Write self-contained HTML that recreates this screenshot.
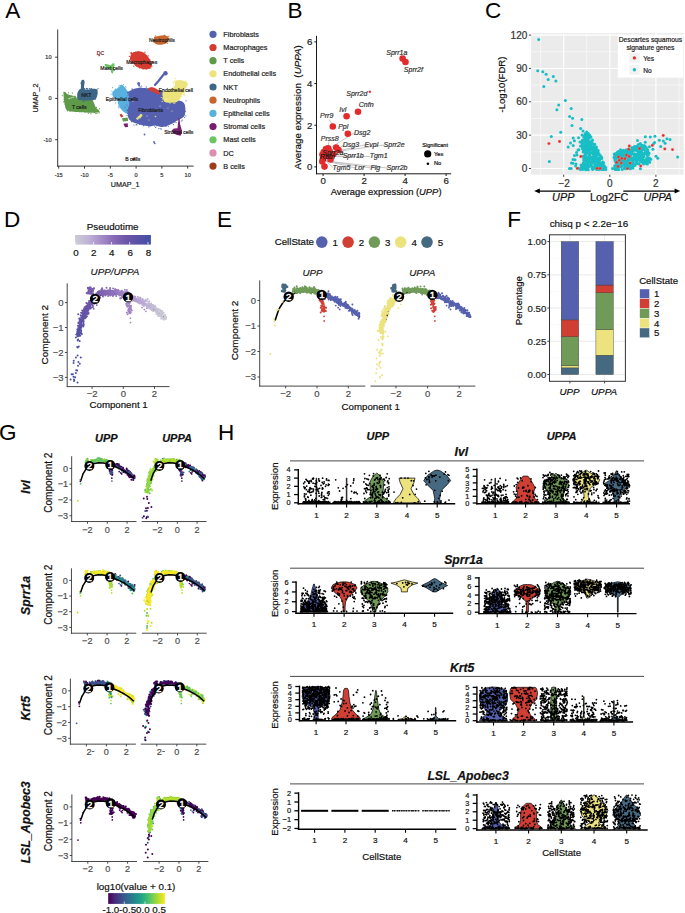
<!DOCTYPE html>
<html><head><meta charset="utf-8"><style>
html,body{margin:0;padding:0;background:#fff;overflow:hidden;width:685px;height:913px;}
svg{display:block;}
text{font-family:"Liberation Sans",sans-serif;}
</style></head><body>
<svg width="685" height="913" viewBox="0 0 685 913">
<rect width="685" height="913" fill="#fff"/>
<text x="5.30" y="17.70" font-size="22.5" text-anchor="start" fill="#000">A</text>
<text x="287.60" y="17.70" font-size="22.5" text-anchor="start" fill="#000">B</text>
<text x="485.00" y="17.70" font-size="22.5" text-anchor="start" fill="#000">C</text>
<text x="4.00" y="227.00" font-size="22.5" text-anchor="start" fill="#000">D</text>
<text x="216.90" y="226.80" font-size="22.5" text-anchor="start" fill="#000">E</text>
<text x="507.20" y="226.90" font-size="22.5" text-anchor="start" fill="#000">F</text>
<text x="-1.00" y="439.50" font-size="22.5" text-anchor="start" fill="#000">G</text>
<text x="218.00" y="439.50" font-size="22.5" text-anchor="start" fill="#000">H</text>
<path d="M112.2,93.0 C112.4,91.8 113.5,90.9 114.6,90.0 C115.6,89.1 117.5,88.6 118.5,87.8 C119.5,87.0 120.0,85.3 120.8,85.0 C121.6,84.7 122.4,84.9 123.4,85.8 C124.4,86.7 126.0,89.1 127.0,90.4 C128.0,91.7 128.7,91.9 129.2,93.4 C129.7,94.9 129.7,97.3 129.9,99.2 C130.2,101.1 130.6,103.1 130.7,105.0 C130.8,106.9 130.7,109.0 130.2,110.4 C129.7,111.8 128.4,112.9 127.5,113.3 C126.5,113.7 125.7,113.4 124.5,112.6 C123.3,111.8 121.5,109.9 120.5,108.5 C119.5,107.1 118.8,105.5 118.2,104.0 C117.7,102.5 118.0,100.3 117.2,99.2 C116.4,98.1 114.3,98.2 113.5,97.2 C112.7,96.2 112.0,94.2 112.2,93.0Z" fill="#58b0de"/>
<path d="M118.8 106.2h0M126.1 90.7h0M119.2 85.3h0M130.4 95.5h0M127.9 92.0h0M126.8 111.2h0M118.7 87.1h0M111.1 94.2h0M121.1 85.4h0M116.7 92.3h0M125.7 93.8h0M128.9 92.9h0M112.0 91.2h0M118.8 102.5h0M118.8 106.9h0M115.5 89.2h0M123.6 84.5h0M125.6 86.8h0M125.1 88.9h0M125.9 87.1h0M129.1 100.0h0M132.5 105.9h0M128.3 92.4h0M115.0 90.1h0M120.3 105.2h0M130.9 92.0h0M119.1 107.8h0M129.4 105.6h0M127.6 111.2h0M126.9 102.8h0M116.1 98.1h0M129.5 111.3h0M126.6 93.0h0M117.6 98.6h0M115.7 102.9h0M116.0 99.6h0M112.6 87.6h0M128.6 96.4h0M130.2 105.7h0M131.5 100.0h0" stroke="#58b0de" stroke-width="1.20" stroke-linecap="round" fill="none"/>
<path d="M128.5,91.9 C129.3,91.2 131.8,89.7 133.6,89.0 C135.4,88.3 137.2,87.9 139.4,87.8 C141.6,87.7 144.8,88.1 146.7,88.2 C148.6,88.3 149.3,88.0 151.0,88.2 C152.7,88.4 155.0,88.9 157.0,89.5 C159.0,90.1 161.3,91.1 162.8,92.0 C164.3,92.9 164.6,94.0 166.0,95.0 C167.4,96.0 169.2,97.2 171.0,98.0 C172.8,98.8 175.2,99.4 177.0,100.0 C178.8,100.6 180.8,100.8 182.0,101.5 C183.2,102.2 183.9,102.7 184.5,104.0 C185.1,105.3 185.4,107.5 185.4,109.4 C185.4,111.3 185.3,113.8 184.7,115.3 C184.1,116.8 183.0,117.3 181.8,118.2 C180.6,119.1 179.1,119.4 177.4,120.4 C175.7,121.4 173.4,123.0 171.5,124.0 C169.6,125.0 167.4,125.7 165.7,126.2 C164.0,126.7 163.0,127.1 161.3,127.0 C159.6,126.9 157.2,125.6 155.5,125.5 C153.8,125.4 152.9,126.2 151.0,126.2 C149.1,126.2 146.0,125.9 143.8,125.5 C141.6,125.1 139.9,124.6 138.0,124.0 C136.1,123.4 133.7,122.8 132.1,121.8 C130.5,120.8 129.2,120.0 128.5,118.2 C127.8,116.4 127.6,113.1 127.7,110.9 C127.8,108.7 128.9,107.0 129.2,105.0 C129.4,103.0 129.3,101.1 129.2,99.2 C129.1,97.3 128.6,94.6 128.5,93.4 C128.4,92.2 127.7,92.6 128.5,91.9Z" fill="#5561b0"/>
<path d="M129.0 91.6h0M186.0 100.8h0M166.1 126.1h0M127.5 119.6h0M144.9 124.0h0M127.9 110.6h0M125.0 107.4h0M185.8 115.8h0M133.9 125.0h0M128.0 95.1h0M182.5 116.8h0M128.2 92.9h0M136.9 124.7h0M156.1 124.9h0M171.8 120.2h0M143.7 125.7h0M181.4 121.0h0M141.7 86.1h0M165.7 126.5h0M171.6 98.1h0M132.1 88.8h0M175.8 101.0h0M184.6 117.5h0M171.5 99.9h0M165.9 95.5h0M129.2 101.2h0M156.3 89.8h0M127.1 115.4h0M127.0 105.1h0M155.2 122.7h0M129.0 108.0h0M146.3 86.9h0M131.8 90.0h0M129.0 107.7h0M130.8 105.5h0M163.4 89.6h0M183.2 104.4h0M131.9 93.8h0M127.4 92.6h0M176.1 122.5h0M153.6 124.3h0M131.5 106.6h0M155.7 127.4h0M127.5 113.3h0M167.5 124.7h0M182.3 120.1h0M162.0 91.7h0M135.1 92.0h0M149.9 125.9h0M158.8 128.5h0M140.1 86.9h0M140.8 89.4h0M173.4 124.6h0M167.5 97.4h0M149.3 90.6h0M154.5 88.3h0M141.1 123.4h0M166.5 125.6h0M168.1 95.2h0M168.3 126.5h0M160.3 128.8h0M132.2 89.6h0M138.6 91.0h0M141.3 124.6h0M131.5 121.7h0M136.1 124.9h0M130.7 91.3h0M128.2 97.9h0M185.5 111.3h0M129.7 93.3h0M126.8 110.1h0M139.9 121.3h0M183.7 106.2h0M161.5 129.1h0M127.4 110.1h0M134.6 89.3h0M127.8 92.3h0M143.5 125.1h0M145.3 88.3h0M174.7 121.9h0M182.4 115.9h0M166.3 96.2h0M149.9 88.8h0M154.4 126.1h0M156.9 125.8h0M148.8 126.9h0M139.7 124.4h0M128.8 110.9h0M143.8 89.6h0M179.5 102.1h0" stroke="#5561b0" stroke-width="1.20" stroke-linecap="round" fill="none"/>
<path d="M155,85 L158.5,81 L162,76.5 L164.5,73.5" fill="none" stroke="#5561b0" stroke-width="2.2" stroke-linecap="round"/>
<circle cx="165.50" cy="73.20" r="2.20" fill="#5561b0"/>
<circle cx="138.60" cy="83.50" r="1.50" fill="#5561b0"/>
<circle cx="139.00" cy="85.50" r="1.00" fill="#5561b0"/>
<path d="M183,106 L183.5,103" fill="none" stroke="#5561b0" stroke-width="1.2"/>
<circle cx="144.50" cy="134.50" r="0.90" fill="#5561b0"/>
<circle cx="154.00" cy="142.00" r="0.90" fill="#5561b0"/>
<circle cx="154.70" cy="143.30" r="0.90" fill="#5561b0"/>
<path d="M162.8,91.9 C163.8,90.9 166.7,91.4 168.6,90.4 C170.5,89.4 173.4,87.7 174.5,86.1 C175.6,84.5 174.3,82.0 175.2,81.0 C176.0,80.0 177.8,80.1 179.6,80.2 C181.4,80.3 184.8,81.0 186.1,81.7 C187.4,82.4 187.7,83.4 187.6,84.6 C187.5,85.8 185.9,87.8 185.4,89.0 C184.9,90.2 185.3,90.9 184.7,91.9 C184.1,92.9 182.7,93.6 181.8,94.8 C181.0,96.0 180.6,98.0 179.6,99.2 C178.6,100.4 177.5,101.5 175.9,102.1 C174.3,102.7 172.1,102.9 170.1,102.8 C168.1,102.7 165.4,102.5 164.2,101.4 C163.0,100.3 163.0,97.9 162.8,96.3 C162.6,94.7 161.8,92.9 162.8,91.9Z" fill="#ede37b"/>
<path d="M185.9 81.1h0M162.2 101.4h0M169.1 89.1h0M174.9 102.9h0M173.8 103.2h0M174.3 81.0h0M162.6 98.9h0M184.4 93.7h0M177.8 81.9h0M180.0 96.3h0M184.7 87.5h0M165.3 101.5h0M186.8 85.1h0M179.9 80.9h0M175.4 78.7h0M174.7 81.1h0M184.2 95.7h0M180.7 80.8h0M182.0 80.3h0M173.1 88.6h0M177.7 99.8h0M176.2 101.4h0M172.8 82.2h0M163.0 97.6h0M181.3 96.6h0M183.2 91.8h0M184.7 85.3h0M175.0 102.1h0M163.1 95.6h0M173.5 83.1h0M181.7 94.9h0M163.5 95.2h0M170.0 103.1h0M161.3 97.5h0M180.9 94.4h0M163.4 94.6h0M165.3 94.7h0M176.9 101.2h0M184.1 94.6h0M183.6 94.5h0" stroke="#ede37b" stroke-width="1.20" stroke-linecap="round" fill="none"/>
<circle cx="139.50" cy="117.00" r="1.60" fill="#ede37b"/>
<circle cx="141.00" cy="115.50" r="1.40" fill="#ede37b"/>
<circle cx="137.50" cy="118.50" r="1.20" fill="#ede37b"/>
<circle cx="155.50" cy="116.50" r="0.80" fill="#ede37b"/>
<circle cx="149.00" cy="120.00" r="0.60" fill="#ede37b"/>
<circle cx="158.00" cy="111.00" r="0.60" fill="#ede37b"/>
<circle cx="172.00" cy="111.00" r="0.60" fill="#ede37b"/>
<circle cx="168.00" cy="108.00" r="0.50" fill="#ede37b"/>
<circle cx="133.00" cy="101.00" r="0.60" fill="#ffffff"/>
<circle cx="160.00" cy="106.00" r="0.50" fill="#ffffff"/>
<circle cx="166.00" cy="99.00" r="0.60" fill="#ffffff"/>
<circle cx="147.00" cy="116.00" r="0.50" fill="#ffffff"/>
<polygon points="148.0,88.0 152.0,87.0 156.0,88.5 159.5,91.5 160.5,94.5 157.0,94.0 153.0,92.0 149.0,90.5" fill="#d13e33"/>
<path d="M130.9,55.0 C131.5,53.9 132.4,52.7 133.8,52.1 C135.2,51.5 137.9,51.3 139.6,51.4 C141.3,51.5 142.5,51.8 144.0,52.8 C145.5,53.8 147.2,55.6 148.4,57.2 C149.6,58.8 150.8,60.7 151.3,62.3 C151.8,63.9 151.8,65.6 151.3,66.7 C150.8,67.8 149.9,68.5 148.4,68.9 C146.9,69.3 144.6,69.3 142.6,68.9 C140.6,68.5 138.4,67.8 136.7,66.7 C135.0,65.6 133.4,63.6 132.3,62.3 C131.2,61.0 130.3,59.9 130.1,58.7 C129.9,57.5 130.3,56.1 130.9,55.0Z" fill="#d63b30"/>
<path d="M137.5 53.3h0M148.0 55.7h0M147.9 56.2h0M138.7 51.3h0M129.3 60.3h0M131.8 53.4h0M131.2 52.4h0M146.3 68.9h0M136.8 65.6h0M145.0 52.1h0M152.7 61.7h0M130.7 53.0h0M133.8 66.2h0M139.6 53.5h0M131.1 54.0h0M151.6 65.6h0M130.6 61.3h0M133.5 53.4h0M136.0 65.4h0M133.2 55.1h0M131.8 57.3h0M148.3 59.1h0M149.8 59.6h0M145.6 67.8h0M151.9 66.7h0M129.3 56.4h0M136.7 65.8h0M137.7 52.1h0M149.4 68.5h0M136.0 51.8h0M150.9 68.1h0M146.1 55.8h0M136.3 52.8h0M147.2 59.3h0M130.2 59.3h0M130.9 63.2h0M131.7 62.7h0M144.9 52.7h0M143.1 69.0h0M139.5 68.0h0" stroke="#d63b30" stroke-width="1.20" stroke-linecap="round" fill="none"/>
<path d="M153.4,40.5 C153.3,39.5 153.8,38.2 154.5,37.5 C155.2,36.8 156.3,36.5 157.5,36.2 C158.7,35.9 160.3,35.8 161.5,35.6 C162.7,35.4 163.6,35.1 164.5,35.2 C165.4,35.4 166.5,35.8 167.2,36.5 C167.9,37.2 168.5,38.5 168.6,39.5 C168.7,40.5 168.3,41.7 167.5,42.5 C166.7,43.3 165.0,43.8 163.5,44.2 C162.0,44.6 159.9,44.8 158.5,44.7 C157.1,44.6 155.8,44.2 155.0,43.5 C154.2,42.8 153.5,41.5 153.4,40.5Z" fill="#c8662f"/>
<path d="M155.1 37.2h0M156.3 37.1h0M168.3 38.6h0M155.7 35.8h0M153.1 39.9h0M163.8 35.9h0M154.5 37.4h0M164.8 35.2h0M153.5 40.6h0M168.1 37.2h0M154.8 39.1h0M154.8 37.8h0M167.3 43.5h0M167.5 36.8h0M153.9 41.8h0M153.9 40.0h0M168.9 36.1h0M168.2 38.5h0M166.8 37.0h0M169.8 38.2h0" stroke="#c8662f" stroke-width="1.20" stroke-linecap="round" fill="none"/>
<circle cx="99.20" cy="55.40" r="0.90" fill="#d04848"/>
<path d="M104.6,64.4 C104.8,63.8 107.0,64.2 108.0,64.4 C109.0,64.6 109.7,65.5 110.5,65.3 C111.3,65.1 111.9,63.6 112.6,63.4 C113.3,63.1 114.2,63.2 114.5,63.8 C114.8,64.4 114.3,66.0 114.2,67.0 C114.1,68.0 113.9,69.0 113.7,70.0 C113.5,71.0 113.2,72.8 112.8,73.3 C112.4,73.8 111.8,73.4 111.4,72.8 C111.0,72.2 111.1,70.6 110.4,69.8 C109.7,69.0 108.0,68.9 107.0,68.0 C106.0,67.1 104.4,65.0 104.6,64.4Z" fill="#6cc560"/>
<circle cx="114.30" cy="70.00" r="0.70" fill="#3a3ab0"/>
<path d="M63.8,91.5 C64.5,91.0 66.2,93.7 68.2,94.5 C70.2,95.3 73.9,95.9 75.5,96.6 C77.1,97.3 75.5,98.4 77.7,98.8 C79.9,99.2 86.0,98.4 88.6,98.8 C91.1,99.2 91.8,99.5 93.0,101.0 C94.2,102.5 94.8,105.9 95.9,107.6 C97.0,109.3 99.6,110.3 99.6,111.2 C99.6,112.1 97.7,112.5 95.9,112.7 C94.1,113.0 91.5,112.8 88.6,112.7 C85.7,112.6 81.6,112.2 78.4,112.0 C75.2,111.8 71.7,111.7 69.6,111.2 C67.5,110.7 66.8,110.3 66.0,109.0 C65.2,107.7 64.9,105.1 64.5,103.2 C64.1,101.3 63.9,99.4 63.8,97.4 C63.7,95.5 63.1,92.0 63.8,91.5Z" fill="#5e9a48"/>
<path d="M89.7 99.2h0M92.7 100.5h0M74.5 110.1h0M72.5 93.1h0M65.0 100.7h0M65.9 107.0h0M64.5 102.0h0M67.5 110.8h0M65.0 104.0h0M64.8 92.9h0M75.7 97.8h0M96.4 107.4h0M62.3 95.7h0M75.0 96.2h0M99.1 112.8h0M64.2 99.7h0M90.9 113.7h0M82.8 100.5h0M95.8 113.6h0M97.0 113.6h0M70.1 111.2h0M64.3 98.3h0M65.2 92.5h0M68.6 92.8h0M63.5 101.8h0M88.4 113.3h0M99.0 112.0h0M91.4 100.5h0M86.2 99.1h0M66.9 109.5h0M64.1 99.5h0M77.8 98.8h0M77.8 97.4h0M79.6 111.7h0M77.7 98.5h0M65.5 94.0h0M85.2 112.2h0M99.5 108.7h0M94.5 112.5h0M86.0 98.5h0" stroke="#5e9a48" stroke-width="1.20" stroke-linecap="round" fill="none"/>
<path d="M77.7,99.0 C77.0,97.8 77.2,94.5 77.5,93.0 C77.8,91.5 78.8,90.5 79.3,89.8 C79.8,89.1 80.5,89.6 80.8,88.6 C81.1,87.5 80.9,84.9 81.0,83.5 C81.1,82.1 81.2,80.8 81.6,80.2 C82.0,79.6 83.1,79.5 83.6,79.8 C84.1,80.1 84.5,80.6 84.6,82.0 C84.7,83.4 83.6,87.1 84.2,88.4 C84.8,89.7 86.7,89.5 88.0,89.6 C89.3,89.6 90.6,88.8 92.0,88.7 C93.4,88.6 95.6,88.7 96.6,89.2 C97.5,89.8 97.6,90.9 97.7,92.0 C97.8,93.1 97.5,94.7 97.1,96.0 C96.6,97.3 96.4,98.9 95.0,99.6 C93.6,100.3 90.8,100.3 88.6,100.4 C86.4,100.5 83.8,100.5 82.0,100.3 C80.2,100.1 78.5,100.2 77.7,99.0Z" fill="#3e6687"/>
<path d="M81.3 83.1h0M83.2 87.5h0M95.5 98.9h0M96.3 94.2h0M78.0 93.8h0M86.8 88.4h0M87.6 98.6h0M93.8 90.2h0M84.6 88.6h0M84.5 100.8h0M86.3 88.5h0M90.3 88.8h0M98.0 88.7h0M87.3 90.2h0M83.2 81.6h0M83.0 101.3h0M91.5 88.7h0M80.0 99.3h0M90.6 99.6h0M96.9 89.9h0M80.9 83.2h0M82.9 80.9h0M89.3 88.5h0M87.6 88.9h0M79.8 90.6h0" stroke="#3e6687" stroke-width="1.20" stroke-linecap="round" fill="none"/>
<rect x="68.50" y="98.20" width="1.30" height="0.90" fill="#fff"/>
<rect x="70.50" y="97.50" width="1.30" height="0.90" fill="#fff"/>
<rect x="72.50" y="96.80" width="1.30" height="0.90" fill="#fff"/>
<polygon points="171.5,130.5 174.0,128.5 177.5,128.3 178.2,122.0 178.5,118.0 179.6,118.5 180.0,124.0 181.5,129.0 182.0,133.0 180.5,135.7 177.0,135.0 173.5,133.5" fill="#7a1e6e"/>
<polygon points="119.5,114.5 121.5,113.8 123.5,116.5 121.0,117.5" fill="#d13e33"/>
<polygon points="121.9,118.2 127.7,117.5 128.0,121.0 123.0,121.5" fill="#5e9a48"/>
<polygon points="123.4,123.8 127.7,123.2 128.0,127.0 125.0,127.3" fill="#7a1e6e"/>
<ellipse cx="133.7" cy="158.8" rx="2.1" ry="1.1" fill="#9c3d1d" transform="rotate(-30 133.7 158.8)"/>
<text x="162.00" y="41.80" font-size="5.1" text-anchor="middle" fill="#1a1a1a" stroke="#1a1a1a" stroke-width="0.2">Neutrophils</text>
<text x="141.80" y="64.20" font-size="5.1" text-anchor="middle" fill="#1a1a1a" stroke="#1a1a1a" stroke-width="0.2">Macrophages</text>
<text x="111.60" y="69.50" font-size="5.1" text-anchor="middle" fill="#1a1a1a" stroke="#1a1a1a" stroke-width="0.2">Mast cells</text>
<text x="86.30" y="96.80" font-size="5.1" text-anchor="middle" fill="#1a1a1a" stroke="#1a1a1a" stroke-width="0.2">NKT</text>
<text x="79.20" y="108.50" font-size="5.1" text-anchor="middle" fill="#1a1a1a" stroke="#1a1a1a" stroke-width="0.2">T cells</text>
<text x="122.00" y="100.60" font-size="5.1" text-anchor="middle" fill="#1a1a1a" stroke="#1a1a1a" stroke-width="0.2">Epithelial cells</text>
<text x="175.80" y="92.20" font-size="5.1" text-anchor="middle" fill="#1a1a1a" stroke="#1a1a1a" stroke-width="0.2">Endothelial cell</text>
<text x="150.60" y="112.40" font-size="5.1" text-anchor="middle" fill="#1a1a1a" stroke="#1a1a1a" stroke-width="0.2">Fibroblasts</text>
<text x="178.80" y="133.80" font-size="5.1" text-anchor="middle" fill="#1a1a1a" stroke="#1a1a1a" stroke-width="0.2">Stromal cells</text>
<text x="132.80" y="160.80" font-size="5.1" text-anchor="middle" fill="#1a1a1a" stroke="#1a1a1a" stroke-width="0.2">B cells</text>
<text x="100.50" y="55.00" font-size="5.1" text-anchor="middle" fill="#6b2030" stroke="#6b2030" stroke-width="0.2">DC</text>
<line x1="57.70" y1="29.50" x2="57.70" y2="166.60" stroke="#222" stroke-width="0.9"/>
<line x1="57.25" y1="166.10" x2="193.60" y2="166.10" stroke="#222" stroke-width="0.9"/>
<line x1="55.20" y1="57.20" x2="57.70" y2="57.20" stroke="#222" stroke-width="0.9"/>
<text x="51.50" y="59.20" font-size="5.6" text-anchor="end" fill="#333" stroke="#333" stroke-width="0.2">10</text>
<line x1="55.20" y1="98.40" x2="57.70" y2="98.40" stroke="#222" stroke-width="0.9"/>
<text x="51.50" y="100.40" font-size="5.6" text-anchor="end" fill="#333" stroke="#333" stroke-width="0.2">0</text>
<line x1="55.20" y1="139.70" x2="57.70" y2="139.70" stroke="#222" stroke-width="0.9"/>
<text x="51.50" y="141.70" font-size="5.6" text-anchor="end" fill="#333" stroke="#333" stroke-width="0.2">-10</text>
<line x1="58.70" y1="166.10" x2="58.70" y2="168.60" stroke="#222" stroke-width="0.9"/>
<text x="58.70" y="176.90" font-size="5.6" text-anchor="middle" fill="#333" stroke="#333" stroke-width="0.2">-15</text>
<line x1="84.50" y1="166.10" x2="84.50" y2="168.60" stroke="#222" stroke-width="0.9"/>
<text x="84.50" y="176.90" font-size="5.6" text-anchor="middle" fill="#333" stroke="#333" stroke-width="0.2">-10</text>
<line x1="110.30" y1="166.10" x2="110.30" y2="168.60" stroke="#222" stroke-width="0.9"/>
<text x="110.30" y="176.90" font-size="5.6" text-anchor="middle" fill="#333" stroke="#333" stroke-width="0.2">-5</text>
<line x1="136.10" y1="166.10" x2="136.10" y2="168.60" stroke="#222" stroke-width="0.9"/>
<text x="136.10" y="176.90" font-size="5.6" text-anchor="middle" fill="#333" stroke="#333" stroke-width="0.2">0</text>
<line x1="161.90" y1="166.10" x2="161.90" y2="168.60" stroke="#222" stroke-width="0.9"/>
<text x="161.90" y="176.90" font-size="5.6" text-anchor="middle" fill="#333" stroke="#333" stroke-width="0.2">5</text>
<line x1="187.70" y1="166.10" x2="187.70" y2="168.60" stroke="#222" stroke-width="0.9"/>
<text x="187.70" y="176.90" font-size="5.6" text-anchor="middle" fill="#333" stroke="#333" stroke-width="0.2">10</text>
<text x="125.20" y="186.60" font-size="7.2" text-anchor="middle" fill="#222" stroke="#222" stroke-width="0.2">UMAP_1</text>
<text x="37.80" y="98.00" font-size="7.3" text-anchor="middle" fill="#222" stroke="#222" stroke-width="0.2" transform="rotate(-90 37.80 98.00)">UMAP_2</text>
<circle cx="213.00" cy="34.30" r="3.60" fill="#5561b0"/>
<text x="223.30" y="36.90" font-size="7.3" text-anchor="start" fill="#222" stroke="#222" stroke-width="0.2">Fibroblasts</text>
<circle cx="213.00" cy="47.48" r="3.60" fill="#d63b30"/>
<text x="223.30" y="50.08" font-size="7.3" text-anchor="start" fill="#222" stroke="#222" stroke-width="0.2">Macrophages</text>
<circle cx="213.00" cy="60.66" r="3.60" fill="#5e9a48"/>
<text x="223.30" y="63.26" font-size="7.3" text-anchor="start" fill="#222" stroke="#222" stroke-width="0.2">T cells</text>
<circle cx="213.00" cy="73.84" r="3.60" fill="#ede37b"/>
<text x="223.30" y="76.44" font-size="7.3" text-anchor="start" fill="#222" stroke="#222" stroke-width="0.2">Endothelial cells</text>
<circle cx="213.00" cy="87.02" r="3.60" fill="#3e6687"/>
<text x="223.30" y="89.62" font-size="7.3" text-anchor="start" fill="#222" stroke="#222" stroke-width="0.2">NKT</text>
<circle cx="213.00" cy="100.20" r="3.60" fill="#c8662f"/>
<text x="223.30" y="102.80" font-size="7.3" text-anchor="start" fill="#222" stroke="#222" stroke-width="0.2">Neutrophils</text>
<circle cx="213.00" cy="113.38" r="3.60" fill="#58b0de"/>
<text x="223.30" y="115.98" font-size="7.3" text-anchor="start" fill="#222" stroke="#222" stroke-width="0.2">Epithelial cells</text>
<circle cx="213.00" cy="126.56" r="3.60" fill="#7a1e6e"/>
<text x="223.30" y="129.16" font-size="7.3" text-anchor="start" fill="#222" stroke="#222" stroke-width="0.2">Stromal cells</text>
<circle cx="213.00" cy="139.74" r="3.60" fill="#6cc560"/>
<text x="223.30" y="142.34" font-size="7.3" text-anchor="start" fill="#222" stroke="#222" stroke-width="0.2">Mast cells</text>
<circle cx="213.00" cy="152.92" r="3.60" fill="#dd8fae"/>
<text x="223.30" y="155.52" font-size="7.3" text-anchor="start" fill="#222" stroke="#222" stroke-width="0.2">DC</text>
<circle cx="213.00" cy="166.10" r="3.60" fill="#9c3d1d"/>
<text x="223.30" y="168.70" font-size="7.3" text-anchor="start" fill="#222" stroke="#222" stroke-width="0.2">B cells</text>
<line x1="329.60" y1="148.40" x2="354.00" y2="133.00" stroke="#bdbdbd" stroke-width="0.9"/>
<line x1="327.50" y1="149.00" x2="329.00" y2="141.50" stroke="#bdbdbd" stroke-width="0.9"/>
<line x1="333.00" y1="152.00" x2="343.00" y2="145.50" stroke="#bdbdbd" stroke-width="0.9"/>
<line x1="333.00" y1="152.00" x2="365.00" y2="144.80" stroke="#bdbdbd" stroke-width="0.9"/>
<line x1="333.00" y1="152.00" x2="384.00" y2="145.00" stroke="#bdbdbd" stroke-width="0.9"/>
<line x1="330.00" y1="156.00" x2="343.00" y2="156.50" stroke="#bdbdbd" stroke-width="0.9"/>
<line x1="330.00" y1="156.00" x2="370.00" y2="156.50" stroke="#bdbdbd" stroke-width="0.9"/>
<line x1="326.00" y1="161.00" x2="333.00" y2="167.60" stroke="#bdbdbd" stroke-width="0.9"/>
<line x1="326.00" y1="161.00" x2="355.00" y2="167.80" stroke="#bdbdbd" stroke-width="0.9"/>
<line x1="326.00" y1="161.00" x2="371.00" y2="168.00" stroke="#bdbdbd" stroke-width="0.9"/>
<line x1="326.00" y1="161.00" x2="387.00" y2="168.00" stroke="#bdbdbd" stroke-width="0.9"/>
<line x1="329.00" y1="119.50" x2="332.30" y2="124.60" stroke="#bdbdbd" stroke-width="0.9"/>
<circle cx="402.60" cy="58.60" r="3.30" fill="#e32b2b"/>
<circle cx="405.50" cy="62.00" r="3.30" fill="#e32b2b"/>
<circle cx="358.00" cy="111.80" r="3.30" fill="#e32b2b"/>
<circle cx="346.60" cy="116.20" r="3.30" fill="#e32b2b"/>
<circle cx="332.80" cy="126.50" r="3.30" fill="#e32b2b"/>
<circle cx="347.80" cy="133.80" r="3.30" fill="#e32b2b"/>
<circle cx="326.00" cy="149.10" r="3.30" fill="#e32b2b"/>
<circle cx="328.10" cy="148.40" r="3.30" fill="#e32b2b"/>
<circle cx="336.20" cy="147.60" r="3.30" fill="#e32b2b"/>
<circle cx="338.50" cy="150.00" r="3.30" fill="#e32b2b"/>
<circle cx="323.80" cy="152.00" r="3.30" fill="#e32b2b"/>
<circle cx="323.00" cy="158.60" r="3.30" fill="#e32b2b"/>
<circle cx="322.30" cy="161.50" r="3.30" fill="#e32b2b"/>
<circle cx="324.50" cy="166.60" r="3.30" fill="#e32b2b"/>
<circle cx="329.60" cy="151.30" r="3.30" fill="#e32b2b"/>
<circle cx="333.20" cy="154.20" r="3.30" fill="#e32b2b"/>
<circle cx="327.00" cy="155.50" r="3.30" fill="#e32b2b"/>
<circle cx="324.00" cy="156.00" r="3.30" fill="#e32b2b"/>
<circle cx="330.50" cy="159.50" r="3.30" fill="#e32b2b"/>
<circle cx="322.50" cy="154.60" r="3.30" fill="#e32b2b"/>
<circle cx="369.80" cy="91.80" r="1.20" fill="#e32b2b"/>
<text x="396.80" y="54.90" font-size="7.0" text-anchor="middle" fill="#333" stroke="#333" stroke-width="0.2" font-style="italic">Sprr1a</text>
<text x="413.40" y="72.30" font-size="7.0" text-anchor="middle" fill="#333" stroke="#333" stroke-width="0.2" font-style="italic">Sprr2f</text>
<text x="356.80" y="96.30" font-size="7.0" text-anchor="middle" fill="#333" stroke="#333" stroke-width="0.2" font-style="italic">Sprr2d</text>
<text x="366.20" y="107.30" font-size="7.0" text-anchor="middle" fill="#333" stroke="#333" stroke-width="0.2" font-style="italic">Cnfn</text>
<text x="342.80" y="112.30" font-size="7.0" text-anchor="middle" fill="#333" stroke="#333" stroke-width="0.2" font-style="italic">Ivl</text>
<text x="326.70" y="117.60" font-size="7.0" text-anchor="middle" fill="#333" stroke="#333" stroke-width="0.2" font-style="italic">Prr9</text>
<text x="343.20" y="129.30" font-size="7.0" text-anchor="middle" fill="#333" stroke="#333" stroke-width="0.2" font-style="italic">Ppl</text>
<text x="354.00" y="134.70" font-size="7.0" text-anchor="start" fill="#333" stroke="#333" stroke-width="0.2" font-style="italic">Dsg2</text>
<text x="320.80" y="141.30" font-size="7.0" text-anchor="start" fill="#333" stroke="#333" stroke-width="0.2" font-style="italic">Prss8</text>
<text x="342.70" y="146.80" font-size="7.0" text-anchor="start" fill="#333" stroke="#333" stroke-width="0.2" font-style="italic">Dsg3</text>
<text x="364.60" y="146.80" font-size="7.0" text-anchor="start" fill="#333" stroke="#333" stroke-width="0.2" font-style="italic">Evpl</text>
<text x="383.60" y="146.80" font-size="7.0" text-anchor="start" fill="#333" stroke="#333" stroke-width="0.2" font-style="italic">Sprr2e</text>
<text x="342.70" y="158.40" font-size="7.0" text-anchor="start" fill="#333" stroke="#333" stroke-width="0.2" font-style="italic">Sprr1b</text>
<text x="369.70" y="158.40" font-size="7.0" text-anchor="start" fill="#333" stroke="#333" stroke-width="0.2" font-style="italic">Tgm1</text>
<text x="332.50" y="170.10" font-size="7.0" text-anchor="start" fill="#333" stroke="#333" stroke-width="0.2" font-style="italic">Tgm5</text>
<text x="354.40" y="170.10" font-size="7.0" text-anchor="start" fill="#333" stroke="#333" stroke-width="0.2" font-style="italic">Lor</text>
<text x="370.50" y="170.10" font-size="7.0" text-anchor="start" fill="#333" stroke="#333" stroke-width="0.2" font-style="italic">Flg</text>
<text x="386.50" y="170.10" font-size="7.0" text-anchor="start" fill="#333" stroke="#333" stroke-width="0.2" font-style="italic">Sprr2b</text>
<text x="322.30" y="155.00" font-size="7.0" text-anchor="start" fill="#222" stroke="#222" stroke-width="0.2" font-style="italic">Sprr2a</text>
<text x="320.10" y="159.40" font-size="7.0" text-anchor="start" fill="#111" stroke="#111" stroke-width="0.2" font-style="italic">Rptn</text>
<line x1="316.50" y1="35.80" x2="316.50" y2="174.25" stroke="#000" stroke-width="0.9"/>
<line x1="316.05" y1="173.80" x2="451.20" y2="173.80" stroke="#000" stroke-width="0.9"/>
<line x1="314.30" y1="166.90" x2="316.50" y2="166.90" stroke="#000" stroke-width="0.9"/>
<text x="312.50" y="170.40" font-size="9.7" text-anchor="end" fill="#222" stroke="#222" stroke-width="0.2">0</text>
<line x1="323.10" y1="173.80" x2="323.10" y2="176.00" stroke="#000" stroke-width="0.9"/>
<text x="323.10" y="184.30" font-size="9.7" text-anchor="middle" fill="#222" stroke="#222" stroke-width="0.2">0</text>
<line x1="314.30" y1="125.24" x2="316.50" y2="125.24" stroke="#000" stroke-width="0.9"/>
<text x="312.50" y="128.74" font-size="9.7" text-anchor="end" fill="#222" stroke="#222" stroke-width="0.2">2</text>
<line x1="364.10" y1="173.80" x2="364.10" y2="176.00" stroke="#000" stroke-width="0.9"/>
<text x="364.10" y="184.30" font-size="9.7" text-anchor="middle" fill="#222" stroke="#222" stroke-width="0.2">2</text>
<line x1="314.30" y1="83.58" x2="316.50" y2="83.58" stroke="#000" stroke-width="0.9"/>
<text x="312.50" y="87.08" font-size="9.7" text-anchor="end" fill="#222" stroke="#222" stroke-width="0.2">4</text>
<line x1="405.10" y1="173.80" x2="405.10" y2="176.00" stroke="#000" stroke-width="0.9"/>
<text x="405.10" y="184.30" font-size="9.7" text-anchor="middle" fill="#222" stroke="#222" stroke-width="0.2">4</text>
<line x1="314.30" y1="41.92" x2="316.50" y2="41.92" stroke="#000" stroke-width="0.9"/>
<text x="312.50" y="45.42" font-size="9.7" text-anchor="end" fill="#222" stroke="#222" stroke-width="0.2">6</text>
<line x1="446.10" y1="173.80" x2="446.10" y2="176.00" stroke="#000" stroke-width="0.9"/>
<text x="446.10" y="184.30" font-size="9.7" text-anchor="middle" fill="#222" stroke="#222" stroke-width="0.2">6</text>
<text x="386.1" y="195.0" font-size="9.4" text-anchor="middle" fill="#111" stroke="#111" stroke-width="0.2">Average expression (<tspan font-style="italic">UPP</tspan>)</text>
<text x="301.4" y="107.3" font-size="9.8" text-anchor="middle" fill="#111" stroke="#111" stroke-width="0.2" transform="rotate(-90 301.4 107.3)">Average expression&#160;&#160;(<tspan font-style="italic">UPPA</tspan>)</text>
<text x="422.20" y="146.80" font-size="5.6" text-anchor="start" fill="#111" stroke="#111" stroke-width="0.2">Significant</text>
<circle cx="427.70" cy="153.90" r="3.60" fill="#000"/>
<text x="434.00" y="155.60" font-size="5.7" text-anchor="start" fill="#111" stroke="#111" stroke-width="0.2">Yes</text>
<circle cx="427.90" cy="163.80" r="1.30" fill="#000"/>
<text x="434.00" y="165.40" font-size="5.7" text-anchor="start" fill="#111" stroke="#111" stroke-width="0.2">No</text>
<rect x="531.10" y="33.10" width="152.50" height="141.60" fill="#ebebeb"/>
<line x1="540.65" y1="33.10" x2="540.65" y2="174.70" stroke="#fff" stroke-width="0.55"/>
<line x1="586.75" y1="33.10" x2="586.75" y2="174.70" stroke="#fff" stroke-width="0.55"/>
<line x1="632.85" y1="33.10" x2="632.85" y2="174.70" stroke="#fff" stroke-width="0.55"/>
<line x1="678.95" y1="33.10" x2="678.95" y2="174.70" stroke="#fff" stroke-width="0.55"/>
<line x1="531.10" y1="151.82" x2="683.60" y2="151.82" stroke="#fff" stroke-width="0.55"/>
<line x1="531.10" y1="118.47" x2="683.60" y2="118.47" stroke="#fff" stroke-width="0.55"/>
<line x1="531.10" y1="85.12" x2="683.60" y2="85.12" stroke="#fff" stroke-width="0.55"/>
<line x1="531.10" y1="51.77" x2="683.60" y2="51.77" stroke="#fff" stroke-width="0.55"/>
<line x1="563.70" y1="33.10" x2="563.70" y2="174.70" stroke="#fff" stroke-width="1.1"/>
<line x1="609.80" y1="33.10" x2="609.80" y2="174.70" stroke="#fff" stroke-width="1.1"/>
<line x1="655.90" y1="33.10" x2="655.90" y2="174.70" stroke="#fff" stroke-width="1.1"/>
<line x1="531.10" y1="168.50" x2="683.60" y2="168.50" stroke="#fff" stroke-width="1.1"/>
<line x1="531.10" y1="135.15" x2="683.60" y2="135.15" stroke="#fff" stroke-width="1.1"/>
<line x1="531.10" y1="101.80" x2="683.60" y2="101.80" stroke="#fff" stroke-width="1.1"/>
<line x1="531.10" y1="68.45" x2="683.60" y2="68.45" stroke="#fff" stroke-width="1.1"/>
<line x1="531.10" y1="35.10" x2="683.60" y2="35.10" stroke="#fff" stroke-width="1.1"/>
<path d="M591.8 152.9h0M593.2 154.0h0M584.8 151.1h0M596.4 161.9h0M582.4 143.1h0M605.5 168.5h0M597.0 155.1h0M584.9 140.8h0M591.5 163.8h0M593.5 156.0h0M593.0 156.9h0M591.9 142.2h0M605.9 169.6h0M601.8 158.6h0M588.2 140.3h0M587.5 134.2h0M582.3 144.2h0M583.1 140.9h0M594.5 148.6h0M585.0 159.5h0M583.4 156.2h0M583.0 147.6h0M585.5 141.8h0M587.9 165.4h0M585.5 146.6h0M582.6 169.4h0M585.5 141.4h0M587.7 134.3h0M586.3 154.5h0M589.7 148.9h0M594.9 164.7h0M584.8 137.4h0M603.6 162.8h0M586.5 138.8h0M599.2 167.5h0M585.1 167.9h0M581.0 168.4h0M586.2 158.5h0M586.7 163.0h0M584.6 159.1h0M594.5 164.1h0M584.6 145.6h0M589.4 165.6h0M598.0 153.9h0M598.2 168.4h0M592.5 159.5h0M588.3 169.8h0M599.2 166.0h0M599.2 158.5h0M600.6 166.5h0M589.1 157.7h0M603.4 164.9h0M590.8 161.8h0M595.1 154.8h0M599.1 153.8h0M591.5 163.6h0M592.5 140.3h0M598.2 150.5h0M596.0 166.8h0M586.7 131.9h0M587.8 157.5h0M585.3 138.0h0M591.5 165.7h0M588.5 157.0h0M585.2 148.0h0M601.0 166.5h0M583.5 150.5h0M601.8 164.0h0M598.5 167.9h0M587.2 138.0h0M591.7 142.0h0M585.6 147.4h0M596.3 150.4h0M588.2 163.6h0M598.4 153.4h0M588.0 161.8h0M596.4 148.6h0M596.4 156.6h0M601.0 168.2h0M587.1 144.7h0M598.1 151.4h0M596.0 160.5h0M590.2 161.8h0M583.4 148.9h0M596.3 166.4h0M589.8 153.3h0M602.9 162.0h0M598.8 162.8h0M596.7 159.0h0M585.5 166.0h0M605.5 168.9h0M594.0 161.8h0M588.3 166.4h0M582.2 148.4h0M594.3 160.9h0M588.7 161.7h0M583.7 137.2h0M593.4 159.2h0M601.8 157.9h0M585.8 151.7h0M587.5 159.4h0M596.6 151.5h0M588.1 146.1h0M602.0 166.0h0M585.4 164.1h0M593.9 150.8h0M590.4 162.2h0M594.6 150.3h0M594.0 147.3h0M604.9 166.9h0M587.0 149.6h0M583.3 148.1h0M601.2 166.0h0M592.4 143.6h0M585.0 155.2h0M585.0 140.2h0M589.2 155.2h0M583.2 151.1h0M586.5 139.1h0M593.8 148.2h0M589.8 147.3h0M585.3 155.7h0M596.6 151.8h0M599.3 162.5h0M588.2 166.8h0M585.7 169.7h0M586.2 159.3h0M586.7 135.2h0M590.5 157.7h0M597.7 166.4h0M593.1 160.5h0M593.1 157.8h0M584.9 134.2h0M594.3 151.2h0M584.8 139.3h0M601.8 169.4h0M581.6 167.9h0M592.0 160.8h0M588.5 149.4h0M593.4 148.0h0M598.2 163.8h0M584.7 148.9h0M585.1 137.8h0M603.2 162.2h0M598.3 164.5h0M596.4 147.0h0M595.6 150.8h0M586.7 166.4h0M599.4 161.3h0M603.3 165.2h0M598.1 160.9h0M588.9 149.5h0M596.6 155.4h0M586.0 167.7h0M597.2 153.3h0M593.9 146.4h0M598.2 160.7h0M596.0 159.8h0M586.7 146.9h0M589.8 135.3h0M586.5 166.2h0M594.3 150.9h0M595.5 160.6h0M581.2 167.1h0M584.2 149.6h0M584.4 150.5h0M593.7 154.4h0M589.5 142.4h0M597.0 153.0h0M587.4 158.9h0M586.4 133.1h0M584.1 160.4h0M590.1 165.9h0M605.7 167.7h0M581.9 166.2h0M591.2 149.8h0M593.6 167.4h0M596.2 149.0h0M585.3 133.5h0M591.5 157.1h0M591.8 141.5h0M595.1 147.6h0M605.9 168.0h0M583.0 165.7h0M600.4 155.4h0M589.3 141.9h0M597.8 153.1h0M595.4 155.7h0M586.5 169.0h0M603.8 165.2h0M587.0 147.8h0M594.3 155.7h0M589.7 149.8h0M585.5 144.7h0M599.4 163.6h0M591.0 141.4h0M597.0 169.4h0M588.5 152.5h0M599.4 166.8h0M591.1 145.6h0M582.5 165.0h0M594.7 150.1h0M585.5 156.9h0M582.1 143.1h0M598.8 158.1h0M587.4 137.0h0M589.3 159.3h0M589.5 136.0h0M598.4 153.3h0M603.9 167.5h0M588.3 146.8h0M604.3 165.8h0M586.5 145.4h0M589.5 145.4h0M590.3 146.3h0M585.1 153.1h0M584.6 160.6h0M594.1 153.2h0M594.2 161.7h0M599.2 165.9h0M583.7 160.1h0M585.7 160.8h0M593.6 160.8h0M590.3 144.4h0M592.8 152.1h0M598.7 158.6h0M601.5 157.0h0M602.2 162.4h0M601.7 165.5h0M593.6 158.7h0M590.9 137.1h0M599.3 169.5h0M589.8 137.9h0M585.3 147.8h0M587.6 168.6h0M583.0 156.3h0M595.2 166.3h0M584.8 139.8h0M586.1 159.0h0M584.8 142.3h0M584.5 160.5h0M588.1 152.5h0M586.8 165.5h0M594.2 168.2h0M592.5 140.0h0M581.3 167.8h0M593.7 151.3h0M587.1 169.4h0M589.7 162.0h0M598.5 154.7h0M584.1 137.5h0M588.4 141.4h0M596.6 169.5h0M586.9 152.0h0M583.9 161.0h0M602.0 163.0h0M582.1 141.8h0M592.5 149.4h0M594.1 151.6h0M584.1 163.4h0M588.1 143.4h0M582.0 143.2h0M592.1 158.9h0M589.4 157.8h0M582.7 146.6h0M592.0 168.5h0M594.7 149.0h0M580.3 169.5h0M589.8 152.2h0M587.8 144.4h0M590.2 157.0h0M586.7 139.2h0M597.6 158.6h0M584.7 146.9h0M582.3 140.2h0M584.1 136.3h0M593.3 156.3h0M599.9 162.9h0M590.0 144.2h0M590.4 158.3h0M597.2 154.8h0M588.9 156.4h0M582.8 146.0h0M593.2 161.7h0M584.1 160.9h0M589.2 150.7h0M583.7 158.8h0M598.6 163.5h0M585.1 167.7h0M582.2 140.9h0M595.0 158.2h0M588.6 167.1h0M589.4 149.2h0M583.2 168.8h0M583.5 166.1h0M594.1 153.0h0M603.6 169.5h0M583.2 163.1h0M587.5 165.9h0M586.3 153.5h0M605.7 167.5h0M597.5 159.8h0M589.9 154.2h0M585.2 149.4h0M583.7 146.3h0M594.8 144.2h0M592.2 147.3h0M596.2 157.9h0M599.7 160.3h0M592.6 169.6h0M601.8 164.2h0M590.6 148.1h0M594.7 166.2h0M593.7 151.6h0M591.2 166.1h0M588.3 133.6h0M598.9 166.0h0M599.0 154.4h0M583.2 148.6h0M593.1 146.7h0M588.0 146.6h0M586.1 134.1h0M603.7 168.5h0M597.3 164.7h0M591.0 162.3h0M585.8 160.1h0M594.7 166.1h0M583.2 152.1h0M586.3 143.0h0M588.4 133.9h0M578.8 149.8h0M576.5 152.5h0M574.5 155.5h0M573.0 159.4h0M571.4 162.9h0M580.5 146.0h0M581.0 165.0h0M578.5 168.3h0M575.6 166.0h0M628.9 152.5h0M615.2 167.0h0M625.6 156.3h0M631.8 148.5h0M625.1 167.6h0M645.5 152.5h0M631.8 147.6h0M621.6 159.9h0M621.2 166.5h0M641.3 151.4h0M640.8 146.6h0M622.4 151.2h0M640.7 148.2h0M639.0 164.1h0M628.0 160.7h0M647.3 158.8h0M622.6 151.0h0M648.8 160.8h0M624.4 160.1h0M617.4 169.2h0M630.6 157.1h0M636.5 150.6h0M623.4 164.4h0M642.4 149.6h0M624.5 157.6h0M621.0 167.0h0M631.4 163.0h0M628.5 167.8h0M632.8 147.8h0M634.9 160.2h0M627.5 160.6h0M643.4 156.8h0M633.0 165.6h0M639.7 156.9h0M643.3 147.4h0M636.9 149.3h0M630.6 163.6h0M622.9 156.1h0M622.3 158.5h0M636.4 162.1h0M614.7 156.2h0M630.3 154.8h0M623.9 164.3h0M616.7 167.2h0M635.4 157.5h0M643.8 149.4h0M619.5 151.3h0M637.4 157.0h0M624.0 158.7h0M617.3 164.9h0M620.5 149.8h0M620.0 161.4h0M616.3 154.0h0M632.4 163.3h0M631.1 162.9h0M628.8 151.0h0M615.3 169.6h0M642.7 162.6h0M634.8 149.5h0M631.4 167.9h0M627.7 152.0h0M650.9 159.3h0M615.5 153.8h0M638.4 144.6h0M626.9 161.5h0M646.5 158.8h0M647.3 155.4h0M628.8 165.5h0M628.3 163.9h0M622.1 152.3h0M620.9 157.7h0M622.1 155.5h0M625.6 154.9h0M646.4 148.5h0M640.0 152.7h0M620.8 150.0h0M628.8 167.7h0M640.9 150.2h0M642.8 162.3h0M626.1 153.3h0M617.1 166.6h0M626.2 163.6h0M628.8 149.4h0M625.7 154.3h0M634.5 146.6h0M640.6 150.0h0M641.3 160.8h0M624.5 162.0h0M629.2 153.3h0M646.6 149.0h0M625.0 152.2h0M614.9 159.8h0M635.3 164.6h0M622.1 161.4h0M646.7 149.3h0M637.8 145.4h0M630.1 153.5h0M616.3 153.2h0M626.3 156.3h0M629.1 155.7h0M620.3 160.8h0M626.9 154.3h0M619.7 158.6h0M640.4 157.8h0M640.3 143.6h0M628.7 152.7h0M616.4 153.8h0M616.1 156.2h0M636.0 155.5h0M626.2 149.8h0M647.5 158.1h0M623.8 160.8h0M621.0 155.5h0M627.6 158.4h0M637.6 159.6h0M629.5 154.1h0M624.4 165.2h0M647.1 153.2h0M619.1 156.5h0M625.6 152.6h0M639.6 149.3h0M614.0 157.5h0M628.8 149.4h0M632.6 160.4h0M634.6 159.7h0M635.1 165.2h0M627.0 166.7h0M625.8 162.1h0M640.1 161.3h0M620.0 159.6h0M632.4 158.1h0M627.9 150.6h0M642.2 157.3h0M617.8 161.8h0M618.2 155.1h0M643.0 155.8h0M620.1 166.1h0M623.5 156.5h0M643.9 153.5h0M640.9 149.7h0M640.9 151.7h0M626.6 163.3h0M635.3 154.2h0M640.6 159.6h0M618.7 153.1h0M639.2 149.2h0M639.9 154.2h0M637.7 153.6h0M615.8 162.0h0M624.8 162.5h0M634.4 155.9h0M628.0 151.3h0M624.7 153.5h0M637.2 163.4h0M640.1 157.6h0M644.1 146.9h0M635.3 146.8h0M637.5 150.3h0M622.6 155.9h0M627.8 149.9h0M647.6 151.3h0M621.6 166.2h0M632.2 154.1h0M644.3 153.6h0M616.2 157.7h0M638.7 159.6h0M624.4 168.1h0M630.7 165.3h0M641.3 147.7h0M627.5 163.1h0M625.7 156.7h0M633.8 164.6h0M643.8 162.6h0M629.0 164.4h0M640.5 149.7h0M635.7 149.1h0M628.6 152.9h0M627.7 160.0h0M627.3 150.5h0M648.0 151.6h0M617.5 151.9h0M641.9 148.6h0M641.9 157.6h0M639.6 147.7h0M627.2 154.5h0M614.4 156.4h0M629.2 151.6h0M621.7 166.5h0M626.1 163.1h0M618.1 169.4h0M630.2 168.7h0M622.3 153.9h0M640.5 147.7h0M624.3 161.1h0M620.9 152.5h0M637.9 153.1h0M638.2 148.7h0M646.2 159.8h0M633.0 158.2h0M618.3 165.4h0M639.9 155.1h0M639.0 154.2h0M628.5 149.1h0M636.6 158.3h0M637.6 154.9h0M636.3 158.9h0M641.7 151.4h0M629.1 166.2h0M618.8 169.4h0M632.5 149.3h0M645.6 160.3h0M644.0 156.7h0M646.7 162.0h0M623.4 164.6h0M631.1 157.3h0M646.5 148.2h0M624.5 160.2h0M616.8 157.8h0M643.6 156.1h0M623.1 164.4h0M646.1 163.6h0M644.0 147.1h0M628.6 165.7h0M616.7 169.4h0M621.8 159.8h0M647.0 162.4h0M621.4 160.8h0M626.8 151.4h0M637.7 150.4h0M636.7 161.6h0M640.1 155.5h0M649.4 159.3h0M641.7 152.6h0M625.7 153.9h0M619.5 159.9h0M630.0 164.9h0M629.4 155.2h0M633.0 168.1h0M627.0 161.8h0M622.8 158.5h0M624.7 166.3h0M624.8 165.8h0M639.4 155.1h0M649.1 153.3h0M641.9 159.1h0M629.8 150.5h0M630.6 168.5h0M625.0 161.6h0M639.3 149.5h0M647.7 149.7h0M629.8 152.1h0M636.2 157.6h0M617.7 166.9h0M617.3 152.7h0M628.1 162.3h0M639.2 152.2h0M614.9 159.9h0M631.6 152.7h0M631.5 151.4h0M639.2 159.2h0M645.2 160.4h0M616.5 155.3h0M629.1 160.5h0M622.2 169.4h0M621.9 152.9h0M619.4 153.5h0M641.9 145.2h0M620.3 160.3h0M637.4 162.8h0M623.5 164.7h0M618.5 155.5h0M614.6 166.0h0M634.1 157.2h0M618.2 164.1h0M625.3 156.5h0M618.7 158.2h0M633.3 150.8h0M643.2 149.6h0M622.2 155.1h0M635.0 155.3h0M646.0 147.1h0M629.3 159.3h0M619.8 164.9h0M641.6 162.0h0M619.9 157.2h0M625.3 168.8h0M615.7 154.1h0M618.2 167.5h0M626.4 156.1h0M649.6 158.2h0M632.8 167.1h0M628.8 151.0h0M641.8 149.9h0M627.8 154.5h0M631.9 152.6h0M630.2 155.0h0M615.9 165.3h0M616.3 157.1h0M634.6 153.7h0M628.0 151.4h0M632.2 149.1h0M642.2 156.0h0M614.3 153.9h0M627.7 159.0h0M627.9 151.0h0M636.9 158.7h0M625.8 156.3h0M633.4 163.1h0M623.5 150.2h0M643.9 154.4h0M646.3 153.7h0M624.7 161.2h0M617.2 169.3h0M645.3 151.8h0M625.9 164.9h0M643.6 160.1h0M616.1 163.4h0M615.8 159.7h0M641.7 154.2h0M643.4 154.8h0M642.3 153.1h0M630.8 154.7h0M618.4 151.5h0M641.6 144.9h0M618.4 165.3h0M639.1 157.6h0M625.7 168.5h0M621.9 154.1h0M634.2 165.4h0M618.6 166.3h0M630.2 153.1h0M632.6 161.4h0M628.6 163.8h0M618.0 162.8h0M620.3 158.6h0M621.6 152.2h0M620.2 152.3h0M636.2 156.9h0M628.6 158.3h0M645.7 152.6h0M636.0 155.8h0M640.2 149.2h0M623.8 162.5h0M635.6 149.9h0M616.4 165.0h0M628.2 162.1h0M630.3 159.5h0M648.2 155.2h0M632.3 149.2h0M642.3 145.7h0M625.5 165.6h0M615.3 161.6h0M635.4 157.7h0M644.3 145.6h0M643.5 148.8h0M621.5 157.3h0M636.9 146.2h0M642.8 158.6h0M639.9 152.7h0M649.8 162.2h0" stroke="#17bec5" stroke-width="3.00" stroke-linecap="round" fill="none"/>
<circle cx="538.70" cy="39.40" r="1.50" fill="#17bec5"/>
<circle cx="537.70" cy="70.70" r="1.50" fill="#17bec5"/>
<circle cx="542.80" cy="71.80" r="1.50" fill="#17bec5"/>
<circle cx="546.10" cy="74.30" r="1.50" fill="#17bec5"/>
<circle cx="548.20" cy="79.40" r="1.50" fill="#17bec5"/>
<circle cx="553.30" cy="76.60" r="1.50" fill="#17bec5"/>
<circle cx="555.90" cy="81.00" r="1.50" fill="#17bec5"/>
<circle cx="543.80" cy="86.40" r="1.50" fill="#17bec5"/>
<circle cx="565.40" cy="100.50" r="1.50" fill="#17bec5"/>
<circle cx="558.70" cy="105.00" r="1.50" fill="#17bec5"/>
<circle cx="556.90" cy="109.80" r="1.50" fill="#17bec5"/>
<circle cx="571.20" cy="108.60" r="1.50" fill="#17bec5"/>
<circle cx="569.60" cy="116.40" r="1.50" fill="#17bec5"/>
<circle cx="572.60" cy="118.20" r="1.50" fill="#17bec5"/>
<circle cx="581.80" cy="119.40" r="1.50" fill="#17bec5"/>
<circle cx="572.00" cy="125.50" r="1.50" fill="#17bec5"/>
<circle cx="580.60" cy="128.50" r="1.50" fill="#17bec5"/>
<circle cx="560.70" cy="132.30" r="1.50" fill="#17bec5"/>
<circle cx="551.30" cy="136.40" r="1.50" fill="#17bec5"/>
<circle cx="573.20" cy="138.00" r="1.50" fill="#17bec5"/>
<circle cx="574.40" cy="140.70" r="1.50" fill="#17bec5"/>
<circle cx="570.50" cy="143.10" r="1.50" fill="#17bec5"/>
<circle cx="573.20" cy="145.40" r="1.50" fill="#17bec5"/>
<circle cx="568.20" cy="146.90" r="1.50" fill="#17bec5"/>
<circle cx="578.50" cy="137.80" r="1.50" fill="#17bec5"/>
<circle cx="549.30" cy="161.40" r="1.50" fill="#17bec5"/>
<circle cx="575.00" cy="159.80" r="1.50" fill="#17bec5"/>
<circle cx="573.00" cy="163.20" r="1.50" fill="#17bec5"/>
<circle cx="571.20" cy="168.40" r="1.50" fill="#17bec5"/>
<circle cx="569.50" cy="168.40" r="1.50" fill="#17bec5"/>
<circle cx="583.00" cy="131.00" r="1.50" fill="#17bec5"/>
<circle cx="582.00" cy="135.00" r="1.50" fill="#17bec5"/>
<circle cx="580.00" cy="142.00" r="1.50" fill="#17bec5"/>
<circle cx="578.00" cy="150.00" r="1.50" fill="#17bec5"/>
<circle cx="577.00" cy="155.00" r="1.50" fill="#17bec5"/>
<circle cx="576.00" cy="164.00" r="1.50" fill="#17bec5"/>
<circle cx="645.30" cy="136.70" r="1.50" fill="#17bec5"/>
<circle cx="650.30" cy="137.00" r="1.50" fill="#17bec5"/>
<circle cx="654.90" cy="136.30" r="1.50" fill="#17bec5"/>
<circle cx="637.50" cy="140.50" r="1.50" fill="#17bec5"/>
<circle cx="645.30" cy="142.20" r="1.50" fill="#17bec5"/>
<circle cx="659.30" cy="140.20" r="1.50" fill="#17bec5"/>
<circle cx="663.40" cy="141.00" r="1.50" fill="#17bec5"/>
<circle cx="665.10" cy="143.30" r="1.50" fill="#17bec5"/>
<circle cx="666.90" cy="138.70" r="1.50" fill="#17bec5"/>
<circle cx="670.00" cy="139.60" r="1.50" fill="#17bec5"/>
<circle cx="660.70" cy="146.40" r="1.50" fill="#17bec5"/>
<circle cx="652.90" cy="149.30" r="1.50" fill="#17bec5"/>
<circle cx="649.40" cy="146.80" r="1.50" fill="#17bec5"/>
<circle cx="654.60" cy="142.50" r="1.50" fill="#17bec5"/>
<circle cx="653.50" cy="143.70" r="1.50" fill="#17bec5"/>
<circle cx="656.00" cy="156.30" r="1.50" fill="#17bec5"/>
<circle cx="657.80" cy="158.30" r="1.50" fill="#17bec5"/>
<circle cx="677.60" cy="157.10" r="1.50" fill="#17bec5"/>
<circle cx="643.50" cy="164.10" r="1.50" fill="#17bec5"/>
<circle cx="647.40" cy="164.10" r="1.50" fill="#17bec5"/>
<circle cx="640.40" cy="168.80" r="1.50" fill="#17bec5"/>
<circle cx="614.50" cy="168.50" r="1.50" fill="#17bec5"/>
<circle cx="612.50" cy="168.50" r="1.50" fill="#17bec5"/>
<circle cx="548.90" cy="143.60" r="1.45" fill="#e82a2a" stroke="#f4a0a0" stroke-width="0.3"/>
<circle cx="559.50" cy="141.50" r="1.45" fill="#e82a2a" stroke="#f4a0a0" stroke-width="0.3"/>
<circle cx="577.30" cy="168.40" r="1.45" fill="#e82a2a" stroke="#f4a0a0" stroke-width="0.3"/>
<circle cx="580.80" cy="156.50" r="1.45" fill="#e82a2a" stroke="#f4a0a0" stroke-width="0.3"/>
<circle cx="597.20" cy="168.40" r="1.45" fill="#e82a2a" stroke="#f4a0a0" stroke-width="0.3"/>
<circle cx="600.10" cy="168.40" r="1.45" fill="#e82a2a" stroke="#f4a0a0" stroke-width="0.3"/>
<circle cx="663.20" cy="135.50" r="1.45" fill="#e82a2a" stroke="#f4a0a0" stroke-width="0.3"/>
<circle cx="652.30" cy="145.40" r="1.45" fill="#e82a2a" stroke="#f4a0a0" stroke-width="0.3"/>
<circle cx="664.80" cy="148.90" r="1.45" fill="#e82a2a" stroke="#f4a0a0" stroke-width="0.3"/>
<circle cx="672.50" cy="149.60" r="1.45" fill="#e82a2a" stroke="#f4a0a0" stroke-width="0.3"/>
<circle cx="639.60" cy="148.50" r="1.45" fill="#e82a2a" stroke="#f4a0a0" stroke-width="0.3"/>
<circle cx="629.30" cy="146.00" r="1.45" fill="#e82a2a" stroke="#f4a0a0" stroke-width="0.3"/>
<circle cx="628.80" cy="149.20" r="1.45" fill="#e82a2a" stroke="#f4a0a0" stroke-width="0.3"/>
<circle cx="618.50" cy="156.90" r="1.45" fill="#e82a2a" stroke="#f4a0a0" stroke-width="0.3"/>
<circle cx="621.70" cy="158.40" r="1.45" fill="#e82a2a" stroke="#f4a0a0" stroke-width="0.3"/>
<circle cx="625.00" cy="158.70" r="1.45" fill="#e82a2a" stroke="#f4a0a0" stroke-width="0.3"/>
<circle cx="626.40" cy="155.10" r="1.45" fill="#e82a2a" stroke="#f4a0a0" stroke-width="0.3"/>
<circle cx="629.10" cy="156.50" r="1.45" fill="#e82a2a" stroke="#f4a0a0" stroke-width="0.3"/>
<circle cx="619.10" cy="160.20" r="1.45" fill="#e82a2a" stroke="#f4a0a0" stroke-width="0.3"/>
<circle cx="616.60" cy="162.40" r="1.45" fill="#e82a2a" stroke="#f4a0a0" stroke-width="0.3"/>
<circle cx="621.30" cy="163.10" r="1.45" fill="#e82a2a" stroke="#f4a0a0" stroke-width="0.3"/>
<circle cx="618.00" cy="166.50" r="1.45" fill="#e82a2a" stroke="#f4a0a0" stroke-width="0.3"/>
<circle cx="630.10" cy="163.10" r="1.45" fill="#e82a2a" stroke="#f4a0a0" stroke-width="0.3"/>
<circle cx="627.50" cy="168.60" r="1.45" fill="#e82a2a" stroke="#f4a0a0" stroke-width="0.3"/>
<circle cx="640.70" cy="166.00" r="1.45" fill="#e82a2a" stroke="#f4a0a0" stroke-width="0.3"/>
<line x1="528.90" y1="168.50" x2="531.10" y2="168.50" stroke="#333" stroke-width="0.9"/>
<text x="527.30" y="172.10" font-size="10" text-anchor="end" fill="#333" stroke="#333" stroke-width="0.2">0</text>
<line x1="528.90" y1="135.15" x2="531.10" y2="135.15" stroke="#333" stroke-width="0.9"/>
<text x="527.30" y="138.75" font-size="10" text-anchor="end" fill="#333" stroke="#333" stroke-width="0.2">30</text>
<line x1="528.90" y1="101.80" x2="531.10" y2="101.80" stroke="#333" stroke-width="0.9"/>
<text x="527.30" y="105.40" font-size="10" text-anchor="end" fill="#333" stroke="#333" stroke-width="0.2">60</text>
<line x1="528.90" y1="68.45" x2="531.10" y2="68.45" stroke="#333" stroke-width="0.9"/>
<text x="527.30" y="72.05" font-size="10" text-anchor="end" fill="#333" stroke="#333" stroke-width="0.2">90</text>
<line x1="528.90" y1="35.10" x2="531.10" y2="35.10" stroke="#333" stroke-width="0.9"/>
<text x="527.30" y="38.70" font-size="10" text-anchor="end" fill="#333" stroke="#333" stroke-width="0.2">120</text>
<line x1="563.70" y1="174.70" x2="563.70" y2="176.90" stroke="#333" stroke-width="0.9"/>
<line x1="609.80" y1="174.70" x2="609.80" y2="176.90" stroke="#333" stroke-width="0.9"/>
<line x1="655.90" y1="174.70" x2="655.90" y2="176.90" stroke="#333" stroke-width="0.9"/>
<text x="564.20" y="187.20" font-size="10" text-anchor="middle" fill="#333" stroke="#333" stroke-width="0.2">−2</text>
<text x="609.80" y="187.20" font-size="10" text-anchor="middle" fill="#333" stroke="#333" stroke-width="0.2">0</text>
<text x="655.90" y="187.20" font-size="10" text-anchor="middle" fill="#333" stroke="#333" stroke-width="0.2">2</text>
<text x="505.40" y="84.50" font-size="9.6" text-anchor="middle" fill="#111" stroke="#111" stroke-width="0.2" transform="rotate(-90 505.40 84.50)">-Log10(FDR)</text>
<line x1="538.50" y1="191.10" x2="590.80" y2="191.10" stroke="#000" stroke-width="1.1"/>
<polygon points="534.2,191.1 539.8,188.6 539.8,193.6" fill="#000"/>
<line x1="623.30" y1="191.10" x2="675.50" y2="191.10" stroke="#000" stroke-width="1.1"/>
<polygon points="680.2,191.1 674.6,188.6 674.6,193.6" fill="#000"/>
<text x="563.30" y="201.40" font-size="10.9" text-anchor="middle" fill="#111" stroke="#111" stroke-width="0.2" font-style="italic">UPP</text>
<text x="657.70" y="201.40" font-size="10.7" text-anchor="middle" fill="#111" stroke="#111" stroke-width="0.2" font-style="italic">UPPA</text>
<text x="609.10" y="201.40" font-size="10.8" text-anchor="middle" fill="#111" stroke="#111" stroke-width="0.2">Log2FC</text>
<rect x="617.80" y="35.50" width="65.30" height="42.10" fill="#fff"/>
<text x="650.40" y="42.40" font-size="6.75" text-anchor="middle" fill="#222" stroke="#222" stroke-width="0.2">Descartes squamous</text>
<text x="650.40" y="49.50" font-size="6.75" text-anchor="middle" fill="#222" stroke="#222" stroke-width="0.2">signature genes</text>
<rect x="629.20" y="53.00" width="10.50" height="9.60" fill="#f2f2f2"/>
<rect x="629.20" y="65.00" width="10.50" height="9.60" fill="#f2f2f2"/>
<circle cx="634.40" cy="57.90" r="1.60" fill="#e82a2a"/>
<circle cx="634.40" cy="69.70" r="1.70" fill="#17bec5"/>
<text x="643.30" y="60.90" font-size="6.6" text-anchor="start" fill="#222" stroke="#222" stroke-width="0.2">Yes</text>
<text x="643.30" y="72.50" font-size="6.6" text-anchor="start" fill="#222" stroke="#222" stroke-width="0.2">No</text>
<defs><linearGradient id="ptg" x1="0" x2="1" y1="0" y2="0"><stop offset="0" stop-color="#cdcdd3"/><stop offset="0.17" stop-color="#c0b4d8"/><stop offset="0.33" stop-color="#a990c9"/><stop offset="0.5" stop-color="#8a6cb8"/><stop offset="0.67" stop-color="#6e56a8"/><stop offset="0.83" stop-color="#5a50a4"/><stop offset="1.0" stop-color="#4050a8"/></linearGradient><linearGradient id="vir" x1="0" x2="1" y1="0" y2="0"><stop offset="0.000" stop-color="#440154"/><stop offset="0.111" stop-color="#482878"/><stop offset="0.222" stop-color="#3e4989"/><stop offset="0.333" stop-color="#31688e"/><stop offset="0.444" stop-color="#26828e"/><stop offset="0.556" stop-color="#1f9e89"/><stop offset="0.667" stop-color="#35b779"/><stop offset="0.778" stop-color="#6ece58"/><stop offset="0.889" stop-color="#b5de2b"/><stop offset="1.000" stop-color="#fde725"/></linearGradient></defs>
<text x="112.70" y="230.30" font-size="9.8" text-anchor="middle" fill="#111" stroke="#111" stroke-width="0.2">Pseudotime</text>
<rect x="75.00" y="235.00" width="75.90" height="9.60" fill="url(#ptg)"/>
<line x1="75.60" y1="242.00" x2="75.60" y2="244.60" stroke="#fff" stroke-width="0.7"/>
<line x1="93.40" y1="242.00" x2="93.40" y2="244.60" stroke="#fff" stroke-width="0.7"/>
<line x1="111.50" y1="242.00" x2="111.50" y2="244.60" stroke="#fff" stroke-width="0.7"/>
<line x1="129.70" y1="242.00" x2="129.70" y2="244.60" stroke="#fff" stroke-width="0.7"/>
<line x1="148.00" y1="242.00" x2="148.00" y2="244.60" stroke="#fff" stroke-width="0.7"/>
<text x="75.90" y="256.00" font-size="9.8" text-anchor="middle" fill="#111" stroke="#111" stroke-width="0.2">0</text>
<text x="93.80" y="256.00" font-size="9.8" text-anchor="middle" fill="#111" stroke="#111" stroke-width="0.2">2</text>
<text x="111.80" y="256.00" font-size="9.8" text-anchor="middle" fill="#111" stroke="#111" stroke-width="0.2">4</text>
<text x="130.20" y="256.00" font-size="9.8" text-anchor="middle" fill="#111" stroke="#111" stroke-width="0.2">6</text>
<text x="148.60" y="256.00" font-size="9.8" text-anchor="middle" fill="#111" stroke="#111" stroke-width="0.2">8</text>
<text x="115.00" y="274.60" font-size="9.8" text-anchor="middle" fill="#222" stroke="#222" stroke-width="0.2" font-style="italic">UPP/UPPA</text>
<path d="M81.5,322.0 L85.1,311.3 L89.8,303.8 L95.1,298.9 L101.5,295.1 L109.3,293.6 L117.1,293.9 L123.3,295.1 L128.0,297.1 L135.8,300.1 L143.6,303.3 L151.4,307.6 L159.2,313.1 L166.0,319.1" fill="none" stroke="#000" stroke-width="1.1" stroke-linejoin="round"/>
<line x1="127.98" y1="297.12" x2="128.92" y2="303.85" stroke="#000" stroke-width="1.1"/>
<path d="M137.1 301.3h0M137.1 301.2h0M137.9 297.0h0M137.4 300.7h0" stroke="#b4a2d0" stroke-width="2.00" stroke-linecap="round" fill="none"/>
<path d="M151.4 307.6h0M152.6 305.1h0M152.0 305.8h0M151.5 307.2h0M152.1 304.8h0" stroke="#c3bad7" stroke-width="2.00" stroke-linecap="round" fill="none"/>
<path d="M152.4 307.6h0M153.1 306.7h0M151.8 310.2h0M153.1 305.8h0" stroke="#c4bbd7" stroke-width="2.00" stroke-linecap="round" fill="none"/>
<path d="M160.3 313.4h0M159.4 315.7h0M161.2 310.9h0M160.5 313.3h0M159.5 315.4h0M159.8 314.4h0" stroke="#c9c5d5" stroke-width="2.00" stroke-linecap="round" fill="none"/>
<path d="M138.3 299.7h0M138.2 298.9h0M137.5 302.1h0" stroke="#b5a3d1" stroke-width="2.00" stroke-linecap="round" fill="none"/>
<path d="M147.6 299.0h0M146.7 303.7h0" stroke="#bfb3d8" stroke-width="2.00" stroke-linecap="round" fill="none"/>
<path d="M134.0 298.1h0M133.7 300.0h0M133.5 300.5h0" stroke="#b09bce" stroke-width="2.00" stroke-linecap="round" fill="none"/>
<path d="M156.3 312.2h0M156.6 310.3h0M156.7 308.7h0" stroke="#c6c0d6" stroke-width="2.00" stroke-linecap="round" fill="none"/>
<path d="M154.8 306.5h0M154.6 307.9h0M153.7 310.9h0M155.1 306.1h0M153.9 310.4h0M154.9 307.1h0" stroke="#c5bdd6" stroke-width="2.00" stroke-linecap="round" fill="none"/>
<path d="M151.3 305.9h0M151.1 305.8h0M151.3 304.8h0M151.0 307.6h0M150.8 307.5h0M150.8 307.5h0M151.1 305.7h0M150.8 306.9h0M150.9 306.7h0M150.8 309.2h0" stroke="#c3b9d7" stroke-width="2.00" stroke-linecap="round" fill="none"/>
<path d="M140.4 297.7h0M140.0 300.0h0M139.7 300.4h0M139.6 300.1h0M139.6 301.3h0" stroke="#b7a6d2" stroke-width="2.00" stroke-linecap="round" fill="none"/>
<path d="M156.4 308.4h0M155.9 309.4h0M155.9 310.3h0M155.4 309.9h0M155.6 308.5h0M155.8 310.4h0M155.7 310.9h0M156.1 309.0h0M155.6 308.8h0M156.2 309.2h0M155.9 309.6h0" stroke="#c6bfd6" stroke-width="2.00" stroke-linecap="round" fill="none"/>
<path d="M162.6 317.8h0M162.5 317.6h0M163.8 312.7h0" stroke="#cbc9d4" stroke-width="2.00" stroke-linecap="round" fill="none"/>
<path d="M143.7 302.0h0M143.2 304.4h0" stroke="#bcadd5" stroke-width="2.00" stroke-linecap="round" fill="none"/>
<path d="M163.2 318.2h0M163.0 317.7h0M163.9 315.5h0" stroke="#cbcad4" stroke-width="2.00" stroke-linecap="round" fill="none"/>
<path d="M161.9 314.1h0M162.4 313.0h0M161.6 316.0h0M161.8 314.7h0M161.2 315.1h0" stroke="#cac7d4" stroke-width="2.00" stroke-linecap="round" fill="none"/>
<path d="M136.7 299.0h0" stroke="#b3a0d0" stroke-width="2.00" stroke-linecap="round" fill="none"/>
<path d="M164.1 319.5h0M164.2 318.3h0M163.5 319.5h0M165.2 314.7h0M165.1 315.8h0M163.9 318.7h0M164.4 318.3h0M164.8 316.6h0" stroke="#cccbd3" stroke-width="2.00" stroke-linecap="round" fill="none"/>
<path d="M147.6 306.2h0M147.8 305.0h0" stroke="#c1b5d8" stroke-width="2.00" stroke-linecap="round" fill="none"/>
<path d="M161.7 311.8h0M162.2 310.9h0M161.1 313.4h0M160.3 315.5h0M160.2 316.1h0M161.3 313.2h0" stroke="#c9c6d4" stroke-width="2.00" stroke-linecap="round" fill="none"/>
<path d="M134.4 298.7h0" stroke="#b19cce" stroke-width="2.00" stroke-linecap="round" fill="none"/>
<path d="M150.1 307.2h0M151.1 303.6h0M149.5 308.6h0M150.2 305.7h0M150.3 305.4h0M150.6 304.6h0" stroke="#c2b8d7" stroke-width="2.00" stroke-linecap="round" fill="none"/>
<path d="M139.8 297.7h0M139.3 301.4h0" stroke="#b7a5d2" stroke-width="2.00" stroke-linecap="round" fill="none"/>
<path d="M166.1 317.0h0M165.9 318.7h0M165.4 319.1h0" stroke="#cdcdd3" stroke-width="2.00" stroke-linecap="round" fill="none"/>
<path d="M131.6 296.9h0M131.8 296.8h0" stroke="#ad97cc" stroke-width="2.00" stroke-linecap="round" fill="none"/>
<path d="M129.2 300.1h0M129.8 295.8h0M130.2 293.9h0M129.2 298.1h0M130.0 294.5h0" stroke="#ab93ca" stroke-width="2.00" stroke-linecap="round" fill="none"/>
<path d="M141.2 300.7h0M141.2 301.7h0M140.8 303.2h0" stroke="#b9a9d3" stroke-width="2.00" stroke-linecap="round" fill="none"/>
<path d="M140.5 299.1h0M140.6 299.7h0M140.3 300.6h0M140.3 301.8h0M140.5 300.9h0M139.9 303.5h0M140.4 300.9h0" stroke="#b8a7d3" stroke-width="2.00" stroke-linecap="round" fill="none"/>
<path d="M129.4 295.6h0M129.1 295.3h0M129.6 293.7h0" stroke="#aa92ca" stroke-width="2.00" stroke-linecap="round" fill="none"/>
<path d="M135.5 301.0h0" stroke="#b29fcf" stroke-width="2.00" stroke-linecap="round" fill="none"/>
<path d="M134.4 297.3h0M134.5 296.5h0" stroke="#b09cce" stroke-width="2.00" stroke-linecap="round" fill="none"/>
<path d="M161.9 316.6h0M161.2 318.7h0M162.4 315.7h0M162.5 315.1h0M161.3 317.2h0M162.5 314.9h0M161.8 315.7h0M162.8 313.4h0" stroke="#cac8d4" stroke-width="2.00" stroke-linecap="round" fill="none"/>
<path d="M148.6 304.1h0M149.3 301.2h0M149.0 304.5h0M147.9 307.4h0M149.0 303.2h0M148.9 304.2h0M148.9 305.9h0" stroke="#c1b6d8" stroke-width="2.00" stroke-linecap="round" fill="none"/>
<path d="M152.6 309.9h0M153.6 307.2h0M153.8 305.4h0M153.5 307.0h0M153.0 308.4h0M153.6 308.1h0M152.6 310.2h0" stroke="#c4bcd6" stroke-width="2.00" stroke-linecap="round" fill="none"/>
<path d="M151.8 308.8h0M152.8 305.8h0M152.9 305.6h0" stroke="#c3bbd7" stroke-width="2.00" stroke-linecap="round" fill="none"/>
<path d="M163.4 318.4h0" stroke="#cccad4" stroke-width="2.00" stroke-linecap="round" fill="none"/>
<path d="M149.8 304.3h0M149.2 308.0h0" stroke="#c2b7d7" stroke-width="2.00" stroke-linecap="round" fill="none"/>
<path d="M150.7 306.5h0M150.6 306.8h0" stroke="#c2b9d7" stroke-width="2.00" stroke-linecap="round" fill="none"/>
<path d="M128.5 298.1h0" stroke="#aa91ca" stroke-width="2.00" stroke-linecap="round" fill="none"/>
<path d="M130.1 298.6h0M130.3 297.4h0M130.2 296.4h0" stroke="#ac94cb" stroke-width="2.00" stroke-linecap="round" fill="none"/>
<path d="M142.0 301.3h0M142.0 301.2h0M141.8 303.1h0M142.4 299.1h0M142.0 301.4h0" stroke="#baaad4" stroke-width="2.00" stroke-linecap="round" fill="none"/>
<path d="M145.8 304.2h0M145.9 305.3h0M145.8 304.8h0M146.1 303.9h0" stroke="#bfb2d7" stroke-width="2.00" stroke-linecap="round" fill="none"/>
<path d="M142.3 303.3h0" stroke="#bbabd4" stroke-width="2.00" stroke-linecap="round" fill="none"/>
<path d="M142.7 303.1h0M142.8 303.2h0M142.3 304.8h0M143.1 300.0h0M142.7 304.9h0" stroke="#bbacd5" stroke-width="2.00" stroke-linecap="round" fill="none"/>
<path d="M158.4 309.6h0M158.1 311.0h0M157.0 314.0h0M157.9 311.6h0M158.1 310.5h0M157.7 311.7h0" stroke="#c7c2d5" stroke-width="2.00" stroke-linecap="round" fill="none"/>
<path d="M135.1 301.3h0M135.2 299.4h0M135.3 299.1h0M135.5 299.1h0M135.4 298.3h0M135.6 299.5h0" stroke="#b29ecf" stroke-width="2.00" stroke-linecap="round" fill="none"/>
<path d="M132.2 296.7h0M132.0 297.8h0M132.2 297.9h0" stroke="#ae98cc" stroke-width="2.00" stroke-linecap="round" fill="none"/>
<path d="M140.4 302.9h0M140.7 301.6h0M140.7 301.2h0" stroke="#b8a8d3" stroke-width="2.00" stroke-linecap="round" fill="none"/>
<path d="M145.8 300.9h0" stroke="#beb1d7" stroke-width="2.00" stroke-linecap="round" fill="none"/>
<path d="M132.8 297.6h0M132.5 300.4h0M133.0 297.1h0M133.0 296.6h0M132.9 296.6h0M132.6 299.5h0" stroke="#af99cd" stroke-width="2.00" stroke-linecap="round" fill="none"/>
<path d="M159.0 313.0h0M160.1 311.0h0M158.1 316.0h0M159.1 314.7h0M159.4 312.8h0" stroke="#c8c4d5" stroke-width="2.00" stroke-linecap="round" fill="none"/>
<path d="M158.6 312.4h0M158.2 313.4h0M159.8 309.4h0" stroke="#c8c3d5" stroke-width="2.00" stroke-linecap="round" fill="none"/>
<path d="M144.7 301.6h0M143.8 306.2h0M144.7 300.9h0M144.0 306.0h0M144.4 303.8h0M144.7 302.2h0M144.2 303.0h0" stroke="#bdafd6" stroke-width="2.00" stroke-linecap="round" fill="none"/>
<path d="M128.6 293.0h0M128.1 295.7h0" stroke="#a990c9" stroke-width="2.00" stroke-linecap="round" fill="none"/>
<path d="M165.2 319.3h0" stroke="#cdccd3" stroke-width="2.00" stroke-linecap="round" fill="none"/>
<path d="M145.9 299.9h0M144.9 304.6h0" stroke="#beb0d6" stroke-width="2.00" stroke-linecap="round" fill="none"/>
<path d="M136.6 300.7h0" stroke="#b4a0d0" stroke-width="2.00" stroke-linecap="round" fill="none"/>
<path d="M157.2 309.7h0M156.8 311.0h0M157.1 310.5h0M157.3 309.7h0M157.8 309.1h0M157.1 310.4h0M156.8 312.3h0M156.5 313.7h0M157.2 309.3h0" stroke="#c7c1d5" stroke-width="2.00" stroke-linecap="round" fill="none"/>
<path d="M130.8 296.2h0M130.8 296.6h0" stroke="#ac95cb" stroke-width="2.00" stroke-linecap="round" fill="none"/>
<path d="M162.2 316.8h0" stroke="#cbc8d4" stroke-width="2.00" stroke-linecap="round" fill="none"/>
<path d="M134.7 299.5h0M134.9 297.8h0" stroke="#b19dce" stroke-width="2.00" stroke-linecap="round" fill="none"/>
<path d="M141.3 302.5h0" stroke="#b9a9d4" stroke-width="2.00" stroke-linecap="round" fill="none"/>
<path d="M157.8 313.3h0M157.7 314.0h0" stroke="#c8c2d5" stroke-width="2.00" stroke-linecap="round" fill="none"/>
<path d="M160.5 310.9h0" stroke="#c9c4d5" stroke-width="2.00" stroke-linecap="round" fill="none"/>
<path d="M161.2 314.2h0M161.0 315.1h0" stroke="#cac6d4" stroke-width="2.00" stroke-linecap="round" fill="none"/>
<path d="M129.9 297.1h0M129.9 297.6h0" stroke="#ab94cb" stroke-width="2.00" stroke-linecap="round" fill="none"/>
<path d="M165.3 317.4h0M164.8 318.9h0" stroke="#ccccd3" stroke-width="2.00" stroke-linecap="round" fill="none"/>
<path d="M147.5 305.5h0M147.6 305.0h0" stroke="#c0b5d8" stroke-width="2.00" stroke-linecap="round" fill="none"/>
<path d="M141.1 300.6h0" stroke="#b9a8d3" stroke-width="2.00" stroke-linecap="round" fill="none"/>
<path d="M131.2 296.6h0M131.2 296.4h0" stroke="#ad96cb" stroke-width="2.00" stroke-linecap="round" fill="none"/>
<path d="M144.7 304.7h0M144.6 303.8h0M145.4 300.5h0" stroke="#bdb0d6" stroke-width="2.00" stroke-linecap="round" fill="none"/>
<path d="M137.4 301.7h0" stroke="#b5a2d1" stroke-width="2.00" stroke-linecap="round" fill="none"/>
<path d="M133.7 298.4h0" stroke="#b09bcd" stroke-width="2.00" stroke-linecap="round" fill="none"/>
<path d="M131.9 297.4h0M132.3 295.5h0" stroke="#ae97cc" stroke-width="2.00" stroke-linecap="round" fill="none"/>
<path d="M134.9 299.9h0" stroke="#b29dcf" stroke-width="2.00" stroke-linecap="round" fill="none"/>
<path d="M142.3 303.3h0M142.3 301.3h0M142.0 302.7h0" stroke="#baabd4" stroke-width="2.00" stroke-linecap="round" fill="none"/>
<path d="M130.6 301.8h0M131.6 296.2h0" stroke="#ad96cc" stroke-width="2.00" stroke-linecap="round" fill="none"/>
<path d="M146.6 305.2h0M146.5 305.9h0M147.0 306.3h0M147.7 301.5h0" stroke="#c0b4d8" stroke-width="2.00" stroke-linecap="round" fill="none"/>
<path d="M146.4 304.0h0" stroke="#bfb3d7" stroke-width="2.00" stroke-linecap="round" fill="none"/>
<path d="M138.8 300.9h0" stroke="#b6a4d2" stroke-width="2.00" stroke-linecap="round" fill="none"/>
<path d="M132.2 299.6h0" stroke="#ae98cd" stroke-width="2.00" stroke-linecap="round" fill="none"/>
<path d="M135.4 297.0h0" stroke="#b19dcf" stroke-width="2.00" stroke-linecap="round" fill="none"/>
<path d="M138.1 302.8h0M138.6 301.1h0" stroke="#b6a4d1" stroke-width="2.00" stroke-linecap="round" fill="none"/>
<path d="M143.8 302.0h0" stroke="#bcaed5" stroke-width="2.00" stroke-linecap="round" fill="none"/>
<path d="M136.0 299.2h0" stroke="#b39fcf" stroke-width="2.00" stroke-linecap="round" fill="none"/>
<path d="M154.4 310.3h0M155.5 307.5h0" stroke="#c5bed6" stroke-width="2.00" stroke-linecap="round" fill="none"/>
<path d="M153.2 310.7h0" stroke="#c4bdd6" stroke-width="2.00" stroke-linecap="round" fill="none"/>
<path d="M149.4 304.5h0" stroke="#c1b7d7" stroke-width="2.00" stroke-linecap="round" fill="none"/>
<path d="M129.3 313.0h0M126.7 305.5h0M131.8 310.4h0M127.9 306.5h0M128.8 310.7h0M128.1 300.7h0M128.4 301.1h0M129.7 306.7h0M128.1 310.1h0M128.9 309.1h0M126.6 305.0h0M129.3 305.4h0M129.9 302.0h0M127.6 305.6h0M127.1 305.8h0M128.1 303.3h0M128.5 299.9h0M130.3 301.3h0M129.2 306.3h0M129.1 302.1h0M128.9 305.6h0M128.5 301.5h0M127.9 302.6h0M128.1 300.4h0M127.3 306.8h0M129.1 300.4h0M128.6 305.7h0M130.0 313.3h0M129.6 302.7h0M129.1 302.1h0M128.8 308.7h0M128.6 300.6h0M129.0 310.2h0M131.1 305.8h0M129.4 313.0h0M129.4 303.4h0M128.7 311.5h0M127.4 301.7h0M130.9 308.9h0M127.7 300.3h0M128.7 300.3h0M128.5 300.5h0M126.6 301.4h0M126.2 303.7h0M127.6 314.2h0M130.0 312.6h0M130.8 312.7h0M129.4 308.3h0M130.6 312.8h0M130.1 311.6h0M127.4 302.0h0M130.0 309.2h0M130.7 312.5h0M131.2 309.6h0M126.9 312.4h0M127.8 305.4h0M129.1 305.7h0M131.1 306.0h0M129.5 303.4h0M130.9 307.8h0M123.3 294.1h0M123.3 294.5h0M123.5 294.0h0M123.3 293.9h0" stroke="#a085c4" stroke-width="2.00" stroke-linecap="round" fill="none"/>
<path d="M118.7 294.5h0M119.0 291.0h0M118.8 292.3h0M118.8 294.0h0" stroke="#987dc0" stroke-width="2.00" stroke-linecap="round" fill="none"/>
<path d="M100.7 291.9h0M100.8 293.1h0M100.8 291.9h0M100.5 292.4h0M100.8 294.6h0" stroke="#7d62b1" stroke-width="2.00" stroke-linecap="round" fill="none"/>
<path d="M120.4 293.0h0M120.4 292.8h0M120.7 291.5h0" stroke="#9b80c1" stroke-width="2.00" stroke-linecap="round" fill="none"/>
<path d="M117.8 291.7h0M117.6 293.3h0" stroke="#977bbf" stroke-width="2.00" stroke-linecap="round" fill="none"/>
<path d="M123.1 293.1h0M123.2 293.7h0" stroke="#9f85c4" stroke-width="2.00" stroke-linecap="round" fill="none"/>
<path d="M116.7 290.0h0M116.8 292.1h0M116.7 292.3h0M116.7 291.2h0M116.7 294.2h0" stroke="#9579be" stroke-width="2.00" stroke-linecap="round" fill="none"/>
<path d="M110.3 294.7h0" stroke="#8b6db9" stroke-width="2.00" stroke-linecap="round" fill="none"/>
<path d="M124.7 294.6h0M124.6 294.6h0M124.8 294.1h0M124.7 297.1h0M124.8 293.6h0" stroke="#a288c5" stroke-width="2.00" stroke-linecap="round" fill="none"/>
<path d="M107.9 293.9h0M107.5 291.5h0M108.1 296.1h0M107.8 291.3h0" stroke="#876ab6" stroke-width="2.00" stroke-linecap="round" fill="none"/>
<path d="M98.7 297.6h0M98.4 293.3h0M98.3 292.2h0M98.5 293.8h0M98.4 292.7h0M99.0 296.7h0" stroke="#7a5faf" stroke-width="2.00" stroke-linecap="round" fill="none"/>
<path d="M99.1 291.1h0M99.1 294.2h0M99.3 294.3h0M99.0 294.3h0" stroke="#7b60af" stroke-width="2.00" stroke-linecap="round" fill="none"/>
<path d="M114.3 291.9h0M114.1 292.4h0" stroke="#9174bc" stroke-width="2.00" stroke-linecap="round" fill="none"/>
<path d="M103.6 291.9h0M103.8 294.2h0M103.4 293.2h0" stroke="#8165b3" stroke-width="2.00" stroke-linecap="round" fill="none"/>
<path d="M114.8 291.2h0M114.8 291.7h0M114.7 291.6h0" stroke="#9275bc" stroke-width="2.00" stroke-linecap="round" fill="none"/>
<path d="M127.0 295.1h0M126.8 298.1h0" stroke="#a68cc7" stroke-width="2.00" stroke-linecap="round" fill="none"/>
<path d="M103.1 294.7h0" stroke="#8064b3" stroke-width="2.00" stroke-linecap="round" fill="none"/>
<path d="M121.0 294.1h0M121.3 292.4h0M121.5 291.2h0M120.9 295.3h0" stroke="#9c81c2" stroke-width="2.00" stroke-linecap="round" fill="none"/>
<path d="M115.4 292.0h0M115.3 291.0h0M115.3 289.4h0" stroke="#9376bd" stroke-width="2.00" stroke-linecap="round" fill="none"/>
<path d="M102.1 295.2h0M102.1 293.4h0M101.9 292.3h0" stroke="#7f63b2" stroke-width="2.00" stroke-linecap="round" fill="none"/>
<path d="M101.5 290.1h0M101.1 290.6h0M101.3 292.0h0M101.7 293.1h0" stroke="#7e63b1" stroke-width="2.00" stroke-linecap="round" fill="none"/>
<path d="M99.4 292.0h0" stroke="#7b61b0" stroke-width="2.00" stroke-linecap="round" fill="none"/>
<path d="M96.6 293.2h0M96.4 294.3h0M96.2 294.3h0" stroke="#775dad" stroke-width="2.00" stroke-linecap="round" fill="none"/>
<path d="M98.9 295.1h0M98.5 292.2h0M98.8 294.1h0" stroke="#7a60af" stroke-width="2.00" stroke-linecap="round" fill="none"/>
<path d="M122.6 293.5h0M122.7 291.5h0" stroke="#9e84c3" stroke-width="2.00" stroke-linecap="round" fill="none"/>
<path d="M115.7 294.5h0M115.7 292.1h0M115.8 294.4h0" stroke="#9477bd" stroke-width="2.00" stroke-linecap="round" fill="none"/>
<path d="M123.6 296.5h0M124.7 289.8h0M124.0 293.9h0M123.9 293.9h0M124.1 293.0h0" stroke="#a186c4" stroke-width="2.00" stroke-linecap="round" fill="none"/>
<path d="M107.1 294.0h0M107.1 293.1h0M106.5 287.7h0M107.0 292.6h0M107.2 291.8h0M106.8 291.5h0" stroke="#8669b6" stroke-width="2.00" stroke-linecap="round" fill="none"/>
<path d="M99.7 294.8h0" stroke="#7b60b0" stroke-width="2.00" stroke-linecap="round" fill="none"/>
<path d="M122.6 296.5h0M122.7 295.2h0M122.6 297.1h0M122.7 293.2h0M122.9 292.1h0" stroke="#9f84c3" stroke-width="2.00" stroke-linecap="round" fill="none"/>
<path d="M102.7 294.8h0M103.0 296.5h0M102.5 292.5h0M102.2 288.3h0M102.9 293.2h0M102.5 294.9h0M102.8 291.1h0M102.7 290.2h0" stroke="#8064b2" stroke-width="2.00" stroke-linecap="round" fill="none"/>
<path d="M113.2 295.2h0M113.7 292.3h0M113.4 291.9h0M113.5 291.9h0M113.5 293.8h0M113.5 291.1h0M113.6 291.0h0" stroke="#9073bb" stroke-width="2.00" stroke-linecap="round" fill="none"/>
<path d="M119.4 295.4h0" stroke="#9a7ec1" stroke-width="2.00" stroke-linecap="round" fill="none"/>
<path d="M115.5 291.3h0M115.7 290.5h0" stroke="#9377bd" stroke-width="2.00" stroke-linecap="round" fill="none"/>
<path d="M109.8 291.1h0M109.4 293.1h0M109.8 293.6h0M109.8 292.5h0M109.4 292.2h0M109.8 291.6h0M109.6 292.6h0M110.1 288.1h0M109.5 292.0h0M109.4 293.6h0M109.8 292.6h0" stroke="#8a6cb8" stroke-width="2.00" stroke-linecap="round" fill="none"/>
<path d="M101.2 292.5h0M101.3 294.4h0" stroke="#7e62b1" stroke-width="2.00" stroke-linecap="round" fill="none"/>
<path d="M125.7 295.3h0M125.8 294.2h0M126.8 289.9h0M125.9 295.2h0" stroke="#a48ac6" stroke-width="2.00" stroke-linecap="round" fill="none"/>
<path d="M127.0 299.1h0" stroke="#a68dc8" stroke-width="2.00" stroke-linecap="round" fill="none"/>
<path d="M126.9 291.4h0M126.6 293.6h0M126.7 294.7h0" stroke="#a58bc7" stroke-width="2.00" stroke-linecap="round" fill="none"/>
<path d="M111.5 294.8h0" stroke="#8d6fba" stroke-width="2.00" stroke-linecap="round" fill="none"/>
<path d="M120.4 298.5h0" stroke="#9c80c2" stroke-width="2.00" stroke-linecap="round" fill="none"/>
<path d="M126.0 291.3h0M125.6 294.3h0M124.9 297.1h0M125.1 295.6h0" stroke="#a389c6" stroke-width="2.00" stroke-linecap="round" fill="none"/>
<path d="M105.3 291.6h0" stroke="#8467b4" stroke-width="2.00" stroke-linecap="round" fill="none"/>
<path d="M119.1 293.6h0" stroke="#997dc0" stroke-width="2.00" stroke-linecap="round" fill="none"/>
<path d="M116.6 290.5h0" stroke="#9578be" stroke-width="2.00" stroke-linecap="round" fill="none"/>
<path d="M97.3 294.3h0M97.1 295.4h0M97.4 296.1h0" stroke="#785eae" stroke-width="2.00" stroke-linecap="round" fill="none"/>
<path d="M105.3 295.6h0M105.0 294.7h0M105.0 293.3h0M105.0 291.7h0M104.9 292.0h0M105.1 291.2h0M104.9 290.7h0M104.9 290.5h0M105.1 291.4h0M105.2 294.4h0" stroke="#8367b4" stroke-width="2.00" stroke-linecap="round" fill="none"/>
<path d="M127.5 294.2h0M127.5 294.3h0M127.5 294.4h0M127.8 292.1h0M127.2 296.6h0" stroke="#a68dc7" stroke-width="2.00" stroke-linecap="round" fill="none"/>
<path d="M106.1 294.7h0M106.2 294.4h0M105.9 290.9h0M106.2 291.9h0" stroke="#8568b5" stroke-width="2.00" stroke-linecap="round" fill="none"/>
<path d="M110.8 293.4h0M111.1 290.8h0" stroke="#8c6eb9" stroke-width="2.00" stroke-linecap="round" fill="none"/>
<path d="M124.5 293.8h0M124.0 295.7h0" stroke="#a187c5" stroke-width="2.00" stroke-linecap="round" fill="none"/>
<path d="M122.0 292.6h0" stroke="#9d82c3" stroke-width="2.00" stroke-linecap="round" fill="none"/>
<path d="M113.0 292.3h0M113.2 292.1h0M112.9 292.5h0M113.2 291.0h0M112.8 292.5h0M113.1 288.6h0M112.9 296.1h0M113.1 292.6h0M112.8 293.0h0M113.0 292.9h0" stroke="#8f72bb" stroke-width="2.00" stroke-linecap="round" fill="none"/>
<path d="M120.3 298.2h0" stroke="#9b80c2" stroke-width="2.00" stroke-linecap="round" fill="none"/>
<path d="M121.8 292.3h0M121.4 297.9h0M121.7 290.8h0" stroke="#9d82c2" stroke-width="2.00" stroke-linecap="round" fill="none"/>
<path d="M116.1 294.4h0M116.2 296.0h0M116.1 293.2h0" stroke="#9478be" stroke-width="2.00" stroke-linecap="round" fill="none"/>
<path d="M121.7 297.1h0" stroke="#9d83c3" stroke-width="2.00" stroke-linecap="round" fill="none"/>
<path d="M103.8 290.8h0M103.9 292.9h0" stroke="#8265b3" stroke-width="2.00" stroke-linecap="round" fill="none"/>
<path d="M112.3 291.2h0M112.2 293.3h0M112.2 291.2h0M112.3 294.6h0" stroke="#8e71ba" stroke-width="2.00" stroke-linecap="round" fill="none"/>
<path d="M122.0 295.1h0M122.3 292.2h0M122.5 292.7h0" stroke="#9e83c3" stroke-width="2.00" stroke-linecap="round" fill="none"/>
<path d="M112.6 293.5h0" stroke="#8f71bb" stroke-width="2.00" stroke-linecap="round" fill="none"/>
<path d="M128.1 293.1h0M127.7 296.2h0M127.7 294.4h0M127.9 294.5h0" stroke="#a78dc8" stroke-width="2.00" stroke-linecap="round" fill="none"/>
<path d="M110.6 291.3h0" stroke="#8b6eb9" stroke-width="2.00" stroke-linecap="round" fill="none"/>
<path d="M114.4 294.4h0" stroke="#9175bc" stroke-width="2.00" stroke-linecap="round" fill="none"/>
<path d="M117.4 293.1h0M117.5 293.6h0" stroke="#967abf" stroke-width="2.00" stroke-linecap="round" fill="none"/>
<path d="M126.7 295.5h0M126.8 295.1h0M126.9 294.6h0" stroke="#a58cc7" stroke-width="2.00" stroke-linecap="round" fill="none"/>
<path d="M101.6 289.3h0M101.8 294.5h0" stroke="#7f63b1" stroke-width="2.00" stroke-linecap="round" fill="none"/>
<path d="M108.2 291.5h0M108.2 290.9h0M108.2 290.5h0" stroke="#886ab7" stroke-width="2.00" stroke-linecap="round" fill="none"/>
<path d="M104.7 294.1h0M104.5 290.7h0" stroke="#8366b4" stroke-width="2.00" stroke-linecap="round" fill="none"/>
<path d="M108.6 292.8h0M108.4 290.9h0M108.6 293.0h0M108.4 291.6h0M108.7 294.6h0" stroke="#886bb7" stroke-width="2.00" stroke-linecap="round" fill="none"/>
<path d="M98.2 294.2h0" stroke="#795faf" stroke-width="2.00" stroke-linecap="round" fill="none"/>
<path d="M97.8 294.9h0" stroke="#795eae" stroke-width="2.00" stroke-linecap="round" fill="none"/>
<path d="M100.0 292.8h0M99.9 293.8h0M99.7 292.6h0M100.2 297.4h0" stroke="#7c61b0" stroke-width="2.00" stroke-linecap="round" fill="none"/>
<path d="M107.2 290.4h0" stroke="#8769b6" stroke-width="2.00" stroke-linecap="round" fill="none"/>
<path d="M118.5 293.6h0" stroke="#987cc0" stroke-width="2.00" stroke-linecap="round" fill="none"/>
<path d="M120.0 293.0h0M120.0 293.9h0" stroke="#9a7fc1" stroke-width="2.00" stroke-linecap="round" fill="none"/>
<path d="M113.2 293.2h0" stroke="#9072bb" stroke-width="2.00" stroke-linecap="round" fill="none"/>
<path d="M110.1 295.5h0M110.2 291.0h0M110.1 292.7h0M110.2 291.4h0M110.2 289.2h0" stroke="#8b6db8" stroke-width="2.00" stroke-linecap="round" fill="none"/>
<path d="M102.4 293.7h0" stroke="#7f64b2" stroke-width="2.00" stroke-linecap="round" fill="none"/>
<path d="M115.1 289.3h0" stroke="#9276bd" stroke-width="2.00" stroke-linecap="round" fill="none"/>
<path d="M104.5 293.7h0" stroke="#8266b4" stroke-width="2.00" stroke-linecap="round" fill="none"/>
<path d="M109.0 290.5h0M108.9 294.0h0" stroke="#896bb7" stroke-width="2.00" stroke-linecap="round" fill="none"/>
<path d="M108.0 293.0h0" stroke="#876ab7" stroke-width="2.00" stroke-linecap="round" fill="none"/>
<path d="M112.0 292.5h0" stroke="#8e70ba" stroke-width="2.00" stroke-linecap="round" fill="none"/>
<path d="M111.3 292.7h0" stroke="#8d6fb9" stroke-width="2.00" stroke-linecap="round" fill="none"/>
<path d="M123.6 295.3h0M123.7 292.9h0" stroke="#a086c4" stroke-width="2.00" stroke-linecap="round" fill="none"/>
<path d="M124.3 292.3h0" stroke="#a186c5" stroke-width="2.00" stroke-linecap="round" fill="none"/>
<path d="M124.7 292.9h0" stroke="#a287c5" stroke-width="2.00" stroke-linecap="round" fill="none"/>
<path d="M117.3 291.6h0" stroke="#967abe" stroke-width="2.00" stroke-linecap="round" fill="none"/>
<path d="M118.4 290.0h0" stroke="#977cbf" stroke-width="2.00" stroke-linecap="round" fill="none"/>
<path d="M97.9 292.0h0M98.0 295.3h0" stroke="#795fae" stroke-width="2.00" stroke-linecap="round" fill="none"/>
<path d="M105.5 291.8h0" stroke="#8467b5" stroke-width="2.00" stroke-linecap="round" fill="none"/>
<path d="M125.5 292.2h0" stroke="#a389c5" stroke-width="2.00" stroke-linecap="round" fill="none"/>
<path d="M118.4 291.5h0" stroke="#987cbf" stroke-width="2.00" stroke-linecap="round" fill="none"/>
<path d="M89.6 290.4h0M90.1 293.2h0M91.0 291.8h0M92.9 293.8h0M92.0 289.5h0M90.5 288.3h0M89.4 292.0h0M92.3 291.1h0M88.0 287.9h0M90.1 290.4h0M91.5 290.8h0M89.5 290.5h0M90.9 291.1h0M89.8 287.8h0M89.5 292.3h0M90.2 293.1h0M86.8 293.1h0M89.5 292.8h0M90.5 292.2h0M90.7 291.7h0M89.7 292.1h0M91.7 291.0h0M90.0 288.8h0M89.0 289.7h0M89.5 287.9h0M90.2 292.0h0M89.9 288.3h0M91.1 289.9h0M90.9 291.0h0M90.8 290.4h0M89.8 288.5h0M90.5 287.8h0M92.9 290.8h0M89.3 290.6h0M91.5 289.8h0M91.0 289.3h0M92.9 293.5h0M92.7 290.4h0M90.3 290.1h0M93.9 288.4h0M89.7 291.0h0M90.5 288.6h0M91.1 293.8h0M88.5 293.2h0M89.9 287.8h0M88.5 288.7h0M91.7 290.2h0M90.4 292.3h0M90.0 288.3h0M89.6 290.6h0M92.0 289.6h0M89.0 290.5h0M88.4 291.8h0M91.6 288.9h0M89.4 290.8h0" stroke="#765cad" stroke-width="2.40" stroke-linecap="round" fill="none"/>
<path d="M93.7 299.0h0M94.5 300.8h0M92.7 296.9h0" stroke="#7159aa" stroke-width="2.00" stroke-linecap="round" fill="none"/>
<path d="M91.0 301.7h0M91.8 302.3h0M90.8 300.4h0M91.1 299.4h0M91.1 299.4h0M92.9 306.9h0M92.0 302.6h0M92.8 305.5h0M91.1 302.1h0M91.9 301.4h0M91.0 300.1h0" stroke="#6e56a8" stroke-width="2.00" stroke-linecap="round" fill="none"/>
<path d="M81.1 320.6h0M80.5 319.7h0M81.1 320.9h0M79.3 318.8h0M80.3 320.3h0M79.9 319.9h0M81.1 320.5h0M82.5 321.4h0M80.5 319.8h0" stroke="#5f51a5" stroke-width="2.00" stroke-linecap="round" fill="none"/>
<path d="M87.3 313.9h0M85.8 312.4h0M85.0 311.6h0M84.4 311.6h0M85.8 312.9h0M84.9 311.6h0M84.4 311.5h0M84.0 310.6h0M82.2 310.4h0M83.8 310.5h0M83.7 311.0h0" stroke="#6553a6" stroke-width="2.00" stroke-linecap="round" fill="none"/>
<path d="M81.4 319.4h0M83.5 319.9h0M82.5 319.0h0M82.4 319.3h0M83.5 320.5h0M83.0 320.1h0M82.5 319.7h0M82.4 319.1h0M83.4 319.7h0M83.5 319.8h0M83.5 321.2h0M81.9 319.0h0" stroke="#6052a5" stroke-width="2.00" stroke-linecap="round" fill="none"/>
<path d="M88.4 309.6h0M87.7 309.6h0M87.9 309.9h0M85.7 306.5h0M86.8 307.8h0M86.6 307.0h0M88.3 309.9h0M87.9 310.3h0M86.8 308.3h0M86.2 306.2h0M86.5 307.4h0" stroke="#6854a7" stroke-width="2.00" stroke-linecap="round" fill="none"/>
<path d="M82.4 321.1h0M79.9 318.7h0M79.8 318.8h0M83.4 321.9h0M82.3 320.3h0M83.3 321.8h0M81.4 320.2h0M79.7 318.5h0M82.4 321.2h0" stroke="#5f52a5" stroke-width="2.00" stroke-linecap="round" fill="none"/>
<path d="M80.0 327.3h0M77.9 325.8h0M80.8 327.7h0M81.3 327.4h0M79.5 325.9h0M79.3 326.4h0M79.9 326.4h0M80.0 325.9h0M80.8 327.0h0M79.4 326.8h0M79.3 327.1h0M79.3 326.0h0" stroke="#5b50a4" stroke-width="2.00" stroke-linecap="round" fill="none"/>
<path d="M79.8 329.9h0M81.1 330.6h0M79.0 329.0h0M78.3 328.6h0M79.6 329.2h0M79.5 330.5h0M79.0 329.0h0M80.7 330.7h0M80.3 330.5h0" stroke="#5950a4" stroke-width="2.00" stroke-linecap="round" fill="none"/>
<path d="M83.6 312.5h0M83.9 314.0h0M85.2 314.7h0M86.8 316.3h0M83.2 312.2h0M85.3 314.7h0M83.5 312.4h0M82.9 312.0h0M84.6 313.1h0M83.3 312.7h0M83.1 313.0h0" stroke="#6453a6" stroke-width="2.00" stroke-linecap="round" fill="none"/>
<path d="M95.8 301.4h0M94.7 299.0h0M95.2 300.3h0M95.2 299.3h0M95.2 299.9h0M96.3 302.1h0" stroke="#735aab" stroke-width="2.00" stroke-linecap="round" fill="none"/>
<path d="M87.0 312.3h0M85.3 311.1h0M84.7 309.7h0M84.5 309.7h0M85.6 311.7h0M84.5 309.7h0M85.9 310.4h0M85.3 310.6h0M86.7 311.7h0M85.3 309.7h0M85.1 309.2h0M87.2 313.8h0" stroke="#6654a6" stroke-width="2.00" stroke-linecap="round" fill="none"/>
<path d="M89.2 304.6h0M88.6 303.1h0M90.2 306.7h0M90.2 305.5h0M90.3 306.1h0M89.8 306.5h0M89.0 305.3h0M90.1 305.9h0M88.0 303.9h0M88.0 303.5h0M90.1 305.7h0" stroke="#6b55a7" stroke-width="2.00" stroke-linecap="round" fill="none"/>
<path d="M91.9 304.4h0M90.7 303.2h0M91.3 303.3h0M89.9 301.3h0M90.7 303.7h0M91.0 304.3h0M90.8 303.1h0M90.8 304.0h0M91.1 302.9h0M90.2 302.6h0M90.6 302.6h0" stroke="#6d56a8" stroke-width="2.00" stroke-linecap="round" fill="none"/>
<path d="M88.3 306.9h0M88.6 307.2h0M88.5 306.5h0M88.4 304.9h0M89.9 308.3h0M87.8 304.7h0M88.6 306.1h0M88.4 305.8h0M89.9 307.4h0M86.4 303.1h0M89.7 307.4h0M88.7 306.8h0M89.2 306.2h0M87.5 305.0h0M90.5 308.6h0M88.7 307.0h0M87.9 304.2h0M87.8 304.6h0M87.6 304.7h0" stroke="#6a55a7" stroke-width="2.00" stroke-linecap="round" fill="none"/>
<path d="M79.4 321.3h0M83.8 324.9h0M81.5 321.7h0M80.7 322.0h0M83.5 323.4h0M80.7 321.5h0M80.1 321.4h0" stroke="#5e51a5" stroke-width="2.00" stroke-linecap="round" fill="none"/>
<path d="M89.0 300.9h0M89.7 303.1h0M89.8 304.3h0M90.2 303.6h0M90.0 304.7h0M91.3 307.4h0M90.3 304.7h0M90.1 305.1h0" stroke="#6c55a8" stroke-width="2.00" stroke-linecap="round" fill="none"/>
<path d="M88.2 307.8h0M88.0 306.9h0M87.6 306.5h0M87.2 306.2h0M88.1 307.5h0M88.6 308.5h0" stroke="#6955a7" stroke-width="2.00" stroke-linecap="round" fill="none"/>
<path d="M82.4 312.9h0M85.9 317.3h0M84.5 316.3h0M86.6 316.6h0M81.1 312.8h0M84.4 316.0h0M85.3 315.5h0M84.2 314.3h0M83.3 314.3h0M84.6 314.9h0M82.1 313.4h0" stroke="#6353a6" stroke-width="2.00" stroke-linecap="round" fill="none"/>
<path d="M95.0 300.8h0M94.6 299.9h0M95.1 300.6h0M92.8 295.9h0M93.8 298.0h0" stroke="#7259aa" stroke-width="2.00" stroke-linecap="round" fill="none"/>
<path d="M82.8 317.5h0M82.6 317.9h0M82.8 318.2h0M82.4 317.3h0M82.3 316.6h0M78.2 314.2h0M83.8 318.4h0M83.4 318.3h0M81.6 316.3h0M82.6 317.2h0M81.2 317.2h0M80.7 315.2h0M80.8 315.5h0" stroke="#6152a5" stroke-width="2.00" stroke-linecap="round" fill="none"/>
<path d="M85.2 307.7h0M88.5 313.8h0M88.5 312.4h0M86.9 310.8h0M84.6 307.2h0M88.0 312.0h0M85.2 308.4h0M87.5 311.6h0M86.0 309.8h0M86.1 309.4h0M85.3 308.1h0M85.4 308.6h0" stroke="#6754a7" stroke-width="2.00" stroke-linecap="round" fill="none"/>
<path d="M93.5 302.9h0M93.0 301.1h0" stroke="#7057a9" stroke-width="2.00" stroke-linecap="round" fill="none"/>
<path d="M82.7 315.6h0M85.0 317.9h0M83.1 316.8h0M85.3 318.3h0M82.7 315.3h0M82.3 316.4h0M84.6 317.0h0" stroke="#6252a6" stroke-width="2.00" stroke-linecap="round" fill="none"/>
<path d="M87.8 308.4h0M88.6 309.6h0M87.5 308.0h0M86.8 306.1h0" stroke="#6954a7" stroke-width="2.00" stroke-linecap="round" fill="none"/>
<path d="M80.8 325.5h0M79.9 325.0h0M78.3 322.9h0M79.4 323.9h0M79.8 323.9h0M81.2 325.6h0M81.0 325.8h0" stroke="#5c51a4" stroke-width="2.00" stroke-linecap="round" fill="none"/>
<path d="M91.9 301.2h0" stroke="#6f56a8" stroke-width="2.00" stroke-linecap="round" fill="none"/>
<path d="M78.9 328.4h0M79.8 329.0h0M78.5 327.7h0M80.7 329.1h0M80.6 328.9h0M80.1 329.1h0M80.6 328.9h0M80.2 327.9h0" stroke="#5a50a4" stroke-width="2.00" stroke-linecap="round" fill="none"/>
<path d="M93.1 300.4h0M94.0 303.4h0" stroke="#7058a9" stroke-width="2.00" stroke-linecap="round" fill="none"/>
<path d="M93.8 300.2h0M94.2 301.2h0M93.6 300.0h0" stroke="#7158aa" stroke-width="2.00" stroke-linecap="round" fill="none"/>
<path d="M85.3 317.2h0M83.9 316.2h0" stroke="#6253a6" stroke-width="2.00" stroke-linecap="round" fill="none"/>
<path d="M80.7 326.4h0" stroke="#5c50a4" stroke-width="2.00" stroke-linecap="round" fill="none"/>
<path d="M90.7 304.6h0M90.2 303.1h0M90.6 304.6h0M90.1 303.0h0" stroke="#6c56a8" stroke-width="2.00" stroke-linecap="round" fill="none"/>
<path d="M81.9 324.2h0M81.2 324.9h0M81.8 325.3h0M81.6 324.8h0M83.3 326.5h0M79.2 323.1h0M81.1 323.1h0M82.6 325.7h0M81.7 325.2h0M80.4 323.2h0M83.1 325.8h0" stroke="#5d51a5" stroke-width="2.00" stroke-linecap="round" fill="none"/>
<path d="M93.1 302.4h0M92.7 301.9h0M92.8 302.8h0" stroke="#6f57a9" stroke-width="2.00" stroke-linecap="round" fill="none"/>
<path d="M92.0 300.8h0M92.9 303.6h0" stroke="#6f57a8" stroke-width="2.00" stroke-linecap="round" fill="none"/>
<path d="M85.3 311.5h0M83.9 309.0h0M86.6 313.7h0" stroke="#6653a6" stroke-width="2.00" stroke-linecap="round" fill="none"/>
<path d="M94.5 303.4h0" stroke="#7158a9" stroke-width="2.00" stroke-linecap="round" fill="none"/>
<path d="M78.0 335.3h0M78.3 334.8h0M77.6 334.9h0M77.3 329.6h0M78.1 330.2h0M80.0 333.1h0M77.3 331.6h0M76.3 334.5h0M80.9 333.3h0M79.3 330.7h0M78.5 331.6h0M79.6 335.3h0M79.4 335.8h0M77.0 333.3h0M80.2 335.8h0M77.5 333.4h0M77.6 332.3h0M78.1 336.2h0M78.7 331.2h0M78.9 331.5h0M77.8 330.8h0M80.2 335.4h0M81.9 334.0h0M78.6 335.8h0M77.3 334.6h0M78.6 332.6h0M78.7 334.5h0M77.5 333.2h0M81.2 332.1h0M79.6 333.2h0M78.8 335.8h0M79.0 333.3h0M79.2 334.3h0M79.0 331.9h0M77.8 335.3h0M78.9 334.1h0M77.6 330.1h0M78.5 331.0h0M78.5 330.6h0M80.3 335.5h0" stroke="#5550a5" stroke-width="2.00" stroke-linecap="round" fill="none"/>
<path d="M71.6 374.2h0M72.9 374.2h0" stroke="#4350a7" stroke-width="2.00" stroke-linecap="round" fill="none"/>
<path d="M78.4 362.1h0M73.7 360.8h0M79.8 363.7h0" stroke="#4950a7" stroke-width="2.00" stroke-linecap="round" fill="none"/>
<path d="M77.6 355.4h0" stroke="#4c50a6" stroke-width="2.00" stroke-linecap="round" fill="none"/>
<path d="M77.2 347.0h0M77.8 347.5h0" stroke="#4f50a6" stroke-width="2.00" stroke-linecap="round" fill="none"/>
<path d="M80.8 357.6h0M75.9 357.4h0" stroke="#4b50a6" stroke-width="2.00" stroke-linecap="round" fill="none"/>
<path d="M76.2 370.3h0M77.2 370.6h0" stroke="#4550a7" stroke-width="2.00" stroke-linecap="round" fill="none"/>
<path d="M73.5 376.8h0M75.2 377.3h0" stroke="#4250a8" stroke-width="2.00" stroke-linecap="round" fill="none"/>
<path d="M74.2 380.4h0M74.0 380.9h0M70.6 379.6h0M74.0 379.5h0" stroke="#4150a8" stroke-width="2.00" stroke-linecap="round" fill="none"/>
<path d="M75.9 373.1h0" stroke="#4450a7" stroke-width="2.00" stroke-linecap="round" fill="none"/>
<path d="M73.6 362.9h0M78.0 365.7h0" stroke="#4850a7" stroke-width="2.00" stroke-linecap="round" fill="none"/>
<path d="M77.7 340.6h0M79.7 341.0h0" stroke="#5250a5" stroke-width="2.00" stroke-linecap="round" fill="none"/>
<path d="M78.1 339.5h0M75.9 337.5h0" stroke="#5350a5" stroke-width="2.00" stroke-linecap="round" fill="none"/>
<path d="M78.8 346.6h0" stroke="#5050a6" stroke-width="2.00" stroke-linecap="round" fill="none"/>
<path d="M77.4 336.3h0" stroke="#5450a5" stroke-width="2.00" stroke-linecap="round" fill="none"/>
<path d="M77.6 382.4h0" stroke="#4050a8" stroke-width="2.00" stroke-linecap="round" fill="none"/>
<circle cx="142.02" cy="307.59" r="0.90" fill="#a58cc7"/>
<circle cx="144.36" cy="309.58" r="0.90" fill="#a58cc7"/>
<circle cx="146.70" cy="308.08" r="0.90" fill="#a58cc7"/>
<circle cx="145.92" cy="311.33" r="0.90" fill="#a58cc7"/>
<circle cx="130.32" cy="318.06" r="0.90" fill="#a58cc7"/>
<circle cx="130.48" cy="322.54" r="0.90" fill="#a58cc7"/>
<circle cx="96.78" cy="305.09" r="0.90" fill="#7159aa"/>
<circle cx="93.66" cy="308.83" r="0.90" fill="#7159aa"/>
<circle cx="95.06" cy="298.86" r="5.20" fill="#000"/>
<text x="95.16" y="302.27" font-size="9.6" text-anchor="middle" fill="#fff" stroke="#fff" stroke-width="0.45">2</text>
<circle cx="127.98" cy="297.12" r="5.20" fill="#000"/>
<text x="128.08" y="300.52" font-size="9.6" text-anchor="middle" fill="#fff" stroke="#fff" stroke-width="0.45">1</text>
<line x1="67.20" y1="283.30" x2="67.20" y2="387.05" stroke="#333" stroke-width="0.9"/>
<line x1="66.75" y1="386.60" x2="169.50" y2="386.60" stroke="#333" stroke-width="0.9"/>
<line x1="64.90" y1="302.60" x2="67.20" y2="302.60" stroke="#333" stroke-width="0.9"/>
<text x="63.60" y="306.00" font-size="9.5" text-anchor="end" fill="#4d4d4d" stroke="#4d4d4d" stroke-width="0.2">0</text>
<line x1="64.90" y1="327.53" x2="67.20" y2="327.53" stroke="#333" stroke-width="0.9"/>
<text x="63.60" y="330.93" font-size="9.5" text-anchor="end" fill="#4d4d4d" stroke="#4d4d4d" stroke-width="0.2">−1</text>
<line x1="64.90" y1="352.46" x2="67.20" y2="352.46" stroke="#333" stroke-width="0.9"/>
<text x="63.60" y="355.86" font-size="9.5" text-anchor="end" fill="#4d4d4d" stroke="#4d4d4d" stroke-width="0.2">−2</text>
<line x1="64.90" y1="377.39" x2="67.20" y2="377.39" stroke="#333" stroke-width="0.9"/>
<text x="63.60" y="380.79" font-size="9.5" text-anchor="end" fill="#4d4d4d" stroke="#4d4d4d" stroke-width="0.2">−3</text>
<line x1="92.10" y1="386.60" x2="92.10" y2="388.90" stroke="#333" stroke-width="0.9"/>
<text x="92.10" y="397.30" font-size="9.5" text-anchor="middle" fill="#4d4d4d" stroke="#4d4d4d" stroke-width="0.2">−2</text>
<line x1="123.30" y1="386.60" x2="123.30" y2="388.90" stroke="#333" stroke-width="0.9"/>
<text x="123.30" y="397.30" font-size="9.5" text-anchor="middle" fill="#4d4d4d" stroke="#4d4d4d" stroke-width="0.2">0</text>
<line x1="154.50" y1="386.60" x2="154.50" y2="388.90" stroke="#333" stroke-width="0.9"/>
<text x="154.50" y="397.30" font-size="9.5" text-anchor="middle" fill="#4d4d4d" stroke="#4d4d4d" stroke-width="0.2">2</text>
<text x="118.60" y="407.80" font-size="9.7" text-anchor="middle" fill="#111" stroke="#111" stroke-width="0.2">Component 1</text>
<text x="48.40" y="334.70" font-size="9.95" text-anchor="middle" fill="#111" stroke="#111" stroke-width="0.2" transform="rotate(-90 48.40 334.70)">Component 2</text>
<text x="274.70" y="245.40" font-size="9.7" text-anchor="start" fill="#111" stroke="#111" stroke-width="0.2">CellState</text>
<circle cx="321.80" cy="242.10" r="5.80" fill="#5561ae"/>
<text x="335.20" y="245.50" font-size="9.7" text-anchor="middle" fill="#111" stroke="#111" stroke-width="0.2">1</text>
<circle cx="348.10" cy="242.10" r="5.80" fill="#d13e33"/>
<text x="361.50" y="245.50" font-size="9.7" text-anchor="middle" fill="#111" stroke="#111" stroke-width="0.2">2</text>
<circle cx="374.40" cy="242.10" r="5.80" fill="#6f9a57"/>
<text x="387.80" y="245.50" font-size="9.7" text-anchor="middle" fill="#111" stroke="#111" stroke-width="0.2">3</text>
<circle cx="400.70" cy="242.10" r="5.80" fill="#ece27e"/>
<text x="414.10" y="245.50" font-size="9.7" text-anchor="middle" fill="#111" stroke="#111" stroke-width="0.2">4</text>
<circle cx="427.00" cy="242.10" r="5.80" fill="#466982"/>
<text x="440.40" y="245.50" font-size="9.7" text-anchor="middle" fill="#111" stroke="#111" stroke-width="0.2">5</text>
<path d="M275.1,320.4 L278.7,309.4 L283.4,301.8 L288.7,296.7 L295.1,292.9 L302.9,291.3 L310.7,291.6 L317.0,292.9 L321.7,294.9 L329.5,297.9 L337.3,301.3 L345.2,305.6 L353.0,311.2 L359.9,317.3" fill="none" stroke="#000" stroke-width="1.6" stroke-linejoin="round"/>
<line x1="321.69" y1="294.89" x2="322.63" y2="301.77" stroke="#000" stroke-width="1.6"/>
<path d="M349.5 310.7h0M338.1 301.0h0M344.2 303.6h0M331.4 297.9h0M344.9 306.4h0M343.9 305.0h0M333.2 299.3h0M349.2 307.4h0M359.4 313.7h0M338.7 299.1h0M357.8 315.6h0M343.3 303.9h0M330.7 299.9h0M342.7 305.2h0M347.9 308.0h0M357.0 313.3h0M328.7 299.4h0M349.0 310.7h0M323.4 297.2h0M330.4 295.8h0M349.7 308.6h0M345.3 306.7h0M344.8 303.8h0M358.6 318.8h0M335.0 300.0h0M349.4 310.4h0M355.3 314.6h0M327.0 293.8h0M333.4 299.1h0M341.2 301.8h0M354.5 311.3h0M350.1 307.9h0M327.7 296.9h0M337.4 303.1h0M334.9 299.3h0M350.6 310.2h0M352.5 311.0h0M326.3 296.5h0M325.2 295.8h0M341.1 305.0h0M337.7 301.0h0M357.5 314.5h0M323.7 295.6h0M358.3 316.2h0M330.4 297.0h0M349.7 307.6h0M349.0 306.4h0M336.6 302.4h0M352.0 313.5h0M346.7 307.2h0M347.2 307.6h0M347.3 308.3h0M351.1 310.4h0M331.2 298.7h0M324.4 299.2h0M333.3 298.0h0M353.7 311.4h0M345.8 303.3h0M324.1 293.9h0M354.4 313.3h0M357.4 310.7h0M328.7 297.4h0M351.7 309.2h0M327.4 295.4h0M355.2 312.2h0M332.9 299.2h0M344.5 303.1h0M339.4 300.3h0M341.3 303.3h0M355.2 312.6h0M354.6 311.0h0M335.9 297.5h0M337.3 302.4h0M336.6 297.6h0M340.6 300.4h0M336.6 299.7h0M355.9 312.1h0M328.3 298.5h0M342.9 304.5h0M342.2 304.2h0M354.0 310.8h0M356.0 314.7h0M356.7 314.6h0M331.5 296.7h0M354.7 310.0h0M345.7 301.8h0M330.0 294.3h0M337.0 297.5h0M351.4 309.8h0M326.7 294.9h0M323.9 296.0h0M352.8 310.1h0M340.6 302.6h0M356.3 314.4h0M352.6 309.1h0M340.8 299.3h0M355.0 312.6h0M350.0 307.6h0M345.8 303.0h0M341.4 304.2h0M331.0 298.2h0M356.7 314.6h0M359.2 315.6h0M342.6 304.2h0M329.1 298.1h0M336.3 299.4h0M356.6 315.1h0M335.3 298.7h0M340.1 302.8h0M328.7 295.5h0M337.7 299.1h0M343.8 304.0h0M336.0 298.5h0M356.8 312.4h0M355.2 311.7h0M344.9 305.1h0M328.5 291.2h0M329.1 295.1h0M355.1 312.4h0M334.2 299.7h0M327.0 293.2h0M324.3 295.2h0M343.2 304.5h0M328.8 299.1h0M340.2 304.1h0M333.7 300.6h0M325.6 297.1h0M332.5 299.6h0M334.2 297.7h0M348.0 307.2h0M337.4 297.1h0M332.1 297.4h0M331.9 297.6h0M355.4 314.6h0M358.8 314.8h0M358.8 315.7h0M335.8 301.0h0M342.5 303.6h0M331.9 296.6h0M332.8 298.4h0M339.9 304.2h0M340.9 304.5h0M324.3 296.5h0M354.1 313.3h0M358.6 315.3h0M351.5 309.8h0M340.1 301.8h0M340.0 302.6h0M345.2 304.6h0M333.3 298.5h0M334.4 301.1h0M353.8 312.1h0M334.2 298.9h0M325.2 298.4h0M358.3 313.7h0M348.0 306.4h0M331.5 296.9h0M337.6 300.9h0M341.9 303.4h0M339.3 303.3h0M338.0 303.5h0M346.0 305.9h0M347.6 305.0h0M325.4 297.2h0M330.6 297.6h0M333.1 297.9h0M330.7 298.8h0M334.1 300.6h0M336.8 300.5h0M335.9 299.4h0M346.4 304.0h0M326.9 297.0h0M358.9 316.8h0M358.3 313.5h0M336.9 298.5h0M328.2 294.0h0M352.0 312.6h0M347.8 304.8h0M348.6 307.8h0M348.3 305.2h0M334.7 301.7h0M331.2 299.7h0M336.9 300.9h0M355.6 311.3h0M343.2 306.0h0M349.6 307.2h0M328.9 294.0h0M356.3 314.7h0M330.7 298.4h0M345.4 307.8h0M327.5 295.6h0M355.2 314.4h0M351.1 308.5h0M345.9 306.9h0M341.2 302.3h0M324.8 295.2h0M328.6 293.6h0M327.1 295.1h0M343.2 305.2h0M345.4 305.6h0M351.7 311.2h0M323.8 293.9h0M346.6 307.3h0M335.1 299.5h0M345.7 307.1h0M336.0 298.5h0M330.9 299.9h0M351.8 308.6h0M330.8 297.9h0M357.8 314.0h0M352.1 310.3h0M357.4 314.9h0M335.3 296.8h0M352.2 312.1h0M328.4 296.6h0M347.7 307.4h0M325.2 296.5h0M327.1 296.3h0M352.4 304.4h0M356.3 313.7h0M338.0 301.8h0M359.0 312.7h0M352.6 314.9h0M350.0 308.2h0M339.0 305.1h0M324.9 295.2h0M334.0 298.7h0M345.5 305.6h0M327.4 294.9h0M336.8 302.4h0M357.9 315.3h0M326.3 295.7h0M357.7 314.1h0M346.7 307.9h0M323.4 296.9h0M356.3 314.9h0M339.2 299.6h0M351.0 309.7h0M333.3 297.4h0M350.2 309.6h0" stroke="#5561ae" stroke-width="2.00" stroke-linecap="round" fill="none"/>
<path d="M322.6 302.8h0M321.8 306.2h0M324.4 309.4h0M323.3 306.8h0M322.4 310.4h0M323.2 311.2h0M321.8 299.2h0M324.4 308.2h0M321.4 305.5h0M323.9 305.1h0M324.6 311.6h0M320.4 301.5h0M321.5 307.5h0M322.6 302.8h0M325.3 310.4h0M321.8 310.8h0M324.3 309.0h0M322.5 303.2h0M321.0 301.2h0M321.4 298.1h0M319.9 299.3h0M321.5 298.9h0M323.8 308.0h0M320.9 301.1h0M321.7 303.1h0M322.1 310.3h0M323.5 307.1h0M323.6 303.2h0M325.7 307.6h0M321.2 306.1h0M322.3 302.1h0M319.5 299.9h0M321.2 299.6h0M320.7 312.6h0M326.1 307.8h0M322.8 301.5h0M325.9 310.9h0M322.0 309.6h0M322.5 309.1h0M323.7 309.3h0M322.5 309.8h0M323.4 311.4h0M322.0 300.6h0M320.7 307.8h0M324.1 306.6h0M323.9 307.5h0M324.2 307.5h0M324.2 310.6h0M322.2 305.1h0M323.9 311.6h0" stroke="#d13e33" stroke-width="2.00" stroke-linecap="round" fill="none"/>
<path d="M297.2 290.2h0M312.6 291.8h0M315.5 289.2h0M315.0 288.9h0M314.6 290.5h0M312.0 288.7h0M309.3 292.3h0M316.4 292.1h0M300.1 290.4h0M318.1 292.9h0M316.7 290.1h0M311.4 290.0h0M306.4 291.7h0M294.3 290.8h0M307.2 289.2h0M307.0 288.1h0M294.9 289.9h0M303.0 288.1h0M296.2 290.4h0M318.2 293.9h0M304.6 287.7h0M301.3 289.4h0M306.6 291.0h0M310.2 287.9h0M293.6 291.3h0M305.0 287.1h0M302.5 290.7h0M295.8 291.0h0M297.1 288.0h0M317.1 291.9h0M311.8 288.2h0M299.0 292.4h0M299.7 290.5h0M307.0 292.7h0M300.2 292.9h0M297.1 292.6h0M305.8 290.1h0M317.8 291.3h0M305.4 288.2h0M297.8 292.0h0M302.6 289.4h0M314.1 287.0h0M298.3 290.7h0M302.5 289.2h0M294.7 291.1h0M293.8 289.4h0M304.3 290.3h0M294.5 287.4h0M311.2 293.6h0M317.5 293.0h0M297.2 291.1h0M300.6 289.2h0M293.4 290.1h0M293.1 289.0h0M314.9 292.9h0M302.1 291.7h0M314.3 290.4h0M300.7 292.0h0M315.7 291.5h0M301.9 288.4h0M316.9 291.5h0M297.1 291.1h0M299.8 290.8h0M309.7 288.9h0M308.6 289.2h0M303.0 289.7h0M300.1 293.1h0M313.5 290.8h0M308.7 292.2h0M308.1 290.3h0M299.9 292.5h0M310.4 290.7h0M317.0 293.3h0M301.1 291.9h0M309.1 290.8h0M297.3 290.9h0M307.1 290.7h0M304.8 290.9h0M319.3 295.4h0M298.5 288.9h0M306.3 290.9h0M293.2 290.6h0M300.0 291.0h0M300.7 290.0h0M300.2 288.9h0M307.1 291.7h0M318.6 290.1h0M318.0 293.6h0M312.8 289.1h0M312.4 291.4h0M313.5 290.3h0M310.5 291.6h0M293.8 289.3h0M314.4 287.8h0M295.5 293.1h0M311.6 290.3h0M309.3 291.0h0M297.4 290.4h0M300.0 289.8h0M315.8 293.7h0M319.1 293.8h0M296.3 288.8h0M310.3 292.9h0M301.5 289.2h0M302.5 288.4h0M299.5 291.2h0M299.5 292.1h0M297.1 292.9h0M310.8 290.3h0M310.2 288.2h0M304.5 291.4h0M313.0 291.5h0M296.9 291.8h0M302.8 290.3h0M300.8 292.5h0M307.4 288.3h0M304.8 289.0h0M313.7 290.6h0M319.1 292.8h0M296.7 286.3h0M298.4 291.4h0M300.2 288.1h0M313.6 288.2h0M319.3 291.9h0M313.8 292.3h0M302.2 290.6h0M311.9 289.1h0M301.1 291.8h0M314.4 291.8h0M305.3 291.6h0M305.1 289.0h0M312.7 290.0h0M293.2 290.7h0M303.8 288.7h0M310.0 291.9h0M318.4 291.6h0M298.4 291.5h0M307.2 289.8h0M294.2 289.0h0M303.1 290.0h0M296.4 291.8h0M313.2 289.7h0M309.4 287.2h0M316.8 293.3h0M299.4 290.6h0M293.7 290.2h0M294.4 291.3h0M318.0 294.0h0M317.8 292.4h0M312.7 290.8h0M310.6 289.1h0M311.3 290.2h0M306.5 288.9h0M293.7 290.4h0M296.5 292.7h0M308.4 290.7h0M304.2 290.2h0M314.2 293.4h0M298.7 289.7h0M319.9 293.7h0M292.6 293.2h0M302.0 288.3h0M297.1 290.5h0M299.0 290.6h0M300.0 289.4h0M306.3 288.7h0M318.9 290.8h0M312.4 289.9h0M310.7 290.5h0M298.8 288.7h0M312.4 291.3h0M314.0 290.5h0M314.9 290.6h0M315.1 291.5h0M292.8 291.3h0M314.6 291.6h0M311.1 291.7h0M315.0 288.7h0M319.5 292.4h0M316.6 290.3h0M309.1 291.3h0M295.3 290.2h0M303.5 292.0h0M293.5 290.6h0M318.1 290.6h0M305.4 289.3h0M299.3 291.0h0M298.8 291.0h0M302.4 287.3h0M301.1 290.7h0M316.7 293.0h0M311.7 289.7h0M303.2 291.2h0M304.9 286.3h0M308.1 290.4h0M306.1 287.3h0M309.3 288.9h0M303.7 289.0h0M312.2 289.1h0M299.7 290.4h0" stroke="#6f9a57" stroke-width="2.00" stroke-linecap="round" fill="none"/>
<path d="M285.4 288.1h0M285.1 284.7h0M284.5 289.6h0M285.0 287.3h0M284.2 286.0h0M284.6 290.0h0M287.2 286.7h0M285.4 285.9h0M284.3 288.2h0M283.5 290.1h0M282.9 285.1h0M284.1 291.1h0M284.9 285.9h0M283.6 288.7h0M283.3 286.5h0M282.7 284.8h0M283.2 285.5h0M284.2 286.3h0M282.4 285.6h0M283.8 291.5h0M282.4 286.9h0M282.7 291.3h0M284.7 291.5h0M284.4 290.4h0M284.7 286.1h0M285.2 285.5h0M283.2 288.0h0M283.0 287.2h0M284.2 289.7h0M285.6 287.6h0M282.6 290.7h0M284.7 289.9h0M285.2 290.5h0M283.5 287.1h0M283.8 290.4h0M282.8 287.0h0M285.7 285.3h0M283.1 284.7h0M284.7 285.5h0M284.4 287.4h0M281.9 291.0h0M285.1 290.2h0M284.6 287.8h0M284.3 284.9h0M283.3 290.1h0M284.0 289.3h0M285.1 287.8h0M285.3 286.0h0M284.2 286.3h0M284.6 286.4h0" stroke="#466982" stroke-width="2.40" stroke-linecap="round" fill="none"/>
<circle cx="335.78" cy="305.60" r="0.90" fill="#5561ae"/>
<circle cx="338.13" cy="307.64" r="0.90" fill="#5561ae"/>
<circle cx="340.48" cy="306.11" r="0.90" fill="#5561ae"/>
<circle cx="339.69" cy="309.43" r="0.90" fill="#5561ae"/>
<circle cx="324.04" cy="316.31" r="0.90" fill="#d13e33"/>
<circle cx="324.20" cy="320.90" r="0.90" fill="#d13e33"/>
<circle cx="278.66" cy="309.43" r="0.95" fill="#ece27e"/>
<circle cx="277.09" cy="310.19" r="0.95" fill="#ece27e"/>
<circle cx="282.57" cy="301.77" r="0.95" fill="#ece27e"/>
<circle cx="273.96" cy="318.86" r="0.95" fill="#ece27e"/>
<circle cx="274.43" cy="321.41" r="0.95" fill="#ece27e"/>
<circle cx="274.75" cy="325.49" r="0.95" fill="#ece27e"/>
<circle cx="270.36" cy="354.05" r="0.95" fill="#ece27e"/>
<circle cx="288.67" cy="296.68" r="5.20" fill="#000"/>
<text x="288.77" y="300.08" font-size="9.6" text-anchor="middle" fill="#fff" stroke="#fff" stroke-width="0.45">2</text>
<circle cx="321.69" cy="294.89" r="5.20" fill="#000"/>
<text x="321.80" y="298.30" font-size="9.6" text-anchor="middle" fill="#fff" stroke="#fff" stroke-width="0.45">1</text>
<path d="M385.3,320.4 L388.9,309.4 L393.6,301.8 L399.0,296.7 L405.5,292.9 L413.4,291.3 L421.3,291.6 L427.6,292.9 L432.3,294.9 L440.2,297.9 L448.1,301.3 L456.0,305.6 L463.9,311.2 L470.9,317.3" fill="none" stroke="#000" stroke-width="1.6" stroke-linejoin="round"/>
<line x1="432.34" y1="294.89" x2="433.29" y2="301.77" stroke="#000" stroke-width="1.6"/>
<path d="M449.4 303.9h0M435.3 294.9h0M438.0 297.3h0M462.6 308.6h0M454.7 305.0h0M466.6 314.7h0M440.3 297.1h0M435.7 292.9h0M441.0 299.1h0M458.7 306.0h0M449.1 298.5h0M460.1 308.7h0M455.7 305.0h0M458.9 306.7h0M444.6 298.8h0M461.6 307.2h0M466.0 312.8h0M460.7 308.7h0M466.1 310.6h0M452.0 305.4h0M440.0 296.9h0M451.3 304.4h0M460.1 308.2h0M444.4 300.5h0M438.3 295.9h0M464.0 308.6h0M449.8 302.0h0M448.0 302.0h0M444.7 298.5h0M468.9 315.9h0M459.2 306.4h0M434.4 295.9h0M465.2 309.9h0M446.5 295.8h0M435.0 293.6h0M449.2 306.0h0M447.8 300.7h0M443.5 298.7h0M440.1 295.4h0M466.7 316.1h0M444.8 299.2h0M459.5 306.5h0M469.2 316.0h0M445.0 299.9h0M451.1 306.1h0M468.1 315.9h0M468.6 313.6h0M457.1 304.9h0M454.5 303.9h0M447.7 297.6h0M446.9 298.9h0M467.4 314.5h0M450.5 301.1h0M465.4 310.1h0M443.7 299.7h0M454.2 304.1h0M434.8 293.4h0M435.4 292.6h0M443.4 299.5h0M458.1 303.4h0M457.5 305.3h0M460.8 310.1h0M464.8 310.6h0M446.5 299.1h0M468.2 314.0h0M445.2 297.3h0M439.4 295.8h0M450.5 301.7h0M450.0 302.8h0M469.2 312.8h0M435.4 297.4h0M469.7 316.7h0M470.3 316.7h0M439.1 296.1h0M437.3 295.8h0M451.8 304.3h0M464.2 312.5h0M438.4 296.4h0M468.9 316.7h0M457.7 306.6h0M467.7 314.9h0M445.4 298.8h0M463.8 308.8h0M446.2 301.8h0M443.8 298.1h0M438.6 298.3h0M460.0 306.4h0M442.1 299.5h0M459.9 310.6h0M442.0 293.3h0M461.1 307.3h0M444.7 299.1h0M457.4 308.3h0M447.8 301.1h0M448.6 302.2h0M446.6 300.1h0M444.9 302.2h0M437.2 295.8h0M448.3 297.9h0M434.9 293.9h0M436.7 297.0h0M461.4 312.2h0M465.2 311.9h0M465.2 310.4h0M464.0 312.0h0M452.9 303.9h0M457.5 307.1h0M437.2 295.1h0M455.6 305.6h0M465.9 310.7h0M449.8 304.4h0M437.2 294.4h0M466.2 312.8h0M449.5 303.2h0M455.0 303.7h0M463.1 311.0h0M454.2 304.6h0M438.0 295.5h0M448.0 301.2h0M456.0 307.1h0M464.4 308.0h0M446.6 302.2h0M453.8 302.6h0M457.9 307.5h0M457.0 303.8h0M466.9 315.3h0M442.9 295.8h0M445.4 298.9h0M438.5 292.7h0M444.9 301.5h0M459.2 306.8h0M438.7 298.3h0M440.0 295.3h0M439.0 296.4h0M437.4 295.9h0M441.6 296.8h0M450.3 303.1h0M454.7 304.0h0M441.7 297.9h0M449.4 301.8h0M450.6 302.6h0M456.0 303.7h0M436.7 295.0h0M468.1 313.3h0M457.3 305.9h0M442.9 299.4h0M470.4 317.1h0M455.6 305.4h0M452.6 302.3h0M462.9 310.6h0M453.3 306.0h0M468.2 316.3h0M469.7 314.4h0M463.0 313.0h0M463.1 309.6h0M445.1 301.3h0M448.8 299.3h0M447.5 300.8h0M444.3 298.9h0M470.4 316.4h0M435.0 292.0h0M445.8 300.8h0M468.9 315.2h0M469.4 315.8h0M468.4 313.7h0M463.7 311.1h0M434.7 294.9h0M459.8 308.6h0M446.7 301.5h0M444.6 300.1h0M457.6 304.9h0M449.9 302.1h0M459.2 306.3h0M469.0 313.9h0M459.1 304.6h0M443.5 296.4h0M440.3 294.7h0M439.2 294.1h0M449.0 299.4h0M434.3 295.0h0M452.6 301.1h0M440.2 295.5h0M444.4 300.8h0M446.4 299.7h0M457.3 305.6h0M444.5 300.5h0M446.1 302.1h0M445.0 300.3h0M436.3 294.1h0M449.0 301.3h0M465.4 311.1h0M460.1 308.7h0M461.4 308.9h0M449.1 299.3h0M443.2 299.8h0M462.0 310.7h0M463.6 311.4h0M446.9 299.6h0M457.4 305.7h0M444.8 298.7h0M463.2 309.7h0M445.3 297.1h0M463.8 313.6h0M443.2 296.2h0M465.4 312.9h0M467.5 314.6h0M467.8 312.4h0M445.4 298.9h0M455.3 304.4h0M446.0 299.3h0M449.4 301.3h0M460.3 310.6h0M458.2 308.6h0M467.4 310.2h0M456.8 306.3h0M449.2 302.3h0M444.0 298.8h0M453.6 305.2h0M437.7 295.3h0M470.0 317.0h0M447.8 298.8h0M455.4 304.0h0M456.0 309.1h0M468.4 316.0h0M447.4 298.8h0M469.9 315.1h0M463.1 309.2h0M443.6 297.1h0M452.0 302.1h0M451.5 302.3h0M445.5 297.8h0M440.8 298.3h0M441.6 297.6h0M468.8 313.6h0M454.0 305.0h0M438.3 294.3h0M469.1 315.0h0M437.0 298.3h0M434.9 294.1h0M456.3 305.5h0" stroke="#5561ae" stroke-width="2.00" stroke-linecap="round" fill="none"/>
<path d="M435.8 308.9h0M434.1 310.3h0M433.2 307.3h0M433.2 305.9h0M434.0 304.3h0M430.9 304.7h0M434.3 300.6h0M435.1 309.6h0M434.6 303.6h0M432.6 303.7h0M432.9 301.0h0M434.0 303.4h0M435.8 307.0h0M433.4 306.8h0M431.7 298.3h0M433.5 298.7h0M433.3 311.9h0M431.8 302.9h0M435.1 309.5h0M432.2 304.3h0M432.9 301.2h0M435.1 310.3h0M432.0 300.2h0M432.2 310.7h0M433.6 303.6h0M432.5 299.1h0M433.6 311.3h0M432.6 300.3h0M432.9 301.0h0M434.1 306.9h0M432.8 298.7h0M431.6 298.4h0M433.7 308.5h0M431.1 308.3h0M434.1 311.6h0M433.2 302.1h0M431.0 301.2h0M435.5 308.4h0M434.4 310.5h0M433.1 307.2h0M431.6 304.3h0M431.9 299.8h0M434.6 309.1h0M435.0 310.0h0M433.9 310.5h0M435.5 310.2h0M432.7 299.2h0M430.9 299.7h0M433.3 300.2h0M431.6 303.0h0" stroke="#d13e33" stroke-width="2.00" stroke-linecap="round" fill="none"/>
<path d="M406.0 290.6h0M407.3 289.2h0M430.4 292.5h0M407.8 290.4h0M426.7 293.6h0M425.4 289.9h0M426.2 290.8h0M420.8 290.0h0M426.2 291.6h0M413.7 289.3h0M412.7 291.8h0M417.5 286.6h0M427.3 290.9h0M420.9 291.8h0M414.9 291.8h0M409.5 292.9h0M426.8 294.9h0M425.2 290.4h0M410.4 289.1h0M418.5 288.4h0M419.0 291.4h0M414.6 289.3h0M430.4 291.5h0M428.0 293.1h0M409.0 292.2h0M403.1 291.2h0M408.2 290.4h0M430.1 293.5h0M405.1 291.4h0M402.9 290.7h0M412.0 289.9h0M406.9 290.3h0M406.0 288.6h0M406.3 290.5h0M420.3 291.4h0M410.6 290.2h0M410.2 290.4h0M426.9 292.0h0M408.4 288.4h0M405.6 292.3h0M403.4 290.6h0M417.4 291.3h0M424.0 290.2h0M427.5 292.7h0M424.4 290.2h0M423.8 292.9h0M412.2 290.1h0M422.8 293.3h0M411.1 291.5h0M404.3 289.8h0M425.1 292.6h0M423.7 290.6h0M426.9 292.9h0M420.0 291.0h0M405.1 290.4h0M409.0 290.9h0M420.1 289.0h0M429.3 294.4h0M402.9 292.4h0M422.0 293.0h0M412.4 290.5h0M420.7 292.9h0M414.8 290.1h0M426.0 290.0h0M416.7 291.4h0M422.2 294.5h0M428.9 292.5h0M416.6 290.3h0M428.0 292.4h0M420.1 290.0h0M426.5 291.3h0M424.6 292.1h0M409.4 291.3h0M416.3 288.2h0M403.9 292.4h0M408.2 287.9h0M426.6 289.8h0M428.5 293.2h0M404.2 290.6h0M409.8 291.1h0M412.0 288.7h0M423.2 289.8h0M425.6 292.3h0M410.8 290.4h0M404.7 288.3h0M404.5 289.4h0M414.1 289.9h0M424.5 289.8h0M425.3 292.0h0M406.1 289.5h0M413.4 290.8h0M402.8 290.2h0M405.7 290.2h0M421.3 289.1h0M423.8 290.8h0M419.0 292.1h0M416.2 291.7h0M426.1 290.0h0M417.5 288.1h0M408.1 290.0h0M420.6 286.6h0M416.5 292.9h0M420.5 290.3h0M408.6 287.7h0M424.5 292.1h0M422.6 291.2h0M430.0 293.7h0M422.8 289.2h0M414.7 287.5h0M404.1 290.4h0M414.4 290.6h0M405.4 292.7h0M425.8 291.5h0M429.7 290.6h0M413.8 291.3h0M429.1 291.9h0M418.5 288.8h0M413.0 290.5h0M409.5 290.6h0M403.2 292.5h0M425.6 290.7h0M409.7 289.4h0M407.9 288.3h0M426.2 292.1h0M422.4 290.7h0M430.6 293.4h0M418.0 288.3h0M429.5 291.7h0M413.3 289.8h0M425.3 292.7h0M418.6 289.2h0M402.5 288.4h0M413.7 289.1h0M415.0 292.2h0M427.6 292.5h0M404.9 291.1h0M418.0 290.2h0M425.5 292.6h0M426.8 291.2h0M422.3 288.9h0M411.3 291.0h0M422.1 290.5h0M406.2 290.7h0M429.6 292.6h0M423.8 291.1h0M424.3 286.5h0M407.4 289.2h0M416.9 290.4h0M412.4 291.6h0M416.0 292.5h0M427.2 294.2h0M430.5 292.1h0M412.6 291.5h0M428.4 290.7h0M424.7 291.6h0M412.3 288.3h0M428.0 291.1h0M417.7 288.9h0M424.9 293.7h0M410.9 289.6h0M416.8 290.3h0M405.1 293.3h0M425.7 289.1h0M430.3 294.4h0M407.2 291.3h0M416.3 288.8h0M426.6 292.1h0M411.1 289.8h0M429.6 293.3h0M405.7 289.1h0M424.6 290.0h0M422.5 292.5h0M408.2 289.1h0M411.8 290.3h0M403.6 290.3h0M408.6 292.4h0M412.0 290.5h0M419.8 291.5h0M402.7 289.2h0M424.5 289.3h0M420.5 291.4h0M430.3 292.2h0M416.9 289.5h0M422.9 292.3h0M414.7 290.3h0M415.6 289.5h0M421.1 290.7h0M405.0 290.3h0M425.1 292.1h0M411.6 291.2h0M429.3 293.6h0M415.8 291.7h0M409.6 290.4h0M429.1 292.6h0M408.4 289.7h0M423.0 289.0h0M429.4 293.4h0M408.8 288.4h0M408.6 292.1h0M405.3 292.3h0" stroke="#6f9a57" stroke-width="2.00" stroke-linecap="round" fill="none"/>
<path d="M395.0 288.1h0M394.5 289.7h0M395.3 287.0h0M393.0 285.8h0M395.0 286.6h0M394.4 285.6h0M394.0 290.6h0M394.4 288.9h0M394.6 290.5h0M394.5 284.8h0M393.1 289.4h0M394.3 286.1h0M393.6 288.8h0M393.9 291.3h0M394.1 286.4h0M395.4 287.5h0M392.7 287.4h0M393.6 288.7h0M395.4 286.9h0M393.8 291.2h0M395.1 289.0h0M395.3 286.2h0M395.2 290.4h0M394.2 287.2h0M395.3 288.8h0M393.1 286.5h0M394.1 285.0h0M394.7 286.9h0M393.7 289.9h0M393.3 285.2h0M394.5 289.2h0M395.2 284.7h0M395.2 291.0h0M395.3 288.1h0M393.4 291.5h0M395.0 285.2h0M393.8 286.2h0M391.3 288.3h0M396.2 291.1h0M394.4 289.7h0M395.2 287.7h0M394.6 286.9h0M395.2 286.5h0M395.1 286.7h0M395.0 291.2h0M392.4 290.5h0M392.6 291.2h0M395.4 285.3h0M394.7 288.4h0M396.1 291.6h0" stroke="#466982" stroke-width="2.40" stroke-linecap="round" fill="none"/>
<circle cx="446.56" cy="305.60" r="0.90" fill="#5561ae"/>
<circle cx="448.93" cy="307.64" r="0.90" fill="#5561ae"/>
<circle cx="451.30" cy="306.11" r="0.90" fill="#5561ae"/>
<circle cx="450.51" cy="309.43" r="0.90" fill="#5561ae"/>
<circle cx="434.71" cy="316.31" r="0.90" fill="#d13e33"/>
<circle cx="434.87" cy="320.90" r="0.90" fill="#d13e33"/>
<path d="M383.9 320.2h0M391.7 302.4h0M394.1 294.7h0M383.0 313.2h0M394.2 299.5h0M385.5 315.6h0M388.5 306.9h0M389.4 303.6h0M381.6 327.5h0M387.9 305.1h0M382.6 323.1h0M394.0 300.3h0M382.3 322.6h0M388.0 305.9h0M382.7 320.4h0M392.5 301.4h0M380.5 322.1h0M381.5 327.2h0M382.6 320.1h0M395.5 299.4h0M393.0 295.5h0M396.6 297.4h0M383.8 314.9h0M384.7 322.1h0M382.4 321.2h0M382.4 324.3h0M380.9 323.3h0M389.4 307.8h0M386.5 308.3h0M397.5 299.6h0M389.3 309.7h0M382.3 315.9h0M387.1 310.6h0M393.8 298.0h0M394.6 301.3h0M383.4 326.6h0M383.3 323.3h0M384.7 318.1h0M385.1 317.3h0M389.3 306.9h0M385.5 315.7h0M396.3 295.6h0M393.7 305.1h0M383.8 322.7h0M396.2 297.2h0M382.3 316.0h0M382.4 319.9h0M385.5 318.4h0M396.9 297.8h0M382.5 319.2h0M383.4 324.3h0M380.2 326.1h0M381.9 322.1h0M383.3 322.0h0M383.1 326.7h0M382.6 327.9h0M393.4 298.4h0M382.9 323.9h0M390.4 307.6h0M382.1 321.2h0M383.9 322.7h0M385.0 318.1h0M394.4 298.7h0M382.2 313.4h0M387.5 308.3h0M395.8 295.8h0M383.6 320.3h0M383.8 320.8h0M385.8 311.3h0M393.1 301.1h0M385.2 314.8h0M385.0 317.7h0M395.3 300.5h0M396.0 297.0h0M388.7 307.7h0M385.8 316.6h0M386.9 308.2h0M384.4 315.9h0M390.3 306.3h0M381.7 320.2h0M394.8 301.1h0M390.5 303.1h0M394.2 300.3h0M389.6 306.7h0M379.5 325.6h0M390.3 303.2h0M388.0 310.0h0M394.8 299.1h0M395.7 295.3h0M386.2 309.0h0M391.0 303.6h0M386.8 317.1h0M391.6 301.9h0M396.3 296.1h0M389.2 307.6h0M388.1 307.3h0M382.7 325.5h0M381.3 325.1h0M383.3 309.4h0M382.4 316.6h0M383.6 322.5h0M385.1 317.3h0M388.8 302.5h0M384.2 320.9h0M393.4 298.7h0M397.1 296.2h0M393.1 301.2h0M393.5 299.0h0M382.3 326.5h0M397.0 301.0h0M389.5 305.8h0M384.0 318.3h0M396.5 297.0h0M383.4 325.7h0M391.8 302.6h0M383.7 313.2h0M393.5 302.5h0M388.2 312.2h0M381.5 325.5h0M396.6 298.2h0M380.3 326.5h0M384.6 316.6h0M394.6 302.2h0M386.7 310.4h0M395.6 296.2h0M383.8 322.3h0M389.4 310.2h0M393.4 301.0h0M390.8 301.0h0M383.5 324.7h0M381.4 326.4h0M395.1 298.8h0M390.7 299.7h0M388.5 305.0h0M389.9 308.6h0M388.1 306.2h0M395.0 296.4h0M387.8 309.8h0M390.8 301.5h0M383.9 325.7h0M392.7 306.4h0M392.1 300.0h0M384.8 306.0h0M391.4 302.4h0M384.7 316.9h0M383.6 317.6h0M385.3 320.1h0M383.5 315.5h0M390.0 298.6h0M380.7 325.7h0M384.1 315.3h0M389.3 301.0h0M384.7 321.5h0M386.8 313.8h0M387.5 303.0h0M395.8 298.1h0M388.1 307.1h0M394.0 295.4h0M396.2 296.1h0M385.5 308.0h0M383.4 324.7h0M386.1 316.6h0M387.9 308.6h0M394.1 300.3h0M389.1 303.8h0M390.8 298.1h0M394.6 297.6h0M386.9 309.4h0M389.4 306.4h0M382.2 311.6h0M381.9 314.3h0M381.7 324.6h0M380.4 322.1h0M382.8 322.5h0M390.3 301.4h0M384.0 323.6h0M383.3 321.7h0M390.1 301.6h0M385.4 314.5h0M384.4 322.3h0M383.3 322.6h0M389.5 307.5h0M386.8 309.5h0M393.9 300.8h0M382.1 320.1h0M384.6 316.0h0M396.9 300.5h0M382.2 324.9h0M385.2 311.4h0M387.8 301.1h0M388.5 308.2h0M386.5 312.8h0M387.4 308.8h0M389.7 308.3h0M381.8 322.8h0M387.2 313.0h0M396.4 295.9h0M383.6 318.1h0M391.8 300.0h0M388.9 309.8h0M387.7 305.7h0M385.4 311.4h0M393.7 301.1h0M386.3 317.8h0M395.4 298.1h0M394.2 299.1h0M384.4 307.6h0M381.2 325.6h0M384.2 312.0h0M397.8 298.4h0M390.3 306.7h0M381.5 326.1h0M393.1 301.8h0M381.0 324.0h0M395.7 297.0h0M388.6 314.6h0M393.9 299.6h0M384.6 319.4h0M385.2 311.8h0M383.6 315.1h0M382.9 323.5h0M391.5 301.7h0M386.2 311.9h0M379.8 324.8h0M391.2 305.4h0M388.0 303.0h0M391.5 305.7h0M395.5 294.9h0M385.3 312.8h0M386.8 307.9h0M393.1 303.9h0M391.6 302.3h0M392.7 300.9h0M383.8 314.8h0M392.6 302.1h0M390.7 300.6h0M392.9 295.4h0M386.4 317.6h0M382.0 323.2h0M393.4 299.9h0M391.9 300.1h0M396.1 300.7h0M390.0 304.6h0M389.6 304.8h0M381.8 321.4h0M394.4 303.0h0M386.6 309.2h0M383.7 326.6h0M389.1 300.1h0M388.5 305.9h0M387.7 312.6h0M382.0 321.6h0M392.2 304.1h0M389.3 309.0h0M386.2 314.1h0M387.0 313.7h0M390.4 301.2h0M381.0 325.0h0M387.4 310.2h0M384.6 316.6h0M395.8 298.9h0M384.8 310.1h0M394.5 301.3h0M386.2 313.9h0M395.1 299.2h0M385.2 314.5h0M381.8 319.9h0M384.7 321.3h0M387.2 305.8h0M389.0 306.8h0M391.1 300.4h0M382.9 328.7h0M382.4 320.7h0M396.2 297.4h0M389.7 301.1h0M390.3 301.1h0M381.6 316.1h0M395.8 295.6h0M391.7 300.4h0M395.6 296.0h0M389.8 303.6h0M387.9 310.2h0M385.5 311.6h0M385.4 314.8h0M390.4 298.3h0M384.0 323.6h0M384.9 318.4h0M381.2 322.8h0M386.3 318.0h0M396.2 297.0h0M393.1 295.8h0M388.5 300.6h0M382.9 326.9h0M393.0 299.1h0M396.3 297.6h0M394.1 303.6h0M391.8 299.1h0M384.7 313.1h0M381.9 320.9h0M395.2 297.7h0M382.8 324.7h0M383.0 319.7h0M383.0 322.2h0M385.8 321.3h0M382.9 313.4h0M387.4 309.4h0M382.4 321.0h0M389.0 300.6h0M397.5 297.3h0M390.5 304.8h0M381.1 322.8h0M384.7 317.4h0M390.9 306.4h0M384.8 315.0h0M394.9 295.7h0M383.6 323.0h0M384.9 322.5h0M389.1 309.4h0M395.3 298.6h0M393.6 299.8h0M382.2 331.6h0M377.9 331.2h0M382.9 329.1h0M380.7 329.8h0M382.9 332.3h0M380.3 329.3h0M382.1 330.3h0M381.7 328.6h0M381.1 330.4h0M379.6 328.8h0M382.3 332.9h0M380.3 332.6h0M380.9 328.1h0M382.7 329.4h0M380.5 330.0h0M381.0 330.0h0M382.3 330.0h0M380.9 330.6h0M381.8 328.9h0M379.7 327.8h0M381.5 333.1h0M379.5 329.8h0M379.8 330.6h0M382.6 331.6h0M383.0 332.7h0M381.0 329.7h0M380.8 328.6h0M380.1 329.6h0M381.1 329.5h0M380.7 333.3h0M380.6 328.3h0M383.3 332.7h0M380.2 331.6h0M380.8 333.3h0M380.7 330.6h0M380.7 330.1h0M380.9 331.5h0M381.0 331.9h0M383.5 330.7h0M377.7 330.7h0" stroke="#ece27e" stroke-width="2.00" stroke-linecap="round" fill="none"/>
<path d="M381.5 353.6h0M385.3 331.8h0M383.3 334.0h0M376.6 369.1h0M380.6 350.4h0M376.1 373.3h0M379.8 353.7h0M376.6 358.5h0M381.5 350.5h0M382.7 343.9h0M383.0 338.7h0M382.2 339.2h0M380.0 377.5h0M379.8 355.9h0M382.9 353.4h0M383.1 331.6h0M375.4 381.2h0M379.7 362.5h0M387.9 336.4h0M382.2 337.6h0M382.7 336.0h0M379.8 377.0h0M383.6 336.8h0M382.6 345.4h0M382.0 343.7h0M380.3 367.8h0M380.3 353.5h0M380.4 361.8h0M379.3 363.6h0M377.1 349.7h0M379.0 365.7h0M381.7 349.4h0M378.5 340.0h0M382.5 339.3h0M382.1 375.3h0M380.8 336.9h0M381.7 331.7h0M377.0 364.3h0M379.6 351.7h0M379.1 352.7h0" stroke="#ece27e" stroke-width="1.90" stroke-linecap="round" fill="none"/>
<circle cx="402.32" cy="300.50" r="0.90" fill="#ece27e"/>
<circle cx="400.74" cy="304.32" r="0.90" fill="#ece27e"/>
<circle cx="398.37" cy="308.15" r="0.90" fill="#ece27e"/>
<circle cx="399.00" cy="296.68" r="5.20" fill="#000"/>
<text x="399.10" y="300.08" font-size="9.6" text-anchor="middle" fill="#fff" stroke="#fff" stroke-width="0.45">2</text>
<circle cx="432.34" cy="294.89" r="5.20" fill="#000"/>
<text x="432.44" y="298.30" font-size="9.6" text-anchor="middle" fill="#fff" stroke="#fff" stroke-width="0.45">1</text>
<line x1="259.70" y1="280.40" x2="259.70" y2="386.55" stroke="#333" stroke-width="0.9"/>
<line x1="259.25" y1="386.10" x2="365.30" y2="386.10" stroke="#333" stroke-width="0.9"/>
<line x1="370.50" y1="386.10" x2="475.40" y2="386.10" stroke="#333" stroke-width="0.9"/>
<line x1="257.40" y1="300.50" x2="259.70" y2="300.50" stroke="#333" stroke-width="0.9"/>
<text x="256.10" y="303.90" font-size="9.5" text-anchor="end" fill="#4d4d4d" stroke="#4d4d4d" stroke-width="0.2">0</text>
<line x1="257.40" y1="326.00" x2="259.70" y2="326.00" stroke="#333" stroke-width="0.9"/>
<text x="256.10" y="329.40" font-size="9.5" text-anchor="end" fill="#4d4d4d" stroke="#4d4d4d" stroke-width="0.2">−1</text>
<line x1="257.40" y1="351.50" x2="259.70" y2="351.50" stroke="#333" stroke-width="0.9"/>
<text x="256.10" y="354.90" font-size="9.5" text-anchor="end" fill="#4d4d4d" stroke="#4d4d4d" stroke-width="0.2">−2</text>
<line x1="257.40" y1="377.00" x2="259.70" y2="377.00" stroke="#333" stroke-width="0.9"/>
<text x="256.10" y="380.40" font-size="9.5" text-anchor="end" fill="#4d4d4d" stroke="#4d4d4d" stroke-width="0.2">−3</text>
<line x1="285.70" y1="386.10" x2="285.70" y2="388.40" stroke="#333" stroke-width="0.9"/>
<text x="285.70" y="396.80" font-size="9.5" text-anchor="middle" fill="#4d4d4d" stroke="#4d4d4d" stroke-width="0.2">−2</text>
<line x1="317.00" y1="386.10" x2="317.00" y2="388.40" stroke="#333" stroke-width="0.9"/>
<text x="317.00" y="396.80" font-size="9.5" text-anchor="middle" fill="#4d4d4d" stroke="#4d4d4d" stroke-width="0.2">0</text>
<line x1="348.30" y1="386.10" x2="348.30" y2="388.40" stroke="#333" stroke-width="0.9"/>
<text x="348.30" y="396.80" font-size="9.5" text-anchor="middle" fill="#4d4d4d" stroke="#4d4d4d" stroke-width="0.2">2</text>
<line x1="396.00" y1="386.10" x2="396.00" y2="388.40" stroke="#333" stroke-width="0.9"/>
<text x="396.00" y="396.80" font-size="9.5" text-anchor="middle" fill="#4d4d4d" stroke="#4d4d4d" stroke-width="0.2">−2</text>
<line x1="427.60" y1="386.10" x2="427.60" y2="388.40" stroke="#333" stroke-width="0.9"/>
<text x="427.60" y="396.80" font-size="9.5" text-anchor="middle" fill="#4d4d4d" stroke="#4d4d4d" stroke-width="0.2">0</text>
<line x1="459.20" y1="386.10" x2="459.20" y2="388.40" stroke="#333" stroke-width="0.9"/>
<text x="459.20" y="396.80" font-size="9.5" text-anchor="middle" fill="#4d4d4d" stroke="#4d4d4d" stroke-width="0.2">2</text>
<text x="312.50" y="276.00" font-size="9.8" text-anchor="middle" fill="#222" stroke="#222" stroke-width="0.2" font-style="italic">UPP</text>
<text x="422.20" y="275.80" font-size="9.8" text-anchor="middle" fill="#222" stroke="#222" stroke-width="0.2" font-style="italic">UPPA</text>
<text x="370.70" y="409.50" font-size="9.7" text-anchor="middle" fill="#111" stroke="#111" stroke-width="0.2">Component 1</text>
<text x="238.20" y="330.50" font-size="9.95" text-anchor="middle" fill="#111" stroke="#111" stroke-width="0.2" transform="rotate(-90 238.20 330.50)">Component 2</text>
<rect x="549.50" y="234.80" width="75.90" height="146.50" fill="#fff"/>
<line x1="549.50" y1="357.89" x2="625.40" y2="357.89" stroke="#f2f2f2" stroke-width="0.5"/>
<line x1="549.50" y1="324.66" x2="625.40" y2="324.66" stroke="#f2f2f2" stroke-width="0.5"/>
<line x1="549.50" y1="291.44" x2="625.40" y2="291.44" stroke="#f2f2f2" stroke-width="0.5"/>
<line x1="549.50" y1="258.21" x2="625.40" y2="258.21" stroke="#f2f2f2" stroke-width="0.5"/>
<line x1="549.50" y1="374.50" x2="625.40" y2="374.50" stroke="#e6e6e6" stroke-width="0.8"/>
<line x1="549.50" y1="341.27" x2="625.40" y2="341.27" stroke="#e6e6e6" stroke-width="0.8"/>
<line x1="549.50" y1="308.05" x2="625.40" y2="308.05" stroke="#e6e6e6" stroke-width="0.8"/>
<line x1="549.50" y1="274.82" x2="625.40" y2="274.82" stroke="#e6e6e6" stroke-width="0.8"/>
<line x1="549.50" y1="241.60" x2="625.40" y2="241.60" stroke="#e6e6e6" stroke-width="0.8"/>
<line x1="569.90" y1="234.80" x2="569.90" y2="381.30" stroke="#e6e6e6" stroke-width="0.8"/>
<line x1="604.60" y1="234.80" x2="604.60" y2="381.30" stroke="#e6e6e6" stroke-width="0.8"/>
<rect x="561.20" y="367.86" width="17.50" height="6.64" fill="#466982" stroke="#333" stroke-width="0.4"/>
<rect x="561.20" y="365.80" width="17.50" height="2.06" fill="#ece27e" stroke="#333" stroke-width="0.4"/>
<rect x="561.20" y="336.76" width="17.50" height="29.04" fill="#6f9a57" stroke="#333" stroke-width="0.4"/>
<rect x="561.20" y="319.88" width="17.50" height="16.88" fill="#d13e33" stroke="#333" stroke-width="0.4"/>
<rect x="561.20" y="241.60" width="17.50" height="78.28" fill="#5561ae" stroke="#333" stroke-width="0.4"/>
<rect x="595.90" y="355.23" width="17.40" height="19.27" fill="#466982" stroke="#333" stroke-width="0.4"/>
<rect x="595.90" y="329.58" width="17.40" height="25.65" fill="#ece27e" stroke="#333" stroke-width="0.4"/>
<rect x="595.90" y="292.77" width="17.40" height="36.81" fill="#6f9a57" stroke="#333" stroke-width="0.4"/>
<rect x="595.90" y="285.06" width="17.40" height="7.71" fill="#d13e33" stroke="#333" stroke-width="0.4"/>
<rect x="595.90" y="241.60" width="17.40" height="43.46" fill="#5561ae" stroke="#333" stroke-width="0.4"/>
<rect x="549.50" y="234.80" width="75.90" height="146.50" fill="none" stroke="#333" stroke-width="1.0"/>
<line x1="547.30" y1="374.50" x2="549.50" y2="374.50" stroke="#333" stroke-width="0.9"/>
<text x="546.30" y="378.00" font-size="9.6" text-anchor="end" fill="#222" stroke="#222" stroke-width="0.2">0.00</text>
<line x1="547.30" y1="341.27" x2="549.50" y2="341.27" stroke="#333" stroke-width="0.9"/>
<text x="546.30" y="344.77" font-size="9.6" text-anchor="end" fill="#222" stroke="#222" stroke-width="0.2">0.25</text>
<line x1="547.30" y1="308.05" x2="549.50" y2="308.05" stroke="#333" stroke-width="0.9"/>
<text x="546.30" y="311.55" font-size="9.6" text-anchor="end" fill="#222" stroke="#222" stroke-width="0.2">0.50</text>
<line x1="547.30" y1="274.82" x2="549.50" y2="274.82" stroke="#333" stroke-width="0.9"/>
<text x="546.30" y="278.32" font-size="9.6" text-anchor="end" fill="#222" stroke="#222" stroke-width="0.2">0.75</text>
<line x1="547.30" y1="241.60" x2="549.50" y2="241.60" stroke="#333" stroke-width="0.9"/>
<text x="546.30" y="245.10" font-size="9.6" text-anchor="end" fill="#222" stroke="#222" stroke-width="0.2">1.00</text>
<line x1="569.90" y1="381.30" x2="569.90" y2="383.50" stroke="#333" stroke-width="0.9"/>
<line x1="604.60" y1="381.30" x2="604.60" y2="383.50" stroke="#333" stroke-width="0.9"/>
<text x="569.50" y="394.60" font-size="9.8" text-anchor="middle" fill="#111" stroke="#111" stroke-width="0.2" font-style="italic">UPP</text>
<text x="604.00" y="394.60" font-size="9.8" text-anchor="middle" fill="#111" stroke="#111" stroke-width="0.2" font-style="italic">UPPA</text>
<text x="588.90" y="226.60" font-size="9.9" text-anchor="middle" fill="#111" stroke="#111" stroke-width="0.2">chisq p &lt; 2.2e−16</text>
<text x="521.60" y="300.70" font-size="9.6" text-anchor="middle" fill="#111" stroke="#111" stroke-width="0.2" transform="rotate(-90 521.60 300.70)">Percentage</text>
<text x="639.20" y="283.70" font-size="9.6" text-anchor="start" fill="#111" stroke="#111" stroke-width="0.2">CellState</text>
<rect x="639.70" y="289.00" width="9.80" height="9.75" fill="#5561ae" stroke="#fff" stroke-width="0.4"/>
<text x="654.00" y="297.30" font-size="9.6" text-anchor="start" fill="#111" stroke="#111" stroke-width="0.2">1</text>
<rect x="639.70" y="298.75" width="9.80" height="9.75" fill="#d13e33" stroke="#fff" stroke-width="0.4"/>
<text x="654.00" y="307.05" font-size="9.6" text-anchor="start" fill="#111" stroke="#111" stroke-width="0.2">2</text>
<rect x="639.70" y="308.50" width="9.80" height="9.75" fill="#6f9a57" stroke="#fff" stroke-width="0.4"/>
<text x="654.00" y="316.80" font-size="9.6" text-anchor="start" fill="#111" stroke="#111" stroke-width="0.2">3</text>
<rect x="639.70" y="318.25" width="9.80" height="9.75" fill="#ece27e" stroke="#fff" stroke-width="0.4"/>
<text x="654.00" y="326.55" font-size="9.6" text-anchor="start" fill="#111" stroke="#111" stroke-width="0.2">4</text>
<rect x="639.70" y="328.00" width="9.80" height="9.75" fill="#466982" stroke="#fff" stroke-width="0.4"/>
<text x="654.00" y="336.30" font-size="9.6" text-anchor="start" fill="#111" stroke="#111" stroke-width="0.2">5</text>
<text x="106.30" y="441.60" font-size="11" text-anchor="middle" fill="#111" stroke="#111" stroke-width="0.2" font-style="italic" font-weight="bold">UPP</text>
<text x="177.00" y="441.60" font-size="11" text-anchor="middle" fill="#111" stroke="#111" stroke-width="0.2" font-style="italic" font-weight="bold">UPPA</text>
<path d="M126.4 471.1h0M128.6 474.5h0M134.5 476.7h0M116.8 464.5h0M112.0 463.4h0M112.3 465.9h0M113.7 465.4h0M120.0 466.1h0M121.4 467.5h0M131.6 476.1h0M124.4 470.5h0M126.4 471.6h0M111.9 464.7h0M122.5 468.8h0M128.1 473.1h0M112.2 464.5h0M131.4 474.4h0M115.2 466.0h0M129.2 472.8h0M132.3 477.6h0M131.6 474.1h0M130.6 474.7h0M132.7 477.7h0M103.8 461.0h0M104.3 459.5h0M101.9 461.1h0M106.5 460.4h0M92.7 460.7h0M104.7 460.1h0M97.8 461.4h0M97.7 460.0h0M105.0 461.3h0M97.9 460.5h0M108.7 461.7h0M100.3 459.5h0M91.3 462.3h0M105.0 460.4h0M94.3 461.3h0M97.7 460.0h0M93.8 462.9h0M99.8 460.3h0M99.3 458.6h0M101.2 459.2h0M108.6 461.5h0M99.4 461.2h0" stroke="#21908c" stroke-width="2.00" stroke-linecap="round" fill="none"/>
<path d="M112.0 466.3h0M132.8 475.3h0M122.8 468.8h0M112.2 462.8h0M118.6 465.2h0M130.1 474.6h0M116.7 465.8h0M124.3 470.3h0M132.3 476.1h0M120.3 467.2h0M118.9 466.4h0M111.7 464.2h0M130.6 474.9h0M118.9 468.4h0M134.3 477.0h0M120.4 467.7h0M133.5 475.5h0M124.5 470.2h0M113.7 463.8h0M128.0 471.5h0M134.4 477.4h0M122.8 467.5h0M113.0 464.1h0M131.2 474.7h0M114.2 465.2h0M115.3 464.8h0M133.9 478.1h0M123.1 468.7h0M134.1 476.1h0M123.5 469.5h0M120.3 467.1h0M120.3 467.7h0M129.5 474.1h0M118.9 465.4h0M111.9 464.4h0M123.4 471.9h0M115.9 464.2h0M127.4 474.0h0M129.0 472.0h0M127.7 470.3h0M126.5 470.8h0M112.1 465.4h0M122.1 468.9h0M126.4 471.7h0M122.9 468.9h0M119.3 466.7h0M116.5 464.6h0M126.2 470.6h0M117.4 466.1h0M118.3 466.6h0M114.5 464.4h0M126.0 471.7h0M131.2 473.2h0M130.5 474.6h0M125.6 471.3h0M134.2 475.6h0M132.4 475.8h0M114.1 466.0h0M120.5 468.2h0M134.2 476.8h0M134.3 475.8h0M134.1 477.9h0M121.3 469.3h0M118.9 464.2h0M114.5 465.7h0M129.9 473.7h0M118.3 464.9h0M126.7 468.5h0M126.5 472.6h0M129.2 474.1h0M124.2 470.1h0M122.9 468.1h0M129.1 473.2h0M121.8 468.4h0M120.7 468.5h0M132.9 475.6h0M122.8 470.0h0M115.3 465.6h0M130.3 473.4h0M127.5 474.8h0M128.8 471.1h0M118.7 466.2h0M121.5 468.4h0M126.5 470.6h0M113.4 464.4h0M125.2 470.4h0M121.5 470.3h0M125.3 472.8h0M113.0 464.2h0M124.6 470.8h0M123.9 469.7h0M117.1 467.2h0M128.7 471.4h0M113.7 464.8h0M125.6 470.9h0M112.4 464.0h0M113.2 463.0h0M117.3 464.1h0M133.9 477.9h0M126.0 472.5h0M117.2 466.8h0M121.1 466.7h0M130.8 475.4h0M131.1 476.1h0M125.3 471.9h0M113.9 465.4h0M116.9 463.9h0M129.6 472.7h0M123.1 467.9h0M122.5 469.6h0M129.8 473.7h0M134.1 476.9h0M130.1 474.9h0M130.3 474.0h0M132.5 477.5h0M131.6 475.3h0M130.3 475.2h0M133.0 476.7h0M130.3 474.0h0M131.4 474.4h0M131.3 476.1h0M132.9 477.3h0M131.4 479.8h0M131.8 475.7h0M129.9 471.7h0M134.5 477.0h0M130.5 473.6h0M130.3 474.4h0M129.8 474.4h0M130.9 476.1h0M129.3 474.3h0M133.3 480.1h0M128.4 475.2h0M131.1 477.0h0M129.7 477.3h0M129.6 473.5h0M129.3 473.8h0M128.8 476.6h0M130.5 473.6h0M130.4 474.1h0M133.0 476.2h0M131.0 475.2h0M130.9 476.4h0M134.5 476.1h0M110.5 473.6h0M111.0 473.2h0M110.2 470.3h0M110.6 467.3h0M111.2 469.1h0M111.0 473.5h0M110.4 468.0h0M112.3 474.0h0M110.5 470.6h0M111.7 469.3h0M111.2 473.1h0M111.5 471.2h0M112.4 474.6h0M109.7 468.1h0M112.3 470.0h0M110.7 472.1h0M110.4 467.1h0M111.5 470.8h0M110.1 469.4h0M110.2 471.9h0M111.7 469.5h0M112.2 475.1h0M109.6 470.8h0M111.1 474.1h0M110.4 467.7h0M111.8 474.5h0M111.3 472.1h0M110.2 471.5h0M110.0 468.6h0M111.1 469.4h0M106.0 461.8h0M108.8 461.2h0M98.0 459.7h0M102.5 459.8h0M102.9 460.6h0M108.0 462.8h0M104.7 460.1h0M109.1 462.7h0M94.9 460.0h0M98.6 459.1h0M97.9 461.3h0M98.7 460.5h0M106.3 461.4h0M102.0 460.0h0M101.7 459.8h0M103.0 460.4h0M97.7 461.5h0M108.6 461.9h0M103.6 461.5h0" stroke="#440154" stroke-width="2.00" stroke-linecap="round" fill="none"/>
<path d="M126.3 470.9h0M129.3 472.9h0M116.4 465.5h0M124.0 469.9h0M114.2 464.8h0M121.4 467.9h0M129.2 471.5h0M134.5 478.2h0M130.1 473.2h0M126.9 473.2h0M117.6 466.8h0M126.7 472.3h0M119.8 468.2h0M119.8 468.5h0M129.8 474.2h0M132.3 475.6h0M131.6 474.6h0M113.4 463.7h0M127.8 472.8h0M130.9 473.5h0M117.8 467.1h0M131.8 476.1h0M129.5 472.6h0M110.7 472.6h0M112.1 473.2h0M111.0 473.9h0M112.4 472.3h0M110.7 471.0h0" stroke="#3b528b" stroke-width="2.00" stroke-linecap="round" fill="none"/>
<path d="M97.6 461.1h0M92.4 461.1h0M103.8 459.9h0M94.8 461.8h0M107.7 461.2h0M108.0 460.4h0M97.9 459.3h0M104.3 459.9h0M92.1 462.2h0M106.4 460.1h0M98.8 461.1h0M107.8 461.6h0M91.3 460.6h0M92.0 462.2h0M95.1 461.1h0M93.7 460.4h0M92.3 460.8h0M101.0 460.6h0M96.3 459.8h0M105.6 460.0h0M96.4 461.2h0M91.6 459.9h0M92.6 461.3h0M92.5 461.2h0M106.1 459.6h0M99.0 460.0h0M103.3 460.1h0M92.1 460.8h0M102.8 461.0h0M95.3 461.1h0M98.7 460.3h0M102.2 460.3h0M91.5 461.6h0M97.2 459.7h0M93.4 461.4h0M94.6 459.9h0M106.2 462.3h0M107.1 461.7h0M104.7 460.3h0M90.8 460.0h0M101.8 459.4h0M92.2 462.5h0M104.9 462.5h0M93.5 461.6h0M100.0 462.0h0M103.2 460.9h0M95.7 461.1h0M107.4 461.4h0M87.9 462.7h0M86.3 461.7h0M86.3 460.4h0M86.9 461.7h0M87.3 462.3h0M86.0 462.4h0M86.5 459.6h0M87.9 460.6h0M87.5 460.9h0M85.5 462.8h0" stroke="#b5de2b" stroke-width="2.00" stroke-linecap="round" fill="none"/>
<path d="M103.5 461.2h0M101.7 460.3h0M108.1 462.8h0M98.0 458.0h0M107.4 461.1h0M94.0 461.6h0M109.0 461.2h0M94.2 460.0h0M92.8 462.4h0M102.5 460.1h0M92.0 461.2h0M100.1 458.4h0M95.3 460.7h0M91.1 461.4h0M99.4 461.0h0M99.1 460.6h0M107.7 462.1h0M109.4 461.8h0M99.7 459.4h0M107.7 461.0h0M108.4 461.2h0M92.5 461.3h0M104.5 461.0h0M96.4 459.5h0M100.7 461.7h0M91.8 460.6h0M109.0 461.4h0M95.9 460.2h0M98.0 460.6h0M107.7 461.2h0M107.1 460.8h0M102.3 459.6h0M92.5 460.8h0M106.7 460.1h0M96.3 459.5h0M93.7 460.9h0M95.7 460.0h0M97.4 460.5h0M98.8 461.0h0M93.5 460.4h0M105.5 460.6h0M86.3 461.9h0M86.9 462.2h0M87.5 458.8h0M86.8 462.6h0M86.4 461.0h0M87.0 462.6h0M86.2 461.0h0M86.8 460.4h0M87.7 460.2h0M85.7 462.5h0" stroke="#5dc863" stroke-width="2.00" stroke-linecap="round" fill="none"/>
<path d="M119.2 471.6h0M120.7 472.8h0M121.7 473.9h0M111.8 478.2h0" stroke="#440154" stroke-width="1.70" stroke-linecap="round" fill="none"/>
<path d="M122.2 471.9h0" stroke="#21908c" stroke-width="1.70" stroke-linecap="round" fill="none"/>
<path d="M111.9 481.0h0" stroke="#3b528b" stroke-width="1.70" stroke-linecap="round" fill="none"/>
<path d="M83.0 473.9h0M85.5 469.2h0M77.8 500.7h0" stroke="#b5de2b" stroke-width="1.80" stroke-linecap="round" fill="none"/>
<path d="M80.1 479.8h0M80.6 483.9h0" stroke="#5dc863" stroke-width="1.80" stroke-linecap="round" fill="none"/>
<path d="M80.4 481.3h0" stroke="#440154" stroke-width="1.80" stroke-linecap="round" fill="none"/>
<path d="M80.8,480.7 L83.0,473.9 L86.0,469.2 L89.4,466.0 L93.4,463.7 L98.4,462.7 L103.3,462.9 L107.3,463.7 L110.3,464.9 L115.2,466.8 L120.2,468.9 L125.1,471.6 L130.1,475.0 L134.4,478.8" fill="none" stroke="#000" stroke-width="1.5" stroke-linejoin="round"/>
<line x1="110.27" y1="464.93" x2="110.86" y2="469.19" stroke="#000" stroke-width="1.5"/>
<circle cx="89.38" cy="466.03" r="5.00" fill="#000"/>
<text x="89.48" y="469.30" font-size="9.2" text-anchor="middle" fill="#fff" stroke="#fff" stroke-width="0.45">2</text>
<circle cx="110.27" cy="464.93" r="5.00" fill="#000"/>
<text x="110.37" y="468.20" font-size="9.2" text-anchor="middle" fill="#fff" stroke="#fff" stroke-width="0.45">1</text>
<path d="M199.8 471.7h0M184.9 464.6h0M184.9 464.9h0M185.6 465.5h0M187.6 466.7h0M189.6 467.6h0M188.4 466.5h0M202.3 474.7h0M204.5 476.5h0M197.1 471.5h0M203.0 478.0h0M197.3 472.7h0M198.4 474.2h0M200.3 473.8h0M201.2 474.5h0M194.2 470.2h0M187.5 465.5h0M196.6 472.5h0M188.4 465.1h0M199.1 472.8h0M191.9 468.9h0M192.2 468.7h0M201.2 474.9h0M183.3 462.8h0M192.6 468.6h0M200.1 475.0h0M196.6 470.4h0M201.2 475.9h0M182.5 461.9h0M183.0 466.3h0M184.0 465.0h0M181.8 463.6h0M188.8 466.9h0M197.9 471.9h0M191.6 467.1h0M202.4 473.8h0M197.0 472.4h0M202.1 475.6h0M189.3 468.1h0M197.7 471.9h0M201.1 475.2h0M183.8 465.4h0M188.4 467.2h0M185.2 465.6h0M200.8 475.4h0M185.5 463.3h0M182.9 465.6h0M200.2 474.8h0M202.7 476.9h0M191.7 469.0h0M183.5 463.7h0M186.8 466.6h0M198.5 473.8h0M189.5 466.0h0M197.3 473.1h0M196.9 470.6h0M193.6 470.4h0M188.3 466.4h0M183.3 464.8h0M183.7 465.3h0M203.2 476.4h0M203.7 476.2h0M189.9 466.9h0M182.9 465.3h0M188.5 466.8h0M190.2 465.6h0M201.1 475.6h0M196.1 471.3h0M189.1 466.1h0M195.8 471.2h0M198.8 473.1h0M184.3 464.8h0M183.3 466.6h0M188.4 466.8h0M185.5 465.5h0M185.8 466.3h0M205.0 476.5h0M192.8 467.6h0M185.5 467.3h0M188.0 465.2h0M191.9 469.2h0M197.2 471.6h0M199.8 473.8h0M182.6 465.0h0M182.8 464.3h0M204.5 477.2h0M182.3 464.8h0M186.4 464.8h0M183.2 464.5h0M199.4 475.6h0M185.7 465.5h0M198.7 472.2h0M199.2 471.0h0M202.5 476.8h0M188.4 466.9h0M187.8 466.8h0M187.6 466.1h0M203.2 478.5h0M195.7 470.4h0M200.5 472.5h0M185.4 464.0h0M181.8 463.8h0M187.2 465.7h0M188.6 465.3h0M186.7 465.4h0M198.2 472.5h0M193.4 468.2h0M183.4 465.5h0M192.6 469.2h0M189.9 467.4h0M194.1 469.2h0M195.8 471.4h0M189.1 467.1h0M197.2 470.4h0M192.2 469.1h0M203.1 476.5h0M193.5 469.3h0M185.6 465.1h0M203.0 475.2h0M196.5 470.7h0M187.1 466.4h0M201.1 472.3h0M201.9 474.9h0M202.0 474.4h0M203.7 475.7h0M201.5 476.5h0M200.5 475.7h0M201.9 477.7h0M203.8 478.6h0M199.5 476.6h0M202.9 474.7h0M201.8 475.2h0M200.8 477.1h0M199.4 474.9h0M202.4 480.6h0M200.9 477.8h0M200.4 475.5h0M204.0 478.1h0M200.6 474.7h0M201.3 476.4h0M198.9 472.9h0M201.4 473.4h0M200.1 476.0h0M201.4 477.2h0M199.6 474.2h0M202.9 477.9h0M203.3 479.1h0M204.8 475.3h0M198.7 474.0h0M182.2 474.4h0M180.8 475.6h0M180.6 470.6h0M180.2 471.0h0M180.3 469.1h0M181.6 475.4h0M180.4 471.5h0M179.8 470.4h0M180.9 466.9h0M181.6 472.5h0M180.2 469.0h0M182.1 474.0h0M181.7 466.9h0M181.5 469.0h0M181.7 466.7h0M179.2 467.7h0M180.8 474.2h0M180.1 467.5h0M181.9 467.4h0M180.8 474.7h0M182.9 474.4h0M182.2 472.4h0M180.5 469.9h0M181.3 471.2h0M179.1 469.7h0M180.6 467.0h0M147.3 499.1h0M146.3 518.2h0M146.9 517.0h0M151.4 507.1h0M147.9 508.0h0M147.0 496.8h0M148.8 503.1h0M143.7 498.6h0M146.9 510.7h0M146.0 508.3h0M143.9 516.2h0" stroke="#440154" stroke-width="2.00" stroke-linecap="round" fill="none"/>
<path d="M184.3 463.4h0M196.2 473.1h0M203.4 477.6h0M194.7 469.7h0M194.2 468.4h0M192.0 467.6h0M184.3 464.7h0M190.6 467.1h0M193.9 468.2h0M185.7 464.5h0M202.9 477.0h0M204.1 479.3h0M202.3 478.6h0M199.0 473.9h0M201.7 477.2h0M199.3 475.2h0M162.7 459.0h0M177.2 462.2h0M178.4 463.0h0M167.5 461.4h0M166.1 459.5h0M176.6 462.4h0M172.2 459.9h0M170.9 459.6h0M164.3 460.0h0M167.7 461.0h0M176.2 460.7h0M167.6 461.1h0M169.5 459.7h0M166.6 459.7h0M176.9 459.8h0M161.1 463.1h0M170.1 460.3h0M170.0 460.7h0M168.7 460.8h0M165.4 461.0h0M149.6 482.6h0M150.1 475.4h0M152.6 469.9h0M153.2 473.4h0M157.3 469.3h0M147.3 483.4h0M148.1 482.2h0M153.8 470.4h0M152.6 474.2h0M150.3 481.4h0M156.0 466.2h0M152.3 472.7h0M156.1 466.3h0M156.5 464.9h0M150.0 480.5h0M153.7 468.9h0M151.5 475.8h0M157.3 464.9h0M149.6 484.0h0M157.2 465.1h0M145.3 490.0h0M146.4 490.8h0M148.0 489.5h0M149.1 485.9h0M148.1 487.0h0" stroke="#21908c" stroke-width="2.00" stroke-linecap="round" fill="none"/>
<path d="M196.4 470.6h0M182.9 464.4h0M201.4 475.3h0M193.8 467.6h0M204.2 477.1h0M196.2 469.2h0M200.3 473.6h0M192.5 468.5h0M197.3 473.4h0M200.9 474.2h0M184.2 463.4h0M189.4 467.5h0M197.5 473.9h0M196.3 471.1h0M190.5 470.0h0M182.4 464.8h0M204.6 477.6h0M181.8 464.6h0M190.9 468.4h0M199.7 472.3h0M201.7 478.9h0M201.9 477.6h0M202.0 473.1h0M200.1 476.7h0M201.5 477.1h0M183.5 472.5h0M180.0 467.0h0M182.4 468.8h0M179.0 469.0h0M181.4 470.9h0M180.7 475.6h0M180.2 467.5h0M182.2 473.0h0M180.9 473.3h0M148.1 517.1h0M142.6 517.7h0M145.2 511.1h0M147.7 516.4h0" stroke="#3b528b" stroke-width="2.00" stroke-linecap="round" fill="none"/>
<path d="M172.3 461.7h0M164.4 460.5h0M167.3 459.9h0M166.0 460.3h0M167.5 460.1h0M175.6 461.0h0M163.8 461.3h0M173.7 460.8h0M174.0 460.1h0M174.6 461.0h0M169.6 461.3h0M162.2 461.6h0M170.1 461.1h0M167.3 460.0h0M176.1 461.0h0M164.9 461.2h0M175.4 462.9h0M168.5 460.2h0M173.6 460.7h0M173.0 461.9h0M173.5 462.0h0M178.5 460.3h0M173.2 462.0h0M168.1 462.1h0M173.8 459.1h0M170.2 460.3h0M163.6 460.4h0M160.7 460.4h0M173.5 460.5h0M176.4 460.9h0M167.8 461.2h0M175.1 461.1h0M164.0 458.4h0M164.6 460.5h0M177.8 460.3h0M178.0 461.5h0M163.9 460.7h0M166.2 460.5h0M169.1 459.8h0M170.6 460.4h0M170.9 460.4h0M168.9 459.6h0M179.8 460.1h0M162.1 461.2h0M176.2 461.6h0M165.5 460.8h0M163.5 460.8h0M172.4 461.0h0M174.4 462.0h0M175.6 460.6h0M165.5 461.2h0M166.0 461.0h0M168.0 459.4h0M176.4 461.5h0M177.2 461.1h0M170.9 461.4h0M169.3 460.8h0M156.8 461.6h0M155.6 458.9h0M156.0 459.2h0M156.7 460.6h0M157.2 460.6h0M157.5 462.0h0M157.6 460.1h0M147.4 481.3h0M151.2 478.3h0M149.9 477.5h0M148.6 478.5h0M157.6 465.5h0M152.4 472.5h0M157.0 467.1h0M153.3 473.3h0M151.0 482.9h0M148.8 481.5h0M151.2 481.4h0M149.7 479.2h0M154.2 467.1h0M158.6 468.1h0M147.1 483.9h0M149.8 475.9h0M155.3 466.4h0M154.1 468.6h0M158.2 468.9h0M152.2 476.0h0M151.7 473.0h0M153.2 472.7h0M157.7 466.8h0M156.4 469.3h0M149.7 471.5h0M152.0 472.1h0M158.2 467.4h0M150.9 477.0h0M150.6 479.8h0M150.9 477.1h0M151.7 474.4h0M152.9 472.4h0M149.0 484.8h0M149.6 481.8h0M148.8 476.6h0M148.2 483.1h0M156.4 465.1h0M148.4 481.9h0M153.2 472.2h0M149.1 483.4h0M158.0 466.5h0M151.1 473.1h0M151.6 474.6h0M153.2 469.9h0M150.2 476.1h0M148.5 481.8h0M155.6 468.8h0M148.5 482.5h0M158.1 467.6h0M150.7 478.0h0M149.2 473.0h0M158.8 467.5h0M150.3 476.6h0M147.9 488.9h0M148.1 491.6h0M149.9 489.8h0M146.7 486.0h0M147.4 486.2h0M148.0 487.8h0M147.9 489.6h0M147.9 491.1h0M146.6 490.0h0M147.9 486.8h0M149.7 493.2h0M147.1 486.0h0M146.9 485.8h0" stroke="#5dc863" stroke-width="2.00" stroke-linecap="round" fill="none"/>
<path d="M161.7 461.8h0M166.5 461.2h0M173.5 461.1h0M172.4 459.9h0M161.2 460.8h0M179.4 461.5h0M172.2 460.5h0M166.2 460.9h0M179.2 461.3h0M171.7 462.2h0M175.1 460.4h0M162.9 459.9h0M171.1 460.6h0M171.6 460.1h0M163.4 462.2h0M161.0 462.5h0M174.4 461.9h0M171.7 460.6h0M172.1 461.6h0M167.5 460.1h0M167.3 460.2h0M177.3 460.7h0M164.3 459.3h0M165.8 461.4h0M177.7 461.9h0M178.7 462.0h0M165.6 460.8h0M171.7 461.8h0M172.7 460.7h0M177.4 462.5h0M174.4 461.4h0M165.9 459.9h0M167.5 459.2h0M164.4 462.6h0M173.6 459.8h0M178.3 461.3h0M177.5 459.4h0M177.4 459.9h0M167.7 460.1h0M173.8 460.2h0M172.1 459.0h0M171.1 460.9h0M176.3 462.0h0M169.0 459.7h0M172.6 460.0h0M178.2 460.9h0M173.1 459.3h0M168.0 461.5h0M171.2 459.9h0M164.5 459.8h0M172.6 461.0h0M166.4 461.2h0M163.6 461.0h0M156.8 459.4h0M156.4 461.8h0M157.0 459.5h0M153.7 461.6h0M154.8 462.9h0M155.3 459.2h0M156.9 462.6h0M153.7 461.7h0M157.6 461.3h0M157.0 461.6h0M156.3 461.5h0M158.2 461.7h0M155.6 460.7h0M147.5 480.4h0M147.9 479.0h0M155.9 468.1h0M151.2 474.7h0M152.8 475.7h0M154.4 470.1h0M156.1 471.0h0M152.1 474.0h0M156.7 467.4h0M152.4 479.2h0M150.1 478.2h0M149.7 482.6h0M150.8 473.4h0M156.3 467.4h0M153.2 468.4h0M154.1 467.9h0M152.1 474.1h0M154.6 467.0h0M148.3 483.7h0M149.8 481.1h0M149.2 477.6h0M148.3 478.9h0M148.2 481.3h0M156.3 467.9h0M148.9 476.9h0M148.5 478.1h0M149.2 479.1h0M152.8 476.0h0M155.0 469.0h0M148.1 483.4h0M149.3 482.2h0M151.6 478.4h0M151.2 472.8h0M152.1 474.3h0M156.0 469.7h0M151.7 474.1h0M149.9 474.5h0M148.9 476.6h0M151.3 477.4h0M151.5 473.2h0M154.8 465.9h0M156.3 467.2h0M154.4 471.4h0M153.3 476.1h0M158.5 467.9h0M152.7 473.8h0M151.6 476.0h0M153.3 472.1h0M155.5 470.7h0M155.1 463.9h0M155.4 465.3h0M148.1 480.2h0M153.9 469.7h0M155.1 469.8h0M150.4 469.3h0M155.0 470.6h0M156.6 464.1h0M152.9 473.9h0M154.4 470.2h0M150.5 476.8h0M147.8 483.8h0M153.4 471.1h0M157.8 468.5h0M155.8 467.1h0M150.6 480.7h0M151.1 473.2h0M155.5 467.5h0M151.6 474.9h0M156.8 467.6h0M150.8 480.0h0M150.9 473.1h0M151.3 473.8h0M151.9 473.3h0M153.0 469.1h0M148.2 480.0h0M155.7 467.6h0M152.3 470.9h0M148.4 484.1h0M153.7 471.0h0M154.8 467.9h0M155.8 470.7h0M150.6 478.8h0M151.6 475.5h0M151.5 470.8h0M154.2 471.5h0M147.0 491.2h0M149.7 486.4h0M147.7 490.6h0M146.3 492.0h0M147.0 491.0h0M152.1 490.4h0M146.2 490.7h0M147.1 491.0h0M146.4 486.8h0M148.4 486.6h0M146.7 486.8h0M146.1 492.2h0M148.5 492.2h0M146.3 488.9h0" stroke="#b5de2b" stroke-width="2.00" stroke-linecap="round" fill="none"/>
<path d="M189.2 471.6h0" stroke="#21908c" stroke-width="1.70" stroke-linecap="round" fill="none"/>
<path d="M190.7 472.8h0M192.2 471.9h0M191.7 473.9h0M181.8 478.2h0M181.9 481.0h0" stroke="#440154" stroke-width="1.70" stroke-linecap="round" fill="none"/>
<path d="M153.0 470.4h0M152.5 470.3h0M152.8 471.9h0M151.9 479.4h0M157.1 467.7h0M149.0 484.3h0M151.4 480.6h0M149.2 478.6h0M153.4 474.9h0M148.7 477.7h0M151.5 478.1h0M157.4 466.1h0M157.8 464.8h0M149.7 472.4h0M152.3 472.5h0M155.1 468.2h0M150.2 473.4h0M148.8 480.5h0M152.7 468.7h0M147.5 479.6h0M155.0 469.2h0M150.4 476.0h0M148.2 480.3h0M149.9 471.8h0M157.7 465.4h0M153.6 468.6h0M149.2 477.7h0M148.3 481.5h0M157.1 466.0h0M154.5 470.4h0M154.4 468.2h0M152.6 470.9h0M151.4 478.7h0M148.6 475.4h0M147.5 484.0h0M150.1 480.9h0M150.2 480.9h0M154.2 470.4h0M156.4 468.1h0M150.0 474.5h0M151.2 475.6h0M155.5 468.7h0M146.7 485.7h0M147.4 492.1h0M147.3 492.6h0M149.1 490.6h0M150.9 488.9h0M145.3 491.9h0M148.1 492.5h0M148.4 487.6h0M147.0 492.1h0M148.0 486.1h0M148.7 487.2h0M147.3 489.9h0M149.9 486.3h0" stroke="#8fd744" stroke-width="2.00" stroke-linecap="round" fill="none"/>
<path d="M150.8,480.7 L153.0,473.9 L156.0,469.2 L159.4,466.0 L163.4,463.7 L168.4,462.7 L173.3,462.9 L177.3,463.7 L180.3,464.9 L185.2,466.8 L190.2,468.9 L195.1,471.6 L200.1,475.0 L204.4,478.8" fill="none" stroke="#000" stroke-width="1.5" stroke-linejoin="round"/>
<line x1="180.27" y1="464.93" x2="180.86" y2="469.19" stroke="#000" stroke-width="1.5"/>
<circle cx="159.38" cy="466.03" r="5.00" fill="#000"/>
<text x="159.48" y="469.30" font-size="9.2" text-anchor="middle" fill="#fff" stroke="#fff" stroke-width="0.45">2</text>
<circle cx="180.27" cy="464.93" r="5.00" fill="#000"/>
<text x="180.37" y="468.20" font-size="9.2" text-anchor="middle" fill="#fff" stroke="#fff" stroke-width="0.45">1</text>
<line x1="71.66" y1="456.26" x2="71.66" y2="521.99" stroke="#333" stroke-width="0.9"/>
<line x1="71.21" y1="521.54" x2="136.50" y2="521.54" stroke="#333" stroke-width="0.9"/>
<line x1="141.66" y1="521.54" x2="206.51" y2="521.54" stroke="#333" stroke-width="0.9"/>
<line x1="69.46" y1="468.40" x2="71.66" y2="468.40" stroke="#333" stroke-width="0.9"/>
<text x="68.06" y="471.70" font-size="9.1" text-anchor="end" fill="#4d4d4d" stroke="#4d4d4d" stroke-width="0.2">0</text>
<line x1="69.46" y1="484.17" x2="71.66" y2="484.17" stroke="#333" stroke-width="0.9"/>
<text x="68.06" y="487.47" font-size="9.1" text-anchor="end" fill="#4d4d4d" stroke="#4d4d4d" stroke-width="0.2">−1</text>
<line x1="69.46" y1="499.94" x2="71.66" y2="499.94" stroke="#333" stroke-width="0.9"/>
<text x="68.06" y="503.24" font-size="9.1" text-anchor="end" fill="#4d4d4d" stroke="#4d4d4d" stroke-width="0.2">−2</text>
<line x1="69.46" y1="515.71" x2="71.66" y2="515.71" stroke="#333" stroke-width="0.9"/>
<text x="68.06" y="519.01" font-size="9.1" text-anchor="end" fill="#4d4d4d" stroke="#4d4d4d" stroke-width="0.2">−3</text>
<line x1="87.50" y1="521.54" x2="87.50" y2="523.74" stroke="#333" stroke-width="0.9"/>
<text x="87.50" y="532.54" font-size="9.1" text-anchor="middle" fill="#4d4d4d" stroke="#4d4d4d" stroke-width="0.2">−2</text>
<line x1="107.30" y1="521.54" x2="107.30" y2="523.74" stroke="#333" stroke-width="0.9"/>
<text x="107.30" y="532.54" font-size="9.1" text-anchor="middle" fill="#4d4d4d" stroke="#4d4d4d" stroke-width="0.2">0</text>
<line x1="127.10" y1="521.54" x2="127.10" y2="523.74" stroke="#333" stroke-width="0.9"/>
<text x="127.10" y="532.54" font-size="9.1" text-anchor="middle" fill="#4d4d4d" stroke="#4d4d4d" stroke-width="0.2">2</text>
<line x1="157.50" y1="521.54" x2="157.50" y2="523.74" stroke="#333" stroke-width="0.9"/>
<text x="157.50" y="532.54" font-size="9.1" text-anchor="middle" fill="#4d4d4d" stroke="#4d4d4d" stroke-width="0.2">−2</text>
<line x1="177.30" y1="521.54" x2="177.30" y2="523.74" stroke="#333" stroke-width="0.9"/>
<text x="177.30" y="532.54" font-size="9.1" text-anchor="middle" fill="#4d4d4d" stroke="#4d4d4d" stroke-width="0.2">0</text>
<line x1="197.10" y1="521.54" x2="197.10" y2="523.74" stroke="#333" stroke-width="0.9"/>
<text x="197.10" y="532.54" font-size="9.1" text-anchor="middle" fill="#4d4d4d" stroke="#4d4d4d" stroke-width="0.2">2</text>
<text x="52.40" y="482.70" font-size="10.0" text-anchor="middle" fill="#111" stroke="#111" stroke-width="0.2" transform="rotate(-90 52.40 482.70)">Component 2</text>
<text x="30.00" y="486.80" font-size="12.3" text-anchor="middle" fill="#111" stroke="#111" stroke-width="0.2" font-style="italic" font-weight="bold" transform="rotate(-90 30.00 486.80)">Ivl</text>
<path d="M133.5 589.8h0M115.3 578.3h0M133.8 590.0h0M124.2 581.8h0M123.8 581.1h0M122.6 578.1h0M117.7 577.9h0M121.4 581.1h0M130.5 587.0h0M115.5 577.2h0M115.3 575.5h0M129.8 586.3h0M123.6 582.0h0M124.3 581.5h0M125.0 583.5h0M121.9 582.5h0M132.4 593.4h0M129.3 588.5h0M130.2 585.0h0M133.6 591.1h0M129.3 584.9h0M133.3 587.6h0M111.9 584.6h0M109.1 581.5h0M111.1 585.1h0M110.4 580.3h0M110.6 579.3h0M111.0 583.1h0M110.9 581.6h0M111.7 586.7h0M110.7 578.6h0M110.1 579.4h0M111.4 584.5h0M110.3 585.7h0M109.5 581.3h0M110.4 580.9h0M110.8 579.2h0M110.8 583.2h0M110.9 581.3h0M104.0 573.2h0M107.1 573.2h0M90.9 572.7h0M96.9 571.9h0M107.7 573.5h0M105.5 573.5h0M104.2 571.6h0M100.0 573.0h0M91.7 572.3h0M98.6 572.4h0M91.9 573.5h0M97.3 573.3h0M106.9 573.3h0M103.4 572.7h0M101.8 573.4h0M106.9 573.9h0M105.2 573.4h0M100.2 571.3h0M93.2 572.0h0M105.4 571.7h0M102.2 572.3h0M103.7 573.1h0M103.0 571.7h0M102.2 572.3h0M105.5 573.6h0M103.5 571.9h0M101.8 572.5h0M92.4 572.6h0M102.0 573.8h0M102.1 572.5h0M99.3 573.4h0M102.4 573.9h0M97.9 573.5h0M96.3 571.6h0M109.1 574.5h0M105.5 571.8h0M107.9 572.3h0M91.5 573.0h0M107.3 574.3h0M100.8 573.4h0M99.9 573.3h0" stroke="#5dc863" stroke-width="2.00" stroke-linecap="round" fill="none"/>
<path d="M114.3 575.3h0M114.7 578.3h0M124.4 582.1h0M113.4 577.3h0M132.3 586.6h0M132.9 586.8h0M113.5 575.0h0M130.5 584.2h0M115.5 578.0h0M115.9 578.2h0M123.6 581.4h0M114.6 575.2h0M128.2 581.5h0M120.1 579.4h0M121.8 579.9h0M116.3 578.0h0M131.7 587.3h0M125.3 584.6h0M132.8 588.5h0M130.7 587.5h0M126.3 584.3h0M116.2 578.1h0M132.0 588.1h0M134.1 590.6h0M127.2 583.8h0M112.2 576.3h0M116.2 577.5h0M124.5 580.4h0M114.8 577.6h0M113.8 577.8h0M118.0 579.6h0M124.1 582.4h0M130.1 585.6h0M118.7 577.0h0M115.2 574.1h0M119.2 580.2h0M114.1 578.5h0M112.0 575.5h0M120.9 579.1h0M127.0 583.8h0M134.6 585.1h0M129.6 585.9h0M114.5 576.3h0M131.1 586.9h0M122.7 579.3h0M124.9 581.7h0M120.0 578.6h0M126.4 582.6h0M131.3 586.7h0M130.7 587.7h0M133.2 588.8h0M129.4 587.6h0M129.3 585.0h0M131.7 586.1h0M134.0 590.5h0M131.9 589.0h0M134.2 589.8h0M131.4 587.5h0M134.3 590.0h0M133.4 589.7h0M129.5 584.2h0M129.9 587.5h0" stroke="#440154" stroke-width="2.00" stroke-linecap="round" fill="none"/>
<path d="M127.2 583.4h0M132.4 587.7h0M112.7 576.8h0M113.5 576.4h0M125.6 584.3h0M122.3 580.1h0M130.1 586.6h0M113.8 577.6h0M124.2 581.3h0M134.4 586.6h0M128.1 583.4h0M120.2 575.5h0M125.0 582.1h0M134.0 589.1h0M122.9 581.8h0M112.0 575.8h0M133.7 588.1h0M122.7 579.3h0M117.4 579.7h0M130.7 586.7h0M126.6 582.8h0M128.7 583.4h0M116.9 579.9h0M113.8 577.2h0M126.0 583.7h0M115.6 576.9h0M117.8 578.7h0M121.0 578.4h0M130.0 584.3h0M133.8 590.5h0M131.2 588.0h0M131.2 590.1h0M131.1 587.0h0M131.4 588.3h0M130.1 587.3h0M128.6 586.8h0M128.6 588.1h0M134.6 589.1h0M131.9 585.2h0M129.5 585.5h0M131.3 587.6h0" stroke="#3b528b" stroke-width="2.00" stroke-linecap="round" fill="none"/>
<path d="M127.0 583.6h0M128.2 586.4h0M127.7 584.1h0M116.9 578.9h0M117.4 577.9h0M125.4 584.3h0M114.4 576.3h0M125.5 583.4h0M115.8 578.8h0M124.8 583.4h0M127.8 583.2h0M118.7 578.2h0M115.7 574.8h0M129.4 584.5h0M132.3 584.8h0M125.6 580.8h0M114.7 577.9h0M130.3 588.6h0M116.5 577.3h0M133.2 588.2h0M126.9 584.8h0M115.9 576.6h0M129.5 584.5h0M132.8 589.1h0M125.4 580.3h0M121.0 579.9h0M122.3 579.4h0M133.7 587.4h0M126.8 582.5h0M122.8 580.8h0M120.9 578.4h0M114.2 576.7h0M126.0 584.0h0M123.1 580.2h0M133.0 587.5h0M128.6 585.1h0M112.2 576.1h0M113.5 575.8h0M111.9 574.3h0M131.8 587.8h0M119.3 579.7h0M115.9 577.3h0M117.4 576.8h0M118.5 577.9h0M127.4 583.5h0M134.1 588.2h0M122.2 578.2h0M122.6 580.9h0M113.8 577.7h0M132.6 585.4h0M133.9 590.3h0M115.8 577.1h0M128.9 585.3h0M130.0 584.3h0M121.0 581.4h0M113.3 577.6h0M131.5 589.1h0M133.2 589.8h0M132.8 586.1h0M133.9 588.6h0M132.1 588.4h0M131.8 588.9h0M129.0 584.7h0M131.6 588.2h0M130.5 590.2h0" stroke="#21908c" stroke-width="2.00" stroke-linecap="round" fill="none"/>
<path d="M110.4 587.3h0M110.8 584.2h0M111.5 585.3h0M110.4 579.2h0M110.2 583.9h0M109.8 583.6h0M109.6 580.9h0M109.3 582.4h0M109.5 587.9h0M109.8 584.4h0M109.7 580.9h0M111.0 579.3h0M111.6 585.2h0M110.4 582.7h0M110.5 587.1h0M111.6 585.8h0M111.8 582.2h0M112.2 586.4h0M107.8 572.7h0M106.9 572.8h0M102.4 573.0h0M101.4 572.8h0M103.6 571.5h0M101.4 572.5h0M107.5 572.6h0M96.7 571.9h0M104.6 572.5h0M94.6 571.4h0M108.8 573.3h0M103.1 572.0h0M92.8 572.6h0M92.0 573.6h0M95.9 573.0h0M99.1 572.2h0M98.8 571.3h0M98.6 573.1h0M102.0 572.5h0M103.8 573.2h0M104.8 573.2h0M105.8 572.1h0M97.5 572.8h0M95.7 573.4h0M99.1 572.2h0M93.9 572.9h0M98.7 572.6h0M91.9 573.0h0M91.4 573.9h0M97.5 571.4h0M105.8 573.7h0M106.7 574.1h0M99.6 571.9h0M107.1 572.3h0M100.3 572.3h0M109.2 573.8h0M106.2 574.0h0M100.2 572.1h0M105.5 573.0h0M100.1 571.3h0M100.5 572.8h0M94.5 572.3h0M90.6 572.0h0M91.2 571.9h0M103.3 572.7h0M97.4 571.8h0M103.9 573.1h0M100.3 572.7h0M96.4 572.4h0M85.5 574.0h0M86.4 571.9h0M86.6 573.4h0M86.3 574.8h0M86.9 573.2h0M85.7 573.4h0M86.6 571.3h0M86.7 574.0h0M86.6 571.5h0M86.8 571.7h0M86.7 572.4h0M87.3 574.8h0M87.6 573.6h0" stroke="#b5de2b" stroke-width="2.00" stroke-linecap="round" fill="none"/>
<path d="M107.1 574.0h0M108.6 573.3h0M105.7 572.3h0M105.9 572.7h0M98.6 572.3h0M97.1 572.5h0M104.7 573.3h0M104.7 574.1h0M104.0 572.2h0M92.2 572.8h0M103.3 573.3h0M96.6 573.2h0M100.7 572.2h0M99.9 573.1h0M96.8 572.6h0M101.7 572.0h0M99.9 572.3h0M109.4 572.2h0M105.5 572.0h0M108.1 573.7h0M102.9 570.0h0M107.3 573.8h0M106.1 571.2h0M92.2 573.4h0M107.5 573.1h0M94.4 571.7h0M100.1 571.5h0M95.5 573.8h0M96.5 573.4h0M104.3 572.2h0M96.2 572.0h0M92.4 573.0h0M90.9 575.3h0M98.3 571.8h0M93.7 571.6h0M100.1 572.8h0M106.9 573.0h0M108.0 574.0h0M104.1 574.6h0M109.2 574.0h0M86.5 574.5h0M87.6 570.8h0M85.7 571.0h0M85.6 571.5h0M87.1 573.1h0M86.4 572.0h0M85.0 574.5h0" stroke="#fde725" stroke-width="2.00" stroke-linecap="round" fill="none"/>
<path d="M119.0 583.5h0M120.5 584.8h0" stroke="#3b528b" stroke-width="1.70" stroke-linecap="round" fill="none"/>
<path d="M121.9 583.8h0" stroke="#21908c" stroke-width="1.70" stroke-linecap="round" fill="none"/>
<path d="M121.5 585.9h0" stroke="#440154" stroke-width="1.70" stroke-linecap="round" fill="none"/>
<path d="M111.6 590.1h0M111.7 592.9h0" stroke="#b5de2b" stroke-width="1.70" stroke-linecap="round" fill="none"/>
<path d="M82.8 585.9h0M85.3 581.2h0M79.9 591.7h0M80.4 595.8h0M77.6 612.5h0" stroke="#b5de2b" stroke-width="1.80" stroke-linecap="round" fill="none"/>
<path d="M80.2 593.2h0" stroke="#5dc863" stroke-width="1.80" stroke-linecap="round" fill="none"/>
<path d="M80.6,592.6 L82.8,585.9 L85.8,581.2 L89.2,578.0 L93.2,575.7 L98.2,574.8 L103.1,574.9 L107.1,575.7 L110.1,577.0 L115.0,578.8 L120.0,580.9 L124.9,583.5 L129.9,587.0 L134.2,590.7" fill="none" stroke="#000" stroke-width="1.5" stroke-linejoin="round"/>
<line x1="110.07" y1="576.95" x2="110.66" y2="581.18" stroke="#000" stroke-width="1.5"/>
<circle cx="89.18" cy="578.05" r="5.00" fill="#000"/>
<text x="89.28" y="581.32" font-size="9.2" text-anchor="middle" fill="#fff" stroke="#fff" stroke-width="0.45">2</text>
<circle cx="110.07" cy="576.95" r="5.00" fill="#000"/>
<text x="110.17" y="580.22" font-size="9.2" text-anchor="middle" fill="#fff" stroke="#fff" stroke-width="0.45">1</text>
<path d="M195.5 583.3h0M187.1 577.5h0M187.8 576.5h0M197.4 584.1h0M198.8 584.8h0M189.9 578.1h0M186.2 575.2h0M204.7 589.6h0M199.4 586.2h0M182.7 576.0h0M188.1 577.2h0M196.8 583.3h0M198.8 582.4h0M188.7 578.8h0M187.0 578.3h0M184.0 578.8h0M202.7 589.4h0M182.4 575.8h0M196.0 582.5h0M188.9 579.3h0M196.1 581.6h0M186.6 577.9h0M190.5 578.1h0M190.0 580.9h0M190.6 578.7h0M188.6 578.8h0M182.8 576.2h0M197.0 582.4h0M186.0 577.8h0M200.0 584.8h0M182.8 576.5h0M181.9 575.8h0M195.7 583.7h0M185.8 577.6h0M191.5 578.7h0M187.7 578.9h0M195.7 583.2h0M189.5 579.2h0M202.8 587.3h0M182.0 575.4h0M196.4 583.1h0M198.0 584.0h0M198.8 585.0h0M197.2 585.4h0M204.6 588.9h0M197.4 582.7h0M185.8 576.6h0M185.2 578.3h0M187.1 580.5h0M193.8 580.9h0M193.4 583.2h0M192.7 581.1h0M187.7 578.7h0M189.8 576.8h0M196.6 584.1h0M195.1 582.6h0M199.0 586.0h0M204.3 589.3h0M182.5 576.2h0M198.3 584.1h0M196.6 584.3h0M187.3 578.2h0M198.7 583.1h0M203.0 586.2h0M203.6 587.6h0M191.3 579.1h0M190.2 580.7h0M193.1 581.8h0M203.9 589.0h0M203.1 590.4h0M189.1 578.7h0M182.7 574.7h0M202.7 587.6h0M195.9 583.1h0M191.5 580.2h0M198.1 582.8h0M198.1 583.9h0M200.3 585.0h0M204.8 588.9h0M198.8 585.4h0M195.7 584.5h0M196.6 583.6h0M187.1 578.9h0M190.8 580.1h0M183.6 577.2h0M192.2 581.4h0M184.9 577.2h0M198.2 584.4h0M191.7 580.3h0M198.9 586.4h0M183.2 576.9h0M202.9 587.7h0M204.4 589.8h0M204.3 589.4h0M202.6 590.1h0M202.1 586.7h0M204.1 590.5h0M200.1 584.8h0M201.0 589.0h0M201.5 589.1h0M200.0 588.2h0M198.5 588.6h0M199.6 584.9h0M200.8 587.6h0M201.0 587.2h0M202.4 587.2h0M199.7 587.9h0M204.2 589.4h0M204.7 587.3h0M199.6 584.8h0M200.2 586.7h0M204.0 588.6h0M201.9 587.1h0M202.8 587.8h0M202.7 587.7h0" stroke="#440154" stroke-width="2.00" stroke-linecap="round" fill="none"/>
<path d="M182.2 576.9h0M186.8 577.3h0M185.7 578.3h0M199.6 585.2h0M198.7 585.3h0M188.5 579.3h0M195.3 582.2h0M198.2 583.6h0M186.7 577.9h0M197.0 584.4h0M202.3 587.3h0M191.8 578.8h0M191.1 580.1h0M200.1 585.1h0M191.8 580.1h0M190.4 579.1h0M191.6 581.9h0M195.1 582.7h0M187.0 576.8h0M198.3 584.0h0M196.7 582.7h0M204.5 590.5h0M187.8 579.0h0M187.8 577.1h0M199.7 588.6h0M204.2 591.0h0M200.6 586.7h0M201.9 586.8h0M199.2 586.3h0M199.5 586.4h0M200.6 587.5h0" stroke="#21908c" stroke-width="2.00" stroke-linecap="round" fill="none"/>
<path d="M196.5 581.5h0M193.4 580.6h0M201.2 587.1h0M201.6 588.5h0M197.4 583.6h0M183.4 576.3h0M190.2 579.3h0M194.6 585.0h0M193.0 580.2h0M189.0 580.0h0M201.3 587.0h0M199.3 584.9h0M190.1 579.8h0M203.0 588.4h0M195.6 583.9h0M196.9 583.9h0M198.4 584.6h0M190.1 579.1h0M193.1 581.5h0M189.4 579.0h0M191.8 580.6h0M189.2 579.6h0M196.0 583.4h0M187.9 579.1h0M196.2 580.9h0M186.1 579.2h0M203.0 589.0h0M199.4 584.4h0M197.6 583.8h0M192.9 579.7h0M201.5 584.9h0M202.0 586.0h0M184.6 576.9h0M191.7 578.6h0M186.6 578.6h0M202.7 589.0h0M202.1 584.2h0M201.9 589.4h0M204.2 590.1h0M202.2 587.7h0M204.5 589.5h0M199.2 586.6h0M203.8 589.3h0M202.6 591.5h0" stroke="#3b528b" stroke-width="2.00" stroke-linecap="round" fill="none"/>
<path d="M182.9 584.4h0M180.9 581.3h0M181.0 586.0h0M181.4 585.3h0M181.6 585.8h0M180.3 579.3h0M179.9 581.3h0M181.0 583.2h0M180.8 585.9h0M181.1 585.2h0M181.9 583.8h0M178.9 579.9h0M180.8 584.9h0M171.2 572.4h0M161.8 573.5h0M169.8 573.5h0M161.9 571.7h0M161.3 573.8h0M176.9 573.6h0M176.4 572.8h0M166.6 571.9h0M168.3 573.3h0M164.0 572.1h0M179.3 573.0h0M167.4 571.3h0M163.1 571.1h0M179.3 575.0h0M162.4 571.9h0M172.1 573.3h0M171.3 572.9h0M175.5 573.8h0M174.4 572.1h0M162.2 573.6h0M176.1 572.6h0M170.9 571.6h0M175.5 573.3h0M179.6 574.0h0M175.1 572.8h0M170.2 572.8h0M176.6 574.0h0M167.9 572.3h0M167.2 572.3h0M177.9 573.1h0M172.2 573.8h0M175.6 574.1h0M152.1 590.4h0M148.5 596.3h0M148.7 590.7h0M151.7 584.7h0M148.8 595.2h0M148.5 591.4h0M150.8 590.4h0M148.8 594.4h0M152.8 582.8h0M148.2 589.2h0M154.6 582.2h0M154.0 583.3h0M147.0 595.0h0M155.3 577.5h0M148.1 592.5h0M153.3 581.9h0M155.0 582.5h0M152.0 587.3h0M148.3 593.7h0M153.4 580.3h0M154.2 578.7h0M149.1 594.9h0M151.7 586.3h0M152.8 584.3h0M148.5 594.6h0M157.9 579.6h0M153.0 586.2h0M149.3 593.6h0M151.7 590.2h0M150.2 583.9h0M146.8 595.1h0M153.1 578.9h0M156.4 582.5h0M152.5 586.5h0M156.6 578.3h0M154.7 583.5h0M148.6 595.3h0M148.1 603.6h0M148.1 604.5h0M147.4 598.5h0M146.4 604.0h0M146.9 597.0h0M147.0 613.1h0M146.5 615.8h0M147.0 628.1h0M147.1 626.0h0" stroke="#5dc863" stroke-width="2.00" stroke-linecap="round" fill="none"/>
<path d="M180.9 579.9h0M180.1 579.8h0M180.7 583.1h0M180.1 579.8h0M180.9 583.6h0M180.3 585.3h0M182.0 581.9h0M180.8 586.4h0M180.0 579.9h0M180.8 587.5h0M180.7 580.8h0M181.2 585.4h0M181.0 587.6h0M180.2 579.1h0M181.2 584.1h0M181.0 579.8h0M180.2 581.8h0M180.2 583.5h0M179.6 580.5h0M179.9 579.3h0M181.8 585.1h0M183.1 586.9h0M178.2 574.2h0M177.1 574.6h0M165.6 571.1h0M169.4 571.9h0M171.2 571.1h0M167.0 572.0h0M168.6 573.7h0M169.8 572.6h0M163.3 572.2h0M175.2 573.3h0M176.5 572.1h0M165.4 572.0h0M176.0 572.6h0M173.2 573.2h0M162.6 571.8h0M161.9 572.8h0M178.4 573.6h0M176.9 572.8h0M172.9 572.1h0M172.9 572.2h0M164.8 574.3h0M164.5 572.6h0M168.0 570.8h0M170.3 572.5h0M175.1 573.9h0M165.9 573.1h0M176.9 572.7h0M172.5 572.2h0M175.3 574.2h0M163.0 572.7h0M169.3 571.1h0M172.8 572.7h0M167.3 572.7h0M170.2 572.9h0M164.5 571.9h0M171.7 572.7h0M165.6 573.2h0M173.2 572.9h0M179.0 573.6h0M172.5 571.4h0M177.3 572.9h0M166.2 572.5h0M179.3 573.8h0M162.0 574.6h0M171.4 571.9h0M172.4 571.0h0M165.4 570.4h0M169.1 571.3h0M169.3 571.5h0M172.4 572.4h0M176.4 573.8h0M179.5 573.7h0M166.8 572.2h0M162.4 573.6h0M155.0 574.4h0M156.3 572.3h0M156.5 574.1h0M157.6 572.1h0M154.7 574.7h0M157.7 572.1h0M155.5 573.1h0M156.2 570.8h0M150.4 585.8h0M157.6 577.4h0M157.6 577.7h0M157.4 583.0h0M150.3 593.3h0M148.6 591.6h0M149.2 597.5h0M151.6 582.9h0M156.2 580.6h0M147.8 593.7h0M152.2 585.7h0M151.0 590.1h0M154.0 586.3h0M156.4 579.5h0M155.2 582.1h0M149.0 588.6h0M147.4 595.9h0M150.6 590.4h0M155.1 580.2h0M148.9 595.5h0M152.0 581.9h0M151.0 587.8h0M151.8 586.7h0M152.7 588.9h0M149.0 594.6h0M151.5 586.4h0M151.7 589.5h0M150.9 584.2h0M150.5 587.9h0M153.5 583.4h0M149.6 593.8h0M150.7 589.7h0M149.6 589.1h0M155.9 577.5h0M149.7 597.0h0M147.3 594.3h0M150.2 593.2h0M150.5 586.1h0M148.9 588.1h0M156.5 580.5h0M148.9 590.0h0M153.2 581.8h0M155.3 576.5h0M148.5 596.4h0M156.3 577.8h0M149.3 589.6h0M153.2 582.0h0M156.5 581.5h0M147.1 591.2h0M151.7 585.4h0M150.5 590.2h0M151.4 589.7h0M150.1 588.8h0M150.5 588.8h0M158.1 577.9h0M157.8 579.7h0M151.8 585.4h0M149.4 591.7h0M148.9 591.6h0M148.6 592.6h0M150.8 585.7h0M153.9 583.7h0M150.8 590.2h0M149.7 589.7h0M150.8 596.5h0M154.4 583.6h0M156.3 579.9h0M150.7 594.0h0M150.9 593.0h0M152.5 585.4h0M154.6 579.9h0M149.1 587.8h0M148.6 594.2h0M155.6 577.0h0M150.3 590.0h0M158.9 580.2h0M151.2 593.8h0M152.3 595.1h0M149.6 591.2h0M151.2 588.9h0M148.0 600.6h0M148.8 600.2h0M148.2 602.2h0M148.6 602.8h0M146.8 598.7h0M147.2 604.2h0M147.3 600.4h0M147.5 599.5h0M147.5 598.3h0M146.8 601.1h0M149.4 597.7h0M148.5 600.9h0M149.5 599.6h0M149.2 602.7h0M149.6 604.0h0M151.7 622.8h0M148.0 615.2h0M144.7 610.7h0M147.5 623.2h0M150.5 608.7h0M147.1 609.0h0M148.4 616.1h0" stroke="#b5de2b" stroke-width="2.00" stroke-linecap="round" fill="none"/>
<path d="M166.6 573.3h0M164.2 572.8h0M172.4 572.1h0M163.2 571.8h0M172.4 572.5h0M176.9 573.7h0M169.9 573.7h0M170.5 572.4h0M167.7 572.9h0M179.3 575.1h0M172.6 572.4h0M163.0 572.9h0M169.5 572.7h0M179.2 573.7h0M166.8 572.7h0M174.7 571.2h0M162.5 573.2h0M163.0 573.8h0M173.2 573.2h0M171.9 571.3h0M171.4 572.6h0M165.3 572.2h0M176.7 572.4h0M175.4 572.8h0M164.6 572.1h0M176.5 572.9h0M166.5 573.5h0M178.4 574.2h0M167.3 572.6h0M167.7 572.9h0M172.5 572.2h0M174.1 571.9h0M176.1 572.9h0M171.8 574.3h0M175.9 572.9h0M171.8 572.3h0M173.8 572.4h0M165.1 571.7h0M162.8 572.3h0M168.7 572.4h0M167.3 571.2h0M162.6 573.3h0M163.8 573.5h0M161.0 572.9h0M155.2 572.9h0M156.4 573.3h0M157.2 573.3h0M155.7 571.2h0M155.0 571.7h0M157.4 571.6h0M155.4 574.6h0M156.8 573.9h0M156.6 572.8h0M157.4 574.0h0M158.4 572.3h0M157.0 572.8h0M157.5 577.9h0M153.9 581.8h0M150.9 589.6h0M151.8 581.4h0M158.2 578.0h0M150.0 591.2h0M148.5 593.2h0M150.7 590.0h0M154.8 580.5h0M154.1 583.3h0M151.5 586.8h0M150.8 594.5h0M149.7 592.2h0M154.2 580.6h0M154.2 583.6h0M149.5 592.4h0M157.0 581.0h0M150.8 581.8h0M151.7 589.7h0M156.0 577.1h0M150.8 587.2h0M153.4 580.3h0M149.9 588.6h0M148.6 592.6h0M156.7 577.3h0M151.5 588.1h0M150.6 590.1h0M154.3 579.5h0M149.1 595.1h0M153.2 585.2h0M153.4 583.6h0M153.9 580.9h0M149.8 592.7h0M152.9 584.9h0M150.1 588.2h0M150.6 591.0h0M151.2 591.8h0M148.9 591.1h0M157.1 582.1h0M148.2 595.1h0M154.0 581.7h0M149.2 592.9h0M147.9 595.2h0M153.8 588.5h0M153.1 588.0h0M149.0 592.8h0M155.6 578.0h0M149.5 597.1h0M157.7 577.9h0M150.7 588.0h0M157.6 581.7h0M153.0 581.1h0M156.1 579.5h0M148.0 594.3h0M154.2 582.8h0M149.3 588.1h0M151.4 590.7h0M148.8 592.2h0M151.1 590.5h0M154.6 582.8h0M156.8 578.8h0M152.9 584.4h0M154.5 583.1h0M158.1 578.1h0M150.0 588.2h0M148.3 595.0h0M151.9 586.5h0M155.7 579.5h0M152.5 583.4h0M152.2 581.8h0M157.2 577.6h0M151.4 590.3h0M153.4 586.2h0M151.7 585.9h0M151.5 588.9h0M146.9 595.3h0M157.9 577.5h0M150.3 589.7h0M154.0 583.4h0M150.9 588.3h0M150.7 594.4h0M154.2 584.1h0M152.3 586.6h0M155.8 580.0h0M154.9 580.7h0M155.0 584.6h0M152.0 594.3h0M150.0 587.6h0M148.5 594.4h0M156.2 579.5h0M148.6 596.0h0M149.9 597.1h0M149.1 589.9h0M152.8 587.5h0M148.3 596.4h0M155.9 581.5h0M154.6 584.2h0M158.7 578.9h0M157.0 577.6h0M149.8 588.5h0M150.4 585.9h0M153.5 587.9h0M151.8 587.7h0M150.0 598.2h0M148.5 603.8h0M148.0 603.9h0M150.2 605.0h0M148.5 599.8h0M147.8 604.5h0M145.4 601.7h0M149.4 598.8h0M149.4 601.0h0M150.1 604.9h0M150.6 600.2h0M148.2 603.8h0M149.8 603.4h0M146.4 603.4h0M146.4 597.9h0M149.1 604.1h0M147.2 603.8h0M145.6 597.5h0M144.2 600.3h0M148.0 598.9h0M149.3 600.5h0M147.4 597.2h0M147.3 599.3h0M149.6 605.0h0M150.7 602.0h0M148.7 621.5h0M146.9 630.0h0M147.6 620.8h0M150.6 625.9h0" stroke="#fde725" stroke-width="2.00" stroke-linecap="round" fill="none"/>
<path d="M189.4 583.5h0M190.9 584.8h0M192.3 583.8h0M191.9 585.9h0" stroke="#440154" stroke-width="1.70" stroke-linecap="round" fill="none"/>
<path d="M182.0 590.1h0M182.1 592.9h0" stroke="#b5de2b" stroke-width="1.70" stroke-linecap="round" fill="none"/>
<path d="M151.0,592.6 L153.2,585.9 L156.2,581.2 L159.6,578.0 L163.6,575.7 L168.6,574.8 L173.5,574.9 L177.5,575.7 L180.5,577.0 L185.4,578.8 L190.4,580.9 L195.3,583.5 L200.3,587.0 L204.6,590.7" fill="none" stroke="#000" stroke-width="1.5" stroke-linejoin="round"/>
<line x1="180.47" y1="576.95" x2="181.06" y2="581.18" stroke="#000" stroke-width="1.5"/>
<circle cx="159.58" cy="578.05" r="5.00" fill="#000"/>
<text x="159.68" y="581.32" font-size="9.2" text-anchor="middle" fill="#fff" stroke="#fff" stroke-width="0.45">2</text>
<circle cx="180.47" cy="576.95" r="5.00" fill="#000"/>
<text x="180.57" y="580.22" font-size="9.2" text-anchor="middle" fill="#fff" stroke="#fff" stroke-width="0.45">1</text>
<line x1="71.46" y1="568.33" x2="71.46" y2="633.66" stroke="#333" stroke-width="0.9"/>
<line x1="71.01" y1="633.21" x2="136.31" y2="633.21" stroke="#333" stroke-width="0.9"/>
<line x1="141.86" y1="633.21" x2="206.71" y2="633.21" stroke="#333" stroke-width="0.9"/>
<line x1="69.26" y1="580.40" x2="71.46" y2="580.40" stroke="#333" stroke-width="0.9"/>
<text x="67.86" y="583.70" font-size="9.1" text-anchor="end" fill="#4d4d4d" stroke="#4d4d4d" stroke-width="0.2">0</text>
<line x1="69.26" y1="596.07" x2="71.46" y2="596.07" stroke="#333" stroke-width="0.9"/>
<text x="67.86" y="599.37" font-size="9.1" text-anchor="end" fill="#4d4d4d" stroke="#4d4d4d" stroke-width="0.2">−1</text>
<line x1="69.26" y1="611.74" x2="71.46" y2="611.74" stroke="#333" stroke-width="0.9"/>
<text x="67.86" y="615.04" font-size="9.1" text-anchor="end" fill="#4d4d4d" stroke="#4d4d4d" stroke-width="0.2">−2</text>
<line x1="69.26" y1="627.41" x2="71.46" y2="627.41" stroke="#333" stroke-width="0.9"/>
<text x="67.86" y="630.71" font-size="9.1" text-anchor="end" fill="#4d4d4d" stroke="#4d4d4d" stroke-width="0.2">−3</text>
<line x1="87.30" y1="633.21" x2="87.30" y2="635.41" stroke="#333" stroke-width="0.9"/>
<text x="87.30" y="644.21" font-size="9.1" text-anchor="middle" fill="#4d4d4d" stroke="#4d4d4d" stroke-width="0.2">−2</text>
<line x1="107.10" y1="633.21" x2="107.10" y2="635.41" stroke="#333" stroke-width="0.9"/>
<text x="107.10" y="644.21" font-size="9.1" text-anchor="middle" fill="#4d4d4d" stroke="#4d4d4d" stroke-width="0.2">0</text>
<line x1="126.90" y1="633.21" x2="126.90" y2="635.41" stroke="#333" stroke-width="0.9"/>
<text x="126.90" y="644.21" font-size="9.1" text-anchor="middle" fill="#4d4d4d" stroke="#4d4d4d" stroke-width="0.2">2</text>
<line x1="157.70" y1="633.21" x2="157.70" y2="635.41" stroke="#333" stroke-width="0.9"/>
<text x="157.70" y="644.21" font-size="9.1" text-anchor="middle" fill="#4d4d4d" stroke="#4d4d4d" stroke-width="0.2">−2</text>
<line x1="177.50" y1="633.21" x2="177.50" y2="635.41" stroke="#333" stroke-width="0.9"/>
<text x="177.50" y="644.21" font-size="9.1" text-anchor="middle" fill="#4d4d4d" stroke="#4d4d4d" stroke-width="0.2">0</text>
<line x1="197.30" y1="633.21" x2="197.30" y2="635.41" stroke="#333" stroke-width="0.9"/>
<text x="197.30" y="644.21" font-size="9.1" text-anchor="middle" fill="#4d4d4d" stroke="#4d4d4d" stroke-width="0.2">2</text>
<text x="52.40" y="594.70" font-size="10.0" text-anchor="middle" fill="#111" stroke="#111" stroke-width="0.2" transform="rotate(-90 52.40 594.70)">Component 2</text>
<text x="30.00" y="595.50" font-size="12.3" text-anchor="middle" fill="#111" stroke="#111" stroke-width="0.2" font-style="italic" font-weight="bold" transform="rotate(-90 30.00 595.50)">Sprr1a</text>
<path d="M115.4 687.4h0M129.3 697.4h0M128.5 695.1h0M111.6 688.5h0M133.6 699.2h0M129.9 698.2h0M120.2 690.4h0M123.0 691.8h0M124.4 692.4h0M133.3 697.8h0M129.2 695.0h0M121.0 689.8h0M117.7 689.5h0M112.3 686.1h0M119.8 691.5h0M122.6 691.2h0M112.1 685.9h0M115.8 688.2h0M114.9 689.3h0M117.5 689.3h0M119.1 689.5h0M120.5 690.9h0M125.1 693.4h0M125.1 694.8h0M130.2 696.5h0M130.7 695.6h0M132.5 698.9h0M130.1 697.1h0M110.1 692.7h0M109.3 697.8h0M111.3 691.8h0M111.5 696.3h0M111.0 696.0h0M109.3 694.4h0M110.5 694.5h0M110.5 695.2h0M109.2 690.3h0M110.9 695.4h0M111.2 694.1h0M109.6 692.8h0M110.8 694.9h0M108.8 691.7h0M109.7 691.6h0" stroke="#5dc863" stroke-width="2.00" stroke-linecap="round" fill="none"/>
<path d="M120.8 690.6h0M131.1 695.4h0M131.4 696.0h0M133.5 700.9h0M111.4 685.9h0M121.2 692.0h0M129.3 696.6h0M133.2 696.6h0M122.5 692.2h0M119.4 689.4h0M113.6 687.3h0M119.7 690.7h0M121.6 690.3h0M125.7 694.2h0M125.1 693.9h0M121.4 688.6h0M131.1 696.8h0M114.1 688.9h0M130.2 697.1h0M127.5 694.9h0M111.7 686.3h0M127.9 696.7h0M115.1 687.4h0M126.9 693.7h0M121.4 692.3h0M123.5 693.0h0M127.5 694.5h0M114.2 687.9h0M133.7 699.5h0M124.2 693.2h0M121.3 691.6h0M131.8 698.7h0M129.6 694.3h0M115.7 687.1h0M120.0 690.7h0M124.2 693.5h0M119.4 691.8h0M128.1 696.8h0M119.9 691.0h0M114.8 688.4h0M132.9 698.5h0M112.4 684.9h0M115.8 686.2h0M133.7 701.0h0M112.4 686.8h0M128.6 697.0h0M114.4 686.7h0M133.7 700.6h0M130.3 697.3h0M127.4 695.8h0M123.1 691.2h0M132.0 697.2h0M124.3 694.1h0M130.4 697.9h0M123.0 693.5h0M131.6 696.2h0M111.4 687.4h0M111.8 688.1h0M128.7 696.1h0M132.5 699.2h0M114.9 686.4h0M126.8 695.2h0M111.6 687.5h0M122.6 691.0h0M132.0 702.1h0M132.8 702.7h0M129.5 696.3h0M132.2 695.8h0M131.6 701.3h0M129.6 697.1h0M128.7 694.2h0M131.4 701.0h0M131.3 697.1h0M129.1 698.1h0M130.0 697.7h0M130.7 699.8h0M131.9 699.7h0M128.1 696.4h0M131.3 700.4h0M127.5 699.2h0M129.1 696.7h0M129.1 698.1h0M133.6 701.3h0M131.9 701.5h0M129.9 697.4h0M129.1 697.8h0M128.6 696.2h0M109.0 694.6h0M110.0 695.7h0M112.6 696.6h0M109.7 696.2h0M110.2 694.0h0M110.1 690.0h0M110.8 692.6h0M111.2 695.7h0M108.9 694.7h0M110.3 689.7h0M109.7 690.8h0M109.3 689.7h0M109.9 691.4h0M110.0 690.1h0" stroke="#b5de2b" stroke-width="2.00" stroke-linecap="round" fill="none"/>
<path d="M113.2 685.8h0M130.0 695.6h0M130.6 697.0h0M131.2 695.7h0M113.1 688.0h0M126.9 693.8h0M121.9 692.6h0M122.9 692.1h0M113.2 685.5h0M133.1 698.6h0M116.7 688.8h0M122.8 690.8h0M134.4 699.0h0M132.3 699.5h0M132.3 697.1h0M133.7 697.9h0M117.0 687.9h0M124.6 692.6h0M112.1 686.2h0M120.4 690.3h0M115.7 688.4h0M119.9 690.7h0M112.3 687.4h0M129.7 697.5h0M117.4 688.5h0M121.5 691.3h0M132.5 699.5h0M113.5 684.8h0M116.9 686.7h0M123.4 690.1h0M111.1 686.2h0M131.4 696.9h0M114.8 687.7h0M125.2 693.1h0M113.5 686.2h0M112.0 687.5h0M111.5 686.3h0M119.0 689.3h0M119.5 691.7h0M119.8 690.4h0M129.2 694.6h0M115.7 688.1h0M128.1 694.6h0M119.9 687.5h0M129.8 696.7h0M127.3 693.2h0M119.9 690.0h0M133.0 700.1h0M133.5 699.9h0M111.8 687.5h0M132.7 700.3h0M113.4 685.3h0M122.8 692.9h0M117.8 689.6h0M125.5 693.4h0M117.8 687.9h0M121.0 689.8h0M114.2 687.2h0M113.9 688.0h0M118.0 688.8h0M132.7 700.1h0M115.1 686.0h0M132.9 700.3h0M130.1 696.9h0M131.2 698.6h0M130.0 695.5h0M132.9 699.3h0M130.5 697.9h0M131.1 697.0h0M132.3 699.3h0M129.3 696.5h0M128.2 696.6h0M129.8 699.4h0M132.6 704.0h0M130.8 697.6h0" stroke="#fde725" stroke-width="2.00" stroke-linecap="round" fill="none"/>
<path d="M110.4 692.9h0M110.6 694.0h0M110.5 689.0h0M110.2 689.6h0M107.5 690.2h0M111.5 697.2h0M99.5 683.0h0M108.7 682.6h0M92.8 683.0h0M99.3 682.1h0M90.2 683.5h0M96.1 683.9h0M106.8 683.7h0M96.6 684.1h0M104.4 683.4h0M92.0 683.4h0M96.3 682.6h0M100.5 682.6h0M95.5 682.5h0M108.7 683.1h0M95.6 680.9h0M107.9 682.9h0M99.7 682.2h0M96.3 683.2h0M98.5 683.0h0M99.4 682.5h0M107.4 681.5h0M107.6 683.4h0" stroke="#21908c" stroke-width="2.00" stroke-linecap="round" fill="none"/>
<path d="M97.0 682.4h0M101.8 682.4h0M92.4 681.8h0M100.0 684.8h0M97.8 680.8h0M92.5 682.2h0M107.3 684.6h0M95.0 683.3h0M94.8 682.8h0M94.2 684.0h0M98.2 681.7h0M95.3 682.4h0M90.8 684.0h0M94.5 683.4h0M107.7 685.1h0M100.4 682.6h0M104.6 683.9h0M105.2 683.0h0M100.7 682.3h0M90.8 684.0h0M105.8 685.1h0M103.3 683.4h0M96.7 683.5h0M91.8 683.4h0M107.9 684.9h0M95.6 683.3h0M97.5 683.1h0M97.2 682.3h0M106.2 683.4h0M90.1 683.0h0M98.2 682.5h0M102.9 682.9h0M100.5 682.0h0M101.5 683.6h0M98.3 681.8h0M98.8 683.6h0M106.5 683.6h0M102.8 681.4h0M106.1 683.8h0M100.8 683.2h0M97.6 682.9h0M95.6 682.8h0M95.8 683.0h0M100.4 681.4h0M99.9 683.1h0M105.3 682.8h0M95.4 682.2h0M99.0 680.6h0M103.5 683.4h0M98.7 683.1h0M95.4 682.7h0M92.5 681.7h0M95.0 683.2h0M98.4 682.9h0M97.8 682.0h0M102.1 682.9h0M101.3 683.5h0M96.5 683.2h0M86.0 681.5h0M85.5 684.3h0M86.2 683.3h0M84.8 683.9h0M85.6 684.0h0M87.3 683.1h0M85.5 683.2h0M85.9 683.6h0M85.6 683.5h0M85.6 683.7h0M83.9 681.4h0M85.1 682.8h0M85.5 683.3h0M85.7 683.4h0" stroke="#440154" stroke-width="2.00" stroke-linecap="round" fill="none"/>
<path d="M93.0 683.5h0M101.3 683.3h0M94.2 683.1h0M102.3 681.9h0M105.0 683.7h0M105.7 683.5h0M107.3 684.4h0M100.9 683.4h0M95.3 683.5h0M92.0 682.0h0M99.0 683.0h0M97.7 683.5h0M94.1 682.9h0M102.1 682.8h0M98.7 682.4h0M101.8 681.5h0M108.2 684.4h0M103.1 681.8h0M101.8 682.7h0M93.1 684.0h0M101.1 682.9h0M91.6 683.1h0M100.0 682.6h0M105.6 683.5h0M98.3 681.7h0M106.2 683.1h0M96.5 684.2h0M95.6 682.7h0M91.6 683.9h0M101.4 683.6h0M104.2 683.2h0M103.5 683.4h0M92.5 683.8h0M89.6 682.3h0M97.6 682.8h0M101.8 682.8h0M99.9 683.0h0M104.2 682.9h0M93.0 682.6h0M103.0 681.0h0M103.8 681.6h0M97.9 683.4h0M99.5 684.0h0M102.9 684.4h0M90.9 684.4h0M102.0 683.0h0M100.8 681.5h0M91.0 685.2h0M107.5 684.0h0M104.8 683.1h0M83.9 681.7h0M87.0 684.0h0M84.7 683.3h0M84.6 683.2h0M86.1 684.2h0M86.3 683.8h0" stroke="#3b528b" stroke-width="2.00" stroke-linecap="round" fill="none"/>
<path d="M118.4 694.0h0M120.9 696.3h0M110.9 700.6h0" stroke="#b5de2b" stroke-width="1.70" stroke-linecap="round" fill="none"/>
<path d="M119.9 695.2h0M121.4 694.3h0" stroke="#fde725" stroke-width="1.70" stroke-linecap="round" fill="none"/>
<path d="M111.0 703.5h0" stroke="#5dc863" stroke-width="1.70" stroke-linecap="round" fill="none"/>
<path d="M81.9 696.3h0M84.4 691.6h0" stroke="#21908c" stroke-width="1.80" stroke-linecap="round" fill="none"/>
<path d="M78.9 702.2h0M79.2 703.8h0M79.4 706.3h0" stroke="#440154" stroke-width="1.80" stroke-linecap="round" fill="none"/>
<path d="M76.6 723.3h0" stroke="#3b528b" stroke-width="1.80" stroke-linecap="round" fill="none"/>
<path d="M79.6,703.1 L81.9,696.3 L84.9,691.6 L88.3,688.4 L92.4,686.1 L97.4,685.1 L102.4,685.3 L106.4,686.1 L109.4,687.3 L114.4,689.2 L119.4,691.3 L124.4,694.0 L129.4,697.4 L133.8,701.2" fill="none" stroke="#000" stroke-width="1.5" stroke-linejoin="round"/>
<line x1="109.40" y1="687.32" x2="110.00" y2="691.59" stroke="#000" stroke-width="1.5"/>
<circle cx="88.30" cy="688.43" r="5.00" fill="#000"/>
<text x="88.40" y="691.69" font-size="9.2" text-anchor="middle" fill="#fff" stroke="#fff" stroke-width="0.45">2</text>
<circle cx="109.40" cy="687.32" r="5.00" fill="#000"/>
<text x="109.50" y="690.58" font-size="9.2" text-anchor="middle" fill="#fff" stroke="#fff" stroke-width="0.45">1</text>
<path d="M201.9 697.0h0M199.9 695.7h0M195.9 692.7h0M186.7 686.6h0M199.5 696.1h0M194.8 693.1h0M190.8 689.9h0M182.7 685.9h0M194.4 692.9h0M185.7 689.1h0M188.5 689.7h0M197.1 694.8h0M181.4 685.9h0M203.0 697.4h0M195.3 693.0h0M200.1 693.9h0M186.3 687.5h0M195.5 693.4h0M197.9 693.7h0M189.4 689.0h0M202.7 700.0h0M197.5 694.8h0M183.1 687.0h0M204.4 699.9h0M191.1 690.1h0M203.9 700.1h0M196.3 692.9h0M203.8 699.8h0M186.5 688.8h0M203.1 699.1h0M195.1 693.0h0M200.8 698.3h0M194.5 694.2h0M194.3 692.6h0M190.3 691.9h0M188.8 688.5h0M203.0 698.5h0M184.0 687.6h0M186.4 688.1h0M195.7 692.4h0M187.2 689.3h0M183.3 686.9h0M197.4 694.7h0M194.3 692.9h0M189.1 688.4h0M183.0 685.2h0M197.9 695.3h0M184.5 686.3h0M202.0 696.7h0M194.9 692.0h0M189.1 688.4h0M192.0 690.9h0M184.6 687.4h0M203.1 697.8h0M187.8 687.7h0M193.8 690.1h0M199.5 697.6h0M203.6 699.2h0M203.0 699.3h0M198.5 697.5h0M199.6 697.7h0M200.9 697.8h0M199.7 697.5h0M203.4 698.3h0M202.9 700.7h0M200.7 696.9h0" stroke="#fde725" stroke-width="2.00" stroke-linecap="round" fill="none"/>
<path d="M188.4 687.8h0M202.7 698.6h0M197.0 694.3h0M182.1 686.8h0M193.5 692.5h0M185.7 686.9h0M187.2 690.2h0M193.4 693.2h0M194.6 693.3h0M198.5 693.3h0M184.0 688.0h0M187.0 687.9h0M194.4 691.7h0M188.2 689.3h0M193.6 692.1h0M194.1 692.7h0M200.1 698.6h0M198.1 696.2h0M189.6 691.1h0M187.2 687.2h0M181.6 687.6h0M190.4 689.7h0M189.3 690.7h0M201.6 697.3h0M186.3 688.1h0M198.4 693.9h0M200.2 697.1h0M203.9 699.5h0M191.1 691.8h0M182.2 687.5h0M198.2 695.1h0M191.2 690.1h0M201.2 698.0h0M192.4 691.6h0M182.0 685.0h0M197.5 693.9h0M185.7 688.0h0M202.6 698.0h0M186.3 688.8h0M197.3 692.8h0M184.2 689.3h0M185.2 687.1h0M191.5 690.0h0M201.5 697.3h0M192.5 691.7h0M182.1 687.1h0M192.3 689.6h0M188.9 689.0h0M192.4 692.6h0M203.0 697.8h0M200.6 696.2h0M198.0 696.1h0M203.5 701.2h0M190.2 689.9h0M195.8 690.9h0M199.2 695.6h0M194.1 693.7h0M186.2 687.8h0M187.7 689.9h0M189.4 688.4h0M194.6 691.3h0M198.3 694.5h0M198.2 693.8h0M203.6 698.2h0M199.4 698.5h0M202.5 701.4h0M201.6 696.9h0M202.5 701.0h0M199.2 697.7h0M201.8 699.6h0M200.8 696.2h0M203.9 700.1h0M203.7 700.4h0M199.3 697.0h0M204.1 700.4h0M202.5 697.3h0M204.2 699.2h0M199.0 695.2h0M203.2 699.9h0M198.8 697.0h0M204.5 699.5h0M201.6 698.3h0M203.0 703.2h0M198.7 699.3h0M201.1 699.6h0M204.0 700.7h0M180.3 696.0h0M180.3 692.0h0M180.0 689.3h0M180.5 692.7h0M180.7 692.8h0M180.2 697.0h0M180.0 691.8h0M180.9 691.6h0M181.2 697.0h0M179.2 693.2h0M180.4 690.2h0M181.3 696.5h0M181.5 695.5h0M181.4 695.8h0M180.8 690.3h0M179.7 689.4h0M180.4 691.2h0M180.2 689.7h0M180.0 696.6h0M180.4 693.9h0M181.5 691.6h0M179.9 689.2h0M180.7 690.4h0" stroke="#b5de2b" stroke-width="2.00" stroke-linecap="round" fill="none"/>
<path d="M193.8 692.8h0M182.4 684.9h0M187.3 686.5h0M189.6 688.0h0M188.3 690.0h0M190.7 690.7h0M187.8 688.6h0M198.3 693.5h0M187.9 689.9h0M187.9 688.6h0M202.7 695.5h0M195.7 693.4h0M192.6 690.0h0M182.2 688.3h0M202.3 697.7h0M196.2 691.7h0M199.6 698.5h0M194.2 693.4h0M186.6 687.6h0M189.0 687.7h0M198.8 696.0h0M190.1 690.1h0M190.0 690.6h0M194.1 691.7h0M192.5 690.4h0M189.6 689.9h0M194.9 691.7h0M194.9 692.1h0M201.4 694.7h0M196.5 695.7h0M200.6 698.2h0M202.3 696.4h0M202.7 697.2h0M199.2 696.3h0M200.0 698.2h0M200.4 698.9h0M199.4 696.4h0M199.9 697.8h0M180.8 692.5h0M180.5 694.3h0M181.1 696.6h0M179.9 690.9h0M181.9 697.5h0M180.2 694.5h0M179.3 692.6h0M180.3 690.3h0M179.8 691.1h0M180.9 694.8h0M179.4 689.8h0M180.5 695.7h0M146.7 721.3h0M145.3 726.6h0" stroke="#5dc863" stroke-width="2.00" stroke-linecap="round" fill="none"/>
<path d="M160.8 683.2h0M168.9 682.2h0M164.3 682.1h0M160.2 683.1h0M165.7 683.1h0M166.6 681.4h0M161.8 683.4h0M170.4 682.2h0M176.8 683.3h0M168.6 683.9h0M165.0 683.7h0M170.4 682.6h0M170.5 683.0h0M177.1 684.6h0M176.1 683.8h0M164.8 682.7h0M167.6 682.8h0M166.9 684.2h0M170.9 683.1h0M162.6 683.5h0M174.1 683.6h0M164.1 684.3h0M169.2 683.2h0M176.0 682.5h0M154.8 688.6h0M151.0 698.2h0M149.1 696.4h0M147.4 702.7h0M151.4 692.3h0M154.6 688.5h0M148.8 702.5h0M151.3 696.8h0M152.0 691.0h0M150.0 696.4h0M154.4 689.0h0M149.7 698.0h0M151.3 690.8h0M149.7 700.8h0M153.5 694.3h0M148.9 698.8h0M148.0 701.4h0M153.3 689.9h0M153.8 693.8h0M157.7 691.0h0M155.9 688.9h0M149.3 700.9h0M151.8 693.1h0M150.0 694.9h0M149.5 698.4h0M148.4 701.2h0M152.5 690.2h0M151.4 697.2h0M149.1 702.3h0M154.4 691.8h0M150.3 697.3h0M152.1 692.9h0M150.4 698.3h0M148.4 704.4h0M147.3 706.2h0M152.0 693.7h0M146.6 711.1h0M144.8 714.0h0M147.1 710.9h0M146.7 713.9h0M148.0 715.0h0M147.1 712.4h0M144.6 711.3h0M145.6 711.1h0M146.2 709.7h0M146.7 715.2h0M147.7 711.9h0M144.9 739.4h0M147.9 731.5h0M146.0 726.7h0" stroke="#21908c" stroke-width="2.00" stroke-linecap="round" fill="none"/>
<path d="M178.4 683.9h0M166.9 681.5h0M169.2 682.1h0M165.4 682.6h0M163.6 682.9h0M175.5 683.0h0M162.5 684.9h0M162.8 682.7h0M161.3 683.5h0M175.7 683.2h0M163.9 680.9h0M169.2 682.2h0M162.3 683.5h0M165.0 683.4h0M172.0 683.8h0M161.7 684.0h0M171.7 682.1h0M161.2 682.1h0M165.0 684.2h0M175.6 683.3h0M170.2 682.1h0M175.3 682.5h0M163.0 684.1h0M177.2 684.2h0M172.1 681.7h0M177.7 684.9h0M172.8 683.4h0M164.3 681.0h0M167.6 681.4h0M179.0 684.2h0M169.9 683.5h0M163.6 682.8h0M169.9 682.7h0M173.9 683.2h0M175.8 682.4h0M170.8 683.4h0M167.1 683.0h0M166.4 682.0h0M173.4 683.6h0M160.7 683.5h0M163.8 683.5h0M167.1 682.4h0M162.0 682.7h0M162.9 682.2h0M161.9 682.9h0M176.6 684.2h0M170.2 683.1h0M167.3 682.9h0M175.6 683.8h0M157.4 681.5h0M156.0 684.1h0M155.4 684.2h0M156.8 684.8h0M153.9 683.4h0M155.2 684.7h0M156.0 683.0h0M157.0 684.9h0M155.8 682.2h0M152.5 694.9h0M151.2 694.5h0M147.1 703.3h0M149.3 699.9h0M149.2 703.0h0M152.3 694.2h0M155.5 692.6h0M146.7 704.5h0M147.9 701.8h0M146.6 704.6h0M149.6 700.2h0M152.8 693.0h0M151.3 694.8h0M147.1 703.9h0M151.5 692.6h0M153.5 694.5h0M155.3 684.3h0M150.0 699.4h0M155.7 688.4h0M149.0 702.7h0M152.9 692.3h0M149.4 697.4h0M157.3 687.9h0M155.3 689.8h0M147.1 703.2h0M149.2 700.2h0M147.7 701.0h0M148.5 701.9h0M155.6 691.9h0M146.8 705.5h0M157.2 691.1h0M152.8 691.0h0M153.2 693.1h0M148.5 707.8h0M149.6 695.3h0M152.4 690.2h0M148.8 699.2h0M150.6 706.4h0M146.5 706.5h0M149.7 696.3h0M150.1 702.0h0M149.2 699.5h0M149.5 702.3h0M150.4 699.9h0M153.2 692.9h0M153.8 690.5h0M148.4 698.2h0M150.8 698.3h0M149.7 701.4h0M147.8 701.4h0M151.5 697.1h0M147.7 703.3h0M147.4 706.5h0M150.7 692.7h0M145.7 704.8h0M146.9 701.6h0M149.4 701.8h0M152.6 691.2h0M147.3 704.7h0M157.0 687.6h0M148.4 699.7h0M157.1 687.9h0M151.6 700.6h0M150.7 695.8h0M150.2 692.0h0M149.8 704.3h0M146.9 704.9h0M150.1 701.6h0M148.4 704.9h0M153.4 689.9h0M152.6 693.1h0M153.8 691.5h0M154.2 693.1h0M154.8 688.8h0M148.0 701.3h0M153.9 693.5h0M147.3 703.9h0M148.7 707.8h0M153.9 690.0h0M148.9 699.6h0M157.2 688.1h0M154.2 690.8h0M155.3 688.5h0M153.0 693.4h0M156.8 687.9h0M152.9 694.8h0M153.6 696.0h0M155.5 688.9h0M158.0 689.7h0M149.5 711.6h0M145.8 714.5h0M143.7 709.7h0M148.1 712.3h0M147.8 710.0h0M146.8 710.3h0M146.8 712.6h0M145.3 708.5h0M146.5 709.5h0M145.3 713.5h0M147.3 709.6h0M145.7 710.6h0M145.3 711.8h0M147.3 712.0h0M146.4 711.0h0M146.5 708.9h0M145.3 708.9h0" stroke="#3b528b" stroke-width="2.00" stroke-linecap="round" fill="none"/>
<path d="M178.1 684.3h0M164.6 683.0h0M161.7 684.9h0M175.3 684.1h0M175.1 682.7h0M167.2 681.8h0M169.8 682.6h0M166.7 683.5h0M164.6 683.3h0M168.5 681.0h0M175.5 683.0h0M160.6 682.0h0M170.5 681.6h0M173.2 684.0h0M161.1 684.5h0M171.4 681.5h0M178.0 683.7h0M171.2 682.3h0M178.9 683.9h0M162.3 683.1h0M165.8 683.6h0M166.7 682.2h0M169.9 682.4h0M176.1 684.8h0M169.8 682.6h0M161.3 683.3h0M166.9 684.4h0M178.7 684.2h0M167.3 683.0h0M168.1 683.3h0M170.2 683.1h0M175.8 682.4h0M171.4 682.4h0M175.8 682.8h0M171.5 682.0h0M162.2 682.7h0M169.0 682.9h0M160.8 682.9h0M165.8 683.8h0M165.3 681.4h0M165.5 682.7h0M174.9 684.0h0M177.6 683.5h0M160.7 684.4h0M160.4 684.5h0M163.6 682.8h0M167.5 682.4h0M160.4 683.5h0M167.1 683.0h0M163.8 683.0h0M170.2 683.4h0M169.8 683.2h0M166.6 682.9h0M172.2 682.5h0M160.8 684.0h0M175.4 683.2h0M169.7 682.8h0M156.7 682.6h0M155.4 681.9h0M156.2 684.2h0M155.4 682.7h0M155.9 685.2h0M156.0 681.4h0M157.2 684.0h0M156.6 681.6h0M154.4 682.7h0M155.7 684.9h0M155.4 685.0h0M150.4 699.8h0M149.6 701.7h0M149.9 698.3h0M151.2 704.0h0M151.6 692.5h0M156.1 691.0h0M152.6 692.1h0M152.9 691.7h0M151.9 689.8h0M149.2 704.5h0M150.3 698.8h0M151.2 698.5h0M148.6 700.7h0M157.8 689.0h0M154.2 694.2h0M155.8 688.1h0M155.4 688.4h0M152.1 693.0h0M150.0 703.0h0M147.1 705.5h0M147.4 702.0h0M154.2 691.0h0M150.0 703.1h0M146.3 706.4h0M153.4 688.7h0M154.3 688.1h0M153.9 690.2h0M151.2 693.0h0M148.6 708.0h0M150.0 699.5h0M148.8 698.1h0M148.7 701.1h0M146.9 704.9h0M152.9 693.8h0M149.4 694.5h0M147.2 704.2h0M157.2 688.6h0M149.4 708.5h0M151.1 696.8h0M152.7 692.6h0M150.4 700.9h0M152.2 694.3h0M154.1 694.5h0M148.8 697.0h0M149.2 700.9h0M154.9 693.7h0M150.0 701.5h0M155.3 689.8h0M156.5 689.3h0M152.4 689.8h0M147.0 703.1h0M150.4 696.4h0M150.2 697.7h0M150.9 697.1h0M150.3 700.0h0M152.9 691.5h0M148.2 706.3h0M148.2 703.9h0M149.6 694.8h0M148.1 706.8h0M147.7 701.3h0M154.0 691.2h0M150.8 696.5h0M151.3 701.6h0M149.0 703.9h0M147.8 702.2h0M153.0 693.8h0M148.6 700.1h0M152.9 693.3h0M145.9 704.7h0M152.4 693.9h0M149.1 701.1h0M151.9 693.0h0M150.1 700.2h0M148.9 697.2h0M148.4 713.5h0M148.9 709.0h0M149.0 710.3h0M145.5 708.8h0M146.5 711.7h0M148.3 711.7h0M147.1 714.6h0M146.5 711.5h0M147.3 713.4h0M146.3 710.5h0M148.5 711.6h0M148.3 708.4h0M148.6 714.1h0M147.5 709.7h0M145.9 712.2h0M148.7 715.7h0M146.7 711.6h0M149.2 715.8h0M145.5 740.3h0M147.0 732.9h0M148.4 722.9h0M149.9 729.2h0M148.9 732.3h0M147.3 720.4h0M145.2 727.7h0M143.1 726.0h0M145.2 737.6h0" stroke="#440154" stroke-width="2.00" stroke-linecap="round" fill="none"/>
<path d="M188.8 694.0h0" stroke="#fde725" stroke-width="1.70" stroke-linecap="round" fill="none"/>
<path d="M190.3 695.2h0M181.3 700.6h0" stroke="#b5de2b" stroke-width="1.70" stroke-linecap="round" fill="none"/>
<path d="M191.8 694.3h0M191.3 696.3h0M181.4 703.5h0" stroke="#5dc863" stroke-width="1.70" stroke-linecap="round" fill="none"/>
<path d="M150.0,703.1 L152.3,696.3 L155.3,691.6 L158.7,688.4 L162.8,686.1 L167.8,685.1 L172.8,685.3 L176.8,686.1 L179.8,687.3 L184.8,689.2 L189.8,691.3 L194.8,694.0 L199.8,697.4 L204.2,701.2" fill="none" stroke="#000" stroke-width="1.5" stroke-linejoin="round"/>
<line x1="179.80" y1="687.32" x2="180.40" y2="691.59" stroke="#000" stroke-width="1.5"/>
<circle cx="158.70" cy="688.43" r="5.00" fill="#000"/>
<text x="158.80" y="691.69" font-size="9.2" text-anchor="middle" fill="#fff" stroke="#fff" stroke-width="0.45">2</text>
<circle cx="179.80" cy="687.32" r="5.00" fill="#000"/>
<text x="179.90" y="690.58" font-size="9.2" text-anchor="middle" fill="#fff" stroke="#fff" stroke-width="0.45">1</text>
<line x1="70.40" y1="678.61" x2="70.40" y2="744.60" stroke="#333" stroke-width="0.9"/>
<line x1="69.95" y1="744.15" x2="135.90" y2="744.15" stroke="#333" stroke-width="0.9"/>
<line x1="140.80" y1="744.15" x2="206.30" y2="744.15" stroke="#333" stroke-width="0.9"/>
<line x1="68.20" y1="690.80" x2="70.40" y2="690.80" stroke="#333" stroke-width="0.9"/>
<text x="66.80" y="694.10" font-size="9.1" text-anchor="end" fill="#4d4d4d" stroke="#4d4d4d" stroke-width="0.2">0</text>
<line x1="68.20" y1="706.63" x2="70.40" y2="706.63" stroke="#333" stroke-width="0.9"/>
<text x="66.80" y="709.93" font-size="9.1" text-anchor="end" fill="#4d4d4d" stroke="#4d4d4d" stroke-width="0.2">−1</text>
<line x1="68.20" y1="722.46" x2="70.40" y2="722.46" stroke="#333" stroke-width="0.9"/>
<text x="66.80" y="725.76" font-size="9.1" text-anchor="end" fill="#4d4d4d" stroke="#4d4d4d" stroke-width="0.2">−2</text>
<line x1="68.20" y1="738.29" x2="70.40" y2="738.29" stroke="#333" stroke-width="0.9"/>
<text x="66.80" y="741.59" font-size="9.1" text-anchor="end" fill="#4d4d4d" stroke="#4d4d4d" stroke-width="0.2">−3</text>
<line x1="86.40" y1="744.15" x2="86.40" y2="746.35" stroke="#333" stroke-width="0.9"/>
<text x="89.00" y="755.15" font-size="9.1" text-anchor="middle" fill="#4d4d4d" stroke="#4d4d4d" stroke-width="0.2">2</text>
<text x="93.00" y="754.35" font-size="9.1" text-anchor="middle" fill="#4d4d4d" stroke="#4d4d4d" stroke-width="0.2">-</text>
<line x1="106.40" y1="744.15" x2="106.40" y2="746.35" stroke="#333" stroke-width="0.9"/>
<text x="106.40" y="755.15" font-size="9.1" text-anchor="middle" fill="#4d4d4d" stroke="#4d4d4d" stroke-width="0.2">0</text>
<line x1="126.40" y1="744.15" x2="126.40" y2="746.35" stroke="#333" stroke-width="0.9"/>
<text x="126.40" y="755.15" font-size="9.1" text-anchor="middle" fill="#4d4d4d" stroke="#4d4d4d" stroke-width="0.2">2</text>
<line x1="156.80" y1="744.15" x2="156.80" y2="746.35" stroke="#333" stroke-width="0.9"/>
<text x="159.40" y="755.15" font-size="9.1" text-anchor="middle" fill="#4d4d4d" stroke="#4d4d4d" stroke-width="0.2">2</text>
<text x="163.40" y="754.35" font-size="9.1" text-anchor="middle" fill="#4d4d4d" stroke="#4d4d4d" stroke-width="0.2">-</text>
<line x1="176.80" y1="744.15" x2="176.80" y2="746.35" stroke="#333" stroke-width="0.9"/>
<text x="176.80" y="755.15" font-size="9.1" text-anchor="middle" fill="#4d4d4d" stroke="#4d4d4d" stroke-width="0.2">0</text>
<line x1="196.80" y1="744.15" x2="196.80" y2="746.35" stroke="#333" stroke-width="0.9"/>
<text x="196.80" y="755.15" font-size="9.1" text-anchor="middle" fill="#4d4d4d" stroke="#4d4d4d" stroke-width="0.2">2</text>
<text x="52.40" y="705.10" font-size="10.0" text-anchor="middle" fill="#111" stroke="#111" stroke-width="0.2" transform="rotate(-90 52.40 705.10)">Component 2</text>
<text x="30.00" y="708.30" font-size="12.3" text-anchor="middle" fill="#111" stroke="#111" stroke-width="0.2" font-style="italic" font-weight="bold" transform="rotate(-90 30.00 708.30)">Krt5</text>
<path d="M131.9 812.3h0M113.3 803.0h0M127.7 812.5h0M114.1 801.1h0M131.4 813.7h0M132.7 815.2h0M116.8 804.0h0M131.7 813.2h0M120.7 804.9h0M119.4 804.1h0M124.8 807.4h0M124.6 807.6h0M129.1 812.5h0M114.5 804.4h0M128.9 811.1h0M127.9 811.0h0M127.1 809.2h0M114.5 802.6h0M130.6 813.2h0M134.2 815.0h0M112.5 802.9h0M117.3 803.7h0M112.4 803.4h0M113.9 802.3h0M129.4 809.8h0M127.5 812.8h0M116.8 802.9h0M118.6 805.4h0M130.8 811.8h0M127.7 808.8h0M125.8 806.6h0M121.2 805.5h0M133.3 815.8h0M112.0 802.7h0M122.6 807.3h0M125.0 808.4h0M122.9 806.0h0M136.0 814.0h0M112.7 802.8h0M125.6 808.5h0M135.1 816.2h0M133.4 816.5h0M133.7 812.7h0M128.8 810.1h0M124.6 808.3h0M117.5 804.8h0M112.6 801.1h0M121.4 806.8h0M117.6 805.1h0M134.4 813.1h0M134.0 815.4h0M120.7 805.4h0M133.8 813.9h0M122.7 807.6h0M129.9 811.0h0M119.9 805.5h0M113.2 801.8h0M119.3 806.9h0M122.6 806.9h0M130.6 813.9h0M119.6 806.0h0M121.2 805.5h0M126.8 810.6h0M124.4 809.5h0M125.7 808.8h0M117.6 805.4h0M117.1 802.1h0M125.3 807.2h0M125.0 809.4h0M123.5 806.5h0M117.2 805.3h0M116.6 804.2h0M132.5 813.8h0M127.7 809.9h0M133.9 815.3h0M133.6 817.2h0M113.0 802.4h0M130.1 813.1h0M130.2 811.1h0M125.4 808.5h0M135.0 816.4h0M120.2 807.6h0M125.3 808.7h0M115.7 802.9h0M113.5 804.1h0M114.4 803.7h0M130.4 811.9h0M130.4 811.4h0M132.7 812.2h0M121.1 807.7h0M134.2 815.2h0M115.1 802.4h0M125.6 808.4h0M125.6 808.5h0M130.5 813.4h0M114.1 803.3h0M116.6 803.9h0M120.3 808.4h0M127.9 810.3h0M133.6 816.9h0M126.5 809.2h0M124.9 809.3h0M118.9 806.4h0M123.6 805.9h0M128.8 808.8h0M122.3 807.0h0M132.7 814.2h0M120.0 806.0h0M128.6 811.2h0M116.3 802.7h0M120.7 805.3h0M131.1 813.0h0M119.1 805.8h0M127.6 811.2h0M122.4 807.3h0M134.7 815.1h0M113.2 802.3h0M118.1 806.5h0M127.8 810.2h0M131.6 811.7h0M123.9 808.3h0M117.8 804.1h0M118.2 806.6h0M116.8 803.5h0M132.1 812.7h0M114.0 801.8h0M126.2 808.5h0M119.6 806.6h0M115.6 804.0h0M120.1 804.7h0M119.1 807.4h0M134.1 813.1h0M122.4 806.7h0M134.6 815.3h0M119.3 805.8h0M121.0 807.7h0M128.8 811.2h0M127.7 811.9h0M133.3 813.1h0M129.1 812.8h0M131.1 813.8h0M129.1 810.7h0M120.6 807.6h0M121.8 806.8h0M117.7 805.1h0M133.8 816.0h0M135.2 814.8h0M117.4 803.5h0M115.9 804.4h0M120.9 806.0h0M134.2 816.5h0M134.2 817.7h0M132.8 816.4h0M132.7 817.0h0M129.8 811.9h0M131.0 812.6h0M130.8 813.0h0M133.3 815.7h0M135.0 816.3h0M132.5 811.9h0M134.4 815.0h0M134.0 814.6h0M133.7 812.2h0M133.6 816.8h0M131.1 815.0h0M134.2 817.0h0M133.3 813.5h0M133.2 815.8h0M129.9 811.9h0M133.2 815.4h0M130.1 812.0h0M133.3 814.3h0M129.6 812.0h0M130.1 814.9h0M130.6 813.5h0M134.4 816.5h0M129.4 815.0h0M131.8 814.9h0M130.7 812.8h0M134.6 817.5h0M130.3 814.5h0M132.5 815.9h0M133.1 817.7h0M133.9 815.8h0M129.9 813.2h0M133.3 815.3h0M130.4 811.2h0M132.1 815.7h0M133.4 812.8h0M131.6 812.6h0M110.5 808.9h0M112.0 813.8h0M111.0 806.0h0M113.0 812.8h0M109.7 813.7h0M112.7 813.3h0M112.4 813.0h0M110.7 811.7h0M111.7 807.8h0M110.4 813.0h0M110.8 811.5h0M111.5 805.7h0M110.4 806.9h0M112.8 808.3h0M110.3 811.1h0M111.9 813.9h0M110.2 805.5h0M110.6 807.8h0M111.2 807.5h0M111.9 811.1h0M109.7 806.5h0M112.5 813.4h0M111.6 812.5h0M112.4 810.3h0M111.7 808.1h0M111.5 807.6h0M111.9 808.5h0M111.1 812.9h0M111.2 810.7h0M113.7 812.2h0M111.3 813.3h0M112.4 809.0h0M110.2 811.1h0M110.2 807.5h0M110.7 813.9h0M108.5 799.5h0M105.0 798.1h0M99.7 796.7h0M103.7 799.1h0M98.8 799.3h0M92.6 799.0h0M102.2 799.2h0M99.3 797.8h0M108.1 799.9h0M97.8 799.9h0M96.5 799.1h0M97.3 800.6h0M99.7 798.7h0M101.2 798.5h0M93.0 799.2h0M94.2 799.5h0M108.8 800.7h0M97.0 799.2h0M106.0 800.1h0M96.5 797.9h0M97.5 797.4h0M92.4 799.4h0M109.4 798.2h0M94.7 799.0h0M108.7 799.4h0M109.0 801.3h0M103.8 800.2h0M105.8 799.7h0M95.3 799.5h0M96.2 798.8h0M100.7 799.2h0M91.4 800.0h0M94.0 799.8h0M106.2 799.2h0M104.8 798.0h0M101.1 799.1h0M94.3 798.3h0M104.0 799.9h0M107.6 801.3h0M107.5 798.6h0M97.0 798.0h0M99.9 799.0h0M94.0 798.9h0M96.1 800.3h0M104.9 798.8h0M108.6 800.1h0M100.1 798.6h0M98.1 797.4h0M101.2 799.3h0M106.3 798.5h0M106.4 798.4h0M94.4 798.4h0M99.4 799.4h0M91.6 800.9h0M104.1 799.4h0M106.0 800.7h0M98.7 800.0h0M97.7 799.4h0M105.9 799.1h0M97.6 797.5h0M96.7 797.7h0M103.3 797.2h0M103.5 798.3h0M109.7 801.0h0M95.9 799.0h0M103.7 797.5h0M94.3 798.5h0M104.4 798.5h0M103.3 798.0h0M104.9 799.2h0M105.5 798.8h0M97.4 798.8h0M95.8 800.3h0M99.8 799.4h0M98.4 797.6h0M106.3 798.9h0M106.4 799.2h0M92.2 799.0h0M101.3 800.1h0M101.7 799.4h0M100.2 799.9h0M92.9 798.5h0M96.8 800.1h0M108.6 801.0h0M96.6 799.7h0M106.0 798.9h0M106.7 799.6h0M91.4 800.0h0M97.8 798.1h0M102.5 798.9h0M93.7 800.3h0M101.2 800.5h0M95.9 799.3h0M103.4 799.2h0M91.2 799.3h0M107.6 798.5h0M97.9 797.5h0M98.1 799.4h0M107.4 799.4h0M94.2 798.2h0M97.7 798.9h0M98.3 799.0h0M105.8 799.2h0M93.4 798.3h0M105.4 799.2h0M97.0 798.2h0M107.0 799.6h0M98.0 798.7h0M104.4 799.7h0M107.2 799.9h0M92.7 799.5h0M108.6 800.4h0M93.7 800.0h0M102.1 799.2h0M107.2 800.4h0M102.8 799.8h0M94.0 800.9h0M99.4 799.5h0M92.8 799.8h0M105.9 798.4h0M95.2 799.4h0M109.2 800.0h0M96.4 799.2h0M106.9 798.9h0M108.2 799.9h0M102.3 799.0h0M101.5 799.5h0M94.7 798.0h0M94.3 799.9h0M102.6 799.1h0M88.5 800.4h0M87.5 801.2h0M85.9 799.1h0M87.6 801.0h0M87.7 800.4h0M87.8 800.8h0M86.8 798.4h0M86.3 797.8h0M87.0 798.6h0M86.1 800.9h0M85.8 798.5h0M88.4 800.6h0M87.4 800.3h0M86.2 797.6h0M87.8 800.0h0M87.9 800.9h0M86.2 800.1h0M85.6 797.5h0M86.3 800.9h0M88.8 799.1h0" stroke="#440154" stroke-width="2.00" stroke-linecap="round" fill="none"/>
<path d="M119.6 810.1h0M121.1 811.4h0M122.6 810.5h0M122.1 812.6h0M112.2 816.9h0M112.3 819.9h0" stroke="#440154" stroke-width="1.70" stroke-linecap="round" fill="none"/>
<path d="M83.3 812.6h0M85.8 807.7h0M80.3 818.6h0M80.6 820.2h0M80.8 822.8h0M78.0 840.1h0" stroke="#440154" stroke-width="1.80" stroke-linecap="round" fill="none"/>
<path d="M81.0,819.5 L83.3,812.6 L86.3,807.7 L89.7,804.5 L93.8,802.0 L98.7,801.1 L103.7,801.2 L107.7,802.0 L110.7,803.3 L115.7,805.3 L120.6,807.4 L125.6,810.1 L130.6,813.7 L135.0,817.6" fill="none" stroke="#000" stroke-width="1.5" stroke-linejoin="round"/>
<line x1="110.69" y1="803.34" x2="111.28" y2="807.71" stroke="#000" stroke-width="1.5"/>
<circle cx="89.69" cy="804.47" r="5.00" fill="#000"/>
<text x="89.79" y="807.74" font-size="9.2" text-anchor="middle" fill="#fff" stroke="#fff" stroke-width="0.45">2</text>
<circle cx="110.69" cy="803.34" r="5.00" fill="#000"/>
<text x="110.78" y="806.60" font-size="9.2" text-anchor="middle" fill="#fff" stroke="#fff" stroke-width="0.45">1</text>
<path d="M198.9 809.2h0M204.5 814.5h0M202.5 813.9h0M196.4 807.1h0M194.5 806.4h0M189.3 804.0h0M201.3 810.3h0M185.5 803.9h0M195.3 806.3h0M198.1 812.6h0M194.3 807.9h0M200.4 810.9h0M205.0 815.7h0M185.3 800.7h0M184.3 803.1h0M192.3 805.8h0M206.3 814.6h0M191.6 805.2h0M189.8 804.9h0M203.3 813.5h0M195.4 807.5h0M200.8 813.0h0M204.0 815.6h0M202.5 813.6h0M181.8 806.3h0M183.1 809.6h0M181.7 814.0h0M181.5 813.5h0M184.2 813.1h0M182.8 807.4h0M182.4 809.6h0M180.5 808.6h0M182.0 807.9h0M181.6 809.5h0M182.6 808.2h0M168.5 799.1h0M177.2 798.5h0M171.7 798.4h0M180.4 799.5h0M171.8 797.5h0M165.5 800.0h0M180.1 799.2h0M163.5 799.7h0M172.1 799.3h0M173.9 798.5h0M169.7 798.1h0M175.5 800.4h0M174.4 799.9h0M179.4 800.9h0M177.2 799.2h0M168.3 798.9h0M152.1 816.6h0M153.0 823.5h0M159.5 805.1h0M158.9 803.2h0M155.7 811.8h0M151.8 822.0h0M149.6 823.8h0M151.2 817.6h0M152.1 819.5h0M151.1 814.8h0M154.4 809.6h0M149.8 816.6h0M156.3 807.3h0M149.5 823.7h0M149.2 822.6h0M151.6 813.1h0M151.7 816.1h0M152.6 817.0h0M158.2 805.9h0M156.5 808.9h0M159.0 803.4h0M154.2 808.6h0M150.4 819.7h0M158.6 803.6h0M151.1 818.8h0M151.5 818.8h0M149.8 832.0h0M149.1 831.0h0M148.8 825.5h0M148.2 825.4h0M149.9 828.8h0M150.7 826.7h0" stroke="#21908c" stroke-width="2.00" stroke-linecap="round" fill="none"/>
<path d="M201.5 813.0h0M202.3 811.7h0M197.8 811.0h0M186.1 804.3h0M190.6 805.2h0M193.2 807.2h0M190.7 804.7h0M202.8 813.2h0M204.1 813.4h0M200.4 811.7h0M198.4 809.9h0M197.1 806.9h0M199.9 812.5h0M198.1 811.5h0M200.6 810.2h0M193.7 808.9h0M185.3 804.3h0M190.1 804.0h0M192.6 806.3h0M197.5 809.5h0M198.7 810.6h0M190.8 805.7h0M195.5 806.7h0M201.7 812.7h0M205.8 816.0h0M199.1 809.4h0M187.8 804.5h0M203.1 811.2h0M203.0 813.9h0M205.0 816.3h0M193.2 806.1h0M185.5 801.2h0M193.6 807.1h0M201.9 810.3h0M187.5 803.0h0M196.2 807.5h0M190.1 805.6h0M185.7 804.1h0M184.4 802.5h0M190.1 806.5h0M206.5 816.0h0M194.7 809.2h0M187.8 803.6h0M191.9 806.0h0M191.5 803.8h0M184.3 803.9h0M196.6 810.9h0M201.9 811.5h0M198.8 809.6h0M194.0 808.7h0M188.8 805.3h0M194.6 808.3h0M190.2 805.1h0M186.2 802.8h0M186.2 801.6h0M188.9 804.3h0M196.4 808.2h0M185.4 804.4h0M192.0 806.7h0M201.7 812.5h0M196.6 809.7h0M197.0 809.5h0M193.7 805.7h0M185.0 802.5h0M201.9 814.4h0M193.1 805.3h0M204.3 814.2h0M192.3 806.8h0M201.1 811.1h0M200.9 811.2h0M192.2 806.1h0M196.1 807.8h0M184.6 804.4h0M203.8 814.8h0M194.6 805.9h0M206.5 816.5h0M193.0 806.2h0M197.4 809.4h0M186.8 802.3h0M192.0 805.5h0M193.6 807.3h0M202.4 814.5h0M198.0 812.3h0M203.2 814.0h0M206.1 816.4h0M184.7 802.5h0M192.6 805.2h0M194.9 807.9h0M196.9 808.5h0M184.9 803.1h0M190.2 803.5h0M196.4 806.7h0M190.2 802.9h0M190.5 803.6h0M183.3 802.6h0M197.2 807.8h0M195.1 807.9h0M201.6 812.0h0M186.2 802.5h0M205.4 814.5h0M184.4 801.5h0M205.5 814.0h0M201.9 811.0h0M195.1 805.7h0M204.5 814.0h0M186.2 803.6h0M183.7 801.7h0M185.2 801.7h0M205.6 817.2h0M201.5 812.3h0M205.3 816.0h0M203.8 816.0h0M205.9 815.5h0M202.2 815.2h0M202.0 815.4h0M201.7 812.6h0M204.2 814.4h0M204.3 814.6h0M201.8 814.3h0M203.4 813.6h0M203.9 816.0h0M203.0 814.1h0M204.2 815.1h0M204.0 816.1h0M201.5 816.0h0M206.5 816.5h0M205.4 817.0h0M201.9 813.8h0M203.9 815.9h0M204.0 814.5h0M200.8 811.3h0M204.9 816.6h0M201.8 817.0h0M204.2 815.7h0M206.6 815.6h0M205.0 816.6h0M182.6 812.8h0M181.9 807.1h0M182.7 808.9h0M183.4 810.4h0M183.2 810.1h0M183.2 814.1h0M183.4 808.2h0M182.3 812.4h0M181.6 807.7h0M182.9 805.1h0M182.8 811.0h0M182.0 805.9h0M182.8 807.5h0M182.8 809.6h0M182.1 811.0h0M183.0 806.7h0M182.8 811.5h0M182.8 808.0h0M181.7 806.0h0M182.6 811.5h0M183.5 813.1h0M183.6 807.0h0M180.8 810.8h0M182.2 806.3h0M176.5 798.1h0M163.0 800.0h0M179.6 799.9h0M180.5 799.2h0M167.8 798.9h0M163.9 798.9h0M174.5 798.3h0M180.3 798.9h0M151.3 835.9h0M147.7 857.5h0M149.5 832.5h0M149.1 836.1h0M148.9 834.8h0M147.9 849.6h0M148.9 839.5h0M145.7 852.8h0M146.0 844.7h0M152.3 854.1h0M147.7 838.3h0M148.2 837.7h0" stroke="#440154" stroke-width="2.00" stroke-linecap="round" fill="none"/>
<path d="M183.6 802.3h0M187.9 804.2h0M189.1 802.1h0M202.7 812.0h0M206.4 814.7h0M194.5 805.6h0M185.5 804.5h0M197.7 810.9h0M201.8 809.3h0M204.4 814.1h0M187.0 805.1h0M186.1 803.5h0M204.2 813.9h0M192.4 807.7h0M205.6 815.5h0M201.2 811.8h0M205.2 817.3h0M199.2 810.1h0M202.3 812.5h0M184.7 803.6h0M202.5 812.6h0M204.2 816.6h0M206.1 816.2h0M202.1 812.5h0M203.5 813.8h0M204.8 818.1h0M205.5 817.3h0M201.4 816.6h0M202.4 816.3h0M206.3 815.8h0M148.3 838.1h0M147.8 842.8h0M149.5 832.4h0" stroke="#3b528b" stroke-width="2.00" stroke-linecap="round" fill="none"/>
<path d="M170.8 798.4h0M172.3 798.0h0M178.5 799.3h0M177.4 799.5h0M177.5 798.4h0M168.4 798.3h0M163.9 799.1h0M172.6 799.9h0M173.9 798.8h0M177.8 799.4h0M164.7 799.3h0M165.4 798.4h0M181.1 801.1h0M170.4 798.2h0M180.6 801.5h0M163.5 800.2h0M181.2 799.9h0M176.9 797.9h0M163.3 799.4h0M179.8 799.4h0M174.5 798.6h0M167.5 798.0h0M166.5 799.8h0M170.4 798.6h0M175.6 799.3h0M170.9 797.9h0M177.8 799.7h0M165.4 799.6h0M170.6 798.4h0M178.6 798.3h0M178.5 798.0h0M176.4 801.3h0M164.0 799.0h0M175.5 800.3h0M179.9 799.2h0M180.0 798.8h0M169.5 797.8h0M163.6 799.3h0M178.0 799.3h0M178.1 798.0h0M178.2 797.7h0M170.8 799.3h0M162.6 800.1h0M166.3 798.8h0M174.3 798.8h0M175.1 798.9h0M181.0 800.5h0M175.2 798.2h0M165.1 799.8h0M166.4 798.9h0M166.7 798.9h0M165.3 799.7h0M163.8 798.7h0M164.5 799.3h0M158.2 800.3h0M158.8 800.0h0M160.1 798.8h0M158.6 798.3h0M157.6 799.7h0M158.0 797.9h0M157.5 798.2h0M157.9 797.8h0M158.5 797.8h0M157.8 797.3h0M159.5 798.5h0M159.2 797.1h0M158.6 799.3h0M157.2 798.1h0M157.1 808.0h0M149.4 814.2h0M150.8 824.8h0M156.6 808.3h0M157.5 804.1h0M152.1 810.6h0M154.1 810.6h0M150.0 822.3h0M152.0 815.5h0M157.4 805.4h0M150.2 821.4h0M151.1 818.1h0M153.4 812.0h0M154.2 808.2h0M150.6 819.3h0M156.3 807.6h0M158.5 802.6h0M151.3 818.6h0M155.1 810.7h0M150.6 820.8h0M149.2 821.1h0M154.2 813.0h0M152.7 821.4h0M157.9 804.6h0M156.3 807.9h0M155.0 808.9h0M153.4 815.4h0M151.3 812.8h0M152.0 816.2h0M152.0 813.2h0M151.6 815.7h0M150.6 823.0h0M148.6 820.3h0M150.0 823.7h0M154.8 809.9h0M154.0 812.9h0M150.2 818.1h0M154.4 815.9h0M153.7 806.8h0M155.4 808.3h0M149.9 821.2h0M159.6 804.7h0M150.9 809.9h0M152.0 810.9h0M150.5 819.6h0M154.0 811.3h0M156.5 807.6h0M149.0 821.6h0M150.9 817.4h0M151.2 820.3h0M156.2 808.3h0M155.6 813.0h0M157.5 809.9h0M152.5 815.2h0M158.6 807.2h0M152.7 812.1h0M155.8 812.7h0M150.8 812.0h0M152.0 810.7h0M150.3 822.9h0M154.3 812.5h0M155.7 809.9h0M154.3 809.7h0M150.2 828.0h0M150.2 829.2h0M150.0 827.9h0M148.9 824.7h0M148.8 824.4h0M148.4 827.8h0M149.4 825.8h0M147.8 825.9h0M148.7 831.2h0M149.8 826.4h0M149.9 828.6h0M152.2 829.4h0" stroke="#5dc863" stroke-width="2.00" stroke-linecap="round" fill="none"/>
<path d="M166.4 799.0h0M177.4 798.8h0M177.4 798.7h0M177.1 801.3h0M171.4 798.7h0M163.2 799.6h0M168.7 799.4h0M163.9 799.3h0M166.0 797.7h0M171.9 799.0h0M174.2 798.5h0M167.3 799.0h0M179.1 801.0h0M167.2 800.1h0M172.6 798.5h0M166.9 800.1h0M166.3 799.8h0M174.4 799.5h0M173.3 798.1h0M178.6 797.9h0M169.7 798.3h0M180.1 799.2h0M164.4 800.0h0M164.2 799.6h0M181.0 800.6h0M175.3 798.9h0M163.7 798.7h0M168.2 799.5h0M171.5 800.0h0M178.8 799.7h0M172.7 798.5h0M173.7 797.6h0M172.5 799.3h0M169.8 798.8h0M164.2 797.5h0M165.2 801.6h0M170.2 796.8h0M169.4 797.9h0M178.2 799.1h0M176.0 797.8h0M169.8 797.9h0M167.7 800.3h0M181.0 801.6h0M175.1 799.9h0M163.8 800.0h0M175.9 799.5h0M165.8 799.3h0M171.1 797.6h0M180.5 800.3h0M170.6 796.7h0M167.2 799.0h0M180.0 799.9h0M158.0 797.5h0M157.4 800.7h0M159.0 799.0h0M157.4 798.8h0M158.9 801.0h0M159.1 799.6h0M148.7 819.7h0M151.5 817.8h0M154.4 812.1h0M159.6 804.7h0M154.3 811.5h0M154.5 808.8h0M148.9 817.8h0M150.4 823.6h0M150.5 822.5h0M150.4 819.6h0M155.0 809.2h0M158.3 807.0h0M150.7 823.7h0M155.3 809.1h0M149.9 821.4h0M155.8 808.6h0M152.5 811.1h0M156.3 810.3h0M152.6 816.4h0M148.7 820.6h0M155.2 805.9h0M150.6 824.0h0M150.5 824.0h0M152.8 818.1h0M158.0 803.7h0M148.6 822.7h0M157.5 804.4h0M158.5 804.2h0M159.9 804.2h0M153.0 815.3h0M152.7 813.4h0M153.8 812.4h0M152.7 815.3h0M151.7 813.5h0M151.5 823.7h0M153.2 813.5h0M151.1 817.9h0M149.2 823.0h0M151.7 820.5h0M156.7 802.9h0M152.7 815.5h0M155.4 808.2h0M152.4 816.2h0M150.6 823.2h0M157.3 807.2h0M154.1 813.8h0M149.6 820.9h0M154.9 803.6h0M155.9 808.5h0M158.2 805.5h0M150.4 820.1h0M151.1 818.8h0M151.3 814.1h0M150.1 818.3h0M157.7 805.5h0M152.0 810.8h0M149.9 816.7h0M150.9 823.6h0M156.7 809.3h0M152.3 816.7h0M153.2 817.9h0M155.3 811.0h0M159.4 807.0h0M157.3 805.1h0M154.1 814.5h0M158.8 809.9h0M149.8 815.1h0M150.7 826.5h0M149.7 829.2h0M148.9 829.5h0M150.3 831.3h0M148.2 831.2h0M149.6 829.5h0M149.6 829.1h0M150.1 829.4h0M148.9 827.4h0M149.9 828.1h0M148.4 826.8h0M152.4 826.3h0M148.2 824.4h0M151.0 825.0h0M150.4 829.7h0M150.1 826.3h0M152.1 826.3h0M148.9 829.0h0" stroke="#b5de2b" stroke-width="2.00" stroke-linecap="round" fill="none"/>
<path d="M190.9 810.1h0" stroke="#3b528b" stroke-width="1.70" stroke-linecap="round" fill="none"/>
<path d="M192.4 811.4h0" stroke="#21908c" stroke-width="1.70" stroke-linecap="round" fill="none"/>
<path d="M193.9 810.5h0M193.4 812.6h0M183.5 816.9h0M183.6 819.9h0" stroke="#440154" stroke-width="1.70" stroke-linecap="round" fill="none"/>
<path d="M160.1 806.2h0M150.8 820.9h0M154.8 813.2h0M151.5 820.6h0M158.6 803.2h0M157.5 805.1h0M154.4 811.6h0M150.6 816.4h0M151.1 818.7h0M152.3 813.1h0M153.2 816.5h0M150.4 818.9h0M151.7 816.2h0M149.9 815.2h0M150.7 821.7h0M149.6 818.8h0M152.2 814.3h0M157.7 806.0h0M160.1 804.6h0M153.9 810.7h0M154.5 812.0h0M151.1 819.7h0M154.6 808.4h0M150.6 824.0h0M155.5 806.9h0M153.5 812.3h0M155.4 809.7h0M155.9 809.6h0M152.1 822.4h0M151.2 813.7h0M148.3 819.5h0M155.8 807.7h0M157.8 802.1h0M151.6 810.8h0M153.2 809.8h0M155.1 805.8h0M153.3 809.8h0M154.6 807.6h0M153.2 813.2h0M159.3 805.5h0M150.2 819.1h0M151.7 820.2h0M158.9 804.7h0M149.4 818.7h0M149.6 828.0h0M149.7 831.3h0M148.0 831.2h0M149.2 830.5h0M148.5 826.2h0M150.7 828.5h0M147.9 824.4h0M149.3 831.5h0M149.5 831.7h0" stroke="#8fd744" stroke-width="2.00" stroke-linecap="round" fill="none"/>
<path d="M152.3,819.5 L154.6,812.6 L157.6,807.7 L161.0,804.5 L165.1,802.0 L170.0,801.1 L175.0,801.2 L179.0,802.0 L182.0,803.3 L187.0,805.3 L191.9,807.4 L196.9,810.1 L201.9,813.7 L206.3,817.6" fill="none" stroke="#000" stroke-width="1.5" stroke-linejoin="round"/>
<line x1="181.99" y1="803.34" x2="182.58" y2="807.71" stroke="#000" stroke-width="1.5"/>
<circle cx="160.99" cy="804.47" r="5.00" fill="#000"/>
<text x="161.09" y="807.74" font-size="9.2" text-anchor="middle" fill="#fff" stroke="#fff" stroke-width="0.45">2</text>
<circle cx="181.99" cy="803.34" r="5.00" fill="#000"/>
<text x="182.09" y="806.60" font-size="9.2" text-anchor="middle" fill="#fff" stroke="#fff" stroke-width="0.45">1</text>
<line x1="71.88" y1="794.43" x2="71.88" y2="861.94" stroke="#333" stroke-width="0.9"/>
<line x1="71.43" y1="861.49" x2="137.05" y2="861.49" stroke="#333" stroke-width="0.9"/>
<line x1="143.18" y1="861.49" x2="208.35" y2="861.49" stroke="#333" stroke-width="0.9"/>
<line x1="69.68" y1="806.90" x2="71.88" y2="806.90" stroke="#333" stroke-width="0.9"/>
<text x="68.28" y="810.20" font-size="9.1" text-anchor="end" fill="#4d4d4d" stroke="#4d4d4d" stroke-width="0.2">0</text>
<line x1="69.68" y1="823.10" x2="71.88" y2="823.10" stroke="#333" stroke-width="0.9"/>
<text x="68.28" y="826.40" font-size="9.1" text-anchor="end" fill="#4d4d4d" stroke="#4d4d4d" stroke-width="0.2">−1</text>
<line x1="69.68" y1="839.30" x2="71.88" y2="839.30" stroke="#333" stroke-width="0.9"/>
<text x="68.28" y="842.60" font-size="9.1" text-anchor="end" fill="#4d4d4d" stroke="#4d4d4d" stroke-width="0.2">−2</text>
<line x1="69.68" y1="855.50" x2="71.88" y2="855.50" stroke="#333" stroke-width="0.9"/>
<text x="68.28" y="858.80" font-size="9.1" text-anchor="end" fill="#4d4d4d" stroke="#4d4d4d" stroke-width="0.2">−3</text>
<line x1="87.80" y1="861.49" x2="87.80" y2="863.69" stroke="#333" stroke-width="0.9"/>
<text x="87.80" y="872.49" font-size="9.1" text-anchor="middle" fill="#4d4d4d" stroke="#4d4d4d" stroke-width="0.2">−2</text>
<line x1="107.70" y1="861.49" x2="107.70" y2="863.69" stroke="#333" stroke-width="0.9"/>
<text x="107.70" y="872.49" font-size="9.1" text-anchor="middle" fill="#4d4d4d" stroke="#4d4d4d" stroke-width="0.2">0</text>
<line x1="127.60" y1="861.49" x2="127.60" y2="863.69" stroke="#333" stroke-width="0.9"/>
<text x="127.60" y="872.49" font-size="9.1" text-anchor="middle" fill="#4d4d4d" stroke="#4d4d4d" stroke-width="0.2">2</text>
<line x1="159.10" y1="861.49" x2="159.10" y2="863.69" stroke="#333" stroke-width="0.9"/>
<text x="159.10" y="872.49" font-size="9.1" text-anchor="middle" fill="#4d4d4d" stroke="#4d4d4d" stroke-width="0.2">−2</text>
<line x1="179.00" y1="861.49" x2="179.00" y2="863.69" stroke="#333" stroke-width="0.9"/>
<text x="179.00" y="872.49" font-size="9.1" text-anchor="middle" fill="#4d4d4d" stroke="#4d4d4d" stroke-width="0.2">0</text>
<line x1="198.90" y1="861.49" x2="198.90" y2="863.69" stroke="#333" stroke-width="0.9"/>
<text x="198.90" y="872.49" font-size="9.1" text-anchor="middle" fill="#4d4d4d" stroke="#4d4d4d" stroke-width="0.2">2</text>
<text x="52.40" y="821.20" font-size="10.0" text-anchor="middle" fill="#111" stroke="#111" stroke-width="0.2" transform="rotate(-90 52.40 821.20)">Component 2</text>
<text x="30.00" y="822.30" font-size="12.3" text-anchor="middle" fill="#111" stroke="#111" stroke-width="0.2" font-style="italic" font-weight="bold" transform="rotate(-90 30.00 822.30)">LSL_Apobec3</text>
<text x="136.00" y="889.70" font-size="9.8" text-anchor="middle" fill="#111" stroke="#111" stroke-width="0.2">log10(value + 0.1)</text>
<rect x="108.20" y="893.10" width="56.70" height="10.80" fill="url(#vir)"/>
<line x1="124.30" y1="901.50" x2="124.30" y2="903.90" stroke="#fff" stroke-width="0.7"/>
<line x1="145.00" y1="901.50" x2="145.00" y2="903.90" stroke="#fff" stroke-width="0.7"/>
<text x="134.20" y="912.60" font-size="9.75" text-anchor="middle" fill="#111" stroke="#111" stroke-width="0.2">-1.0-0.50.0 0.5</text>
<text x="377.80" y="440.30" font-size="11" text-anchor="middle" fill="#111" stroke="#111" stroke-width="0.2" font-style="italic" font-weight="bold">UPP</text>
<text x="561.50" y="440.00" font-size="11" text-anchor="middle" fill="#111" stroke="#111" stroke-width="0.2" font-style="italic" font-weight="bold">UPPA</text>
<line x1="290.00" y1="460.90" x2="644.00" y2="460.90" stroke="#333" stroke-width="0.9"/>
<text x="454.60" y="456.20" font-size="12.2" text-anchor="start" fill="#111" stroke="#111" stroke-width="0.2" font-style="italic" font-weight="bold">Ivl</text>
<line x1="290.00" y1="568.20" x2="644.00" y2="568.20" stroke="#333" stroke-width="0.9"/>
<text x="444.20" y="563.90" font-size="12.2" text-anchor="start" fill="#111" stroke="#111" stroke-width="0.2" font-style="italic" font-weight="bold">Sprr1a</text>
<line x1="290.00" y1="676.40" x2="644.00" y2="676.40" stroke="#333" stroke-width="0.9"/>
<text x="450.00" y="671.90" font-size="12.2" text-anchor="start" fill="#111" stroke="#111" stroke-width="0.2" font-style="italic" font-weight="bold">Krt5</text>
<line x1="290.00" y1="783.90" x2="644.00" y2="783.90" stroke="#333" stroke-width="0.9"/>
<text x="427.40" y="780.00" font-size="12.2" text-anchor="start" fill="#111" stroke="#111" stroke-width="0.2" font-style="italic" font-weight="bold">LSL_Apobec3</text>
<text x="278.40" y="486.20" font-size="9.6" text-anchor="middle" fill="#111" stroke="#111" stroke-width="0.2" transform="rotate(-90 278.40 486.20)">Expression</text>
<text x="278.40" y="593.30" font-size="9.6" text-anchor="middle" fill="#111" stroke="#111" stroke-width="0.2" transform="rotate(-90 278.40 593.30)">Expression</text>
<text x="278.40" y="705.00" font-size="9.6" text-anchor="middle" fill="#111" stroke="#111" stroke-width="0.2" transform="rotate(-90 278.40 705.00)">Expression</text>
<text x="278.40" y="811.90" font-size="9.6" text-anchor="middle" fill="#111" stroke="#111" stroke-width="0.2" transform="rotate(-90 278.40 811.90)">Expression</text>
<text x="381.80" y="859.50" font-size="9.6" text-anchor="middle" fill="#111" stroke="#111" stroke-width="0.2">CellState</text>
<text x="561.60" y="856.00" font-size="9.6" text-anchor="middle" fill="#111" stroke="#111" stroke-width="0.2">CellState</text>
<path d="M315.2,502.8 L315.8,501.6 L316.1,500.3 L316.1,478.1 L316.7,478.1 L316.7,500.3 L317.0,501.6 L317.6,502.8Z" fill="#9aa0d0" stroke="#000" stroke-width="0.7" stroke-linejoin="round"/>
<path d="M345.4,502.8 L346.0,501.6 L346.3,500.3 L346.3,478.1 L346.9,478.1 L346.9,500.3 L347.2,501.6 L347.8,502.8Z" fill="#e08a80" stroke="#000" stroke-width="0.7" stroke-linejoin="round"/>
<path d="M363.3,502.8 L363.3,502.0 L366.8,499.3 L371.3,496.2 L370.3,489.2 L369.8,482.2 L372.3,477.3 L376.5,473.2 L377.1,473.2 L381.3,477.3 L383.8,482.2 L383.3,489.2 L382.3,496.2 L386.8,499.3 L390.3,502.0 L390.3,502.8Z" fill="#6f9a57" stroke="#000" stroke-width="0.7" stroke-linejoin="round"/>
<path d="M393.5,502.8 L393.5,502.4 L396.0,498.7 L400.0,494.6 L403.0,488.8 L400.0,482.2 L399.0,478.1 L406.9,478.1 L407.1,478.1 L415.0,478.1 L414.0,482.2 L411.0,488.8 L414.0,494.6 L418.0,498.7 L420.5,502.4 L420.5,502.8Z" fill="#ece27e" stroke="#000" stroke-width="0.7" stroke-linejoin="round"/>
<path d="M434.2,502.8 L434.7,498.7 L433.2,490.5 L427.2,484.7 L423.7,480.6 L428.2,474.8 L434.4,470.7 L437.1,470.1 L437.3,470.1 L440.0,470.7 L446.2,474.8 L450.7,480.6 L447.2,484.7 L441.2,490.5 L439.7,498.7 L440.2,502.8Z" fill="#466982" stroke="#000" stroke-width="0.7" stroke-linejoin="round"/>
<path d="M321.3 497.4h0M315.9 486.5h0M324.0 496.2h0M316.7 482.5h0M309.5 489.5h0M313.0 501.1h0M305.2 487.7h0M309.4 482.9h0M304.5 495.8h0M322.6 478.2h0M319.4 481.0h0M312.0 500.4h0M306.4 489.7h0M313.0 479.2h0M324.7 497.6h0M327.5 498.3h0M317.8 490.7h0M316.0 493.3h0M304.4 496.8h0M309.5 481.2h0M308.8 483.2h0M326.6 478.8h0M323.2 483.8h0M322.4 487.8h0M315.8 498.3h0M308.6 482.1h0M326.5 479.9h0M312.9 491.7h0M313.4 490.8h0M313.5 478.2h0M305.8 500.5h0M329.2 484.6h0M316.2 489.7h0M322.9 488.5h0M319.2 496.0h0M319.6 488.3h0M307.8 497.0h0M327.5 493.1h0M318.9 493.2h0M306.1 494.1h0M324.6 499.6h0M313.1 483.2h0M321.0 485.4h0M328.3 480.4h0M329.1 491.8h0M318.8 479.0h0M316.2 480.8h0M309.8 492.5h0M307.6 481.0h0M324.3 499.6h0M316.0 483.3h0M304.8 481.9h0M310.9 495.2h0M307.8 491.5h0M312.2 499.6h0M329.0 480.4h0M315.9 484.0h0M328.3 495.3h0M322.3 489.0h0M308.9 500.5h0M324.1 481.8h0M319.0 480.8h0M318.5 491.3h0M311.4 481.6h0M310.6 488.8h0M303.7 483.5h0M328.2 485.4h0M318.8 500.6h0M325.5 486.3h0M310.1 487.7h0M328.3 491.8h0M306.9 480.3h0M305.8 499.0h0M315.0 500.6h0M326.0 497.9h0M306.7 486.1h0M311.8 488.7h0M309.1 489.8h0M308.2 497.3h0M321.9 492.4h0M304.6 488.5h0M326.1 484.8h0M324.0 483.3h0M315.5 501.0h0M323.3 499.7h0M321.9 497.1h0M321.5 495.3h0M304.5 493.9h0M311.4 492.2h0M311.1 480.4h0M317.7 489.6h0M306.0 479.3h0M316.6 487.3h0M328.5 484.2h0M321.6 494.0h0M318.0 489.0h0M324.6 499.7h0M312.6 478.6h0M329.2 493.8h0M305.4 498.7h0M324.6 499.5h0M315.0 483.6h0M303.9 486.8h0M314.9 486.3h0M313.5 489.2h0M309.3 491.9h0M314.7 500.0h0M321.7 495.5h0M322.2 482.3h0M309.5 490.6h0M313.3 502.4h0M320.0 501.6h0M305.2 502.4h0M316.2 502.0h0M326.9 501.9h0M319.8 502.0h0M320.9 501.8h0M321.8 502.1h0M309.5 501.7h0M313.3 502.2h0M325.2 501.6h0M329.6 503.2h0M311.3 502.7h0M313.5 503.0h0M317.8 503.1h0M311.1 501.7h0M322.9 502.5h0M305.8 501.6h0M321.9 502.9h0M312.0 502.2h0M321.3 502.8h0M328.6 502.7h0M309.8 501.8h0M307.0 502.1h0M308.3 502.2h0M310.4 502.6h0M328.3 502.4h0M314.7 502.2h0M310.5 502.9h0M313.3 502.8h0M308.0 501.6h0M303.8 501.9h0M328.1 502.1h0M303.4 502.4h0M304.0 502.2h0M321.8 502.8h0M303.1 502.3h0M305.5 502.7h0M315.2 501.7h0M312.9 503.0h0M324.3 501.9h0M317.2 503.1h0M308.0 502.5h0M317.8 502.8h0M324.6 501.8h0M327.9 501.8h0M303.4 502.3h0M305.1 501.7h0M323.1 502.0h0M308.0 503.1h0M324.9 502.2h0M319.6 502.4h0M324.5 502.7h0M310.2 502.6h0M310.9 502.2h0M326.9 503.1h0M304.7 502.4h0M321.2 502.9h0M310.2 503.1h0M303.9 502.4h0M321.3 502.1h0M307.2 503.0h0M328.0 502.3h0M313.9 502.1h0M322.6 502.3h0M305.0 501.8h0M308.7 503.1h0M312.4 502.3h0M319.9 502.9h0M322.1 502.4h0M307.3 501.8h0M324.7 501.7h0M321.2 502.9h0M323.9 501.7h0M317.3 501.7h0M329.1 502.6h0M328.3 501.7h0M324.3 503.2h0M312.4 502.2h0M319.3 502.0h0M320.4 502.9h0M328.0 502.3h0M326.7 502.9h0M329.8 502.3h0M323.8 502.0h0M326.7 502.6h0M305.1 502.5h0M307.7 502.3h0M324.9 502.6h0M306.4 503.2h0M314.3 502.3h0M303.6 502.1h0M308.6 503.0h0M327.9 502.4h0M327.1 502.4h0M306.2 502.8h0M314.4 502.2h0M323.7 502.0h0M320.5 502.8h0M314.5 502.6h0M316.1 502.8h0M317.4 502.5h0M303.9 501.9h0M318.7 501.9h0M322.8 502.0h0M329.7 502.6h0M313.5 503.2h0M320.8 502.3h0M318.5 501.6h0M308.2 502.8h0M322.7 501.9h0M315.9 503.1h0M312.9 501.9h0M316.4 502.5h0M313.4 502.2h0M319.1 502.1h0M326.3 502.0h0M313.0 502.8h0M324.0 501.9h0M328.0 502.9h0M325.8 501.7h0M305.0 502.7h0M320.0 503.0h0M325.3 502.8h0M321.3 502.7h0M308.8 502.9h0M316.3 502.0h0M308.8 502.1h0M311.9 502.1h0M312.8 502.9h0M306.7 503.1h0M321.7 502.5h0M306.2 501.8h0M320.6 503.2h0M322.5 502.2h0M314.9 502.4h0M328.9 502.6h0M320.1 502.2h0M312.8 502.6h0M323.3 502.2h0M315.2 502.4h0M308.9 501.9h0M303.4 502.2h0M315.2 502.8h0M318.7 502.3h0M305.2 502.4h0M307.4 501.9h0M311.7 502.7h0M308.7 503.1h0M307.9 503.0h0M319.8 501.8h0M308.9 503.0h0M317.3 503.0h0M313.8 502.0h0M308.4 502.1h0M317.4 503.1h0M309.4 502.2h0M305.5 502.9h0M318.5 501.9h0M317.0 502.1h0M341.5 500.9h0M357.3 493.8h0M354.0 492.9h0M346.6 500.4h0M353.7 480.6h0M338.3 487.8h0M335.7 479.8h0M353.8 478.9h0M347.4 484.6h0M342.5 497.4h0M350.7 485.9h0M354.4 492.2h0M341.1 499.9h0M342.0 499.1h0M353.2 482.9h0M341.6 497.7h0M350.8 498.6h0M339.6 491.0h0M356.1 492.5h0M351.6 491.4h0M345.9 486.7h0M343.1 488.3h0M338.5 502.4h0M341.3 502.7h0M338.1 501.7h0M344.6 502.9h0M334.0 502.9h0M356.5 502.7h0M351.1 502.8h0M350.7 502.5h0M353.0 502.3h0M343.2 502.8h0M349.1 501.8h0M351.8 502.4h0M342.0 501.7h0M355.9 503.0h0M351.4 501.9h0M351.3 501.6h0M356.8 502.8h0M360.0 502.7h0M343.4 501.6h0M337.6 502.6h0M350.0 502.8h0M340.3 501.9h0M349.6 502.0h0M354.4 501.8h0M357.2 501.9h0M359.5 502.4h0M352.0 502.4h0M359.3 502.1h0M344.7 502.1h0M341.1 503.0h0M343.5 503.0h0M333.2 503.1h0M345.4 502.0h0M334.4 502.2h0M336.1 502.4h0M341.1 502.5h0M352.3 502.5h0M343.7 502.0h0M336.2 502.6h0M352.0 501.8h0M359.5 502.8h0M350.0 502.7h0M352.0 501.8h0M336.7 502.6h0M358.4 502.6h0M350.2 501.9h0M340.6 501.9h0M333.2 502.7h0M337.6 502.6h0M338.9 503.2h0M354.8 502.9h0M348.6 502.3h0M356.0 501.8h0M349.9 502.9h0M353.6 503.1h0M358.2 502.7h0M339.9 502.9h0M343.8 501.9h0M356.2 502.0h0M352.8 502.8h0M341.8 502.7h0M344.8 501.8h0M360.0 503.1h0M359.1 501.7h0M345.5 502.1h0M354.3 502.9h0M349.7 501.6h0M356.9 501.7h0M335.4 502.0h0M346.2 501.7h0M337.6 502.3h0M336.4 501.9h0M352.6 503.2h0M341.5 503.0h0M350.3 502.2h0M334.8 501.6h0M359.2 502.5h0M348.6 502.6h0M349.5 502.6h0M345.0 502.0h0M338.1 502.7h0M353.7 502.8h0M335.0 501.7h0M337.4 502.5h0M341.6 502.8h0M342.6 502.3h0M336.2 502.3h0M334.5 503.1h0M338.6 502.8h0M342.3 502.7h0M355.7 502.1h0M345.9 501.9h0M351.6 502.7h0M349.7 502.0h0M347.5 502.0h0M350.2 501.7h0M340.2 502.1h0M359.5 502.3h0M357.5 503.1h0M352.6 502.8h0M353.4 502.5h0M347.5 502.8h0M340.0 501.8h0M350.5 502.2h0M336.2 502.7h0M359.2 502.9h0M347.6 502.1h0M346.9 502.3h0M359.3 501.9h0M339.5 502.5h0M344.4 502.1h0M351.3 502.8h0M351.8 502.5h0M333.5 502.7h0M343.3 502.9h0M351.2 501.6h0M358.3 502.2h0M356.2 502.4h0M348.9 501.7h0M334.7 502.6h0M374.9 491.7h0M388.7 501.1h0M372.5 495.9h0M383.8 479.2h0M382.6 497.7h0M388.7 482.8h0M386.1 477.7h0M374.1 485.0h0M364.9 478.5h0M379.0 497.9h0M374.3 483.7h0M377.2 482.9h0M372.6 497.5h0M380.8 499.4h0M376.2 486.5h0M374.3 500.3h0M373.1 487.3h0M366.4 488.0h0M385.0 491.0h0M380.6 479.1h0M382.2 501.2h0M370.9 494.9h0M384.1 479.2h0M388.4 491.5h0M373.2 476.0h0M388.8 494.4h0M381.1 500.1h0M389.1 488.9h0M370.5 493.0h0M378.0 479.6h0M380.1 475.3h0M387.3 487.6h0M384.7 480.5h0M371.0 490.5h0M382.8 496.7h0M379.3 501.3h0M387.9 481.0h0M378.9 494.5h0M376.4 478.1h0M373.5 491.5h0M364.5 488.6h0M389.0 486.8h0M372.0 486.5h0M387.5 481.9h0M380.1 485.6h0M371.8 501.3h0M379.3 481.5h0M370.7 497.8h0M377.4 477.7h0M384.2 492.5h0M380.3 495.4h0M381.1 477.6h0M376.2 496.4h0M388.5 483.6h0M376.3 497.9h0M364.8 498.5h0M369.6 483.7h0M386.3 477.5h0M374.7 498.9h0M385.1 491.4h0M386.6 492.7h0M380.3 494.9h0M380.6 485.7h0M364.0 493.5h0M384.6 484.9h0M385.4 489.4h0M380.6 487.4h0M376.3 487.5h0M388.1 490.2h0M370.2 494.4h0M365.5 488.9h0M372.8 492.9h0M376.4 489.9h0M389.2 478.7h0M373.6 488.3h0M373.6 473.7h0M373.5 487.4h0M379.4 482.7h0M363.8 502.2h0M383.6 493.8h0M381.9 500.7h0M379.8 475.4h0M365.8 491.0h0M387.0 502.3h0M367.3 488.3h0M372.8 486.0h0M380.0 479.7h0M368.4 479.5h0M382.4 492.2h0M375.6 495.1h0M375.1 493.8h0M387.2 473.8h0M365.8 483.9h0M377.6 492.4h0M383.6 493.6h0M375.0 498.3h0M366.5 492.5h0M382.8 492.4h0M366.9 485.0h0M367.5 489.6h0M373.5 489.9h0M379.3 500.7h0M376.4 488.6h0M375.1 500.9h0M374.6 480.1h0M378.1 483.4h0M377.8 497.0h0M375.6 489.6h0M366.9 478.9h0M363.9 482.0h0M366.3 501.6h0M379.7 478.7h0M369.4 475.3h0M375.2 479.5h0M388.4 492.2h0M364.5 473.8h0M377.4 478.2h0M369.1 489.7h0M378.5 491.8h0M385.9 501.9h0M373.1 489.6h0M388.7 496.0h0M368.5 485.3h0M373.8 491.9h0M367.2 502.5h0M372.4 494.2h0M387.1 498.5h0M382.6 494.6h0M383.5 502.8h0M377.5 489.0h0M366.3 502.7h0M364.3 502.4h0M375.9 502.7h0M369.3 503.1h0M364.1 503.0h0M389.8 503.2h0M382.6 502.5h0M379.2 502.7h0M389.8 501.9h0M374.2 502.5h0M388.1 503.0h0M386.9 502.2h0M378.6 502.3h0M379.3 503.1h0M370.0 502.6h0M369.3 503.1h0M382.5 502.5h0M383.3 502.6h0M388.7 502.8h0M377.1 502.5h0M384.7 503.0h0M378.0 502.5h0M380.2 502.8h0M378.0 501.6h0M366.1 501.6h0M389.4 502.5h0M365.5 502.4h0M389.3 503.2h0M383.6 501.9h0M366.4 502.2h0M367.3 503.0h0M377.4 502.7h0M381.1 502.3h0M369.5 501.7h0M363.5 501.9h0M370.9 501.7h0M379.7 502.5h0M369.1 501.8h0M386.5 501.6h0M379.2 501.7h0M411.3 480.7h0M409.7 494.4h0M415.2 494.3h0M416.5 489.1h0M413.6 480.8h0M402.7 497.8h0M395.8 502.7h0M397.8 502.7h0M414.9 503.0h0M418.3 501.7h0M414.3 502.8h0M401.3 502.5h0M401.0 478.1h0M405.0 478.1h0M408.0 478.1h0M413.0 485.5h0M394.0 492.1h0M445.6 502.1h0M432.1 477.0h0M433.1 475.8h0M424.8 501.2h0M442.2 491.2h0M425.8 473.4h0M441.0 500.9h0M425.4 477.9h0M426.1 484.8h0M434.3 476.0h0M429.2 476.9h0M437.3 502.0h0M444.1 474.1h0M429.0 479.1h0M447.9 474.7h0M440.1 495.5h0M438.6 498.4h0M445.5 471.9h0M449.0 500.1h0M428.9 471.3h0M426.9 479.5h0M439.9 477.1h0M448.4 480.7h0M431.1 475.0h0M428.8 477.0h0M435.8 480.8h0M434.8 490.3h0M449.0 475.3h0M435.9 475.2h0M432.4 476.0h0M429.4 480.9h0M429.5 482.4h0M444.9 502.9h0M440.9 502.5h0M434.2 501.8h0M434.4 501.8h0" stroke="#000" stroke-width="1.80" stroke-linecap="round" fill="none"/>
<line x1="298.30" y1="468.98" x2="298.30" y2="504.49" stroke="#000" stroke-width="1.4"/>
<line x1="297.60" y1="503.79" x2="455.20" y2="503.79" stroke="#000" stroke-width="1.4"/>
<line x1="294.10" y1="502.80" x2="298.30" y2="502.80" stroke="#000" stroke-width="1.3"/>
<text x="290.70" y="505.40" font-size="7.4" text-anchor="end" fill="#111" stroke="#111" stroke-width="0.2">0</text>
<line x1="294.10" y1="494.57" x2="298.30" y2="494.57" stroke="#000" stroke-width="1.3"/>
<text x="290.70" y="497.17" font-size="7.4" text-anchor="end" fill="#111" stroke="#111" stroke-width="0.2">1</text>
<line x1="294.10" y1="486.34" x2="298.30" y2="486.34" stroke="#000" stroke-width="1.3"/>
<text x="290.70" y="488.94" font-size="7.4" text-anchor="end" fill="#111" stroke="#111" stroke-width="0.2">2</text>
<line x1="294.10" y1="478.11" x2="298.30" y2="478.11" stroke="#000" stroke-width="1.3"/>
<text x="290.70" y="480.71" font-size="7.4" text-anchor="end" fill="#111" stroke="#111" stroke-width="0.2">3</text>
<line x1="294.10" y1="469.88" x2="298.30" y2="469.88" stroke="#000" stroke-width="1.3"/>
<text x="290.70" y="472.48" font-size="7.4" text-anchor="end" fill="#111" stroke="#111" stroke-width="0.2">4</text>
<line x1="316.40" y1="503.79" x2="316.40" y2="507.39" stroke="#000" stroke-width="1.1"/>
<text x="316.40" y="517.89" font-size="8.1" text-anchor="middle" fill="#111" stroke="#111" stroke-width="0.2">1</text>
<line x1="346.60" y1="503.79" x2="346.60" y2="507.39" stroke="#000" stroke-width="1.1"/>
<text x="346.60" y="517.89" font-size="8.1" text-anchor="middle" fill="#111" stroke="#111" stroke-width="0.2">2</text>
<line x1="376.80" y1="503.79" x2="376.80" y2="507.39" stroke="#000" stroke-width="1.1"/>
<text x="376.80" y="517.89" font-size="8.1" text-anchor="middle" fill="#111" stroke="#111" stroke-width="0.2">3</text>
<line x1="407.00" y1="503.79" x2="407.00" y2="507.39" stroke="#000" stroke-width="1.1"/>
<text x="407.00" y="517.89" font-size="8.1" text-anchor="middle" fill="#111" stroke="#111" stroke-width="0.2">4</text>
<line x1="437.20" y1="503.79" x2="437.20" y2="507.39" stroke="#000" stroke-width="1.1"/>
<text x="437.20" y="517.89" font-size="8.1" text-anchor="middle" fill="#111" stroke="#111" stroke-width="0.2">5</text>
<path d="M494.0,503.0 L494.6,502.0 L494.9,501.0 L494.9,478.2 L495.5,478.2 L495.5,501.0 L495.8,502.0 L496.4,503.0Z" fill="#9aa0d0" stroke="#000" stroke-width="0.7" stroke-linejoin="round"/>
<path d="M511.5,503.0 L511.5,502.7 L513.5,501.0 L517.0,497.6 L517.5,492.9 L516.0,487.6 L518.5,482.9 L520.5,479.6 L523.0,476.2 L525.4,476.1 L525.6,476.1 L528.0,476.2 L530.5,479.6 L532.5,482.9 L535.0,487.6 L533.5,492.9 L534.0,497.6 L537.5,501.0 L539.5,502.7 L539.5,503.0Z" fill="#d13e33" stroke="#000" stroke-width="0.7" stroke-linejoin="round"/>
<path d="M542.9,503.0 L542.9,502.7 L547.9,499.6 L549.9,495.0 L545.9,489.6 L542.9,486.2 L543.9,482.9 L551.9,476.2 L555.6,473.5 L556.2,473.5 L559.9,476.2 L567.9,482.9 L568.9,486.2 L565.9,489.6 L561.9,495.0 L563.9,499.6 L568.9,502.7 L568.9,503.0Z" fill="#6f9a57" stroke="#000" stroke-width="0.7" stroke-linejoin="round"/>
<path d="M581.2,503.0 L582.8,499.6 L584.2,496.3 L583.2,489.6 L580.2,486.2 L574.2,482.9 L572.8,479.6 L576.2,476.2 L582.2,472.9 L586.0,470.2 L586.5,470.2 L590.2,472.9 L596.2,476.2 L599.8,479.6 L598.2,482.9 L592.2,486.2 L589.2,489.6 L588.2,496.3 L589.8,499.6 L591.2,503.0Z" fill="#ece27e" stroke="#000" stroke-width="0.7" stroke-linejoin="round"/>
<path d="M614.1,503.0 L614.1,497.6 L612.6,492.9 L607.6,488.3 L603.6,484.2 L608.6,480.9 L613.6,476.2 L616.3,470.8 L616.9,470.8 L619.6,476.2 L624.6,480.9 L629.6,484.2 L625.6,488.3 L620.6,492.9 L619.1,497.6 L619.1,503.0Z" fill="#466982" stroke="#000" stroke-width="0.7" stroke-linejoin="round"/>
<path d="M507.0 500.5h0M487.4 496.5h0M497.2 500.3h0M496.8 495.0h0M494.2 485.4h0M501.2 500.0h0M504.7 498.1h0M499.3 489.7h0M483.5 501.5h0M482.9 491.8h0M483.6 499.0h0M486.4 495.1h0M494.1 498.6h0M486.6 490.6h0M497.8 496.1h0M486.6 490.7h0M500.3 485.6h0M497.0 498.8h0M503.6 498.3h0M500.7 492.0h0M492.0 495.3h0M489.7 499.5h0M483.9 498.0h0M487.9 485.5h0M487.9 497.6h0M501.4 501.3h0M485.5 487.3h0M495.0 498.7h0M488.7 494.1h0M493.7 498.7h0M490.6 502.4h0M498.2 501.5h0M498.8 488.2h0M490.7 496.3h0M507.8 499.7h0M487.4 500.2h0M505.6 490.4h0M497.4 500.5h0M500.7 500.9h0M482.4 488.3h0M489.3 501.9h0M487.7 501.2h0M496.2 489.5h0M492.4 488.2h0M503.7 484.5h0M505.5 498.3h0M491.7 486.6h0M500.1 489.9h0M493.9 492.2h0M489.1 498.4h0M489.0 493.4h0M491.9 492.0h0M505.8 480.1h0M493.0 497.6h0M498.9 487.0h0M491.0 482.5h0M505.2 496.9h0M486.0 500.1h0M500.2 491.2h0M500.9 498.2h0M484.0 488.7h0M498.6 496.5h0M494.3 499.9h0M503.4 500.2h0M483.4 501.1h0M500.2 488.6h0M486.2 488.3h0M496.8 489.2h0M494.7 498.3h0M506.6 501.2h0M494.3 499.2h0M495.5 502.2h0M487.6 497.8h0M506.2 501.1h0M500.1 478.4h0M494.2 495.1h0M485.6 501.8h0M498.4 481.8h0M485.2 489.3h0M486.2 490.7h0M503.4 500.5h0M485.2 499.6h0M500.2 499.2h0M495.0 497.4h0M487.5 498.7h0M504.1 500.7h0M491.4 489.3h0M507.2 497.6h0M503.8 487.4h0M483.3 501.0h0M501.7 486.7h0M503.1 489.7h0M496.4 494.6h0M489.3 495.8h0M491.5 479.7h0M494.1 499.7h0M494.8 495.1h0M498.4 495.4h0M495.8 502.5h0M489.5 483.1h0M483.5 490.6h0M484.1 485.6h0M483.2 502.0h0M503.0 495.1h0M494.0 502.3h0M489.5 501.8h0M491.8 499.8h0M487.4 485.3h0M498.5 481.2h0M505.5 499.6h0M507.4 501.0h0M489.9 495.5h0M495.3 493.7h0M506.4 496.6h0M506.0 494.3h0M501.4 495.5h0M505.7 486.6h0M487.0 487.8h0M499.2 490.7h0M484.6 479.8h0M497.0 483.9h0M497.9 487.2h0M502.1 502.9h0M484.3 487.2h0M492.8 501.1h0M500.0 499.7h0M493.0 493.5h0M503.9 485.9h0M505.6 490.4h0M484.0 486.4h0M485.7 492.1h0M491.6 488.0h0M503.8 497.8h0M507.3 485.7h0M501.0 490.8h0M501.4 488.1h0M484.5 492.7h0M488.2 495.0h0M505.3 500.7h0M497.8 490.6h0M501.4 502.8h0M482.2 502.9h0M482.0 502.4h0M507.8 502.6h0M500.4 502.6h0M508.0 503.1h0M497.1 502.9h0M494.1 503.0h0M502.8 502.9h0M488.9 502.2h0M482.2 503.1h0M506.8 502.4h0M487.1 503.2h0M499.9 502.2h0M508.6 502.1h0M502.0 503.2h0M503.0 502.7h0M496.1 503.3h0M482.1 502.6h0M499.1 503.0h0M507.8 503.2h0M505.3 502.1h0M484.1 502.2h0M498.3 502.8h0M493.5 502.6h0M506.7 502.3h0M494.5 502.7h0M486.4 502.6h0M504.9 502.5h0M497.9 502.7h0M508.3 502.2h0M495.7 502.4h0M503.5 503.0h0M498.7 503.0h0M502.3 502.9h0M507.7 502.4h0M496.0 502.6h0M497.5 503.0h0M482.4 502.7h0M489.6 502.7h0M487.4 503.1h0M508.1 502.8h0M501.9 503.1h0M484.1 502.4h0M493.5 502.3h0M482.3 502.7h0M497.8 503.0h0M501.0 503.1h0M484.6 503.1h0M483.0 502.8h0M502.9 503.1h0M489.4 502.9h0M487.7 502.2h0M504.2 503.2h0M499.5 502.1h0M482.0 502.8h0M482.4 502.9h0M485.0 502.7h0M487.2 502.4h0M492.0 503.2h0M496.6 502.7h0M501.7 502.3h0M488.4 502.8h0M501.2 502.0h0M496.6 502.5h0M490.7 502.8h0M490.3 502.7h0M489.4 502.9h0M482.5 503.2h0M505.1 502.9h0M507.7 503.0h0M491.5 502.1h0M493.7 502.4h0M502.6 502.8h0M487.1 503.3h0M505.0 502.6h0M502.8 502.0h0M505.2 502.5h0M484.7 502.6h0M494.8 503.2h0M482.2 502.9h0M491.8 502.2h0M508.5 502.1h0M490.4 502.2h0M492.0 502.8h0M497.3 503.3h0M499.9 503.3h0M497.6 502.3h0M483.3 502.5h0M495.4 502.9h0M502.8 502.9h0M486.9 502.8h0M491.6 502.2h0M487.3 502.8h0M502.8 502.7h0M490.8 503.1h0M491.2 502.6h0M502.7 502.0h0M496.1 502.7h0M502.2 502.7h0M488.6 502.4h0M504.2 503.0h0M504.9 503.3h0M486.8 502.8h0M506.1 502.7h0M491.0 503.0h0M494.3 502.6h0M497.8 502.1h0M485.0 502.4h0M507.7 502.5h0M500.9 502.3h0M505.6 502.9h0M493.9 502.2h0M486.0 502.7h0M507.8 502.8h0M493.4 502.8h0M494.7 502.3h0M484.6 502.7h0M493.2 502.0h0M504.8 502.9h0M513.9 502.7h0M534.1 497.0h0M527.0 495.5h0M531.2 481.7h0M531.0 478.9h0M529.0 490.5h0M523.1 487.1h0M516.2 484.6h0M528.2 502.5h0M530.0 500.5h0M516.6 491.2h0M513.6 491.8h0M516.0 494.3h0M520.6 478.0h0M514.3 486.0h0M537.4 499.6h0M537.0 496.4h0M529.8 496.5h0M527.7 496.2h0M518.5 488.0h0M530.6 500.9h0M514.3 494.1h0M518.0 478.9h0M521.6 495.8h0M535.3 487.5h0M536.8 502.1h0M529.6 490.2h0M522.6 488.0h0M525.8 499.4h0M528.7 499.4h0M526.1 490.4h0M527.9 485.7h0M530.5 501.2h0M535.3 501.9h0M522.2 480.7h0M515.6 496.0h0M521.5 501.5h0M533.6 492.8h0M532.8 493.1h0M517.1 478.1h0M523.8 491.1h0M517.7 482.5h0M529.5 497.6h0M532.7 500.0h0M518.9 497.2h0M526.1 491.3h0M535.6 495.7h0M532.8 491.1h0M516.8 497.4h0M529.7 490.7h0M523.9 487.5h0M529.1 491.7h0M535.1 494.3h0M528.5 491.8h0M528.1 492.2h0M525.6 502.1h0M520.1 502.2h0M534.9 503.0h0M512.5 503.1h0M526.4 502.2h0M524.6 503.0h0M527.9 502.3h0M537.0 502.6h0M517.2 502.6h0M525.6 503.1h0M514.7 502.2h0M519.7 502.2h0M527.4 503.3h0M536.4 502.0h0M517.0 502.4h0M513.2 502.1h0M515.9 502.5h0M532.2 502.5h0M535.9 503.1h0M538.3 502.5h0M515.1 503.3h0M517.7 503.2h0M522.4 503.2h0M520.0 502.2h0M531.0 503.0h0M515.3 503.2h0M520.5 503.2h0M515.8 502.0h0M520.9 502.2h0M513.6 503.1h0M565.6 501.4h0M563.6 476.8h0M550.3 491.0h0M553.0 492.8h0M543.9 496.9h0M555.2 485.8h0M557.0 486.6h0M548.8 494.6h0M544.2 492.5h0M564.9 488.1h0M560.4 492.6h0M550.5 481.6h0M546.0 490.8h0M556.0 491.7h0M562.4 487.0h0M545.6 480.3h0M553.8 498.8h0M548.5 481.5h0M557.2 494.9h0M544.4 495.1h0M566.5 474.1h0M547.2 475.5h0M549.8 501.3h0M552.2 482.9h0M549.0 492.7h0M550.6 485.7h0M543.5 483.7h0M554.1 481.8h0M559.4 483.9h0M556.5 477.2h0M553.6 481.6h0M543.6 483.1h0M544.1 485.2h0M564.4 482.1h0M563.4 486.3h0M561.4 496.3h0M545.7 498.0h0M550.4 488.4h0M561.7 494.5h0M552.3 497.3h0M545.0 480.1h0M567.8 493.2h0M564.2 489.5h0M546.7 479.7h0M555.7 478.6h0M567.5 490.0h0M563.0 496.2h0M549.9 496.0h0M548.1 477.8h0M544.6 482.4h0M545.0 500.1h0M563.6 501.1h0M560.1 490.9h0M549.1 488.0h0M563.1 485.4h0M551.1 474.4h0M563.3 494.9h0M568.7 476.2h0M554.4 483.1h0M563.7 483.9h0M550.1 487.2h0M557.3 492.0h0M557.7 494.9h0M548.4 492.5h0M544.2 476.2h0M566.2 484.6h0M551.1 480.5h0M563.7 500.2h0M557.8 488.6h0M563.4 488.1h0M568.9 485.5h0M553.3 491.3h0M559.5 487.2h0M543.5 488.0h0M550.9 475.1h0M552.2 480.5h0M553.4 488.5h0M546.1 483.6h0M547.9 494.2h0M551.2 479.9h0M545.9 495.0h0M555.8 494.1h0M562.6 482.2h0M558.6 489.9h0M564.7 481.6h0M554.6 488.9h0M565.0 476.9h0M550.6 479.9h0M548.9 494.7h0M561.8 497.8h0M544.2 492.4h0M566.2 481.5h0M544.7 502.2h0M553.2 479.2h0M564.1 491.4h0M544.5 484.9h0M555.9 482.1h0M566.7 499.5h0M561.3 478.6h0M566.6 494.0h0M566.7 476.1h0M547.0 490.2h0M546.5 502.7h0M552.0 491.5h0M555.4 479.7h0M561.6 487.6h0M548.1 501.9h0M562.9 487.3h0M566.7 479.4h0M545.5 488.1h0M561.5 490.5h0M556.4 477.5h0M554.6 486.7h0M566.3 490.4h0M552.3 484.1h0M556.8 486.5h0M561.2 483.0h0M550.8 480.5h0M566.5 481.6h0M557.2 480.4h0M566.9 502.8h0M562.4 502.8h0M565.4 486.5h0M560.2 499.6h0M555.9 478.0h0M557.4 499.2h0M568.4 487.3h0M548.3 474.4h0M543.4 498.7h0M547.9 474.8h0M546.1 481.4h0M561.4 484.1h0M547.9 480.7h0M559.9 482.2h0M545.0 483.3h0M557.4 492.5h0M546.5 475.8h0M565.5 486.7h0M561.4 495.3h0M550.3 493.7h0M562.3 488.4h0M553.6 482.1h0M551.1 491.7h0M554.6 480.9h0M545.4 487.3h0M550.2 478.3h0M544.3 483.8h0M568.1 481.0h0M544.3 491.1h0M549.9 472.5h0M554.3 478.0h0M550.1 497.1h0M553.3 477.7h0M561.0 490.2h0M549.9 490.6h0M560.8 481.7h0M544.5 480.5h0M565.8 495.7h0M545.5 481.7h0M563.3 478.7h0M551.4 474.0h0M549.3 478.2h0M559.4 476.7h0M548.6 484.8h0M567.6 493.4h0M557.7 498.7h0M561.3 478.2h0M555.9 489.3h0M559.5 483.2h0M567.3 499.4h0M559.2 475.4h0M560.5 501.9h0M567.7 475.1h0M549.8 482.9h0M554.4 494.5h0M545.2 480.1h0M550.3 483.7h0M545.1 480.5h0M549.4 483.9h0M557.4 490.9h0M557.9 474.9h0M560.3 483.6h0M543.2 474.8h0M544.9 486.7h0M543.0 477.6h0M550.4 484.6h0M566.6 482.6h0M556.3 495.9h0M559.1 490.8h0M563.3 478.1h0M543.8 491.3h0M564.1 490.1h0M558.4 487.2h0M559.7 488.1h0M563.8 492.8h0M562.1 482.4h0M557.1 495.0h0M555.0 482.4h0M550.3 486.7h0M562.2 501.8h0M551.7 477.4h0M565.0 477.6h0M561.5 484.5h0M548.3 479.5h0M560.3 481.5h0M563.6 490.9h0M543.9 481.3h0M568.0 495.9h0M552.9 474.0h0M565.7 494.6h0M564.8 488.6h0M551.6 490.1h0M548.1 475.5h0M561.4 496.2h0M549.5 498.2h0M568.2 491.6h0M561.2 489.9h0M545.0 502.7h0M565.0 477.2h0M560.8 500.3h0M551.0 479.5h0M548.1 493.0h0M553.3 486.0h0M558.7 497.7h0M543.2 489.2h0M549.9 490.1h0M546.4 480.9h0M558.1 490.2h0M566.6 501.8h0M553.5 500.4h0M552.0 490.6h0M551.4 501.1h0M567.7 489.6h0M543.3 487.2h0M561.4 475.2h0M547.0 499.2h0M567.9 477.4h0M549.8 477.6h0M549.2 479.3h0M568.6 482.0h0M552.5 496.4h0M548.9 497.7h0M554.8 475.8h0M557.3 478.1h0M564.7 478.5h0M566.9 482.8h0M564.5 483.7h0M544.0 494.4h0M562.9 499.1h0M545.4 502.4h0M555.5 497.8h0M559.2 477.4h0M548.3 491.5h0M557.9 494.0h0M564.9 490.2h0M545.2 475.3h0M546.8 484.8h0M551.5 483.9h0M565.2 478.8h0M561.5 484.4h0M557.7 502.8h0M548.3 502.5h0M558.8 502.2h0M550.4 502.7h0M547.4 502.6h0M561.8 503.0h0M547.2 502.2h0M551.2 502.9h0M558.4 502.2h0M565.2 502.5h0M565.8 503.2h0M550.7 502.3h0M552.2 502.9h0M569.1 502.9h0M550.3 503.3h0M555.1 503.1h0M568.8 502.1h0M555.6 502.7h0M548.7 502.1h0M542.5 503.3h0M545.3 503.0h0M548.4 502.2h0M548.2 502.4h0M559.5 502.4h0M542.8 502.1h0M555.2 503.2h0M563.0 502.4h0M551.8 502.4h0M554.4 502.6h0M554.7 502.3h0M564.6 502.9h0M566.9 502.2h0M561.2 502.4h0M554.1 502.6h0M563.6 502.3h0M554.3 503.3h0M557.1 502.9h0M551.3 502.9h0M554.9 502.6h0M564.1 502.3h0M553.1 502.1h0M549.9 502.5h0M561.4 502.8h0M561.8 502.1h0M561.7 502.8h0M545.5 502.4h0M558.7 502.6h0M543.5 503.3h0M545.5 503.3h0M569.2 502.8h0M566.4 502.8h0M565.1 503.3h0M547.5 502.3h0M557.5 502.9h0M544.7 502.2h0M557.4 502.6h0M556.6 502.2h0M546.4 503.0h0M551.5 502.6h0M547.6 502.9h0M576.5 502.7h0M583.1 475.1h0M584.8 483.9h0M574.7 487.5h0M589.7 478.4h0M597.7 477.9h0M579.7 470.8h0M586.5 488.4h0M577.8 494.3h0M584.0 501.8h0M595.3 482.6h0M584.9 477.0h0M581.7 499.6h0M579.0 482.0h0M590.8 476.8h0M594.2 477.6h0M576.2 488.8h0M594.3 476.8h0M585.7 481.9h0M586.0 484.0h0M597.4 478.0h0M580.5 478.2h0M585.6 480.8h0M576.9 492.1h0M589.2 483.6h0M576.0 492.4h0M585.5 481.9h0M591.9 475.8h0M574.2 479.2h0M584.9 473.2h0M574.5 480.1h0M589.1 501.0h0M577.1 472.3h0M577.3 488.0h0M574.0 496.8h0M582.9 490.6h0M594.4 477.9h0M581.6 471.2h0M587.8 474.0h0M586.0 479.9h0M596.4 473.9h0M576.1 475.7h0M592.6 476.8h0M583.8 477.1h0M588.5 493.9h0M589.6 478.5h0M577.7 477.6h0M581.2 488.1h0M578.1 483.1h0M588.8 482.0h0M598.5 471.0h0M587.5 488.4h0M581.7 492.8h0M598.4 477.0h0M590.7 471.6h0M578.7 478.3h0M590.9 482.3h0M584.0 479.9h0M585.2 480.0h0M573.4 487.7h0M577.6 490.5h0M576.5 473.4h0M591.2 477.4h0M587.1 489.7h0M577.8 471.8h0M597.8 478.8h0M583.5 473.9h0M594.3 474.4h0M593.7 478.5h0M574.7 474.7h0M590.5 490.3h0M586.6 473.9h0M588.4 494.0h0M584.0 482.9h0M588.1 502.2h0M592.5 481.5h0M596.8 484.1h0M584.3 482.9h0M587.9 481.9h0M590.2 476.8h0M584.7 486.1h0M582.4 491.8h0M593.0 473.0h0M574.4 480.6h0M581.7 472.5h0M598.3 477.6h0M573.3 479.2h0M585.0 489.4h0M588.0 475.8h0M575.9 474.8h0M597.5 475.0h0M573.9 483.9h0M586.8 502.1h0M594.0 492.8h0M573.3 480.8h0M593.5 483.0h0M597.3 476.8h0M591.0 477.3h0M588.5 477.5h0M591.7 494.6h0M576.5 491.2h0M578.7 472.8h0M575.0 479.3h0M584.3 482.0h0M579.4 481.9h0M589.9 484.7h0M594.3 500.3h0M596.7 482.5h0M583.8 487.7h0M581.9 477.6h0M578.6 489.0h0M575.3 481.9h0M580.9 473.5h0M574.2 484.6h0M598.8 476.5h0M582.6 486.7h0M587.1 477.9h0M575.7 484.8h0M576.1 482.4h0M578.0 475.8h0M580.3 481.4h0M585.4 482.7h0M587.1 475.0h0M585.1 478.7h0M576.6 487.5h0M598.8 498.1h0M595.2 480.0h0M596.9 476.1h0M586.1 486.1h0M579.0 483.4h0M589.2 499.5h0M585.8 471.8h0M598.0 483.6h0M584.2 480.5h0M585.1 474.2h0M584.8 475.0h0M595.5 484.5h0M581.2 487.1h0M580.8 492.8h0M580.0 474.5h0M575.2 475.9h0M580.2 487.6h0M577.0 485.3h0M573.7 483.2h0M592.8 484.0h0M593.9 489.5h0M586.6 485.6h0M582.6 485.1h0M594.5 473.7h0M595.0 481.6h0M587.8 478.1h0M580.1 484.0h0M587.2 501.0h0M591.1 490.6h0M581.6 471.9h0M573.7 475.8h0M580.5 489.2h0M593.2 473.9h0M588.2 475.2h0M584.8 481.2h0M574.3 478.1h0M583.7 497.6h0M597.0 489.2h0M596.3 482.0h0M579.4 484.0h0M592.1 480.9h0M593.5 484.5h0M581.8 472.4h0M581.9 488.2h0M586.8 486.2h0M597.2 475.8h0M587.9 481.6h0M576.5 476.1h0M584.5 501.1h0M593.0 502.1h0M579.9 477.7h0M575.2 481.5h0M590.0 480.0h0M580.0 491.1h0M589.0 478.7h0M588.4 483.2h0M580.0 481.2h0M595.9 483.8h0M598.0 495.6h0M594.8 483.5h0M589.1 499.1h0M575.7 499.7h0M586.2 478.7h0M575.0 482.5h0M577.6 471.6h0M577.3 486.9h0M574.7 478.6h0M596.2 490.3h0M580.4 476.4h0M584.6 479.9h0M575.3 477.0h0M575.0 481.5h0M576.9 485.9h0M595.6 484.7h0M575.9 487.6h0M585.6 486.3h0M591.8 493.1h0M576.8 479.4h0M585.6 485.8h0M580.9 487.4h0M588.9 499.1h0M577.1 486.4h0M585.0 491.7h0M590.2 491.0h0M594.9 478.3h0M594.5 480.5h0M591.2 481.1h0M593.6 487.3h0M593.5 482.8h0M586.7 477.5h0M598.3 497.3h0M585.3 471.2h0M596.3 501.3h0M585.6 483.8h0M596.1 490.7h0M585.8 477.7h0M588.2 476.6h0M580.9 471.4h0M595.8 476.1h0M586.2 481.0h0M573.7 471.3h0M577.7 476.8h0M577.4 484.5h0M588.6 501.7h0M584.2 474.9h0M586.2 502.6h0M577.9 502.5h0M578.8 503.1h0M574.4 503.0h0M579.2 502.7h0M598.8 502.4h0M581.3 502.6h0M587.7 502.2h0M598.4 503.2h0M573.8 502.1h0M592.4 503.0h0M580.5 502.7h0M593.8 502.8h0M593.8 502.5h0M578.0 502.8h0M584.6 502.6h0M575.3 502.9h0M573.4 503.3h0M580.4 502.7h0M592.3 503.2h0M581.4 502.8h0M595.6 502.4h0M594.3 502.7h0M579.4 503.1h0M580.9 503.2h0M596.6 502.7h0M575.3 503.0h0M583.3 502.9h0M574.1 502.0h0M583.9 502.1h0M589.9 502.3h0M595.2 502.7h0M584.0 503.1h0M576.3 502.5h0M579.9 502.9h0M581.2 502.2h0M596.9 502.9h0M586.1 503.0h0M591.5 502.5h0M573.8 502.1h0M610.4 490.9h0M621.4 477.2h0M611.1 474.0h0M627.6 474.8h0M626.0 492.2h0M626.1 479.6h0M620.8 493.5h0M605.3 498.3h0M628.0 492.7h0M605.7 493.1h0M627.1 487.6h0M622.6 487.5h0M617.5 478.7h0M624.8 491.4h0M626.7 487.3h0M604.0 495.4h0M605.8 484.7h0M627.2 474.4h0M610.0 492.0h0M605.0 477.7h0M612.8 487.5h0M626.6 498.9h0M620.9 478.1h0M615.1 479.4h0M611.1 480.7h0M625.7 482.7h0M617.5 483.5h0M618.2 500.0h0M622.0 487.8h0M624.2 482.3h0M613.5 494.1h0M625.7 476.3h0M607.6 490.4h0M623.9 480.0h0M608.8 477.2h0M605.9 479.2h0M604.6 491.1h0M606.5 491.7h0M615.9 478.6h0M613.3 480.5h0M615.8 474.4h0M625.8 491.1h0M614.1 491.4h0M626.7 494.3h0M620.1 490.0h0M627.7 482.5h0M626.6 488.8h0M616.9 481.0h0M605.0 485.3h0M617.0 479.5h0M612.5 474.7h0M621.6 502.7h0M620.5 491.3h0M623.8 494.0h0M615.3 495.9h0M621.1 496.1h0M613.3 491.5h0M609.1 501.3h0M627.9 490.7h0M616.6 478.3h0M619.8 479.2h0M614.8 502.9h0M609.0 478.5h0M607.2 486.6h0M613.1 498.4h0M607.2 486.3h0M609.6 478.2h0M612.0 490.2h0M611.5 494.9h0M613.1 489.6h0M604.2 473.0h0M624.8 490.5h0M606.7 500.1h0M612.9 475.0h0M622.1 486.0h0M612.4 490.7h0M620.7 491.9h0M616.2 477.5h0M618.1 481.0h0M628.8 486.0h0M624.6 485.6h0M617.8 489.8h0M620.6 479.4h0M618.2 485.2h0M628.8 476.5h0M625.3 492.9h0M611.7 490.4h0M619.4 475.2h0M627.5 475.6h0M605.4 490.4h0M618.5 481.8h0M611.5 476.6h0M626.9 498.0h0M613.6 477.7h0M606.9 488.2h0M609.9 500.5h0M625.8 483.2h0M609.5 475.8h0M625.4 482.2h0M622.3 480.7h0M606.3 494.0h0M626.2 488.7h0M628.1 476.6h0M621.7 471.9h0M604.8 494.3h0M621.6 482.2h0M628.4 481.9h0M628.6 490.8h0M613.8 496.3h0M616.2 500.9h0M604.0 481.2h0M629.0 484.4h0M619.8 497.7h0M614.4 502.5h0M610.9 486.0h0M627.1 483.6h0M629.5 501.1h0M619.1 485.7h0M609.7 485.1h0M611.6 482.9h0M621.8 489.3h0M617.1 492.7h0M614.0 482.4h0M606.8 491.0h0M628.6 474.5h0M616.2 480.4h0M614.6 479.1h0M615.6 478.6h0M623.8 483.2h0M626.9 485.8h0M626.8 498.4h0M627.1 476.4h0M617.0 491.0h0M606.3 492.5h0M611.2 482.7h0M617.5 474.0h0M611.2 482.1h0M623.3 478.7h0M605.8 501.6h0M618.3 493.2h0M610.2 488.4h0M624.1 480.5h0M627.8 480.8h0M627.5 482.9h0M604.5 479.8h0M613.9 480.3h0M625.2 480.3h0M626.3 488.8h0M611.2 486.0h0M627.8 501.1h0M605.4 490.0h0M614.3 489.4h0M624.0 491.8h0M622.6 492.6h0M627.5 488.4h0M612.7 473.5h0M624.6 483.7h0M625.8 491.8h0M603.8 492.9h0M610.1 477.8h0M611.1 486.2h0M611.5 488.0h0M623.8 477.5h0M605.3 475.3h0M625.3 490.6h0M616.5 490.6h0M623.9 490.8h0M612.2 478.4h0M629.6 485.6h0M629.0 498.9h0M612.4 480.3h0M609.7 485.4h0M609.3 495.2h0M611.1 499.7h0M620.3 484.6h0M617.7 492.7h0M629.0 498.6h0M619.8 482.7h0M607.4 484.9h0M628.7 484.8h0M626.6 484.1h0M605.1 473.8h0M613.0 493.6h0M618.3 496.7h0M620.2 476.5h0M616.3 502.2h0M627.0 485.2h0M613.8 494.8h0M609.8 491.6h0M603.6 482.8h0M606.2 492.7h0M606.5 485.8h0M605.8 493.8h0M603.9 483.4h0M623.7 484.7h0M622.4 479.2h0M623.3 475.6h0M622.9 481.8h0M624.3 471.8h0M629.1 486.9h0M605.2 500.1h0M626.6 485.0h0M605.3 472.8h0M623.4 494.2h0M615.1 490.8h0M627.3 478.6h0M616.1 489.2h0M607.9 479.0h0M611.3 487.4h0M612.0 479.3h0M612.8 474.8h0M607.4 493.5h0M617.4 471.6h0M613.1 484.9h0M608.2 489.2h0M621.0 494.1h0M625.1 485.0h0M614.2 488.8h0M607.7 487.4h0M617.3 493.9h0M625.3 503.0h0M610.2 502.9h0M608.0 502.5h0M614.8 502.8h0M608.1 502.1h0M603.2 502.5h0M613.6 502.9h0M626.5 502.9h0M604.8 502.1h0M625.3 502.8h0M622.4 503.0h0M609.1 502.2h0M620.6 502.1h0M610.7 502.6h0M608.5 502.7h0M614.6 503.1h0M611.5 503.0h0M620.3 502.4h0M610.4 502.1h0M607.4 502.4h0M628.0 502.3h0M626.3 502.5h0M627.8 502.0h0M606.8 502.0h0M615.5 502.7h0M625.6 502.6h0M624.1 502.3h0M608.1 502.8h0M616.1 502.3h0M623.8 502.6h0M618.3 502.5h0M613.1 502.8h0M604.1 502.9h0M622.1 502.6h0M622.5 502.8h0M619.9 502.4h0M608.5 503.0h0M606.0 502.4h0M619.0 503.1h0M613.0 502.4h0" stroke="#000" stroke-width="1.80" stroke-linecap="round" fill="none"/>
<line x1="476.90" y1="468.60" x2="476.90" y2="504.50" stroke="#000" stroke-width="1.4"/>
<line x1="476.20" y1="503.80" x2="630.00" y2="503.80" stroke="#000" stroke-width="1.4"/>
<line x1="472.70" y1="503.00" x2="476.90" y2="503.00" stroke="#000" stroke-width="1.3"/>
<text x="469.30" y="505.60" font-size="7.4" text-anchor="end" fill="#111" stroke="#111" stroke-width="0.2">0</text>
<line x1="472.70" y1="496.30" x2="476.90" y2="496.30" stroke="#000" stroke-width="1.3"/>
<text x="469.30" y="498.90" font-size="7.4" text-anchor="end" fill="#111" stroke="#111" stroke-width="0.2">1</text>
<line x1="472.70" y1="489.60" x2="476.90" y2="489.60" stroke="#000" stroke-width="1.3"/>
<text x="469.30" y="492.20" font-size="7.4" text-anchor="end" fill="#111" stroke="#111" stroke-width="0.2">2</text>
<line x1="472.70" y1="482.90" x2="476.90" y2="482.90" stroke="#000" stroke-width="1.3"/>
<text x="469.30" y="485.50" font-size="7.4" text-anchor="end" fill="#111" stroke="#111" stroke-width="0.2">3</text>
<line x1="472.70" y1="476.20" x2="476.90" y2="476.20" stroke="#000" stroke-width="1.3"/>
<text x="469.30" y="478.80" font-size="7.4" text-anchor="end" fill="#111" stroke="#111" stroke-width="0.2">4</text>
<line x1="472.70" y1="469.50" x2="476.90" y2="469.50" stroke="#000" stroke-width="1.3"/>
<text x="469.30" y="472.10" font-size="7.4" text-anchor="end" fill="#111" stroke="#111" stroke-width="0.2">5</text>
<line x1="495.20" y1="503.80" x2="495.20" y2="507.40" stroke="#000" stroke-width="1.1"/>
<text x="495.20" y="517.90" font-size="8.1" text-anchor="middle" fill="#111" stroke="#111" stroke-width="0.2">1</text>
<line x1="525.55" y1="503.80" x2="525.55" y2="507.40" stroke="#000" stroke-width="1.1"/>
<text x="525.55" y="517.90" font-size="8.1" text-anchor="middle" fill="#111" stroke="#111" stroke-width="0.2">2</text>
<line x1="555.90" y1="503.80" x2="555.90" y2="507.40" stroke="#000" stroke-width="1.1"/>
<text x="555.90" y="517.90" font-size="8.1" text-anchor="middle" fill="#111" stroke="#111" stroke-width="0.2">3</text>
<line x1="586.25" y1="503.80" x2="586.25" y2="507.40" stroke="#000" stroke-width="1.1"/>
<text x="586.25" y="517.90" font-size="8.1" text-anchor="middle" fill="#111" stroke="#111" stroke-width="0.2">4</text>
<line x1="616.60" y1="503.80" x2="616.60" y2="507.40" stroke="#000" stroke-width="1.1"/>
<text x="616.60" y="517.90" font-size="8.1" text-anchor="middle" fill="#111" stroke="#111" stroke-width="0.2">5</text>
<path d="M301.0,611.6 L302.0,609.1 L305.0,604.2 L309.0,599.3 L311.0,594.4 L312.0,589.5 L313.7,584.0 L314.3,584.0 L316.0,589.5 L317.0,594.4 L319.0,599.3 L323.0,604.2 L326.0,609.1 L327.0,611.6Z" fill="#5561ae" stroke="#000" stroke-width="0.7" stroke-linejoin="round"/>
<path d="M343.1,611.6 L343.1,606.7 L342.6,601.8 L340.1,596.8 L334.1,591.9 L331.1,588.0 L333.1,584.5 L340.1,582.1 L344.0,581.8 L344.2,581.8 L348.1,582.1 L355.1,584.5 L357.1,588.0 L354.1,591.9 L348.1,596.8 L345.6,601.8 L345.1,606.7 L345.1,611.6Z" fill="#d13e33" stroke="#000" stroke-width="0.7" stroke-linejoin="round"/>
<path d="M372.8,611.6 L371.8,606.7 L369.3,601.8 L364.3,596.8 L360.8,591.9 L360.8,588.0 L364.8,584.5 L371.3,581.6 L374.2,581.3 L374.4,581.3 L377.3,581.6 L383.8,584.5 L387.8,588.0 L387.8,591.9 L384.3,596.8 L379.3,601.8 L376.8,606.7 L375.8,611.6Z" fill="#6f9a57" stroke="#000" stroke-width="0.7" stroke-linejoin="round"/>
<path d="M401.4,591.9 L401.4,590.9 L400.9,588.0 L396.4,585.0 L390.9,583.1 L396.4,582.1 L401.4,580.6 L404.3,579.9 L404.6,579.9 L407.4,580.6 L412.4,582.1 L417.9,583.1 L412.4,585.0 L407.9,588.0 L407.4,590.9 L407.4,591.9Z" fill="#ece27e" stroke="#000" stroke-width="0.7" stroke-linejoin="round"/>
<path d="M432.6,591.9 L431.6,590.9 L426.6,588.0 L421.6,585.5 L428.6,582.1 L433.1,579.1 L434.5,578.6 L434.7,578.6 L436.1,579.1 L440.6,582.1 L447.6,585.5 L442.6,588.0 L437.6,590.9 L436.6,591.9Z" fill="#466982" stroke="#000" stroke-width="0.7" stroke-linejoin="round"/>
<path d="M320.0 608.7h0M318.5 597.7h0M313.4 608.4h0M301.9 607.4h0M313.7 604.7h0M318.3 609.2h0M316.6 590.6h0M305.4 590.1h0M306.0 609.4h0M314.3 594.4h0M325.9 605.0h0M301.1 609.4h0M321.8 601.5h0M320.9 605.0h0M321.2 610.5h0M313.7 604.3h0M304.5 611.6h0M302.1 608.2h0M304.5 610.1h0M303.2 593.3h0M308.3 594.9h0M309.5 608.8h0M313.4 597.0h0M302.8 606.2h0M315.3 598.4h0M318.4 611.4h0M308.4 598.6h0M317.9 599.1h0M309.6 607.3h0M318.6 603.2h0M306.4 609.2h0M315.8 593.9h0M301.0 605.9h0M321.5 606.0h0M316.5 609.6h0M319.3 604.9h0M315.8 598.1h0M304.1 608.2h0M304.9 600.2h0M321.3 600.9h0M303.2 609.7h0M313.6 593.6h0M308.7 609.7h0M302.2 601.1h0M309.7 604.0h0M324.8 608.5h0M301.3 607.0h0M326.2 610.1h0M324.6 608.6h0M307.8 608.2h0M326.2 606.9h0M309.0 605.1h0M325.6 609.7h0M324.2 598.7h0M308.5 601.4h0M325.3 610.3h0M322.4 599.9h0M302.4 598.2h0M313.8 610.0h0M304.8 610.6h0M321.7 600.5h0M321.9 611.6h0M316.6 595.9h0M323.4 599.3h0M321.9 611.2h0M318.2 592.2h0M304.1 610.4h0M320.0 605.8h0M325.3 610.5h0M301.1 600.4h0M320.7 601.8h0M302.5 611.6h0M317.7 608.1h0M319.2 609.3h0M316.0 597.5h0M317.4 606.9h0M312.7 606.0h0M319.4 586.3h0M326.9 601.6h0M317.3 603.4h0M309.4 611.3h0M305.9 610.8h0M308.7 595.8h0M303.6 609.6h0M318.3 593.1h0M323.8 602.5h0M301.3 609.6h0M318.8 604.7h0M311.6 603.5h0M320.5 611.5h0M320.1 596.7h0M326.6 611.2h0M312.1 608.2h0M307.0 602.4h0M325.1 604.0h0M304.8 610.6h0M314.8 591.1h0M303.5 608.2h0M324.2 609.9h0M304.3 611.5h0M304.7 595.5h0M323.8 598.4h0M315.3 610.2h0M301.6 600.1h0M312.2 605.9h0M317.3 609.6h0M323.2 609.3h0M313.3 608.8h0M309.1 606.2h0M322.2 610.3h0M311.9 599.9h0M320.9 603.7h0M301.7 610.2h0M301.1 601.4h0M315.9 600.4h0M323.1 601.9h0M315.1 605.0h0M309.1 605.9h0M310.3 610.8h0M319.5 610.5h0M326.4 605.2h0M307.4 593.9h0M322.1 593.6h0M312.6 609.2h0M323.0 602.6h0M301.3 611.1h0M323.5 594.1h0M312.4 606.4h0M307.0 593.7h0M316.0 609.1h0M320.0 610.6h0M310.5 598.6h0M305.9 609.0h0M308.6 601.8h0M312.9 592.2h0M325.5 603.2h0M310.3 597.5h0M307.7 610.0h0M318.3 607.8h0M326.5 608.9h0M304.4 601.4h0M308.1 605.0h0M326.1 611.1h0M304.1 607.5h0M321.8 603.7h0M308.7 607.1h0M322.2 606.8h0M320.3 604.1h0M315.5 600.4h0M306.1 610.7h0M316.6 587.3h0M320.6 607.3h0M314.8 593.6h0M322.8 597.3h0M311.8 611.4h0M315.7 607.7h0M312.7 604.8h0M319.2 601.3h0M303.6 608.7h0M324.9 611.5h0M319.4 596.9h0M316.7 609.0h0M318.9 587.4h0M315.2 605.7h0M305.8 610.5h0M323.0 607.8h0M311.3 606.1h0M319.8 609.6h0M316.3 596.1h0M315.5 605.0h0M301.3 609.2h0M301.7 608.1h0M324.6 611.1h0M308.1 607.5h0M312.9 594.3h0M302.2 600.6h0M309.9 606.7h0M307.3 605.9h0M312.5 600.2h0M318.0 603.8h0M313.7 605.4h0M318.7 606.5h0M314.5 606.3h0M308.4 605.6h0M319.6 591.7h0M324.2 597.1h0M302.1 593.2h0M324.0 610.3h0M324.1 590.9h0M308.6 606.5h0M320.7 605.2h0M323.4 604.7h0M325.3 606.5h0M316.2 608.4h0M310.6 596.0h0M317.7 603.8h0M321.4 607.1h0M315.9 602.2h0M313.6 606.5h0M323.7 598.4h0M308.2 607.6h0M308.6 608.9h0M318.7 590.3h0M311.2 608.2h0M303.5 588.2h0M313.2 602.7h0M319.8 600.4h0M323.7 608.0h0M312.5 601.5h0M317.7 603.3h0M302.5 606.7h0M302.0 608.2h0M315.7 591.8h0M319.5 600.2h0M322.0 605.6h0M304.0 604.6h0M309.2 608.8h0M306.9 607.2h0M319.3 600.9h0M315.9 590.5h0M303.0 598.7h0M319.8 593.5h0M324.4 610.5h0M307.7 594.7h0M326.5 605.3h0M320.0 603.3h0M324.7 606.5h0M306.4 605.9h0M320.4 604.7h0M313.1 603.5h0M313.5 601.1h0M323.2 610.6h0M303.3 611.6h0M322.4 604.7h0M323.2 600.3h0M309.2 605.0h0M302.5 610.0h0M307.2 611.5h0M316.1 598.1h0M315.1 604.5h0M305.5 600.9h0M307.3 591.5h0M318.8 604.5h0M306.8 603.9h0M305.6 602.6h0M304.7 610.9h0M323.6 599.8h0M322.4 598.0h0M313.8 608.5h0M306.3 598.7h0M319.9 603.3h0M304.9 610.0h0M301.0 608.2h0M325.0 603.8h0M327.0 606.3h0M321.2 605.3h0M325.4 591.5h0M317.9 605.8h0M322.2 610.4h0M326.4 600.9h0M320.3 589.9h0M319.7 605.4h0M309.0 608.6h0M319.1 600.0h0M318.8 605.2h0M309.6 609.7h0M325.5 609.5h0M305.3 604.2h0M306.9 607.1h0M321.4 607.3h0M314.3 599.3h0M302.3 594.3h0M314.7 597.5h0M303.8 605.0h0M320.8 597.4h0M318.9 611.1h0M303.1 611.0h0M305.9 593.2h0M303.6 608.6h0M310.6 604.0h0M322.3 608.3h0M325.4 597.8h0M326.1 610.1h0M301.8 609.3h0M325.6 609.5h0M308.0 603.5h0M319.6 596.2h0M308.1 604.4h0M306.3 604.0h0M324.5 608.3h0M317.5 608.0h0M312.4 609.0h0M326.4 604.8h0M305.0 610.8h0M321.9 608.7h0M312.4 608.1h0M303.3 603.0h0M303.8 609.9h0M315.4 606.2h0M307.3 594.8h0M301.2 603.9h0M311.1 596.1h0M324.4 601.9h0M313.7 589.3h0M307.8 610.6h0M309.7 610.6h0M310.5 607.1h0M319.2 610.0h0M310.8 599.4h0M325.2 609.3h0M318.8 609.6h0M322.1 610.1h0M305.1 610.7h0M315.5 609.6h0M315.9 608.1h0M303.9 607.2h0M317.0 595.0h0M321.8 611.5h0M307.7 609.1h0M314.3 601.9h0M321.3 601.5h0M313.4 596.4h0M301.9 595.7h0M322.7 609.8h0M302.8 606.7h0M304.7 603.5h0M302.6 604.1h0M322.1 600.8h0M309.4 602.2h0M325.5 607.9h0M322.1 611.6h0M326.0 611.3h0M326.1 611.7h0M323.4 610.9h0M314.8 611.2h0M326.8 611.3h0M303.8 611.6h0M326.3 611.3h0M325.2 611.8h0M321.5 611.6h0M324.0 611.0h0M316.7 611.7h0M303.7 610.9h0M316.9 611.0h0M305.3 611.7h0M301.6 611.1h0M302.1 611.0h0M315.0 611.8h0M319.4 611.3h0M318.4 611.3h0M319.7 611.7h0M323.4 611.1h0M315.3 611.0h0M310.0 611.3h0M318.1 611.8h0M313.4 611.8h0M304.6 611.4h0M320.9 611.0h0M322.9 611.0h0M306.1 611.4h0M303.1 611.1h0M314.1 611.3h0M308.5 611.6h0M319.8 611.8h0M324.0 611.3h0M327.3 611.4h0M318.5 610.9h0M320.6 611.4h0M325.1 611.4h0M310.1 611.4h0M324.8 611.5h0M325.3 611.6h0M312.3 611.4h0M315.5 611.6h0M314.4 611.6h0M321.2 611.0h0M314.3 611.7h0M324.2 611.0h0M309.4 611.0h0M306.7 611.8h0M314.1 611.0h0M325.0 611.2h0M321.5 610.9h0M309.7 610.9h0M311.0 611.5h0M324.1 611.5h0M315.8 611.2h0M312.4 611.5h0M304.3 611.6h0M315.3 611.5h0M306.0 611.5h0M301.9 611.7h0M301.4 611.8h0M314.7 611.1h0M318.2 611.4h0M326.0 611.1h0M307.3 611.7h0M317.2 611.7h0M308.8 611.8h0M324.9 610.9h0M317.5 610.9h0M317.1 610.9h0M318.9 610.9h0M324.8 611.7h0M309.8 611.1h0M326.4 611.6h0M315.1 611.8h0M315.3 611.4h0M322.3 611.7h0M300.6 611.8h0M307.7 611.3h0M315.9 611.4h0M302.5 611.5h0M322.6 611.6h0M312.4 611.3h0M306.9 611.6h0M321.5 611.6h0M318.7 611.6h0M325.8 611.0h0M300.7 611.1h0M306.3 611.2h0M304.1 610.9h0M308.6 611.5h0M326.9 611.4h0M318.5 611.2h0M323.2 611.1h0M319.7 610.9h0M317.2 611.0h0M316.5 611.8h0M307.6 611.0h0M305.5 611.6h0M325.4 611.2h0M314.8 611.8h0M302.3 611.8h0M326.8 611.6h0M315.1 611.3h0M313.1 611.1h0M303.7 611.1h0M317.9 611.8h0M325.2 611.7h0M325.5 611.5h0M313.8 611.7h0M312.4 611.6h0M321.2 611.6h0M318.3 611.0h0M319.2 611.7h0M315.4 611.7h0M323.0 611.6h0M305.2 611.6h0M319.1 611.3h0M350.1 585.4h0M351.0 591.5h0M333.7 589.9h0M354.2 590.9h0M354.9 591.0h0M344.3 595.8h0M344.9 583.5h0M354.1 590.7h0M352.8 597.2h0M340.2 589.4h0M353.6 598.2h0M342.2 587.6h0M333.1 588.0h0M338.0 594.1h0M355.1 598.8h0M345.1 583.1h0M354.6 591.2h0M350.0 586.5h0M338.9 603.8h0M336.6 588.8h0M339.7 589.4h0M334.1 589.6h0M337.9 584.2h0M333.6 586.9h0M348.9 589.5h0M353.4 608.4h0M355.8 592.9h0M346.5 584.6h0M339.4 594.0h0M339.2 588.5h0M355.3 585.1h0M339.3 595.0h0M334.7 589.5h0M343.3 607.1h0M337.1 583.3h0M352.3 586.2h0M350.4 587.6h0M339.7 588.4h0M334.4 589.6h0M344.9 586.2h0M347.6 596.8h0M348.3 586.7h0M334.6 586.1h0M332.3 591.0h0M348.5 588.7h0M334.6 596.2h0M346.8 590.7h0M348.2 588.9h0M336.7 582.1h0M350.1 596.1h0M340.0 588.0h0M346.0 586.8h0M352.6 594.8h0M351.2 582.1h0M337.8 593.1h0M353.5 589.0h0M350.5 595.8h0M333.4 589.0h0M351.6 592.5h0M351.0 592.0h0M341.2 589.2h0M340.3 584.8h0M353.6 589.8h0M352.5 589.1h0M334.7 608.2h0M342.4 592.6h0M347.4 587.9h0M343.6 611.0h0M336.0 584.1h0M344.0 593.7h0M343.0 585.0h0M354.2 601.6h0M343.1 584.5h0M342.0 601.1h0M347.5 595.7h0M352.7 585.8h0M342.3 590.4h0M345.9 586.6h0M342.5 591.2h0M335.1 585.8h0M338.1 594.4h0M354.3 597.0h0M346.0 590.6h0M354.8 585.7h0M342.9 584.6h0M346.1 599.2h0M338.5 589.9h0M349.7 591.9h0M336.6 597.2h0M343.1 582.9h0M346.6 611.5h0M341.5 611.6h0M353.1 611.2h0M357.0 611.1h0M337.0 611.1h0M333.6 610.9h0M375.0 609.8h0M361.4 592.6h0M368.7 601.4h0M362.6 589.4h0M382.0 600.6h0M372.2 596.2h0M375.0 588.2h0M365.3 601.9h0M384.6 584.7h0M365.8 595.6h0M374.6 589.2h0M385.6 601.6h0M385.3 586.0h0M370.0 593.1h0M379.1 588.8h0M372.8 585.2h0M376.9 607.7h0M369.4 588.3h0M386.1 584.1h0M381.7 590.1h0M362.8 597.8h0M378.2 604.8h0M376.6 592.4h0M370.9 607.4h0M365.5 593.4h0M365.0 585.9h0M369.6 597.9h0M370.0 596.1h0M379.9 603.3h0M362.3 604.0h0M371.2 595.1h0M375.1 584.7h0M365.0 587.5h0M375.1 583.6h0M364.4 582.4h0M377.9 587.1h0M378.5 593.8h0M366.2 586.6h0M378.0 584.8h0M375.2 587.8h0M380.6 598.5h0M371.0 603.0h0M381.5 584.9h0M370.0 584.9h0M367.9 610.0h0M383.5 586.4h0M383.5 583.8h0M373.6 605.2h0M369.5 584.6h0M370.1 591.6h0M374.4 608.0h0M372.1 583.4h0M369.0 592.7h0M364.4 596.2h0M372.0 597.1h0M378.0 587.7h0M371.8 603.0h0M384.7 599.0h0M378.4 600.3h0M372.4 598.5h0M361.5 587.4h0M371.7 588.6h0M365.3 595.7h0M361.4 581.7h0M367.1 592.1h0M373.8 603.8h0M377.2 607.0h0M382.9 594.3h0M373.6 583.4h0M379.1 590.8h0M361.6 583.1h0M371.0 597.0h0M375.2 592.8h0M372.9 607.2h0M376.1 591.0h0M373.1 604.9h0M376.0 593.6h0M379.4 604.2h0M386.0 584.8h0M374.1 598.5h0M369.4 601.2h0M368.1 593.4h0M383.3 592.0h0M381.3 590.8h0M385.1 606.5h0M383.7 589.2h0M380.4 594.2h0M379.4 596.8h0M364.5 583.0h0M385.3 591.0h0M386.4 598.9h0M381.0 588.4h0M361.3 583.8h0M374.1 588.3h0M364.1 589.9h0M384.0 583.3h0M375.1 598.6h0M381.2 587.7h0M379.8 596.0h0M377.1 597.9h0M385.7 585.8h0M363.6 607.6h0M366.0 593.5h0M375.7 587.1h0M370.9 587.9h0M361.6 591.2h0M380.9 594.4h0M386.9 584.6h0M381.0 593.8h0M362.3 593.2h0M366.4 597.9h0M367.4 587.8h0M372.9 586.3h0M369.7 608.0h0M372.0 592.6h0M377.9 590.6h0M377.3 582.1h0M385.0 583.0h0M384.5 588.4h0M368.9 590.4h0M374.5 597.5h0M372.0 590.2h0M372.7 589.1h0M385.4 595.6h0M368.3 589.4h0M374.4 597.9h0M383.8 582.6h0M379.7 587.0h0M364.0 600.4h0M365.4 598.1h0M367.3 589.4h0M373.2 589.8h0M366.9 601.7h0M368.5 590.3h0M380.4 599.3h0M371.3 582.4h0M386.2 601.7h0M375.9 588.9h0M362.2 594.3h0M371.1 597.4h0M385.2 587.0h0M370.7 601.8h0M372.9 609.0h0M378.3 596.1h0M377.0 594.7h0M361.6 592.3h0M365.3 588.7h0M384.3 594.6h0M383.4 599.6h0M376.2 589.4h0M386.8 587.8h0M366.7 592.2h0M364.8 588.0h0M380.7 598.9h0M383.0 603.2h0M386.4 598.5h0M365.8 597.1h0M370.7 592.0h0M375.6 584.7h0M372.1 600.7h0M364.0 605.3h0M362.6 606.4h0M379.9 585.2h0M367.4 590.9h0M370.2 594.3h0M362.2 598.2h0M365.5 589.5h0M369.8 591.0h0M367.6 602.4h0M366.6 583.5h0M363.5 598.4h0M378.2 596.5h0M369.3 593.7h0M385.8 585.8h0M386.2 587.9h0M375.5 597.4h0M380.3 598.4h0M367.3 581.6h0M375.8 593.1h0M387.1 605.3h0M386.5 595.0h0M374.0 594.2h0M372.8 598.7h0M365.6 595.4h0M382.8 593.6h0M384.9 607.5h0M383.0 595.0h0M386.3 598.6h0M378.8 583.4h0M378.6 595.3h0M382.4 610.9h0M384.8 611.8h0M363.3 611.0h0M370.8 611.5h0M362.5 611.1h0M375.3 611.6h0M380.1 611.1h0M374.5 611.8h0M412.0 583.9h0M403.9 586.8h0M405.6 582.5h0M407.4 585.0h0M396.9 583.6h0M409.4 583.3h0M407.9 582.2h0M406.4 584.7h0M402.7 582.9h0M408.2 583.7h0M441.5 583.8h0M439.9 584.9h0M436.0 588.9h0M426.2 586.3h0M437.8 590.1h0M445.9 582.9h0M429.9 584.4h0M432.3 583.8h0M431.5 584.9h0M428.2 585.4h0M422.8 586.2h0M423.9 586.1h0M443.4 588.7h0M439.1 587.7h0M430.0 587.2h0M434.5 582.4h0M436.5 586.1h0M434.1 589.3h0M431.7 582.8h0M444.8 581.9h0M433.4 591.1h0M434.0 587.6h0" stroke="#000" stroke-width="1.80" stroke-linecap="round" fill="none"/>
<line x1="296.10" y1="581.18" x2="296.10" y2="613.90" stroke="#000" stroke-width="1.4"/>
<line x1="295.40" y1="613.20" x2="453.20" y2="613.20" stroke="#000" stroke-width="1.4"/>
<line x1="291.90" y1="611.60" x2="296.10" y2="611.60" stroke="#000" stroke-width="1.3"/>
<text x="288.50" y="614.20" font-size="7.4" text-anchor="end" fill="#111" stroke="#111" stroke-width="0.2">0</text>
<line x1="291.90" y1="601.76" x2="296.10" y2="601.76" stroke="#000" stroke-width="1.3"/>
<text x="288.50" y="604.36" font-size="7.4" text-anchor="end" fill="#111" stroke="#111" stroke-width="0.2">2</text>
<line x1="291.90" y1="591.92" x2="296.10" y2="591.92" stroke="#000" stroke-width="1.3"/>
<text x="288.50" y="594.52" font-size="7.4" text-anchor="end" fill="#111" stroke="#111" stroke-width="0.2">4</text>
<line x1="291.90" y1="582.08" x2="296.10" y2="582.08" stroke="#000" stroke-width="1.3"/>
<text x="288.50" y="584.68" font-size="7.4" text-anchor="end" fill="#111" stroke="#111" stroke-width="0.2">6</text>
<line x1="314.00" y1="613.20" x2="314.00" y2="616.80" stroke="#000" stroke-width="1.1"/>
<text x="314.00" y="627.30" font-size="8.1" text-anchor="middle" fill="#111" stroke="#111" stroke-width="0.2">1</text>
<line x1="344.15" y1="613.20" x2="344.15" y2="616.80" stroke="#000" stroke-width="1.1"/>
<text x="344.15" y="627.30" font-size="8.1" text-anchor="middle" fill="#111" stroke="#111" stroke-width="0.2">2</text>
<line x1="374.30" y1="613.20" x2="374.30" y2="616.80" stroke="#000" stroke-width="1.1"/>
<text x="374.30" y="627.30" font-size="8.1" text-anchor="middle" fill="#111" stroke="#111" stroke-width="0.2">3</text>
<line x1="404.45" y1="613.20" x2="404.45" y2="616.80" stroke="#000" stroke-width="1.1"/>
<text x="404.45" y="627.30" font-size="8.1" text-anchor="middle" fill="#111" stroke="#111" stroke-width="0.2">4</text>
<line x1="434.60" y1="613.20" x2="434.60" y2="616.80" stroke="#000" stroke-width="1.1"/>
<text x="434.60" y="627.30" font-size="8.1" text-anchor="middle" fill="#111" stroke="#111" stroke-width="0.2">5</text>
<path d="M485.2,612.2 L487.2,610.1 L492.2,603.6 L493.2,597.2 L494.2,592.9 L496.9,588.2 L497.5,588.2 L500.2,592.9 L501.2,597.2 L502.2,603.6 L507.2,610.1 L509.2,612.2Z" fill="#5561ae" stroke="#000" stroke-width="0.7" stroke-linejoin="round"/>
<path d="M526.4,612.2 L526.4,605.8 L525.9,601.5 L521.4,597.2 L515.4,594.2 L514.4,590.8 L519.4,586.5 L523.4,584.7 L527.2,584.5 L527.5,584.5 L531.4,584.7 L535.4,586.5 L540.4,590.8 L539.4,594.2 L533.4,597.2 L528.9,601.5 L528.4,605.8 L528.4,612.2Z" fill="#d13e33" stroke="#000" stroke-width="0.7" stroke-linejoin="round"/>
<path d="M555.5,612.2 L555.0,607.9 L553.5,603.6 L548.5,599.3 L545.5,595.0 L544.5,590.8 L547.5,586.5 L554.5,582.2 L557.4,581.3 L557.6,581.3 L560.5,582.2 L567.5,586.5 L570.5,590.8 L569.5,595.0 L566.5,599.3 L561.5,603.6 L560.0,607.9 L559.5,612.2Z" fill="#6f9a57" stroke="#000" stroke-width="0.7" stroke-linejoin="round"/>
<path d="M586.6,598.0 L585.6,594.2 L581.6,591.6 L574.6,588.6 L574.1,584.3 L579.6,581.3 L587.5,579.2 L587.8,579.2 L595.6,581.3 L601.1,584.3 L600.6,588.6 L593.6,591.6 L589.6,594.2 L588.6,598.0Z" fill="#ece27e" stroke="#000" stroke-width="0.7" stroke-linejoin="round"/>
<path d="M617.4,612.2 L617.4,597.6 L614.8,595.0 L607.8,591.6 L604.3,588.6 L605.8,585.2 L613.8,582.6 L617.7,581.7 L617.9,581.7 L621.8,582.6 L629.8,585.2 L631.3,588.6 L627.8,591.6 L620.8,595.0 L618.2,597.6 L618.2,612.2Z" fill="#466982" stroke="#000" stroke-width="0.7" stroke-linejoin="round"/>
<path d="M504.1 592.5h0M509.2 596.4h0M497.8 608.4h0M499.3 594.1h0M504.8 602.0h0M497.4 603.2h0M492.0 594.6h0M494.9 599.5h0M485.7 601.2h0M489.6 595.0h0M505.8 603.5h0M498.2 606.3h0M498.9 603.7h0M494.2 592.2h0M504.8 606.9h0M496.4 597.0h0M488.0 610.3h0M488.3 603.9h0M487.4 599.3h0M501.8 610.6h0M489.1 602.3h0M492.6 592.2h0M489.6 602.9h0M491.8 601.8h0M498.7 603.7h0M484.6 609.1h0M498.7 601.9h0M491.8 599.8h0M504.4 597.9h0M502.8 598.8h0M506.6 600.1h0M496.2 604.8h0M509.7 600.8h0M486.4 592.6h0M491.1 603.7h0M496.0 606.4h0M509.4 598.6h0M488.1 602.1h0M486.1 607.0h0M501.9 606.3h0M508.4 608.7h0M499.6 596.7h0M500.0 607.7h0M486.0 603.2h0M496.9 597.4h0M495.9 606.4h0M484.6 598.3h0M501.1 607.2h0M502.7 595.1h0M505.3 592.9h0M500.3 592.2h0M492.1 599.9h0M490.0 596.4h0M501.4 599.8h0M502.7 611.6h0M493.3 592.7h0M498.0 605.3h0M494.2 601.6h0M490.2 603.8h0M486.7 596.4h0M488.4 598.8h0M499.3 612.1h0M504.8 601.9h0M507.0 605.0h0M501.9 596.6h0M499.2 602.6h0M499.5 595.8h0M509.0 595.7h0M490.2 607.3h0M505.0 611.0h0M507.8 604.6h0M509.5 600.1h0M496.1 591.0h0M494.2 595.0h0M486.2 609.8h0M508.4 606.1h0M492.8 602.5h0M488.6 602.5h0M493.8 590.8h0M501.9 597.7h0M485.6 610.4h0M505.9 594.4h0M507.4 589.2h0M497.6 594.8h0M487.5 612.2h0M497.4 596.3h0M501.6 604.1h0M486.8 608.9h0M499.7 600.9h0M489.9 597.7h0M498.7 604.5h0M495.0 600.2h0M507.0 603.9h0M508.3 599.3h0M491.4 596.9h0M484.2 606.1h0M496.6 592.9h0M505.9 607.1h0M496.3 609.8h0M506.5 603.7h0M494.2 598.9h0M496.9 601.8h0M497.4 610.6h0M488.7 601.5h0M499.3 604.1h0M502.2 602.3h0M504.7 611.9h0M485.9 593.2h0M495.9 600.6h0M498.4 594.6h0M492.7 611.0h0M492.7 609.3h0M490.7 604.5h0M504.5 599.0h0M500.8 599.3h0M488.9 603.3h0M501.1 601.9h0M507.0 606.7h0M487.6 598.8h0M493.3 598.9h0M501.5 596.1h0M488.1 606.7h0M491.1 598.4h0M501.8 595.7h0M492.3 598.1h0M484.5 606.3h0M489.3 594.4h0M504.3 611.9h0M501.7 598.8h0M504.2 609.4h0M499.0 606.0h0M493.1 604.4h0M499.8 592.9h0M489.7 603.7h0M501.6 606.9h0M502.5 599.4h0M492.9 606.3h0M491.5 608.9h0M508.3 607.3h0M503.6 594.6h0M492.4 597.2h0M498.5 598.5h0M487.3 602.5h0M489.6 591.7h0M490.5 593.3h0M495.5 605.9h0M504.3 600.1h0M489.6 600.5h0M505.9 604.4h0M496.6 594.5h0M486.7 595.9h0M487.0 601.7h0M490.0 604.7h0M485.0 592.4h0M490.8 599.9h0M508.0 605.2h0M493.5 596.5h0M509.2 611.8h0M505.0 588.5h0M493.7 608.1h0M505.2 605.5h0M508.3 589.5h0M495.1 602.9h0M507.7 593.4h0M506.2 600.0h0M508.7 595.9h0M507.8 595.6h0M489.2 599.3h0M494.6 607.3h0M486.5 611.4h0M499.7 591.5h0M495.5 611.7h0M490.6 597.8h0M505.1 591.8h0M489.5 594.0h0M486.0 603.1h0M501.5 594.0h0M484.8 601.2h0M496.7 597.7h0M500.5 597.5h0M485.3 604.4h0M485.5 596.2h0M502.7 601.0h0M495.5 610.2h0M493.5 610.6h0M507.8 605.8h0M495.2 604.3h0M497.5 600.0h0M485.7 600.2h0M498.9 604.1h0M485.4 603.3h0M502.6 599.3h0M490.1 602.2h0M505.4 600.9h0M492.6 595.0h0M504.8 590.8h0M500.2 607.6h0M494.8 608.5h0M492.1 588.5h0M501.1 594.0h0M505.8 609.9h0M497.8 592.9h0M497.8 595.5h0M487.5 598.8h0M487.5 610.5h0M501.3 597.5h0M494.6 607.3h0M493.9 590.2h0M489.2 606.4h0M494.2 596.8h0M502.1 592.1h0M502.1 599.5h0M497.7 600.2h0M501.0 596.4h0M486.7 593.9h0M508.5 595.6h0M498.8 608.2h0M487.5 598.1h0M502.1 601.1h0M493.5 599.5h0M499.4 604.4h0M509.5 598.9h0M507.9 600.6h0M503.4 607.4h0M485.9 597.9h0M484.3 609.4h0M494.8 601.4h0M503.3 601.7h0M488.6 608.7h0M490.5 605.1h0M507.5 598.9h0M486.4 599.5h0M501.8 599.8h0M497.8 595.3h0M500.6 606.5h0M501.5 604.6h0M485.4 609.1h0M489.8 602.4h0M504.1 604.7h0M489.8 604.0h0M496.5 601.4h0M498.3 605.8h0M492.7 595.5h0M485.1 600.7h0M493.7 597.5h0M507.4 600.6h0M508.1 604.1h0M507.9 608.7h0M497.7 589.3h0M495.2 596.7h0M485.5 608.3h0M488.9 607.0h0M492.2 593.0h0M495.2 589.7h0M503.0 610.3h0M506.9 601.5h0M501.7 610.7h0M488.0 607.4h0M486.6 607.0h0M505.7 594.8h0M501.4 592.7h0M509.8 608.3h0M506.9 606.4h0M502.2 597.9h0M497.6 598.5h0M493.2 598.0h0M507.3 600.0h0M491.9 597.9h0M493.9 602.0h0M497.3 611.6h0M506.3 601.3h0M496.1 599.2h0M497.9 598.2h0M493.1 596.1h0M485.8 595.9h0M493.7 598.3h0M509.4 598.4h0M491.4 598.5h0M506.1 609.2h0M495.8 605.4h0M504.5 602.8h0M489.3 609.2h0M497.5 599.3h0M497.7 611.2h0M499.8 595.6h0M497.9 599.2h0M502.5 599.2h0M491.4 601.0h0M490.7 606.5h0M501.3 603.1h0M500.9 606.7h0M504.4 595.8h0M507.6 592.7h0M490.3 605.0h0M508.7 605.0h0M495.5 597.0h0M501.2 601.8h0M505.1 601.3h0M495.4 601.7h0M502.4 611.7h0M501.8 596.7h0M496.0 608.8h0M492.7 597.3h0M484.5 595.8h0M489.2 597.9h0M487.5 609.3h0M498.3 603.8h0M507.2 600.0h0M494.9 609.1h0M507.0 591.3h0M495.4 596.8h0M487.8 602.9h0M484.8 602.8h0M503.4 595.1h0M493.6 600.1h0M484.9 604.9h0M488.0 598.6h0M503.7 600.0h0M501.1 604.3h0M505.9 593.5h0M492.2 603.3h0M508.8 598.9h0M488.0 591.7h0M489.9 601.8h0M510.0 610.2h0M493.0 605.2h0M501.5 589.0h0M486.7 598.7h0M486.3 589.9h0M502.4 600.8h0M484.6 612.4h0M496.0 611.7h0M494.7 612.4h0M501.1 612.3h0M496.2 611.7h0M491.1 611.9h0M484.4 612.2h0M488.7 611.7h0M502.8 611.9h0M506.7 612.2h0M493.9 611.8h0M485.5 611.7h0M488.5 612.3h0M488.4 611.6h0M503.6 612.0h0M484.2 611.7h0M485.0 612.3h0M484.3 612.3h0M489.5 612.3h0M488.3 611.7h0M486.4 612.3h0M510.2 612.1h0M500.8 611.6h0M503.4 612.1h0M490.7 611.6h0M503.4 612.1h0M492.0 612.0h0M506.1 611.9h0M496.4 611.8h0M484.4 611.8h0M488.0 612.3h0M498.9 611.8h0M486.0 611.6h0M503.8 611.8h0M501.6 612.3h0M500.5 612.0h0M483.8 612.1h0M500.3 611.9h0M507.2 611.6h0M504.7 611.6h0M495.9 612.2h0M510.7 612.1h0M502.6 612.1h0M485.8 611.8h0M494.0 611.8h0M496.1 611.9h0M509.0 612.0h0M484.7 612.1h0M500.1 611.9h0M503.0 612.1h0M488.1 611.7h0M488.5 611.9h0M488.6 611.7h0M494.3 612.0h0M503.8 612.0h0M507.9 612.2h0M490.9 611.8h0M486.1 612.4h0M510.7 611.8h0M509.3 612.3h0M520.3 596.9h0M516.5 595.1h0M537.4 600.5h0M521.1 593.7h0M522.8 606.9h0M529.1 587.9h0M532.3 588.2h0M532.2 591.5h0M540.0 590.6h0M519.3 595.9h0M526.1 593.8h0M532.4 592.8h0M520.5 596.6h0M518.8 592.3h0M529.9 595.0h0M521.7 592.2h0M537.4 597.7h0M529.3 594.8h0M535.6 590.9h0M530.4 604.4h0M534.8 587.4h0M532.2 593.6h0M518.5 595.7h0M526.7 587.2h0M527.5 592.5h0M517.3 591.4h0M523.6 593.1h0M539.3 588.6h0M524.3 593.8h0M521.5 594.4h0M518.6 596.7h0M524.5 593.2h0M532.3 591.1h0M538.3 611.1h0M533.5 590.7h0M529.2 600.6h0M516.5 592.7h0M527.7 593.1h0M536.6 592.2h0M534.2 588.0h0M523.5 589.1h0M527.0 586.9h0M529.0 592.3h0M517.1 589.5h0M532.0 600.3h0M539.3 591.1h0M516.6 593.2h0M537.8 591.1h0M521.4 589.6h0M514.7 596.6h0M517.1 593.4h0M540.3 602.1h0M523.7 587.5h0M535.8 600.7h0M539.2 592.8h0M538.8 595.7h0M515.7 586.6h0M522.5 590.7h0M527.1 590.0h0M515.6 594.9h0M526.5 594.6h0M523.9 590.9h0M518.8 589.2h0M532.3 588.9h0M533.2 592.6h0M530.2 592.8h0M515.6 591.3h0M538.2 585.9h0M519.9 589.4h0M517.3 584.9h0M520.6 594.2h0M532.8 588.6h0M514.5 591.3h0M529.5 595.9h0M539.6 593.2h0M537.1 593.9h0M523.4 590.9h0M520.7 591.3h0M531.4 604.7h0M536.2 593.0h0M519.6 603.3h0M514.5 585.5h0M529.6 603.8h0M517.4 586.5h0M523.9 586.4h0M522.3 595.6h0M535.2 591.8h0M520.6 590.7h0M523.6 591.3h0M537.4 584.8h0M514.8 594.3h0M527.6 594.8h0M537.5 590.6h0M517.7 592.3h0M528.3 588.3h0M538.1 595.2h0M535.4 586.6h0M527.9 590.7h0M526.3 604.0h0M526.4 611.4h0M538.7 591.9h0M524.2 606.1h0M535.5 596.0h0M514.5 594.8h0M526.9 595.2h0M528.0 589.2h0M514.7 590.5h0M521.7 593.9h0M527.1 595.9h0M520.5 592.5h0M516.3 589.1h0M519.3 587.5h0M529.7 590.5h0M530.8 588.7h0M539.8 589.7h0M527.8 596.3h0M521.5 592.2h0M522.4 609.9h0M538.9 594.3h0M538.0 592.0h0M535.3 592.3h0M527.1 589.5h0M515.7 595.1h0M518.2 593.4h0M539.5 594.1h0M528.4 588.0h0M529.5 589.6h0M537.0 589.9h0M525.5 590.1h0M527.1 601.3h0M520.5 597.3h0M527.7 591.3h0M526.5 589.1h0M519.9 598.7h0M534.6 596.6h0M517.9 591.6h0M517.1 592.4h0M516.1 606.6h0M532.6 597.4h0M519.2 587.4h0M518.5 592.0h0M536.1 595.2h0M538.1 596.0h0M523.7 593.3h0M532.7 603.6h0M518.3 592.4h0M522.9 588.3h0M530.2 598.6h0M539.0 587.1h0M523.9 592.1h0M519.4 599.3h0M530.8 592.8h0M533.8 588.2h0M520.2 592.9h0M530.2 591.1h0M523.5 594.8h0M531.9 588.6h0M533.7 590.9h0M523.3 598.6h0M515.7 592.7h0M537.0 612.3h0M527.0 612.3h0M532.2 612.3h0M535.4 612.1h0M515.7 611.7h0M522.5 612.0h0M531.3 612.1h0M525.7 612.4h0M540.1 612.0h0M522.3 611.9h0M552.1 610.6h0M570.1 600.2h0M554.7 606.4h0M553.3 588.0h0M555.5 593.6h0M552.1 598.1h0M559.4 608.7h0M567.9 602.9h0M561.0 599.7h0M547.0 586.6h0M547.3 596.8h0M564.5 591.7h0M569.9 582.3h0M565.9 597.6h0M568.7 591.9h0M550.8 583.9h0M546.6 590.4h0M567.7 610.9h0M554.8 603.8h0M557.3 582.5h0M548.1 608.3h0M562.8 586.6h0M569.4 589.2h0M553.9 593.8h0M548.0 590.0h0M567.2 604.6h0M548.2 597.9h0M549.0 600.6h0M544.9 597.8h0M566.3 601.1h0M550.6 611.1h0M568.3 591.4h0M552.0 586.9h0M548.5 607.0h0M552.8 608.6h0M545.8 582.5h0M558.1 597.1h0M570.2 583.1h0M562.0 602.5h0M564.5 587.5h0M565.6 590.1h0M560.2 592.3h0M558.3 589.2h0M546.2 590.9h0M566.8 583.8h0M552.0 598.7h0M570.3 601.4h0M561.6 607.2h0M570.1 587.0h0M548.5 601.6h0M567.0 597.6h0M569.6 611.9h0M545.4 592.1h0M556.1 595.2h0M562.6 604.6h0M567.1 607.9h0M563.0 599.4h0M559.9 598.5h0M556.7 604.4h0M563.2 586.9h0M550.6 602.7h0M559.0 582.2h0M549.5 599.1h0M556.8 588.7h0M557.1 589.3h0M566.8 587.9h0M569.8 594.5h0M557.8 604.1h0M553.5 595.8h0M546.5 601.1h0M544.8 590.6h0M550.6 583.8h0M545.4 595.9h0M569.0 596.2h0M546.0 593.6h0M552.8 599.0h0M557.1 599.6h0M553.0 586.8h0M545.6 585.7h0M569.7 589.8h0M570.4 594.1h0M551.7 587.2h0M555.5 589.2h0M546.4 603.7h0M557.4 591.7h0M548.1 602.1h0M561.4 596.4h0M554.4 611.9h0M568.0 586.8h0M570.3 587.9h0M562.7 590.1h0M566.2 602.1h0M562.7 607.9h0M546.5 596.1h0M548.9 596.9h0M548.2 588.5h0M546.8 585.1h0M569.6 602.9h0M566.7 601.5h0M545.2 593.3h0M561.7 596.0h0M563.6 590.6h0M564.9 597.9h0M554.9 596.2h0M548.1 604.3h0M567.3 587.8h0M557.2 583.4h0M568.3 588.2h0M550.9 588.4h0M549.1 585.1h0M558.0 590.2h0M559.6 609.0h0M564.0 584.9h0M558.0 600.0h0M567.6 597.2h0M559.2 591.2h0M557.4 595.4h0M568.5 603.3h0M553.2 603.3h0M551.6 595.4h0M550.2 603.9h0M559.3 599.4h0M547.4 593.7h0M544.7 605.4h0M568.1 587.8h0M555.1 590.3h0M558.2 601.9h0M547.8 602.6h0M558.8 611.4h0M545.0 606.9h0M552.5 592.6h0M551.0 595.6h0M558.2 588.0h0M560.6 589.5h0M560.4 598.6h0M566.0 604.6h0M562.6 603.0h0M553.8 598.5h0M548.7 583.5h0M553.8 590.3h0M560.5 600.4h0M564.0 597.9h0M556.9 604.6h0M551.2 595.7h0M552.8 596.2h0M552.4 590.8h0M569.9 592.5h0M547.2 591.9h0M546.5 596.7h0M545.0 590.5h0M548.6 590.8h0M547.5 584.6h0M552.3 587.9h0M567.5 599.3h0M555.6 609.8h0M565.9 593.1h0M554.6 609.9h0M551.0 601.5h0M561.5 589.8h0M549.7 595.6h0M544.8 598.8h0M566.7 601.7h0M565.3 591.5h0M557.7 595.9h0M566.8 599.3h0M558.3 596.4h0M566.3 601.1h0M558.0 602.4h0M553.7 588.5h0M568.8 594.2h0M557.3 595.3h0M546.0 597.8h0M556.9 593.9h0M567.1 592.9h0M549.2 587.4h0M550.3 605.1h0M557.9 605.8h0M565.3 587.9h0M546.8 595.4h0M548.9 584.4h0M566.9 609.3h0M569.1 605.3h0M556.3 600.1h0M560.9 584.2h0M562.3 597.8h0M550.3 600.8h0M555.4 593.3h0M559.2 592.6h0M553.5 608.8h0M547.9 597.6h0M565.9 598.6h0M554.9 584.5h0M557.5 590.0h0M556.3 597.3h0M558.1 585.6h0M568.8 591.9h0M560.6 593.3h0M562.5 590.4h0M562.6 597.1h0M567.4 596.5h0M559.1 585.8h0M556.1 586.1h0M550.5 611.2h0M550.1 597.8h0M565.6 592.6h0M564.9 587.6h0M551.9 587.7h0M568.7 590.8h0M549.1 599.2h0M553.3 597.4h0M565.2 611.4h0M544.9 603.4h0M549.0 596.7h0M545.9 585.6h0M551.1 603.1h0M569.9 603.9h0M557.2 589.6h0M568.0 596.9h0M558.1 593.7h0M552.0 600.3h0M565.2 608.1h0M554.2 593.5h0M546.7 591.9h0M570.2 590.3h0M555.2 590.0h0M553.3 600.6h0M568.8 598.5h0M569.2 601.3h0M551.6 593.1h0M550.5 584.4h0M565.6 588.8h0M555.9 609.9h0M544.6 609.3h0M552.9 609.1h0M548.0 596.3h0M560.8 596.0h0M563.7 587.6h0M558.9 591.7h0M554.7 586.5h0M555.7 585.2h0M551.0 605.6h0M564.7 593.5h0M556.0 606.9h0M552.6 594.2h0M559.4 606.1h0M561.9 592.6h0M559.4 583.1h0M562.2 603.8h0M555.4 599.0h0M552.7 588.3h0M554.1 598.9h0M549.9 585.9h0M545.4 590.7h0M560.5 604.5h0M559.3 587.3h0M561.1 596.3h0M547.2 598.5h0M561.1 594.4h0M553.3 586.6h0M563.1 599.8h0M558.7 607.4h0M551.2 596.5h0M567.9 597.1h0M563.8 590.2h0M545.2 602.9h0M564.5 601.9h0M559.3 589.6h0M562.4 583.2h0M547.5 606.9h0M564.3 586.4h0M565.6 593.8h0M548.2 600.5h0M551.7 605.9h0M559.5 596.2h0M558.5 586.0h0M558.8 595.8h0M563.4 587.6h0M569.1 594.7h0M561.7 591.0h0M567.6 598.5h0M560.7 609.6h0M544.7 598.2h0M549.6 586.1h0M559.6 597.3h0M551.3 601.6h0M563.4 611.4h0M567.8 611.4h0M548.7 590.8h0M550.9 605.0h0M560.4 588.2h0M546.8 607.0h0M557.3 586.3h0M546.0 592.6h0M544.6 609.1h0M545.0 585.9h0M552.7 612.1h0M570.3 602.6h0M569.5 605.4h0M568.6 592.0h0M545.0 587.9h0M547.8 584.5h0M570.4 591.8h0M558.7 610.4h0M551.5 607.6h0M570.1 598.7h0M551.3 593.7h0M551.3 601.4h0M554.0 604.2h0M561.2 597.1h0M556.7 591.1h0M565.1 590.8h0M563.3 604.7h0M556.4 596.4h0M560.8 584.1h0M557.7 584.2h0M567.2 597.1h0M556.4 591.1h0M563.3 584.0h0M560.8 595.4h0M564.3 602.7h0M545.5 607.9h0M554.1 605.4h0M551.9 591.4h0M553.1 595.8h0M551.2 585.8h0M549.9 594.3h0M568.3 594.1h0M569.0 603.1h0M557.8 590.7h0M563.3 597.1h0M557.4 611.6h0M560.8 612.3h0M567.9 611.7h0M567.2 611.6h0M561.4 612.2h0M558.5 611.8h0M555.5 611.9h0M560.6 611.8h0M564.5 612.2h0M561.2 612.2h0M568.7 612.3h0M545.2 611.8h0M563.3 612.4h0M558.5 611.6h0M555.6 612.4h0M544.7 611.9h0M546.7 612.2h0M545.6 611.6h0M569.5 611.6h0M557.6 612.0h0M599.0 591.9h0M583.0 581.6h0M591.4 586.5h0M580.7 588.4h0M578.8 582.2h0M598.9 590.7h0M576.1 589.6h0M589.3 588.0h0M584.8 582.8h0M585.8 589.9h0M585.5 586.3h0M578.3 588.4h0M599.8 585.4h0M597.8 590.3h0M579.5 588.4h0M580.6 587.3h0M577.1 585.5h0M584.3 587.4h0M599.1 584.5h0M583.2 582.6h0M596.7 580.2h0M583.3 590.2h0M596.2 584.4h0M583.8 590.0h0M593.0 587.1h0M580.6 585.2h0M595.7 586.7h0M594.8 592.8h0M575.3 586.3h0M592.5 590.1h0M583.2 581.5h0M585.6 593.1h0M598.7 588.6h0M581.6 583.8h0M591.7 589.6h0M575.0 588.2h0M600.4 584.7h0M575.1 581.2h0M590.0 591.9h0M593.5 586.6h0M601.1 587.2h0M575.8 582.1h0M581.4 589.5h0M581.3 597.9h0M593.9 588.4h0M575.8 586.9h0M591.1 595.2h0M577.8 589.5h0M590.3 583.6h0M592.1 582.7h0M595.1 582.6h0M592.9 581.9h0M590.9 582.2h0M581.1 587.6h0M592.1 589.1h0M580.0 580.6h0M598.3 585.4h0M581.5 585.0h0M589.7 592.7h0M581.1 590.4h0M598.0 589.2h0M582.7 585.5h0M599.7 581.6h0M580.3 584.9h0M582.8 587.6h0M583.9 590.2h0M588.7 590.4h0M600.6 584.6h0M575.9 584.6h0M591.6 585.3h0M594.4 589.5h0M582.7 584.5h0M589.9 591.9h0M587.8 596.0h0M578.0 580.9h0M589.5 591.8h0M583.5 587.8h0M597.6 592.4h0M584.4 589.9h0M583.8 582.4h0M579.1 580.0h0M591.3 582.7h0M587.8 590.2h0M578.4 589.6h0M588.4 583.9h0M585.8 587.7h0M580.2 586.9h0M593.9 595.6h0M592.3 589.7h0M574.5 584.3h0M584.4 589.6h0M589.0 591.6h0M591.8 583.2h0M578.8 588.5h0M580.5 588.9h0M578.6 588.8h0M585.9 579.5h0M597.0 588.6h0M596.1 586.5h0M577.1 593.9h0M575.5 596.0h0M583.9 580.8h0M589.1 582.5h0M601.0 581.5h0M594.4 586.6h0M584.4 582.2h0M599.5 582.3h0M583.0 587.4h0M579.1 593.2h0M587.5 582.1h0M584.3 586.1h0M584.6 586.5h0M577.0 588.7h0M580.3 580.9h0M581.8 583.8h0M594.0 584.2h0M577.0 585.8h0M582.1 582.0h0M584.3 589.2h0M598.1 587.6h0M578.8 586.1h0M580.4 586.0h0M591.8 593.1h0M591.4 589.7h0M590.3 580.1h0M576.8 583.8h0M577.6 587.5h0M594.2 587.4h0M576.1 582.5h0M581.1 586.5h0M574.8 593.8h0M583.7 587.0h0M584.7 585.3h0M578.1 584.6h0M591.4 583.3h0M580.5 584.6h0M589.6 581.3h0M583.2 592.1h0M584.1 582.2h0M575.3 580.7h0M600.3 589.3h0M577.5 588.2h0M597.0 587.4h0M590.4 586.9h0M588.3 591.7h0M574.4 581.2h0M577.3 584.8h0M579.5 581.6h0M585.2 592.2h0M592.7 583.3h0M576.3 588.4h0M599.7 584.9h0M587.7 583.1h0M601.1 586.2h0M595.7 593.5h0M594.7 590.6h0M577.9 583.1h0M581.1 589.7h0M577.8 587.9h0M581.7 585.6h0M599.0 585.8h0M586.0 584.8h0M595.9 587.0h0M600.6 591.1h0M598.4 587.2h0M583.4 582.2h0M586.0 582.9h0M584.5 591.4h0M580.4 581.1h0M596.2 590.3h0M593.0 582.4h0M587.1 589.5h0M579.5 590.1h0M589.7 596.7h0M590.1 590.6h0M592.6 594.2h0M588.1 585.7h0M574.9 589.9h0M580.8 583.2h0M584.5 584.3h0M596.5 588.2h0M580.6 583.1h0M574.2 583.4h0M587.7 581.2h0M598.6 582.4h0M578.1 590.9h0M576.2 584.2h0M584.2 584.4h0M581.6 583.8h0M582.1 585.3h0M598.4 585.6h0M583.5 584.7h0M593.7 589.8h0M584.0 584.8h0M594.7 589.2h0M599.2 585.9h0M589.9 588.8h0M599.1 587.6h0M589.1 583.2h0M587.5 584.8h0M576.8 588.7h0M595.6 581.8h0M584.6 592.3h0M579.4 587.9h0M597.0 588.0h0M595.7 588.2h0M582.1 584.5h0M587.0 587.6h0M574.5 587.4h0M600.0 583.1h0M597.4 589.1h0M589.2 591.8h0M597.3 585.5h0M582.9 585.9h0M588.0 584.2h0M582.7 584.1h0M574.8 584.2h0M587.2 596.2h0M598.5 590.6h0M577.0 583.7h0M589.9 583.8h0M589.1 591.3h0M598.8 584.5h0M589.0 584.6h0M586.0 581.1h0M574.7 583.9h0M597.2 581.8h0M578.1 588.9h0M592.4 584.9h0M574.3 583.1h0M585.6 594.4h0M587.1 595.3h0M579.6 580.4h0M601.1 584.5h0M598.0 589.8h0M593.6 588.5h0M596.9 584.1h0M596.9 588.9h0M578.5 583.6h0M585.6 589.8h0M577.6 583.4h0M592.7 591.9h0M591.8 587.2h0M589.1 592.7h0M596.9 588.8h0M593.9 586.8h0M583.2 589.3h0M591.2 591.8h0M579.9 591.3h0M577.5 580.9h0M575.1 584.0h0M591.1 585.9h0M581.7 592.3h0M582.0 592.5h0M585.5 586.0h0M596.0 590.0h0M589.9 582.3h0M581.3 587.1h0M577.0 590.1h0M590.8 589.6h0M622.1 582.7h0M628.6 584.8h0M618.1 592.0h0M607.6 587.1h0M628.2 590.5h0M625.3 595.2h0M624.6 582.5h0M628.6 588.5h0M625.1 583.3h0M609.1 582.9h0M605.8 585.7h0M615.8 586.5h0M605.5 589.0h0M607.7 588.6h0M610.5 594.1h0M618.8 586.8h0M606.4 591.3h0M609.6 588.6h0M610.4 584.0h0M624.3 585.7h0M623.5 586.4h0M615.3 584.3h0M628.4 584.3h0M612.2 586.7h0M621.9 589.0h0M621.7 586.4h0M618.2 587.5h0M614.0 590.6h0M625.5 588.3h0M610.7 585.9h0M622.6 586.9h0M614.1 588.1h0M607.6 588.6h0M607.8 586.9h0M613.3 586.0h0M612.3 595.9h0M621.0 586.6h0M615.7 588.4h0M609.6 586.0h0M607.6 591.4h0M608.2 590.1h0M608.8 584.3h0M617.2 591.8h0M607.3 593.8h0M624.6 587.2h0M609.6 592.7h0M619.4 584.7h0M620.2 583.1h0M605.7 589.7h0M610.8 583.9h0M615.1 584.9h0M610.8 584.6h0M628.6 589.0h0M614.3 589.9h0M617.6 587.0h0M618.4 583.8h0M614.4 585.0h0M607.2 588.0h0M624.5 589.7h0M613.5 588.9h0M627.5 592.0h0M630.9 592.2h0M620.9 584.3h0M605.1 583.5h0M607.4 590.0h0M623.1 591.9h0M626.0 594.0h0M622.6 590.0h0M618.3 585.7h0M613.4 591.2h0M621.0 587.0h0M611.2 583.4h0M620.2 586.5h0M608.2 588.3h0M618.9 588.5h0M612.0 587.5h0M611.5 593.4h0M610.6 589.0h0M611.5 582.6h0M626.4 590.8h0M620.8 585.7h0M610.7 583.9h0M622.1 589.0h0M624.1 587.5h0M622.3 591.4h0M606.3 591.2h0M620.7 589.7h0M623.5 589.6h0M627.4 587.8h0M621.1 587.5h0M629.0 594.3h0M626.2 586.6h0M611.0 584.6h0M607.2 590.7h0M614.0 589.6h0M622.4 593.7h0M622.8 589.1h0M616.2 593.9h0M621.7 586.1h0M614.3 589.8h0M609.2 585.4h0M616.3 584.1h0M623.2 588.2h0M625.3 589.2h0M606.6 590.7h0M630.5 593.9h0M611.2 586.6h0M626.6 585.8h0M610.1 588.8h0M621.6 591.2h0M623.7 584.6h0M618.8 585.0h0M607.3 590.3h0M621.3 588.5h0M629.1 593.4h0M619.5 592.5h0M611.0 588.6h0M606.3 585.9h0M615.9 589.3h0M618.3 589.0h0M613.4 587.4h0M621.1 585.2h0M622.7 584.7h0M612.9 588.4h0M629.6 587.7h0M612.8 593.6h0M618.0 591.1h0M621.1 584.4h0M605.3 594.3h0M620.1 584.8h0M626.1 585.1h0M623.2 593.7h0M620.8 584.5h0M628.7 583.5h0M615.7 591.3h0M620.0 585.2h0M611.3 589.2h0M627.8 583.1h0M628.2 590.3h0M620.7 586.8h0M626.2 587.4h0M624.5 585.0h0M609.2 586.0h0M628.9 583.6h0M629.0 590.9h0M611.6 590.6h0M630.8 590.2h0M609.3 590.7h0M605.5 589.0h0M624.3 587.0h0M615.7 595.3h0M625.7 591.6h0M611.1 587.6h0M628.2 582.3h0M630.4 585.7h0M623.6 587.7h0M612.3 587.4h0M617.7 585.6h0M604.3 587.7h0M626.0 590.7h0M616.3 585.0h0M613.9 585.5h0M618.1 585.0h0M619.0 585.3h0M608.4 587.7h0M628.5 589.1h0M610.2 593.9h0M613.7 594.9h0M611.1 591.4h0M613.6 591.5h0M611.6 589.8h0M617.9 588.6h0M617.3 585.4h0M618.1 588.0h0M610.4 591.6h0M606.1 585.6h0M619.9 587.4h0M612.4 596.2h0M611.6 586.1h0M625.1 592.0h0M622.5 588.3h0M622.3 591.5h0M617.3 590.8h0M606.5 596.4h0M629.6 588.2h0M604.3 588.2h0M615.5 586.9h0M614.5 586.6h0M625.6 585.1h0M631.0 584.9h0M621.2 591.7h0M621.2 587.7h0M609.4 588.8h0M630.6 588.5h0M607.2 586.9h0M613.3 589.8h0M622.1 587.5h0M604.7 588.1h0M616.1 593.1h0M615.5 596.7h0M619.0 585.7h0M614.3 585.9h0M605.7 592.1h0M623.3 592.2h0M607.1 592.3h0M617.9 588.0h0M624.1 590.6h0M624.1 592.4h0M630.8 590.5h0M609.4 585.4h0M608.2 585.4h0M610.2 589.6h0M611.0 586.7h0M628.6 588.1h0M625.2 595.1h0M608.5 585.9h0M605.8 591.3h0M627.3 583.2h0M630.4 587.7h0M608.4 594.9h0M620.3 589.2h0M608.2 589.2h0M607.2 584.4h0M610.3 589.2h0M608.3 583.5h0M606.5 585.5h0M616.2 589.7h0M614.1 586.4h0M621.5 590.0h0M612.0 593.7h0M622.3 586.6h0M608.3 584.1h0M611.6 585.9h0M605.9 584.2h0M626.9 589.4h0M617.6 588.8h0M628.6 592.9h0M608.1 583.5h0M608.3 591.3h0M607.9 584.8h0M623.8 586.6h0M611.1 586.6h0M631.1 584.8h0M622.9 590.6h0M607.8 585.0h0M605.4 586.8h0M614.3 584.1h0M631.1 593.1h0M629.4 596.5h0M619.6 586.2h0" stroke="#000" stroke-width="1.80" stroke-linecap="round" fill="none"/>
<line x1="479.00" y1="576.98" x2="479.00" y2="614.30" stroke="#000" stroke-width="1.4"/>
<line x1="478.30" y1="613.60" x2="636.50" y2="613.60" stroke="#000" stroke-width="1.4"/>
<line x1="474.80" y1="612.20" x2="479.00" y2="612.20" stroke="#000" stroke-width="1.3"/>
<text x="471.40" y="614.80" font-size="7.4" text-anchor="end" fill="#111" stroke="#111" stroke-width="0.2">0</text>
<line x1="474.80" y1="603.62" x2="479.00" y2="603.62" stroke="#000" stroke-width="1.3"/>
<text x="471.40" y="606.22" font-size="7.4" text-anchor="end" fill="#111" stroke="#111" stroke-width="0.2">2</text>
<line x1="474.80" y1="595.04" x2="479.00" y2="595.04" stroke="#000" stroke-width="1.3"/>
<text x="471.40" y="597.64" font-size="7.4" text-anchor="end" fill="#111" stroke="#111" stroke-width="0.2">4</text>
<line x1="474.80" y1="586.46" x2="479.00" y2="586.46" stroke="#000" stroke-width="1.3"/>
<text x="471.40" y="589.06" font-size="7.4" text-anchor="end" fill="#111" stroke="#111" stroke-width="0.2">6</text>
<line x1="474.80" y1="577.88" x2="479.00" y2="577.88" stroke="#000" stroke-width="1.3"/>
<text x="471.40" y="580.48" font-size="7.4" text-anchor="end" fill="#111" stroke="#111" stroke-width="0.2">8</text>
<line x1="497.20" y1="613.60" x2="497.20" y2="617.20" stroke="#000" stroke-width="1.1"/>
<text x="497.20" y="627.70" font-size="8.1" text-anchor="middle" fill="#111" stroke="#111" stroke-width="0.2">1</text>
<line x1="527.35" y1="613.60" x2="527.35" y2="617.20" stroke="#000" stroke-width="1.1"/>
<text x="527.35" y="627.70" font-size="8.1" text-anchor="middle" fill="#111" stroke="#111" stroke-width="0.2">2</text>
<line x1="557.50" y1="613.60" x2="557.50" y2="617.20" stroke="#000" stroke-width="1.1"/>
<text x="557.50" y="627.70" font-size="8.1" text-anchor="middle" fill="#111" stroke="#111" stroke-width="0.2">3</text>
<line x1="587.65" y1="613.60" x2="587.65" y2="617.20" stroke="#000" stroke-width="1.1"/>
<text x="587.65" y="627.70" font-size="8.1" text-anchor="middle" fill="#111" stroke="#111" stroke-width="0.2">4</text>
<line x1="617.80" y1="613.60" x2="617.80" y2="617.20" stroke="#000" stroke-width="1.1"/>
<text x="617.80" y="627.70" font-size="8.1" text-anchor="middle" fill="#111" stroke="#111" stroke-width="0.2">5</text>
<path d="M314.1,719.5 L314.1,712.9 L313.1,707.6 L304.1,703.0 L302.1,696.4 L303.1,691.8 L306.1,687.8 L314.1,686.5 L316.0,686.4 L316.2,686.4 L318.1,686.5 L326.1,687.8 L329.1,691.8 L330.1,696.4 L328.1,703.0 L319.1,707.6 L318.1,712.9 L318.1,719.5Z" fill="#5561ae" stroke="#000" stroke-width="0.7" stroke-linejoin="round"/>
<path d="M331.5,719.5 L332.0,717.5 L336.0,714.2 L340.0,709.6 L342.0,703.0 L343.0,696.4 L343.5,690.5 L344.5,688.5 L345.9,688.3 L346.1,688.3 L347.5,688.5 L348.5,690.5 L349.0,696.4 L350.0,703.0 L352.0,709.6 L356.0,714.2 L360.0,717.5 L360.5,719.5Z" fill="#d13e33" stroke="#000" stroke-width="0.7" stroke-linejoin="round"/>
<path d="M361.9,719.5 L365.9,717.5 L370.9,714.2 L372.9,709.6 L373.9,703.0 L375.6,690.5 L376.2,690.5 L377.9,703.0 L378.9,709.6 L380.9,714.2 L385.9,717.5 L389.9,719.5Z" fill="#6f9a57" stroke="#000" stroke-width="0.7" stroke-linejoin="round"/>
<path d="M397.8,719.5 L402.8,718.5 L405.5,716.2 L406.1,716.2 L408.8,718.5 L413.8,719.5Z" fill="#ece27e" stroke="#000" stroke-width="0.7" stroke-linejoin="round"/>
<path d="M427.7,719.5 L432.7,718.5 L435.4,716.2 L435.4,707.6 L436.0,707.6 L436.0,716.2 L438.7,718.5 L443.7,719.5Z" fill="#466982" stroke="#000" stroke-width="0.7" stroke-linejoin="round"/>
<path d="M326.6 701.9h0M310.6 692.8h0M323.0 699.4h0M312.5 687.3h0M320.2 697.2h0M322.1 702.0h0M322.1 693.7h0M315.5 696.3h0M322.1 689.8h0M319.9 690.1h0M320.5 691.3h0M302.6 690.6h0M305.6 687.7h0M312.6 695.4h0M314.3 704.6h0M320.0 691.1h0M327.1 700.4h0M315.7 689.7h0M310.3 692.1h0M302.7 692.0h0M321.9 706.5h0M313.8 704.9h0M322.7 700.1h0M317.1 693.6h0M324.3 690.1h0M325.4 697.5h0M325.5 689.9h0M318.2 686.7h0M307.9 708.0h0M319.6 695.9h0M308.1 708.0h0M305.7 708.3h0M305.9 692.0h0M326.1 697.3h0M326.2 695.9h0M317.6 706.3h0M308.9 702.9h0M314.1 706.0h0M319.5 702.8h0M323.9 694.3h0M326.5 689.0h0M312.8 693.7h0M324.9 700.3h0M316.7 688.9h0M324.6 701.9h0M309.0 700.2h0M314.9 705.6h0M317.5 695.2h0M324.9 700.1h0M313.8 699.0h0M323.8 691.8h0M323.9 702.6h0M325.6 693.4h0M320.5 690.7h0M308.5 707.7h0M305.9 692.3h0M320.2 693.0h0M312.4 694.9h0M324.4 705.8h0M315.4 689.2h0M325.5 689.6h0M328.5 686.7h0M315.2 704.9h0M311.0 688.0h0M307.2 703.1h0M306.1 705.4h0M309.4 708.0h0M312.7 695.7h0M320.5 688.4h0M319.8 695.8h0M329.1 697.5h0M310.7 697.3h0M303.3 694.1h0M308.2 692.3h0M320.3 709.7h0M305.7 696.6h0M313.6 693.2h0M313.7 705.7h0M320.0 702.0h0M320.9 704.7h0M303.2 696.0h0M304.0 687.7h0M324.4 703.7h0M308.1 691.6h0M328.6 699.9h0M303.6 698.1h0M321.1 698.2h0M310.8 690.2h0M305.6 707.0h0M320.8 704.6h0M319.3 700.7h0M325.2 697.5h0M311.4 691.6h0M324.0 713.3h0M302.9 709.6h0M312.6 698.2h0M328.3 689.6h0M318.1 694.6h0M327.5 702.3h0M325.0 695.6h0M303.0 692.6h0M310.4 705.7h0M327.6 705.7h0M305.9 715.5h0M315.6 695.0h0M313.9 706.8h0M312.1 703.5h0M324.2 688.1h0M322.1 688.1h0M316.7 688.1h0M304.6 702.1h0M328.0 694.9h0M305.1 700.7h0M306.5 702.9h0M314.3 717.1h0M326.1 693.2h0M307.8 694.9h0M305.8 702.9h0M305.8 690.6h0M306.3 687.1h0M313.2 687.6h0M312.1 688.8h0M322.6 702.7h0M308.9 688.0h0M311.5 700.2h0M315.4 693.6h0M319.1 689.5h0M311.3 687.7h0M314.7 708.5h0M315.3 702.0h0M315.6 712.9h0M309.2 697.5h0M328.6 701.0h0M305.8 690.5h0M306.1 691.1h0M313.8 699.4h0M307.8 696.6h0M310.9 695.9h0M321.3 702.4h0M328.7 693.1h0M325.6 693.6h0M315.6 704.2h0M328.4 690.2h0M321.7 706.0h0M304.0 691.5h0M317.3 702.3h0M324.2 702.6h0M329.4 690.9h0M311.2 700.8h0M317.2 687.1h0M310.5 693.1h0M323.8 690.8h0M320.1 692.7h0M311.3 709.0h0M304.5 691.2h0M325.5 687.2h0M309.9 698.9h0M321.3 700.5h0M320.6 688.4h0M320.4 689.2h0M305.3 697.8h0M327.0 692.3h0M329.3 692.8h0M307.6 687.5h0M321.3 691.8h0M314.0 692.2h0M324.1 699.4h0M314.9 691.2h0M307.8 700.3h0M310.4 688.0h0M327.7 690.1h0M317.9 705.0h0M320.4 686.6h0M328.9 690.7h0M316.8 691.3h0M303.8 694.2h0M316.9 696.5h0M329.1 701.0h0M326.9 707.1h0M329.5 688.4h0M328.2 690.0h0M324.7 708.1h0M320.9 701.8h0M316.6 701.0h0M314.9 702.5h0M322.5 687.5h0M326.7 689.0h0M325.4 709.2h0M323.3 696.1h0M324.9 704.6h0M314.6 703.0h0M316.6 692.7h0M313.3 693.5h0M319.2 690.3h0M311.9 694.5h0M327.2 690.8h0M302.6 688.1h0M326.7 697.6h0M319.1 704.6h0M305.8 696.0h0M315.8 691.5h0M324.8 693.7h0M313.9 691.3h0M307.3 690.5h0M318.5 694.7h0M320.9 693.2h0M302.6 692.7h0M303.2 693.3h0M329.5 687.3h0M311.5 716.3h0M309.8 700.2h0M319.4 693.3h0M316.4 711.1h0M328.6 700.4h0M310.2 701.2h0M304.2 697.3h0M310.2 702.4h0M317.4 701.3h0M328.6 699.1h0M314.5 693.9h0M315.1 691.4h0M313.2 701.8h0M317.4 693.4h0M310.6 693.7h0M325.1 707.9h0M319.4 695.1h0M321.7 700.3h0M324.9 687.6h0M305.1 701.0h0M308.4 691.8h0M302.9 688.4h0M321.0 703.6h0M307.1 691.8h0M306.5 692.3h0M304.2 701.9h0M307.2 698.6h0M309.0 692.6h0M323.7 714.1h0M317.0 703.6h0M305.7 691.8h0M309.5 686.6h0M303.8 694.8h0M305.0 700.8h0M302.9 703.8h0M324.7 690.1h0M326.0 692.3h0M315.6 700.5h0M322.7 695.2h0M317.3 689.6h0M315.5 687.3h0M309.2 699.2h0M324.0 691.4h0M329.1 687.8h0M327.7 705.0h0M324.3 709.2h0M321.8 700.8h0M304.3 689.9h0M328.0 699.0h0M326.0 695.1h0M316.7 694.8h0M324.6 697.6h0M314.3 689.7h0M315.2 702.1h0M320.9 712.5h0M327.3 701.8h0M318.2 699.4h0M304.4 698.5h0M305.7 700.4h0M324.0 703.2h0M311.1 697.4h0M327.2 688.7h0M307.7 689.6h0M305.5 701.8h0M313.0 699.2h0M303.2 694.7h0M304.6 718.1h0M315.7 689.4h0M317.0 691.7h0M320.5 699.9h0M306.0 719.3h0M309.8 707.9h0M316.6 700.8h0M326.5 704.0h0M328.4 700.4h0M327.5 687.4h0M310.3 690.0h0M302.6 692.0h0M304.9 687.6h0M321.2 696.0h0M306.3 695.7h0M327.7 702.2h0M328.6 700.4h0M303.4 698.3h0M318.4 707.9h0M324.4 699.7h0M322.0 689.2h0M323.4 689.0h0M316.9 718.7h0M325.2 690.0h0M309.9 702.1h0M303.0 701.2h0M321.7 697.8h0M314.9 702.1h0M326.3 707.4h0M319.9 692.6h0M326.2 697.0h0M303.8 702.9h0M325.5 691.1h0M309.3 688.1h0M314.0 695.0h0M312.1 696.2h0M319.4 705.1h0M303.6 698.9h0M329.3 703.3h0M328.0 703.5h0M305.4 692.2h0M315.9 692.7h0M329.4 698.4h0M327.4 702.4h0M312.1 690.2h0M325.1 704.7h0M310.6 702.0h0M315.2 688.2h0M311.3 690.2h0M308.7 699.8h0M323.2 700.8h0M327.1 703.7h0M312.8 695.9h0M325.0 700.2h0M326.6 696.3h0M312.2 700.7h0M321.8 692.2h0M315.8 705.4h0M303.3 700.7h0M327.5 701.2h0M322.8 688.9h0M309.0 689.0h0M317.0 702.6h0M316.8 697.7h0M325.0 695.2h0M309.2 709.0h0M328.8 698.0h0M321.3 711.6h0M307.0 700.1h0M327.7 703.0h0M307.7 693.4h0M328.1 711.8h0M326.5 707.8h0M318.8 696.8h0M326.7 688.0h0M309.8 696.2h0M329.1 691.3h0M303.8 687.9h0M316.5 713.5h0M324.2 694.3h0M307.0 695.8h0M305.4 705.6h0M319.9 699.3h0M305.0 701.7h0M321.7 688.7h0M309.5 712.6h0M309.3 695.3h0M308.9 693.3h0M309.3 716.1h0M321.8 702.9h0M311.4 699.9h0M324.0 697.2h0M322.2 711.9h0M325.6 701.2h0M308.1 706.3h0M307.2 702.4h0M328.4 696.6h0M325.2 690.9h0M306.2 701.3h0M320.5 688.1h0M310.1 704.9h0M303.6 689.1h0M304.2 690.6h0M322.1 692.3h0M321.2 700.6h0M314.0 687.3h0M313.3 689.3h0M312.9 699.8h0M305.9 693.7h0M325.5 705.4h0M309.6 696.4h0M318.3 687.9h0M303.2 689.0h0M320.7 705.3h0M304.5 687.7h0M322.2 699.0h0M315.8 702.2h0M323.9 698.6h0M313.2 714.0h0M322.2 704.5h0M307.3 694.2h0M326.6 687.3h0M321.6 693.2h0M306.4 689.8h0M310.7 699.8h0M328.3 706.9h0M319.8 693.3h0M305.1 703.3h0M321.1 690.7h0M321.2 695.3h0M319.8 702.2h0M303.0 691.8h0M326.0 704.2h0M305.6 698.0h0M317.9 692.2h0M318.6 710.9h0M316.5 688.9h0M329.4 697.8h0M313.9 687.2h0M314.0 699.8h0M319.7 689.7h0M327.6 692.5h0M324.1 700.8h0M323.5 701.9h0M318.5 700.6h0M317.7 703.2h0M315.6 697.3h0M317.8 713.4h0M303.6 709.3h0M315.8 715.1h0M305.2 706.1h0M313.4 698.3h0M310.1 713.8h0M320.2 706.9h0M329.0 690.0h0M319.9 692.2h0M317.3 689.1h0M328.2 713.2h0M322.2 700.2h0M329.0 718.6h0M317.3 715.2h0M326.6 700.8h0M305.8 691.8h0M308.4 689.7h0M313.9 689.7h0M326.2 691.4h0M323.1 707.5h0M317.7 688.7h0M303.5 700.8h0M312.9 699.0h0M306.6 709.3h0M319.7 703.4h0M303.6 703.6h0M319.3 692.9h0M321.8 699.0h0M328.4 686.7h0M323.3 697.6h0M329.2 693.9h0M309.1 691.7h0M326.3 704.8h0M318.0 686.7h0M309.7 695.6h0M329.0 696.4h0M321.8 702.4h0M316.1 704.4h0M309.7 690.5h0M311.0 698.7h0M323.7 692.4h0M306.4 704.2h0M319.2 699.6h0M324.6 699.9h0M312.2 699.3h0M305.9 713.6h0M328.9 693.7h0M307.3 686.7h0M304.1 689.3h0M306.9 701.3h0M329.4 698.5h0M326.3 705.6h0M314.2 696.2h0M316.1 688.4h0M321.5 703.6h0M313.1 695.9h0M322.9 694.4h0M309.8 703.3h0M320.2 711.3h0M324.5 693.5h0M314.2 706.8h0M312.7 699.5h0M312.2 708.2h0M328.1 717.8h0M315.4 690.0h0M320.2 706.1h0M320.9 689.8h0M316.6 705.6h0M315.0 702.0h0M313.6 690.4h0M319.9 700.8h0M302.9 687.1h0M314.7 711.7h0M326.3 689.7h0M315.1 703.3h0M319.4 696.8h0M307.4 691.3h0M310.3 705.1h0M303.8 698.9h0M322.3 688.1h0M312.4 686.6h0M313.3 705.9h0M319.3 698.9h0M314.1 698.1h0M326.7 706.1h0M305.0 704.9h0M324.4 692.8h0M326.7 693.8h0M321.8 686.9h0M324.2 710.1h0M314.5 708.2h0M327.3 703.2h0M318.2 693.0h0M323.6 692.2h0M327.4 707.8h0M327.7 691.7h0M319.2 698.7h0M320.9 693.0h0M307.9 718.9h0M309.3 718.7h0M316.4 718.5h0M302.6 719.0h0M315.4 719.6h0M317.5 719.4h0M307.4 719.4h0M321.7 719.3h0M307.6 719.0h0M307.8 718.8h0M321.1 719.8h0M325.4 718.6h0M318.7 719.2h0M304.3 719.5h0M323.0 719.8h0M307.8 719.5h0M303.6 718.9h0M320.3 719.4h0M316.4 719.2h0M324.8 718.9h0M308.8 719.0h0M308.1 719.0h0M316.6 718.8h0M303.6 718.6h0M304.2 718.6h0M314.0 719.3h0M303.7 718.7h0M328.8 719.1h0M325.1 719.3h0M313.5 719.5h0M357.8 716.2h0M358.8 711.3h0M356.4 692.3h0M344.0 700.8h0M353.0 708.1h0M357.9 711.0h0M351.7 719.3h0M340.1 705.5h0M351.0 710.6h0M353.3 715.6h0M352.2 706.2h0M337.9 711.5h0M347.4 707.9h0M334.3 694.9h0M345.9 719.0h0M357.7 689.9h0M336.0 688.0h0M343.7 703.7h0M347.4 715.9h0M334.2 701.8h0M346.2 703.3h0M349.0 712.4h0M338.2 701.4h0M353.5 695.0h0M341.1 699.0h0M345.0 710.9h0M337.3 715.8h0M336.0 694.6h0M343.1 719.5h0M354.5 706.5h0M351.5 707.2h0M337.6 715.3h0M356.9 692.4h0M341.6 706.4h0M347.8 719.2h0M343.7 700.3h0M355.9 706.1h0M339.8 691.8h0M336.9 695.8h0M353.8 704.6h0M356.8 719.4h0M350.2 719.2h0M334.7 719.8h0M335.9 719.7h0M358.3 719.4h0M346.1 719.6h0M353.6 718.5h0M340.2 719.4h0M333.0 719.6h0M340.7 719.1h0M343.9 719.4h0M343.5 718.6h0M351.5 718.5h0M358.7 719.0h0M352.7 719.2h0M357.7 719.4h0M336.5 719.7h0M341.2 718.9h0M353.6 719.7h0M337.6 718.8h0M338.4 719.4h0M339.1 719.5h0M357.0 718.5h0M349.2 719.0h0M356.6 719.4h0M339.4 719.2h0M333.9 719.3h0M358.8 718.7h0M341.1 718.6h0M348.3 719.2h0M340.1 719.5h0M335.3 719.0h0M348.6 719.1h0M349.2 719.5h0M352.4 718.7h0M336.9 719.0h0M347.8 719.4h0M348.2 718.8h0M357.1 718.8h0M351.6 719.2h0M343.9 718.9h0M334.1 719.6h0M342.4 719.2h0M354.1 719.2h0M355.9 718.8h0M358.6 718.6h0M344.0 719.4h0M338.1 718.7h0M343.6 719.3h0M335.0 719.8h0M334.1 719.7h0M356.4 718.6h0M352.7 719.2h0M346.3 719.7h0M334.9 719.1h0M348.9 718.9h0M356.5 719.6h0M348.9 719.1h0M347.2 719.3h0M343.3 718.9h0M385.0 700.4h0M387.2 702.5h0M376.1 707.4h0M364.5 697.2h0M384.8 708.3h0M386.5 704.6h0M386.3 712.9h0M386.9 709.2h0M378.0 707.0h0M387.8 702.4h0M371.2 717.1h0M372.8 690.7h0M378.0 696.3h0M381.8 716.4h0M387.5 707.0h0M376.9 715.9h0M368.8 714.5h0M376.1 711.9h0M386.2 707.9h0M386.9 715.2h0M385.6 697.9h0M386.3 716.6h0M375.5 702.2h0M375.2 716.1h0M387.6 706.6h0M376.4 699.0h0M378.4 696.2h0M362.9 702.8h0M387.0 717.2h0M371.5 709.0h0M368.7 712.3h0M383.9 718.3h0M374.4 700.0h0M384.1 717.6h0M364.1 712.7h0M364.6 713.2h0M382.1 695.0h0M386.2 719.3h0M381.7 717.9h0M378.2 719.0h0M376.9 708.6h0M388.0 711.5h0M379.9 704.7h0M381.5 691.0h0M375.4 707.1h0M369.0 718.5h0M369.1 715.4h0M371.4 703.0h0M377.5 708.7h0M379.9 717.5h0M363.1 716.1h0M372.4 706.7h0M373.6 706.1h0M380.8 713.3h0M370.2 704.4h0M385.8 718.3h0M385.5 717.0h0M370.6 694.5h0M383.7 718.0h0M380.3 714.7h0M372.4 719.3h0M376.4 719.0h0M380.4 719.1h0M375.9 719.4h0M381.1 718.9h0M367.7 719.4h0M370.6 718.9h0M377.4 719.8h0M376.2 719.6h0M366.5 719.8h0M384.1 719.8h0M386.2 719.4h0M379.7 719.6h0M374.6 718.8h0M378.2 719.6h0M370.6 719.1h0M372.7 719.0h0M364.8 719.6h0M366.7 719.7h0M377.5 719.5h0M379.2 719.3h0M363.9 718.9h0M383.4 719.3h0M372.1 719.2h0M362.9 719.7h0M365.9 719.6h0M367.2 719.7h0M373.8 719.6h0M382.9 718.9h0M389.0 718.8h0M383.8 719.7h0M370.8 719.2h0M367.2 719.5h0M382.4 718.7h0M370.6 719.7h0M373.2 719.0h0M369.8 719.6h0M371.7 719.8h0M377.2 718.6h0M379.5 719.6h0M389.0 718.6h0M372.7 719.2h0M371.2 719.2h0M384.7 719.5h0M377.6 719.1h0M377.4 719.5h0M386.0 719.0h0M385.3 719.7h0M370.8 719.7h0M367.0 719.8h0M386.7 718.6h0M381.4 718.5h0M382.5 719.5h0M376.2 719.5h0M369.1 719.1h0M374.2 719.7h0M366.9 719.5h0M387.2 718.8h0M373.2 718.9h0M373.5 719.4h0M406.1 716.3h0M405.5 718.5h0M398.0 715.8h0M417.9 717.1h0M405.1 719.1h0M408.1 717.8h0M410.9 718.6h0M417.0 716.0h0M402.3 719.6h0M412.1 719.5h0M415.3 719.5h0M393.4 719.5h0M414.9 718.6h0M406.5 718.8h0M408.8 718.9h0M393.3 718.7h0M402.9 719.7h0M406.6 719.3h0M398.7 719.6h0M405.9 719.0h0M414.2 719.7h0M406.7 719.4h0M435.8 712.9h0M443.0 711.8h0M427.4 718.8h0M442.2 719.5h0M434.2 718.1h0M431.3 719.4h0M433.9 714.4h0M428.1 711.4h0M444.0 710.8h0M431.7 714.7h0M445.7 719.3h0M442.0 719.2h0M445.6 718.6h0M432.8 718.6h0M447.6 719.4h0M445.3 719.3h0M443.5 718.9h0M428.2 719.6h0M433.4 718.8h0M432.2 719.5h0M430.6 718.7h0M442.7 719.7h0M439.5 719.4h0M442.3 719.4h0M423.8 718.8h0M447.9 718.8h0M439.7 719.8h0M443.9 719.0h0" stroke="#000" stroke-width="1.80" stroke-linecap="round" fill="none"/>
<line x1="299.50" y1="685.60" x2="299.50" y2="721.40" stroke="#000" stroke-width="1.4"/>
<line x1="298.80" y1="720.70" x2="456.20" y2="720.70" stroke="#000" stroke-width="1.4"/>
<line x1="295.30" y1="719.50" x2="299.50" y2="719.50" stroke="#000" stroke-width="1.3"/>
<text x="291.90" y="722.10" font-size="7.4" text-anchor="end" fill="#111" stroke="#111" stroke-width="0.2">0</text>
<line x1="295.30" y1="712.90" x2="299.50" y2="712.90" stroke="#000" stroke-width="1.3"/>
<text x="291.90" y="715.50" font-size="7.4" text-anchor="end" fill="#111" stroke="#111" stroke-width="0.2">1</text>
<line x1="295.30" y1="706.30" x2="299.50" y2="706.30" stroke="#000" stroke-width="1.3"/>
<text x="291.90" y="708.90" font-size="7.4" text-anchor="end" fill="#111" stroke="#111" stroke-width="0.2">2</text>
<line x1="295.30" y1="699.70" x2="299.50" y2="699.70" stroke="#000" stroke-width="1.3"/>
<text x="291.90" y="702.30" font-size="7.4" text-anchor="end" fill="#111" stroke="#111" stroke-width="0.2">3</text>
<line x1="295.30" y1="693.10" x2="299.50" y2="693.10" stroke="#000" stroke-width="1.3"/>
<text x="291.90" y="695.70" font-size="7.4" text-anchor="end" fill="#111" stroke="#111" stroke-width="0.2">4</text>
<line x1="295.30" y1="686.50" x2="299.50" y2="686.50" stroke="#000" stroke-width="1.3"/>
<text x="291.90" y="689.10" font-size="7.4" text-anchor="end" fill="#111" stroke="#111" stroke-width="0.2">5</text>
<line x1="316.10" y1="720.70" x2="316.10" y2="724.30" stroke="#000" stroke-width="1.1"/>
<text x="316.10" y="734.80" font-size="8.1" text-anchor="middle" fill="#111" stroke="#111" stroke-width="0.2">1</text>
<line x1="346.00" y1="720.70" x2="346.00" y2="724.30" stroke="#000" stroke-width="1.1"/>
<text x="346.00" y="734.80" font-size="8.1" text-anchor="middle" fill="#111" stroke="#111" stroke-width="0.2">2</text>
<line x1="375.90" y1="720.70" x2="375.90" y2="724.30" stroke="#000" stroke-width="1.1"/>
<text x="375.90" y="734.80" font-size="8.1" text-anchor="middle" fill="#111" stroke="#111" stroke-width="0.2">3</text>
<line x1="405.80" y1="720.70" x2="405.80" y2="724.30" stroke="#000" stroke-width="1.1"/>
<text x="405.80" y="734.80" font-size="8.1" text-anchor="middle" fill="#111" stroke="#111" stroke-width="0.2">4</text>
<line x1="435.70" y1="720.70" x2="435.70" y2="724.30" stroke="#000" stroke-width="1.1"/>
<text x="435.70" y="734.80" font-size="8.1" text-anchor="middle" fill="#111" stroke="#111" stroke-width="0.2">5</text>
<path d="M479.5,720.7 L480.5,718.7 L485.5,715.4 L487.5,710.7 L481.5,706.0 L479.5,700.7 L479.5,694.1 L482.5,689.4 L488.5,687.4 L493.4,687.1 L493.6,687.1 L498.5,687.4 L504.5,689.4 L507.5,694.1 L507.5,700.7 L505.5,706.0 L499.5,710.7 L501.5,715.4 L506.5,718.7 L507.5,720.7Z" fill="#5561ae" stroke="#000" stroke-width="0.7" stroke-linejoin="round"/>
<path d="M511.6,720.7 L512.6,718.7 L516.6,715.4 L518.6,710.7 L515.6,704.1 L510.6,699.4 L509.6,692.7 L510.6,688.7 L511.6,687.4 L523.5,687.3 L523.7,687.3 L535.6,687.4 L536.6,688.7 L537.6,692.7 L536.6,699.4 L531.6,704.1 L528.6,710.7 L530.6,715.4 L534.6,718.7 L535.6,720.7Z" fill="#d13e33" stroke="#000" stroke-width="0.7" stroke-linejoin="round"/>
<path d="M550.7,720.7 L550.7,714.0 L550.7,704.1 L551.2,694.1 L551.7,687.4 L553.6,687.1 L553.8,687.1 L555.7,687.4 L556.2,694.1 L556.7,704.1 L556.7,714.0 L556.7,720.7Z" fill="#6f9a57" stroke="#000" stroke-width="0.7" stroke-linejoin="round"/>
<path d="M575.8,720.7 L580.8,719.4 L583.5,717.4 L583.5,696.7 L584.1,696.7 L584.1,717.4 L586.8,719.4 L591.8,720.7Z" fill="#ece27e" stroke="#000" stroke-width="0.7" stroke-linejoin="round"/>
<path d="M605.9,720.7 L610.9,719.4 L613.6,717.4 L613.6,700.7 L614.2,700.7 L614.2,717.4 L616.9,719.4 L621.9,720.7Z" fill="#466982" stroke="#000" stroke-width="0.7" stroke-linejoin="round"/>
<path d="M480.0 712.2h0M490.0 714.0h0M506.8 697.1h0M484.1 702.6h0M492.9 709.1h0M499.0 715.3h0M480.9 695.1h0M492.3 696.2h0M495.5 713.1h0M501.2 694.4h0M495.2 692.6h0M493.3 716.6h0M487.5 703.7h0M497.2 692.7h0M503.7 695.2h0M480.7 703.9h0M480.7 692.9h0M495.0 690.8h0M487.2 693.3h0M495.9 708.5h0M493.8 703.8h0M499.7 697.7h0M506.0 704.0h0M506.1 700.2h0M496.9 695.1h0M492.1 702.4h0M494.1 701.3h0M481.3 718.2h0M496.8 690.7h0M496.8 687.9h0M495.0 713.5h0M506.1 697.1h0M480.4 707.4h0M492.8 703.8h0M504.4 707.4h0M506.2 710.0h0M498.4 695.1h0M506.3 712.5h0M496.3 697.0h0M492.1 687.4h0M506.2 707.9h0M495.3 698.4h0M502.9 720.3h0M487.1 710.9h0M501.1 715.8h0M484.6 696.2h0M483.8 697.5h0M480.2 696.2h0M494.1 702.8h0M487.3 701.0h0M506.2 691.4h0M486.6 702.1h0M481.4 708.8h0M496.5 696.1h0M487.5 706.3h0M503.1 712.2h0M506.3 690.7h0M482.7 706.5h0M485.4 709.8h0M487.0 690.6h0M495.1 707.3h0M481.5 717.0h0M487.5 695.3h0M483.1 702.2h0M494.4 716.7h0M485.4 689.3h0M485.4 706.9h0M494.8 714.0h0M493.3 703.4h0M504.3 717.9h0M501.3 715.2h0M500.1 704.2h0M501.6 694.1h0M487.0 719.1h0M495.6 694.1h0M494.7 693.1h0M504.2 714.8h0M491.9 696.7h0M487.3 701.1h0M498.1 688.0h0M495.0 698.4h0M487.7 703.1h0M491.2 692.0h0M487.9 693.2h0M481.9 687.7h0M484.9 688.3h0M480.7 695.5h0M485.6 698.3h0M490.6 695.5h0M486.1 696.0h0M493.9 699.1h0M498.4 705.8h0M505.3 710.9h0M500.0 709.4h0M499.5 688.4h0M500.3 707.6h0M497.9 699.9h0M504.3 698.3h0M506.7 693.8h0M483.3 712.7h0M488.3 701.0h0M489.0 714.4h0M495.9 688.7h0M501.0 693.5h0M504.9 701.4h0M485.5 698.7h0M492.0 713.4h0M496.4 705.4h0M482.4 696.8h0M487.6 706.4h0M503.7 698.7h0M501.1 695.0h0M481.7 693.0h0M506.5 697.7h0M485.8 690.0h0M487.5 693.2h0M506.4 709.6h0M495.3 693.6h0M499.0 703.7h0M492.9 705.8h0M499.5 704.8h0M503.7 711.1h0M489.1 694.0h0M500.2 713.0h0M482.6 701.4h0M499.2 692.3h0M481.1 699.5h0M487.4 707.2h0M497.3 704.6h0M483.9 690.3h0M487.9 707.8h0M480.1 690.6h0M492.1 700.7h0M482.7 699.4h0M497.5 702.2h0M503.1 719.0h0M503.3 691.5h0M502.7 697.5h0M491.4 691.1h0M507.0 695.4h0M495.9 697.8h0M503.5 697.8h0M498.9 695.7h0M486.4 696.1h0M483.0 720.2h0M499.6 719.9h0M506.6 693.6h0M506.3 716.2h0M484.3 719.8h0M493.5 695.8h0M496.4 698.1h0M494.7 700.6h0M480.2 705.5h0M488.5 718.9h0M481.6 711.8h0M491.0 715.3h0M480.7 692.2h0M499.5 690.5h0M489.6 688.3h0M487.0 699.7h0M503.9 690.4h0M495.9 699.8h0M506.6 700.8h0M497.9 695.6h0M497.5 698.7h0M488.6 703.1h0M503.2 717.2h0M492.7 703.4h0M499.1 702.8h0M480.7 701.9h0M494.1 706.5h0M497.4 689.9h0M500.9 703.4h0M503.8 692.1h0M489.6 699.4h0M501.4 689.1h0M497.9 713.5h0M487.2 699.6h0M504.0 694.2h0M492.6 696.2h0M481.8 697.3h0M492.8 691.7h0M489.9 713.1h0M482.8 691.1h0M484.2 714.4h0M496.5 699.9h0M493.4 697.9h0M499.9 716.5h0M505.7 703.3h0M505.5 713.7h0M503.3 705.6h0M490.8 699.3h0M493.7 688.9h0M487.6 706.9h0M482.8 704.6h0M497.6 706.4h0M492.8 699.1h0M485.1 705.2h0M494.7 696.6h0M493.3 706.9h0M501.8 713.2h0M504.0 703.8h0M488.7 711.9h0M506.7 709.4h0M493.4 696.7h0M499.2 695.5h0M495.5 703.2h0M503.0 711.4h0M486.4 699.7h0M487.1 714.9h0M506.1 701.1h0M492.3 696.1h0M491.3 714.5h0M482.7 708.1h0M496.6 707.3h0M501.1 705.8h0M488.1 697.0h0M498.4 695.2h0M502.8 706.4h0M489.7 693.2h0M503.4 702.5h0M483.5 719.1h0M505.2 704.0h0M486.9 695.0h0M484.8 697.6h0M501.6 687.9h0M483.0 693.0h0M496.5 688.2h0M483.0 711.1h0M480.1 695.5h0M498.4 711.8h0M493.7 697.2h0M480.6 704.8h0M483.2 713.9h0M487.8 702.8h0M483.0 704.3h0M485.7 688.0h0M504.0 696.5h0M491.2 690.6h0M485.9 692.2h0M497.6 711.7h0M481.9 687.9h0M489.5 703.0h0M481.4 697.4h0M499.5 690.5h0M489.2 695.1h0M490.6 704.0h0M487.5 706.8h0M485.3 694.6h0M480.5 697.9h0M488.4 715.3h0M503.0 702.3h0M488.0 702.9h0M483.7 695.8h0M505.1 693.6h0M501.6 704.9h0M504.0 701.8h0M489.2 695.5h0M504.7 697.2h0M505.4 698.1h0M506.5 708.0h0M487.4 711.3h0M489.3 710.1h0M499.5 696.5h0M490.6 706.4h0M485.7 691.7h0M491.3 693.0h0M486.8 695.3h0M488.5 702.9h0M500.6 716.2h0M490.0 713.0h0M490.8 692.4h0M489.3 703.6h0M506.5 696.0h0M494.1 692.7h0M485.6 701.5h0M480.9 705.1h0M503.9 709.5h0M480.7 694.2h0M492.7 707.0h0M503.8 712.4h0M505.2 688.5h0M500.1 692.8h0M499.5 701.3h0M506.8 707.4h0M492.9 708.9h0M483.9 712.2h0M482.6 693.1h0M506.1 718.6h0M488.2 714.8h0M501.7 713.5h0M481.0 707.9h0M506.8 696.5h0M483.5 705.4h0M483.5 706.0h0M489.7 712.2h0M506.1 697.1h0M497.2 697.3h0M503.3 695.2h0M487.4 704.8h0M496.6 710.8h0M490.7 709.7h0M504.5 720.5h0M497.6 699.9h0M501.3 702.0h0M504.0 710.6h0M498.4 713.5h0M494.0 711.1h0M486.2 710.0h0M504.5 696.1h0M496.2 691.9h0M491.0 695.8h0M482.2 702.6h0M500.5 714.5h0M482.1 705.6h0M501.8 707.8h0M490.0 701.2h0M506.0 709.5h0M498.1 691.5h0M491.8 710.1h0M505.2 691.6h0M486.9 718.0h0M485.9 695.5h0M486.6 703.1h0M483.7 718.4h0M503.6 708.3h0M492.7 698.3h0M494.3 696.8h0M494.3 690.7h0M490.2 695.3h0M488.4 720.7h0M498.0 720.4h0M482.5 719.8h0M495.8 720.5h0M505.9 720.5h0M484.3 720.9h0M494.1 719.9h0M492.5 720.4h0M502.9 720.6h0M492.8 720.0h0M488.9 720.9h0M495.1 720.3h0M488.6 720.4h0M483.9 721.0h0M502.0 721.0h0M492.0 720.4h0M489.9 721.0h0M490.9 719.9h0M487.1 720.0h0M499.4 720.3h0M484.8 719.8h0M487.9 719.8h0M494.5 720.5h0M486.4 719.7h0M502.5 720.4h0M494.9 720.8h0M500.7 720.0h0M492.5 719.8h0M498.5 720.8h0M491.7 720.6h0M520.7 704.6h0M532.5 717.2h0M524.1 690.9h0M530.1 700.8h0M519.1 692.6h0M525.8 708.5h0M528.4 696.2h0M521.5 702.6h0M531.1 695.3h0M516.7 702.0h0M528.4 702.0h0M518.0 717.7h0M514.6 696.3h0M531.1 687.6h0M520.9 704.3h0M529.6 705.2h0M526.6 717.3h0M522.5 716.1h0M528.5 700.4h0M529.7 689.4h0M511.5 713.6h0M518.2 690.8h0M532.6 688.5h0M515.0 687.7h0M527.5 717.4h0M515.9 688.0h0M526.3 702.6h0M532.3 718.5h0M521.6 693.8h0M520.5 696.0h0M531.3 701.5h0M527.1 702.3h0M515.9 695.8h0M524.4 693.4h0M526.0 690.8h0M516.6 698.0h0M515.4 714.8h0M511.9 690.9h0M517.1 714.7h0M525.8 702.9h0M528.3 719.9h0M524.7 691.1h0M529.1 719.6h0M528.8 712.6h0M522.9 698.5h0M513.9 719.5h0M517.5 717.0h0M523.3 688.3h0M534.2 699.4h0M512.0 688.0h0M521.4 705.0h0M513.0 703.9h0M521.4 716.2h0M519.2 698.1h0M527.9 689.7h0M526.9 698.3h0M518.9 702.3h0M528.1 710.9h0M535.9 707.9h0M522.4 697.3h0M515.1 687.8h0M530.7 716.3h0M530.9 700.7h0M536.0 705.3h0M519.9 696.0h0M520.6 689.3h0M522.7 699.9h0M526.8 705.1h0M532.3 696.3h0M528.1 688.7h0M529.8 695.6h0M530.7 718.0h0M526.4 693.0h0M513.6 687.9h0M529.9 698.9h0M529.9 687.4h0M516.3 701.6h0M535.0 691.2h0M529.8 708.9h0M518.6 709.1h0M517.3 696.1h0M532.0 702.3h0M535.0 714.4h0M525.9 694.0h0M528.8 697.7h0M521.9 707.5h0M517.6 710.6h0M520.7 698.3h0M518.4 697.4h0M514.1 703.2h0M529.4 687.7h0M529.0 702.2h0M520.7 701.6h0M521.8 720.1h0M534.3 703.5h0M522.6 698.2h0M527.8 693.9h0M512.0 709.1h0M510.8 693.5h0M530.8 705.3h0M514.1 687.5h0M517.8 702.4h0M536.5 698.1h0M533.0 709.7h0M517.6 709.6h0M521.4 702.2h0M516.6 690.2h0M530.7 692.7h0M512.4 693.3h0M534.8 703.1h0M530.4 719.9h0M524.5 720.6h0M525.3 719.8h0M536.4 720.0h0M510.2 719.8h0M529.5 719.8h0M523.4 720.9h0M523.7 721.0h0M528.7 720.0h0M520.2 721.0h0M523.7 720.0h0M530.4 720.1h0M517.5 720.6h0M515.9 720.7h0M511.1 720.6h0M530.7 720.1h0M534.1 720.6h0M515.4 720.1h0M512.1 720.9h0M534.2 720.3h0M561.9 704.2h0M548.9 711.7h0M560.9 699.3h0M565.5 716.2h0M562.8 691.0h0M542.1 700.4h0M547.5 710.6h0M548.3 693.5h0M567.1 695.4h0M553.2 689.8h0M560.2 703.1h0M551.6 704.7h0M543.0 706.3h0M554.6 702.3h0M558.2 713.4h0M545.6 709.3h0M550.0 712.4h0M540.5 696.2h0M548.6 701.9h0M554.7 714.3h0M555.6 690.6h0M542.4 690.7h0M551.9 718.0h0M546.6 692.0h0M562.9 717.0h0M540.8 689.0h0M549.0 698.3h0M566.0 714.4h0M563.9 703.0h0M544.0 700.6h0M553.9 715.8h0M560.7 693.4h0M544.3 713.1h0M548.2 693.8h0M555.3 712.1h0M560.2 691.3h0M541.0 708.4h0M544.4 691.3h0M554.8 692.3h0M563.8 718.4h0M563.3 706.8h0M555.5 718.1h0M545.7 699.3h0M542.2 711.5h0M547.6 689.1h0M544.6 692.8h0M543.6 700.3h0M553.2 695.3h0M556.2 694.7h0M560.7 691.5h0M548.4 699.5h0M555.1 709.8h0M543.9 702.8h0M563.5 702.3h0M560.6 693.4h0M546.9 708.8h0M542.3 711.7h0M549.9 703.1h0M554.9 719.5h0M559.3 705.7h0M545.8 719.7h0M541.7 695.4h0M564.7 702.3h0M542.9 700.4h0M561.3 711.5h0M564.1 715.8h0M554.3 711.7h0M541.7 717.7h0M559.9 703.5h0M556.8 708.5h0M546.0 712.5h0M563.4 707.3h0M564.2 720.6h0M562.5 705.6h0M552.3 693.9h0M544.7 695.1h0M562.8 699.7h0M564.6 696.5h0M558.0 715.9h0M565.8 699.7h0M567.1 710.0h0M556.9 698.3h0M551.1 712.1h0M542.4 714.8h0M541.7 698.4h0M560.6 693.3h0M567.1 703.0h0M551.1 716.2h0M554.6 713.0h0M560.7 699.3h0M553.0 705.9h0M551.5 714.8h0M548.2 703.5h0M563.5 709.6h0M542.0 702.5h0M557.7 695.6h0M546.9 692.9h0M549.4 698.1h0M561.9 690.8h0M562.4 715.6h0M556.6 717.0h0M566.6 704.5h0M564.4 708.6h0M543.1 714.8h0M550.3 712.8h0M566.6 710.0h0M566.7 715.6h0M566.7 700.2h0M544.0 720.5h0M548.2 717.7h0M543.7 696.6h0M540.3 698.9h0M555.1 717.9h0M564.9 695.5h0M540.3 707.9h0M559.6 689.8h0M541.5 719.2h0M543.1 712.2h0M544.1 696.1h0M562.3 689.8h0M541.8 695.3h0M547.3 692.7h0M541.0 702.9h0M547.9 699.7h0M542.3 698.3h0M556.8 697.0h0M563.0 712.6h0M564.9 690.9h0M560.9 694.8h0M541.5 696.2h0M566.0 715.0h0M560.1 707.6h0M566.8 693.5h0M563.7 700.2h0M554.6 705.6h0M564.0 698.8h0M562.1 689.4h0M541.1 703.4h0M557.8 709.0h0M541.7 689.5h0M544.1 707.4h0M551.6 707.9h0M551.5 694.9h0M542.8 700.5h0M554.2 694.1h0M549.9 697.8h0M540.5 713.0h0M554.1 714.6h0M564.4 712.3h0M556.4 702.0h0M540.4 698.2h0M556.3 692.0h0M564.2 710.9h0M547.5 712.9h0M566.9 709.3h0M542.6 714.0h0M559.3 693.4h0M562.0 705.6h0M553.5 708.6h0M543.5 697.8h0M547.8 720.0h0M567.0 688.0h0M555.4 688.6h0M557.3 711.7h0M546.8 708.3h0M545.5 698.7h0M552.3 709.5h0M554.9 713.1h0M554.7 699.7h0M546.5 704.9h0M541.7 716.6h0M551.0 717.6h0M555.5 699.8h0M564.1 708.1h0M558.6 694.6h0M554.6 707.3h0M544.8 699.1h0M546.3 700.7h0M565.0 707.5h0M546.8 717.7h0M556.5 713.4h0M565.6 705.8h0M552.6 718.7h0M540.8 720.0h0M545.4 702.0h0M555.4 688.3h0M546.1 696.9h0M546.9 717.7h0M543.6 717.4h0M554.2 702.6h0M546.5 712.9h0M556.2 707.9h0M544.3 702.1h0M557.7 718.1h0M565.1 708.7h0M550.6 690.5h0M556.9 713.7h0M541.6 693.8h0M565.8 692.4h0M563.7 699.2h0M558.7 696.3h0M543.6 715.8h0M552.9 695.7h0M549.6 698.8h0M564.7 701.9h0M554.4 704.4h0M547.4 707.5h0M559.1 712.7h0M552.7 714.5h0M566.8 691.5h0M563.7 718.5h0M565.1 693.9h0M543.1 694.0h0M567.2 702.0h0M558.3 688.9h0M566.9 720.1h0M556.0 711.1h0M562.5 716.2h0M545.6 719.9h0M552.3 713.1h0M546.7 693.9h0M543.1 689.2h0M541.4 705.5h0M551.4 712.8h0M546.8 688.1h0M542.4 714.2h0M549.1 710.9h0M565.6 711.3h0M565.6 708.3h0M563.0 701.2h0M563.1 720.5h0M554.2 713.6h0M540.9 702.0h0M550.0 716.9h0M547.9 690.1h0M547.8 705.7h0M555.2 711.6h0M544.0 698.7h0M548.9 698.2h0M560.3 712.5h0M563.2 710.8h0M543.5 713.1h0M543.6 712.5h0M564.8 701.4h0M553.0 700.3h0M552.8 695.1h0M550.8 705.0h0M566.6 694.5h0M548.0 716.6h0M550.4 692.1h0M546.2 690.7h0M557.7 719.3h0M562.3 709.5h0M565.4 695.8h0M559.0 717.9h0M556.1 705.6h0M554.7 708.0h0M565.8 698.6h0M561.6 709.3h0M554.3 716.4h0M565.5 708.4h0M542.5 688.1h0M557.5 710.0h0M564.3 693.6h0M551.4 713.4h0M554.8 698.3h0M543.4 695.6h0M566.8 711.3h0M555.8 703.3h0M559.3 691.5h0M559.1 718.6h0M560.5 704.2h0M544.9 709.0h0M548.7 709.3h0M546.1 700.9h0M545.1 709.4h0M551.8 711.3h0M564.7 700.1h0M544.2 701.4h0M554.2 701.3h0M558.0 691.5h0M561.6 688.8h0M541.0 713.6h0M551.5 714.6h0M564.2 713.0h0M554.1 717.7h0M541.2 705.2h0M560.4 698.7h0M560.2 694.5h0M564.3 709.3h0M543.6 716.8h0M559.2 716.6h0M553.2 713.5h0M558.7 694.9h0M546.7 712.4h0M554.8 707.5h0M564.2 710.3h0M544.2 712.1h0M545.3 706.6h0M554.8 709.5h0M565.5 711.4h0M561.2 708.7h0M563.7 694.7h0M542.2 696.2h0M562.2 694.8h0M557.5 716.1h0M545.1 718.1h0M565.5 711.1h0M556.9 711.7h0M545.4 707.7h0M557.5 690.1h0M549.1 720.3h0M545.8 692.6h0M555.1 694.5h0M547.2 704.6h0M551.1 716.5h0M546.3 691.5h0M547.9 720.1h0M561.8 718.4h0M546.4 707.3h0M545.2 712.0h0M543.0 709.7h0M559.3 711.2h0M545.8 706.4h0M553.7 702.3h0M564.8 689.3h0M549.0 694.2h0M554.8 701.4h0M566.7 689.4h0M542.5 718.2h0M552.9 720.1h0M550.1 720.7h0M549.7 720.6h0M541.5 720.5h0M548.0 720.5h0M548.6 720.3h0M556.8 720.5h0M565.0 720.0h0M558.4 719.8h0M566.5 720.2h0M558.5 720.5h0M559.9 720.6h0M545.8 721.0h0M566.3 719.8h0M543.1 720.3h0M562.6 721.0h0M547.5 720.7h0M563.3 720.1h0M562.2 720.1h0M553.9 720.8h0M546.2 720.0h0M561.5 720.5h0M553.0 719.7h0M546.8 720.8h0M560.5 720.2h0M547.7 720.5h0M547.1 720.5h0M559.4 720.1h0M541.3 720.2h0M541.1 720.2h0M551.8 720.1h0M557.4 720.1h0M543.0 719.8h0M558.4 720.6h0M553.3 720.5h0M562.1 719.9h0M544.4 720.9h0M545.8 720.9h0M564.6 719.7h0M546.4 720.2h0M576.7 719.8h0M594.2 720.0h0M587.5 709.1h0M582.4 699.2h0M583.4 705.5h0M586.5 719.5h0M577.5 711.5h0M596.2 703.1h0M571.9 699.2h0M576.4 704.3h0M588.5 706.6h0M586.2 720.6h0M587.7 713.9h0M589.6 719.7h0M575.4 715.3h0M573.3 712.6h0M595.0 716.8h0M573.1 719.1h0M578.6 719.9h0M591.6 710.7h0M585.2 703.8h0M592.2 716.9h0M577.3 706.4h0M574.0 710.3h0M590.1 716.4h0M576.3 706.6h0M592.8 707.6h0M577.0 717.5h0M594.3 709.2h0M571.1 710.2h0M591.2 720.1h0M576.0 707.5h0M586.3 703.4h0M572.4 716.4h0M596.4 699.6h0M574.6 707.0h0M589.6 718.4h0M571.6 719.9h0M591.9 716.0h0M587.9 720.0h0M580.5 719.7h0M581.7 711.5h0M593.3 713.0h0M580.2 719.4h0M583.5 716.1h0M572.3 710.4h0M589.1 713.5h0M591.5 707.4h0M574.4 720.5h0M584.0 713.0h0M587.1 711.5h0M576.2 706.2h0M578.2 716.8h0M572.3 715.2h0M586.9 706.4h0M579.4 703.1h0M590.5 720.5h0M591.5 715.2h0M580.5 715.9h0M572.4 716.5h0M583.5 713.7h0M594.6 702.8h0M596.0 719.4h0M580.9 714.1h0M575.9 718.5h0M590.2 716.9h0M591.8 719.6h0M575.9 706.9h0M592.6 702.9h0M593.5 717.0h0M588.8 719.7h0M580.8 717.2h0M572.1 716.5h0M594.9 709.2h0M591.3 710.1h0M587.8 718.1h0M587.3 711.6h0M592.6 714.9h0M593.9 705.5h0M577.2 715.6h0M591.3 709.6h0M589.1 720.1h0M595.7 710.2h0M588.9 715.4h0M581.8 717.4h0M594.0 719.5h0M589.5 706.4h0M593.7 714.2h0M580.2 706.6h0M577.2 712.6h0M575.2 699.3h0M577.8 718.9h0M580.8 712.9h0M573.4 710.1h0M581.0 712.9h0M570.9 715.7h0M593.2 704.1h0M592.8 720.0h0M584.2 712.3h0M572.2 719.4h0M582.4 696.1h0M592.2 708.4h0M587.0 706.4h0M571.9 713.3h0M582.6 719.4h0M573.1 711.1h0M572.3 705.6h0M590.6 710.0h0M592.7 712.4h0M592.6 716.2h0M587.7 719.9h0M591.8 721.0h0M585.9 720.7h0M581.0 720.0h0M592.9 720.1h0M571.6 720.1h0M586.9 720.2h0M571.7 720.2h0M596.9 719.8h0M583.2 720.5h0M593.7 720.4h0M592.5 719.9h0M588.2 720.8h0M589.7 720.3h0M579.1 720.2h0M593.6 720.7h0M583.7 721.0h0M584.5 720.8h0M577.3 720.6h0M577.0 720.8h0M576.9 720.7h0M587.1 720.6h0M570.7 720.3h0M590.3 720.5h0M571.8 719.9h0M586.2 720.2h0M589.4 720.2h0M592.5 720.8h0M570.4 720.7h0M591.8 721.0h0M586.0 720.3h0M590.3 720.3h0M582.2 720.8h0M589.5 719.7h0M588.6 719.7h0M587.0 720.4h0M578.5 721.0h0M581.3 720.7h0M579.2 720.9h0M595.4 720.8h0M571.8 721.0h0M593.7 720.7h0M582.7 720.4h0M589.9 720.0h0M577.3 719.8h0M588.2 720.6h0M573.3 720.5h0M573.9 720.9h0M593.4 720.9h0M587.3 721.0h0M596.1 720.6h0M580.1 720.9h0M582.4 720.1h0M571.7 720.7h0M596.4 720.6h0M592.1 719.8h0M591.4 719.9h0M592.3 719.9h0M575.0 720.9h0M570.8 720.3h0M579.5 720.0h0M588.3 720.5h0M590.0 720.3h0M586.0 720.4h0M589.8 720.6h0M593.3 721.0h0M594.8 720.2h0M577.8 720.8h0M580.1 719.8h0M572.1 719.8h0M589.4 720.6h0M585.0 720.0h0M585.6 720.9h0M589.5 720.3h0M584.5 719.8h0M573.4 720.6h0M570.5 719.9h0M575.1 720.9h0M590.8 720.6h0M573.2 720.3h0M621.7 712.9h0M610.1 706.2h0M614.6 715.1h0M611.9 701.6h0M626.4 705.7h0M604.6 713.9h0M613.5 708.1h0M619.5 717.1h0M609.8 720.0h0M616.1 708.3h0M622.9 710.5h0M609.2 719.7h0M616.8 718.8h0M609.5 716.8h0M612.0 716.5h0M601.6 709.7h0M615.8 714.8h0M601.6 718.2h0M614.6 711.4h0M626.5 710.4h0M624.9 706.0h0M603.6 719.1h0M604.1 718.8h0M618.6 712.9h0M620.0 716.6h0M624.9 718.7h0M619.6 712.5h0M621.0 717.7h0M612.9 702.4h0M611.1 712.5h0M605.4 718.9h0M606.2 712.6h0M605.2 718.7h0M619.0 718.8h0M609.7 703.7h0M608.8 718.8h0M617.6 702.9h0M621.4 715.8h0M605.0 711.9h0M616.3 716.3h0M615.4 708.7h0M615.9 705.1h0M602.9 718.9h0M625.3 720.3h0M619.5 719.7h0M617.4 700.6h0M617.6 711.1h0M612.2 714.0h0M613.1 711.1h0M603.9 701.2h0M608.6 713.9h0M620.7 705.9h0M602.9 709.9h0M616.9 713.3h0M617.8 704.4h0M612.6 718.2h0M602.0 719.0h0M623.4 710.5h0M607.0 717.9h0M609.0 717.5h0M606.7 718.9h0M611.2 711.7h0M626.5 717.6h0M617.4 717.0h0M622.7 718.4h0M622.0 719.8h0M622.8 717.6h0M603.0 713.4h0M617.9 712.9h0M624.9 717.0h0M608.5 706.3h0M611.8 719.7h0M604.1 714.7h0M619.8 716.9h0M626.1 719.0h0M605.7 716.7h0M617.2 718.1h0M607.2 718.8h0M625.5 711.2h0M601.1 714.0h0M615.7 717.9h0M626.1 710.8h0M622.2 720.6h0M616.2 704.8h0M622.3 716.9h0M605.0 703.8h0M616.7 719.5h0M614.6 717.6h0M612.0 713.7h0M608.9 716.2h0M609.7 720.3h0M601.8 720.6h0M621.3 720.2h0M608.7 719.9h0M623.2 720.4h0M607.0 720.1h0M602.9 719.8h0M610.9 720.5h0M608.6 720.7h0M609.0 720.2h0M601.1 719.9h0M606.3 720.9h0M617.2 719.9h0M623.3 720.7h0M622.5 720.8h0M613.7 720.7h0M601.5 720.7h0M613.7 720.8h0M615.6 720.5h0M617.9 720.7h0M613.6 720.1h0M609.9 720.1h0M621.2 720.0h0M616.9 720.9h0M610.0 719.8h0M602.7 720.0h0M618.5 720.7h0M612.4 720.6h0M621.7 720.5h0M606.5 719.9h0M602.9 721.0h0M619.2 720.6h0M609.6 721.0h0M621.1 720.1h0M608.6 720.5h0M616.9 719.8h0M622.8 719.7h0M600.9 720.5h0M620.2 719.8h0M611.6 720.9h0M601.5 720.7h0M623.8 720.7h0M616.5 720.5h0M602.2 720.2h0M605.7 720.1h0M623.3 720.9h0M619.6 720.3h0M611.2 720.4h0M605.4 720.1h0M611.0 720.5h0M616.2 719.8h0M618.3 720.8h0M606.1 720.3h0M622.2 720.6h0M610.5 720.1h0M625.7 720.1h0M602.7 720.2h0M600.9 721.0h0M617.5 719.8h0M601.2 720.8h0M626.4 719.8h0M616.2 720.8h0M614.4 720.9h0M604.1 720.5h0M622.8 720.1h0M608.3 720.5h0M607.4 720.6h0M600.4 721.0h0M626.9 720.1h0M618.4 721.0h0M602.0 720.1h0M624.0 720.2h0M623.4 720.6h0M600.7 720.5h0M607.6 720.3h0M601.4 720.3h0M623.5 720.9h0M602.6 720.1h0M611.9 719.9h0M605.9 720.8h0" stroke="#000" stroke-width="1.80" stroke-linecap="round" fill="none"/>
<line x1="476.90" y1="686.50" x2="476.90" y2="722.70" stroke="#000" stroke-width="1.4"/>
<line x1="476.20" y1="722.00" x2="633.10" y2="722.00" stroke="#000" stroke-width="1.4"/>
<line x1="472.70" y1="720.70" x2="476.90" y2="720.70" stroke="#000" stroke-width="1.3"/>
<text x="469.30" y="723.30" font-size="7.4" text-anchor="end" fill="#111" stroke="#111" stroke-width="0.2">0</text>
<line x1="472.70" y1="714.04" x2="476.90" y2="714.04" stroke="#000" stroke-width="1.3"/>
<text x="469.30" y="716.64" font-size="7.4" text-anchor="end" fill="#111" stroke="#111" stroke-width="0.2">1</text>
<line x1="472.70" y1="707.38" x2="476.90" y2="707.38" stroke="#000" stroke-width="1.3"/>
<text x="469.30" y="709.98" font-size="7.4" text-anchor="end" fill="#111" stroke="#111" stroke-width="0.2">2</text>
<line x1="472.70" y1="700.72" x2="476.90" y2="700.72" stroke="#000" stroke-width="1.3"/>
<text x="469.30" y="703.32" font-size="7.4" text-anchor="end" fill="#111" stroke="#111" stroke-width="0.2">3</text>
<line x1="472.70" y1="694.06" x2="476.90" y2="694.06" stroke="#000" stroke-width="1.3"/>
<text x="469.30" y="696.66" font-size="7.4" text-anchor="end" fill="#111" stroke="#111" stroke-width="0.2">4</text>
<line x1="472.70" y1="687.40" x2="476.90" y2="687.40" stroke="#000" stroke-width="1.3"/>
<text x="469.30" y="690.00" font-size="7.4" text-anchor="end" fill="#111" stroke="#111" stroke-width="0.2">5</text>
<line x1="493.50" y1="722.00" x2="493.50" y2="725.60" stroke="#000" stroke-width="1.1"/>
<text x="493.50" y="736.10" font-size="8.1" text-anchor="middle" fill="#111" stroke="#111" stroke-width="0.2">1</text>
<line x1="523.60" y1="722.00" x2="523.60" y2="725.60" stroke="#000" stroke-width="1.1"/>
<text x="523.60" y="736.10" font-size="8.1" text-anchor="middle" fill="#111" stroke="#111" stroke-width="0.2">2</text>
<line x1="553.70" y1="722.00" x2="553.70" y2="725.60" stroke="#000" stroke-width="1.1"/>
<text x="553.70" y="736.10" font-size="8.1" text-anchor="middle" fill="#111" stroke="#111" stroke-width="0.2">3</text>
<line x1="583.80" y1="722.00" x2="583.80" y2="725.60" stroke="#000" stroke-width="1.1"/>
<text x="583.80" y="736.10" font-size="8.1" text-anchor="middle" fill="#111" stroke="#111" stroke-width="0.2">4</text>
<line x1="613.90" y1="722.00" x2="613.90" y2="725.60" stroke="#000" stroke-width="1.1"/>
<text x="613.90" y="736.10" font-size="8.1" text-anchor="middle" fill="#111" stroke="#111" stroke-width="0.2">5</text>
<rect x="301.1" y="809.8" width="27" height="2.0" fill="#000"/>
<rect x="331.4" y="809.8" width="27" height="2.0" fill="#000"/>
<rect x="361.7" y="809.8" width="27" height="2.0" fill="#000"/>
<line x1="392.00" y1="810.80" x2="419.00" y2="810.80" stroke="#000" stroke-width="0.7"/>
<path d="M392.6 810.8h0M394.6 810.8h0M397.6 810.8h0M399.4 810.8h0M401.9 810.8h0M404.0 810.8h0M406.3 810.8h0M409.0 810.8h0M411.8 810.8h0M413.2 810.8h0M415.7 810.8h0M418.8 810.8h0" stroke="#000" stroke-width="1.50" stroke-linecap="round" fill="none"/>
<line x1="422.30" y1="810.80" x2="449.30" y2="810.80" stroke="#000" stroke-width="0.7"/>
<path d="M423.0 810.8h0M425.5 810.8h0M427.1 810.8h0M430.1 810.8h0M432.0 810.8h0M435.0 810.8h0M436.5 810.8h0M439.7 810.8h0M442.1 810.8h0M443.9 810.8h0M446.5 810.8h0M449.1 810.8h0" stroke="#000" stroke-width="1.50" stroke-linecap="round" fill="none"/>
<line x1="298.60" y1="792.24" x2="298.60" y2="829.90" stroke="#000" stroke-width="1.4"/>
<line x1="297.90" y1="829.20" x2="456.20" y2="829.20" stroke="#000" stroke-width="1.4"/>
<line x1="294.40" y1="828.46" x2="298.60" y2="828.46" stroke="#000" stroke-width="1.3"/>
<text x="291.00" y="831.06" font-size="7.4" text-anchor="end" fill="#111" stroke="#111" stroke-width="0.2">−2</text>
<line x1="294.40" y1="819.63" x2="298.60" y2="819.63" stroke="#000" stroke-width="1.3"/>
<text x="291.00" y="822.23" font-size="7.4" text-anchor="end" fill="#111" stroke="#111" stroke-width="0.2">−1</text>
<line x1="294.40" y1="810.80" x2="298.60" y2="810.80" stroke="#000" stroke-width="1.3"/>
<text x="291.00" y="813.40" font-size="7.4" text-anchor="end" fill="#111" stroke="#111" stroke-width="0.2">0</text>
<line x1="294.40" y1="801.97" x2="298.60" y2="801.97" stroke="#000" stroke-width="1.3"/>
<text x="291.00" y="804.57" font-size="7.4" text-anchor="end" fill="#111" stroke="#111" stroke-width="0.2">1</text>
<line x1="294.40" y1="793.14" x2="298.60" y2="793.14" stroke="#000" stroke-width="1.3"/>
<text x="291.00" y="795.74" font-size="7.4" text-anchor="end" fill="#111" stroke="#111" stroke-width="0.2">2</text>
<line x1="314.60" y1="829.20" x2="314.60" y2="832.80" stroke="#000" stroke-width="1.1"/>
<text x="314.60" y="843.30" font-size="8.1" text-anchor="middle" fill="#111" stroke="#111" stroke-width="0.2">1</text>
<line x1="344.90" y1="829.20" x2="344.90" y2="832.80" stroke="#000" stroke-width="1.1"/>
<text x="344.90" y="843.30" font-size="8.1" text-anchor="middle" fill="#111" stroke="#111" stroke-width="0.2">2</text>
<line x1="375.20" y1="829.20" x2="375.20" y2="832.80" stroke="#000" stroke-width="1.1"/>
<text x="375.20" y="843.30" font-size="8.1" text-anchor="middle" fill="#111" stroke="#111" stroke-width="0.2">3</text>
<line x1="405.50" y1="829.20" x2="405.50" y2="832.80" stroke="#000" stroke-width="1.1"/>
<text x="405.50" y="843.30" font-size="8.1" text-anchor="middle" fill="#111" stroke="#111" stroke-width="0.2">4</text>
<line x1="435.80" y1="829.20" x2="435.80" y2="832.80" stroke="#000" stroke-width="1.1"/>
<text x="435.80" y="843.30" font-size="8.1" text-anchor="middle" fill="#111" stroke="#111" stroke-width="0.2">5</text>
<path d="M481.9,828.6 L482.9,827.3 L489.9,825.2 L492.9,821.9 L492.9,811.8 L495.6,802.6 L496.2,802.6 L498.9,811.8 L498.9,821.9 L501.9,825.2 L508.9,827.3 L509.9,828.6Z" fill="#5561ae" stroke="#000" stroke-width="0.7" stroke-linejoin="round"/>
<path d="M514.6,828.6 L515.6,827.3 L519.6,824.4 L520.6,820.2 L520.6,811.8 L522.6,806.8 L526.1,803.4 L528.5,803.2 L528.7,803.2 L531.1,803.4 L534.6,806.8 L536.6,811.8 L536.6,820.2 L537.6,824.4 L541.6,827.3 L542.6,828.6Z" fill="#d13e33" stroke="#000" stroke-width="0.7" stroke-linejoin="round"/>
<path d="M547.3,828.6 L548.3,827.3 L552.3,824.4 L553.3,820.2 L555.3,811.8 L558.3,805.1 L561.0,800.0 L561.6,800.0 L564.3,805.1 L567.3,811.8 L569.3,820.2 L570.3,824.4 L574.3,827.3 L575.3,828.6Z" fill="#6f9a57" stroke="#000" stroke-width="0.7" stroke-linejoin="round"/>
<path d="M584.0,828.6 L585.0,826.1 L590.0,822.7 L587.0,820.2 L582.0,816.0 L580.0,810.1 L584.0,805.1 L589.0,799.2 L593.7,795.0 L594.3,795.0 L599.0,799.2 L604.0,805.1 L608.0,810.1 L606.0,816.0 L601.0,820.2 L598.0,822.7 L603.0,826.1 L604.0,828.6Z" fill="#ece27e" stroke="#000" stroke-width="0.7" stroke-linejoin="round"/>
<path d="M616.7,828.6 L617.7,826.1 L620.7,822.7 L617.7,820.2 L612.7,815.2 L614.7,809.3 L620.7,803.4 L623.7,798.4 L626.4,795.0 L627.0,795.0 L629.7,798.4 L632.7,803.4 L638.7,809.3 L640.7,815.2 L635.7,820.2 L632.7,822.7 L635.7,826.1 L636.7,828.6Z" fill="#466982" stroke="#000" stroke-width="0.7" stroke-linejoin="round"/>
<path d="M500.5 817.5h0M489.0 806.7h0M485.8 810.3h0M507.3 821.3h0M487.4 823.7h0M501.2 804.7h0M503.2 815.2h0M491.4 822.4h0M500.1 808.8h0M491.7 813.2h0M503.6 826.8h0M491.9 817.2h0M508.8 815.0h0M507.4 827.8h0M484.7 818.3h0M502.1 805.2h0M484.5 806.4h0M489.9 809.9h0M502.9 815.5h0M493.9 812.1h0M504.4 819.7h0M491.4 819.5h0M502.3 814.9h0M497.3 811.7h0M499.4 812.4h0M509.1 817.4h0M509.2 819.9h0M486.9 809.3h0M487.2 812.7h0M503.0 824.9h0M486.8 820.3h0M509.3 809.9h0M491.6 813.2h0M489.9 815.7h0M507.8 805.4h0M508.2 818.0h0M492.9 814.9h0M506.0 818.0h0M494.1 813.1h0M501.1 816.5h0M506.1 816.8h0M494.7 811.6h0M497.0 828.5h0M501.5 804.7h0M492.5 808.9h0M490.2 820.3h0M487.9 817.1h0M509.0 809.5h0M497.5 824.3h0M490.7 802.0h0M495.6 819.4h0M508.2 816.0h0M507.9 811.5h0M494.3 817.2h0M484.5 818.1h0M507.6 818.5h0M487.9 809.7h0M490.9 821.4h0M485.6 828.1h0M490.2 818.1h0M488.8 822.5h0M485.0 825.2h0M489.6 828.1h0M494.2 821.9h0M504.6 805.1h0M495.9 814.5h0M485.5 814.3h0M497.4 818.4h0M496.3 822.9h0M483.7 810.5h0M497.3 811.6h0M492.3 808.1h0M501.2 815.0h0M496.9 804.3h0M483.9 815.0h0M508.9 814.9h0M487.0 805.0h0M487.9 804.4h0M486.6 823.3h0M489.5 822.9h0M505.2 817.9h0M498.7 821.7h0M500.0 814.8h0M499.4 816.6h0M493.9 816.9h0M485.2 820.7h0M493.0 823.9h0M497.1 821.6h0M503.8 807.3h0M499.2 815.6h0M506.3 813.3h0M504.1 807.9h0M487.9 824.1h0M491.4 810.5h0M494.6 823.4h0M488.8 811.5h0M497.5 822.5h0M487.7 818.7h0M502.5 802.1h0M498.9 816.6h0M508.9 812.4h0M489.2 827.2h0M485.3 812.2h0M497.4 815.3h0M507.2 812.5h0M505.6 814.2h0M493.4 827.6h0M503.8 807.8h0M497.1 813.5h0M504.5 807.1h0M492.9 818.0h0M495.7 812.8h0M483.4 803.2h0M485.3 806.6h0M497.2 813.0h0M486.4 802.6h0M492.9 810.8h0M496.2 828.2h0M500.8 804.6h0M507.2 822.2h0M486.9 814.3h0M500.2 811.9h0M506.8 821.2h0M505.0 825.2h0M502.9 811.5h0M498.2 826.9h0M509.3 821.6h0M493.2 819.5h0M503.0 824.2h0M504.8 813.3h0M488.4 822.2h0M501.2 815.1h0M488.7 813.9h0M483.5 821.0h0M491.3 828.5h0M486.6 814.8h0M494.9 804.5h0M498.4 812.1h0M497.0 820.1h0M493.0 815.0h0M500.3 813.8h0M490.3 809.0h0M491.5 810.5h0M500.0 826.1h0M489.1 820.9h0M505.2 806.2h0M503.0 820.1h0M490.1 802.9h0M490.3 809.6h0M483.9 804.1h0M506.1 821.3h0M498.3 809.9h0M490.2 826.1h0M508.6 819.3h0M497.5 818.8h0M508.4 827.5h0M497.0 816.4h0M489.7 817.3h0M501.0 819.9h0M507.4 824.0h0M498.4 826.5h0M502.0 811.0h0M485.0 810.4h0M483.1 813.2h0M498.1 828.0h0M505.7 810.2h0M488.7 821.7h0M505.8 817.3h0M487.3 819.7h0M503.5 803.9h0M502.3 819.5h0M505.0 820.9h0M493.2 804.6h0M492.0 820.3h0M504.8 809.8h0M497.3 805.0h0M503.9 819.1h0M507.2 821.6h0M483.3 821.5h0M485.2 816.8h0M493.8 814.9h0M495.4 812.1h0M498.1 809.7h0M485.2 817.2h0M496.0 815.1h0M501.0 812.3h0M486.7 812.6h0M491.8 803.0h0M497.9 811.0h0M487.3 822.1h0M502.2 811.2h0M488.4 824.1h0M502.4 804.5h0M488.0 806.4h0M485.2 826.8h0M506.7 827.4h0M483.3 819.5h0M490.6 817.6h0M499.1 806.6h0M497.2 815.4h0M489.4 811.9h0M503.6 825.2h0M496.0 803.0h0M491.1 809.0h0M490.8 807.4h0M489.2 817.3h0M487.4 823.3h0M503.9 816.0h0M488.0 822.8h0M488.2 811.6h0M505.6 821.7h0M497.6 816.7h0M492.8 820.7h0M484.2 817.5h0M505.0 816.4h0M492.7 816.2h0M497.6 805.1h0M494.8 806.8h0M507.6 818.2h0M499.2 820.3h0M491.9 817.0h0M508.1 825.4h0M495.6 822.4h0M492.5 826.1h0M483.6 824.9h0M490.8 823.7h0M491.8 823.9h0M487.7 827.2h0M509.4 807.8h0M483.5 813.4h0M505.9 827.9h0M486.5 827.5h0M485.4 828.8h0M482.6 828.9h0M484.9 827.8h0M488.8 828.0h0M492.1 827.6h0M503.2 827.8h0M497.9 828.0h0M496.0 827.8h0M508.5 828.2h0M495.4 828.7h0M499.4 827.6h0M492.8 827.6h0M500.1 828.5h0M494.8 828.8h0M507.2 828.5h0M483.9 828.4h0M498.4 827.7h0M484.9 828.8h0M505.4 828.4h0M506.8 828.9h0M490.8 828.8h0M493.6 828.7h0M492.6 828.6h0M509.2 828.1h0M502.1 828.7h0M505.2 827.7h0M495.8 827.9h0M501.9 827.4h0M500.1 827.6h0M491.0 828.2h0M506.2 827.8h0M496.7 828.1h0M489.7 828.2h0M491.5 827.5h0M487.8 828.2h0M492.2 828.6h0M505.7 827.9h0M498.9 829.0h0M528.0 825.1h0M523.1 808.6h0M533.2 821.5h0M534.8 824.5h0M530.3 816.3h0M528.9 827.1h0M531.8 810.6h0M522.8 809.3h0M524.3 812.9h0M539.4 814.8h0M527.6 817.1h0M523.2 809.6h0M525.8 823.6h0M534.0 813.9h0M521.7 809.3h0M516.7 811.5h0M530.2 814.8h0M536.7 821.1h0M533.5 805.9h0M523.5 820.5h0M526.4 806.1h0M534.3 821.0h0M533.8 813.1h0M537.3 818.9h0M523.6 825.5h0M529.6 807.9h0M536.2 809.0h0M535.6 805.4h0M528.7 816.1h0M537.9 819.4h0M528.2 805.4h0M525.7 808.9h0M533.7 826.6h0M527.1 818.1h0M523.9 807.6h0M538.5 821.6h0M537.7 812.5h0M523.8 816.7h0M520.7 813.1h0M540.4 804.6h0M534.8 808.3h0M534.4 818.8h0M521.3 808.6h0M518.3 814.5h0M522.8 817.8h0M522.3 807.2h0M540.6 815.2h0M517.9 814.3h0M516.9 807.6h0M517.4 816.2h0M519.4 806.7h0M529.8 823.3h0M540.3 808.1h0M518.2 826.0h0M529.1 807.4h0M539.2 809.7h0M518.9 821.7h0M517.9 805.3h0M539.7 808.0h0M519.3 812.6h0M523.7 828.2h0M521.5 827.4h0M531.8 827.8h0M540.5 827.9h0M541.4 828.2h0M515.3 827.5h0M532.6 828.9h0M532.1 828.5h0M515.8 828.0h0M526.5 827.5h0M527.1 828.2h0M518.5 827.9h0M526.1 828.7h0M539.7 828.0h0M532.6 828.1h0M524.6 828.8h0M522.3 827.5h0M530.7 828.6h0M523.0 828.1h0M520.3 828.5h0M526.3 827.7h0M522.0 828.9h0M531.1 827.6h0M520.9 827.8h0M533.3 828.3h0M531.1 827.7h0M518.2 828.0h0M539.6 829.0h0M517.5 828.1h0M525.3 828.5h0M571.1 817.3h0M548.0 826.8h0M573.1 812.9h0M569.1 827.5h0M568.0 811.9h0M569.0 827.2h0M560.9 805.6h0M567.8 823.4h0M553.0 812.0h0M568.0 825.2h0M570.4 814.7h0M570.5 821.8h0M560.9 813.6h0M548.1 825.2h0M549.8 808.6h0M554.4 815.3h0M554.4 817.7h0M559.9 802.3h0M551.4 822.6h0M564.0 801.3h0M567.6 817.9h0M563.3 817.9h0M573.0 817.4h0M552.4 820.5h0M571.6 812.3h0M573.3 820.4h0M552.9 813.3h0M571.1 827.0h0M554.1 825.6h0M550.9 823.6h0M567.7 814.3h0M570.9 802.7h0M564.4 819.4h0M558.8 814.7h0M562.9 814.5h0M573.0 816.9h0M558.9 810.7h0M561.6 818.3h0M557.5 812.5h0M552.8 809.6h0M555.1 819.5h0M568.4 817.0h0M566.0 816.1h0M552.5 813.8h0M563.2 820.3h0M548.6 806.5h0M551.0 828.5h0M566.0 818.1h0M574.5 821.7h0M564.4 816.6h0M555.4 818.3h0M560.7 817.8h0M561.9 815.6h0M556.8 807.2h0M570.1 808.4h0M566.1 817.7h0M563.4 820.0h0M568.2 809.3h0M571.9 813.6h0M570.7 825.8h0M566.9 811.7h0M556.5 812.8h0M570.9 808.3h0M569.8 811.1h0M569.5 804.5h0M553.4 821.6h0M558.5 820.5h0M572.2 814.8h0M549.9 811.1h0M558.9 812.4h0M550.7 816.5h0M569.7 802.3h0M550.7 825.3h0M564.0 811.9h0M564.1 805.8h0M568.3 819.3h0M551.8 801.8h0M563.2 824.5h0M559.3 816.5h0M558.7 815.9h0M550.1 816.0h0M566.0 809.6h0M566.4 826.9h0M565.9 809.2h0M550.0 820.5h0M570.5 808.7h0M554.2 819.3h0M560.7 822.3h0M562.4 817.0h0M558.4 813.0h0M566.8 823.7h0M571.7 811.8h0M553.2 824.4h0M567.3 814.2h0M549.9 814.7h0M563.4 806.3h0M551.4 817.7h0M569.6 804.8h0M554.2 822.4h0M564.2 815.5h0M558.8 812.2h0M562.6 823.4h0M567.9 810.3h0M569.4 823.3h0M551.3 821.8h0M556.9 806.2h0M553.0 822.6h0M551.4 803.4h0M555.7 826.0h0M566.3 823.1h0M572.3 809.0h0M563.8 818.0h0M573.4 814.6h0M553.0 820.5h0M556.5 822.3h0M563.4 803.9h0M567.8 817.2h0M568.7 806.8h0M556.7 813.2h0M551.7 803.8h0M552.2 812.3h0M558.6 811.3h0M562.1 802.2h0M560.3 818.3h0M571.5 820.8h0M551.3 818.1h0M554.9 819.2h0M566.6 804.5h0M550.9 823.5h0M548.9 808.3h0M564.1 815.6h0M548.4 825.2h0M561.1 809.5h0M572.3 813.0h0M551.5 809.9h0M568.3 824.6h0M563.9 812.2h0M554.5 810.0h0M551.3 817.1h0M569.1 802.9h0M558.9 811.1h0M572.2 820.0h0M561.0 828.2h0M549.6 814.5h0M558.3 808.2h0M570.6 822.8h0M569.5 810.8h0M554.9 808.8h0M557.2 819.8h0M559.1 813.9h0M573.8 805.7h0M571.6 814.5h0M568.7 812.4h0M574.3 826.3h0M565.3 819.1h0M557.2 809.3h0M573.6 812.9h0M560.9 817.9h0M570.5 816.0h0M548.3 820.6h0M570.9 821.5h0M559.5 826.1h0M571.4 820.4h0M557.7 805.4h0M554.0 822.7h0M563.9 819.8h0M551.5 826.4h0M566.4 809.9h0M567.3 810.7h0M569.8 818.1h0M552.7 806.7h0M549.1 813.5h0M550.6 824.8h0M563.4 822.3h0M563.1 823.8h0M573.9 816.4h0M560.3 823.8h0M561.2 817.9h0M564.3 819.8h0M560.1 818.1h0M569.2 801.0h0M567.8 827.8h0M552.8 821.3h0M553.0 815.2h0M552.5 824.3h0M572.9 816.3h0M556.9 825.0h0M548.9 819.9h0M553.6 813.4h0M568.4 811.6h0M573.8 814.7h0M560.3 817.3h0M548.4 815.6h0M549.3 811.2h0M549.1 816.7h0M564.9 810.7h0M564.0 816.4h0M562.9 821.7h0M560.4 806.3h0M553.0 813.7h0M558.6 816.4h0M563.4 821.7h0M549.2 820.6h0M568.5 812.6h0M573.4 807.2h0M548.4 814.3h0M573.3 810.3h0M562.4 821.2h0M570.5 812.5h0M550.8 803.4h0M560.5 808.6h0M556.7 814.3h0M551.0 808.1h0M566.2 817.9h0M570.2 818.9h0M574.3 808.8h0M560.9 808.8h0M568.7 811.6h0M558.9 813.1h0M570.5 820.2h0M553.6 808.4h0M549.0 819.1h0M560.8 812.1h0M550.4 814.5h0M570.6 806.6h0M550.1 822.4h0M561.3 826.3h0M558.8 813.8h0M565.0 816.0h0M560.2 806.5h0M569.9 819.7h0M573.6 825.7h0M555.1 822.6h0M574.7 821.4h0M568.2 810.6h0M550.8 806.0h0M547.9 812.2h0M560.4 826.1h0M555.9 816.4h0M561.3 803.7h0M550.5 827.0h0M554.1 821.2h0M566.3 807.7h0M555.0 820.4h0M573.5 824.3h0M549.5 813.8h0M560.2 820.5h0M571.3 821.8h0M553.6 823.9h0M561.5 824.0h0M554.5 819.7h0M549.3 803.6h0M567.8 810.1h0M574.2 809.1h0M549.7 811.1h0M566.4 805.0h0M569.6 809.7h0M552.0 806.2h0M570.1 822.1h0M568.7 821.7h0M567.0 828.1h0M561.1 828.9h0M566.2 828.5h0M560.1 828.5h0M553.9 827.6h0M561.0 828.3h0M547.9 827.9h0M559.8 829.0h0M557.1 827.4h0M571.0 828.8h0M562.9 828.8h0M553.2 827.9h0M559.6 828.0h0M559.6 828.6h0M564.1 828.2h0M551.7 827.4h0M558.7 828.7h0M562.0 828.1h0M572.2 828.8h0M569.0 827.5h0M571.9 827.9h0M566.5 828.0h0M550.6 827.4h0M553.3 827.6h0M564.3 828.9h0M553.9 827.8h0M548.5 828.8h0M563.0 828.0h0M561.3 828.7h0M571.3 827.9h0M573.2 828.1h0M572.1 828.7h0M552.7 827.8h0M568.2 827.8h0M555.1 828.7h0M561.0 827.4h0M552.0 828.0h0M551.8 827.9h0M559.8 827.5h0M548.8 827.7h0M597.4 801.5h0M602.4 825.1h0M584.9 821.0h0M591.5 795.4h0M589.7 796.0h0M599.6 819.9h0M601.1 828.0h0M590.4 817.8h0M582.4 808.3h0M599.1 811.8h0M590.4 803.7h0M602.3 815.0h0M602.5 810.8h0M591.3 799.2h0M585.9 814.4h0M593.9 817.2h0M605.4 808.7h0M602.2 800.4h0M591.9 822.7h0M589.9 811.5h0M605.7 815.8h0M585.2 819.8h0M602.9 806.3h0M606.5 806.9h0M593.5 814.6h0M583.9 819.3h0M604.3 816.2h0M599.2 807.7h0M603.9 803.3h0M588.2 797.5h0M591.3 813.6h0M597.7 817.0h0M605.6 809.5h0M592.2 818.7h0M590.2 812.6h0M593.6 814.0h0M600.5 798.4h0M601.6 817.9h0M600.9 803.9h0M583.4 810.1h0M605.0 807.0h0M580.8 817.3h0M587.1 813.1h0M600.1 817.7h0M589.1 806.0h0M587.9 806.6h0M581.8 824.3h0M599.2 811.6h0M597.8 815.9h0M587.9 810.0h0M593.0 821.7h0M607.0 815.9h0M600.0 815.3h0M581.8 800.4h0M584.3 809.1h0M587.6 810.8h0M589.1 821.1h0M602.3 798.4h0M580.8 809.3h0M604.3 826.7h0M581.6 808.1h0M585.4 810.9h0M590.9 806.7h0M603.7 814.9h0M599.9 816.4h0M588.2 810.0h0M595.3 825.6h0M596.8 817.3h0M605.0 810.1h0M580.8 798.9h0M597.7 817.8h0M599.0 815.1h0M594.4 809.0h0M586.4 810.7h0M586.7 813.2h0M601.1 820.3h0M602.7 812.9h0M588.2 811.3h0M599.2 811.4h0M601.8 795.6h0M605.2 799.6h0M603.2 822.4h0M604.4 822.4h0M586.7 820.8h0M592.9 815.8h0M584.8 822.7h0M585.1 813.0h0M600.7 807.0h0M606.0 812.0h0M581.7 812.8h0M606.9 809.6h0M585.5 796.0h0M600.2 822.1h0M589.0 807.2h0M588.6 817.7h0M606.5 812.1h0M588.8 818.4h0M604.9 811.7h0M585.0 802.4h0M602.0 826.0h0M586.8 822.3h0M587.2 803.8h0M589.3 802.3h0M594.8 807.8h0M590.8 802.9h0M581.7 826.0h0M599.5 816.1h0M598.6 799.0h0M602.5 825.6h0M602.1 812.7h0M585.6 802.6h0M584.3 795.7h0M587.5 812.1h0M587.5 806.5h0M606.1 816.3h0M598.2 813.6h0M589.5 818.1h0M592.2 799.3h0M591.0 815.6h0M585.2 824.4h0M602.1 813.6h0M601.8 810.2h0M582.7 823.8h0M584.8 809.6h0M591.1 813.1h0M604.6 812.8h0M585.2 820.2h0M603.4 824.2h0M586.2 816.6h0M580.5 825.8h0M586.6 804.1h0M590.7 815.0h0M582.3 806.0h0M591.4 797.9h0M585.0 803.1h0M590.6 795.6h0M588.3 827.3h0M592.0 802.5h0M598.0 804.8h0M592.8 801.8h0M598.0 799.6h0M600.4 805.6h0M598.5 827.8h0M600.9 821.1h0M587.4 818.4h0M590.7 823.1h0M596.1 805.3h0M602.2 816.1h0M584.1 807.8h0M583.6 823.2h0M587.8 799.0h0M581.2 811.3h0M589.7 815.6h0M603.9 817.8h0M583.7 803.2h0M585.7 802.3h0M594.0 806.1h0M583.9 808.4h0M605.8 821.7h0M584.8 805.3h0M596.8 814.1h0M591.4 822.0h0M586.6 795.2h0M597.1 814.4h0M588.7 820.9h0M586.6 816.2h0M583.6 813.8h0M602.0 822.1h0M600.2 804.1h0M585.6 807.2h0M600.4 811.4h0M601.4 822.0h0M597.8 812.7h0M602.4 809.4h0M594.6 811.0h0M584.5 821.5h0M596.1 810.9h0M599.3 806.5h0M603.7 806.1h0M595.9 795.8h0M604.6 809.8h0M591.0 816.6h0M601.0 809.8h0M584.7 804.2h0M586.7 811.0h0M599.4 807.1h0M590.0 826.3h0M586.5 809.1h0M596.7 804.9h0M605.5 817.4h0M593.9 806.1h0M597.9 811.8h0M606.6 801.7h0M589.5 801.2h0M593.9 820.2h0M592.7 806.1h0M587.8 801.6h0M605.0 827.0h0M594.1 808.9h0M599.6 812.9h0M584.8 816.4h0M604.4 805.3h0M606.3 817.7h0M583.1 799.8h0M589.5 803.7h0M600.1 810.4h0M591.6 822.9h0M600.5 804.7h0M594.7 812.2h0M595.5 805.2h0M590.0 816.0h0M599.7 810.8h0M599.0 814.9h0M607.3 825.6h0M596.3 825.1h0M601.2 815.0h0M601.0 819.3h0M586.7 796.3h0M593.7 820.3h0M593.9 801.4h0M601.4 815.4h0M607.1 809.3h0M581.7 809.1h0M606.3 815.2h0M606.3 802.5h0M607.4 820.7h0M586.0 820.9h0M600.1 800.8h0M602.8 801.8h0M581.0 802.3h0M582.9 808.8h0M603.7 825.0h0M600.7 819.4h0M590.3 826.6h0M604.2 821.7h0M605.6 821.3h0M589.3 799.1h0M599.1 825.2h0M587.4 801.4h0M606.8 799.3h0M604.3 827.9h0M594.5 806.5h0M597.0 811.7h0M599.0 813.0h0M583.0 798.8h0M582.0 798.1h0M603.6 822.1h0M604.8 816.0h0M605.3 805.0h0M585.4 797.8h0M589.7 800.8h0M599.2 796.6h0M602.8 813.4h0M588.8 812.8h0M593.0 804.6h0M582.9 819.4h0M582.4 809.9h0M604.2 820.7h0M586.8 803.9h0M592.3 807.4h0M582.4 820.2h0M600.6 817.1h0M587.2 809.9h0M600.9 803.2h0M586.3 805.9h0M603.6 798.1h0M586.1 809.0h0M604.1 818.8h0M594.2 815.7h0M602.1 810.5h0M588.5 805.4h0M593.3 818.5h0M600.7 798.7h0M581.0 804.2h0M581.3 823.8h0M596.0 819.4h0M607.2 821.5h0M593.1 807.2h0M603.6 812.5h0M584.7 821.4h0M601.1 827.9h0M590.7 827.6h0M594.5 828.1h0M588.9 828.1h0M607.1 828.5h0M590.1 827.7h0M596.8 828.1h0M597.3 828.2h0M592.9 828.1h0M605.0 828.8h0M585.7 827.6h0M584.5 827.7h0M585.7 829.0h0M595.2 828.3h0M581.2 828.6h0M585.5 828.9h0M581.6 827.4h0M594.5 827.8h0M595.6 828.8h0M588.9 828.2h0M599.9 828.2h0M602.4 828.3h0M588.6 827.5h0M586.6 828.7h0M582.6 827.8h0M596.2 828.1h0M599.0 827.9h0M598.2 827.5h0M605.4 827.8h0M587.5 828.5h0M624.7 816.6h0M621.1 809.5h0M635.1 802.2h0M617.9 805.6h0M633.9 827.2h0M629.5 814.8h0M616.3 810.5h0M615.5 800.6h0M621.2 813.2h0M633.6 813.7h0M628.4 804.5h0M627.6 816.1h0M625.5 822.6h0M628.8 813.8h0M626.7 797.3h0M630.7 807.7h0M632.9 810.3h0M621.0 804.1h0M634.7 802.6h0M624.9 820.2h0M638.5 808.2h0M621.3 808.3h0M614.8 815.6h0M628.9 815.3h0M635.2 797.3h0M633.7 816.9h0M619.8 815.7h0M616.7 803.2h0M632.5 808.4h0M636.0 822.4h0M615.5 805.7h0M636.1 802.8h0M618.2 821.7h0M629.2 818.9h0M635.9 818.4h0M638.3 827.5h0M638.0 811.3h0M624.9 823.3h0M628.5 824.5h0M623.3 818.0h0M613.7 811.1h0M626.5 817.5h0M623.0 827.7h0M614.1 807.0h0M626.9 800.8h0M620.9 802.6h0M628.6 827.7h0M637.0 807.9h0M631.5 807.7h0M621.6 819.4h0M615.1 824.6h0M630.6 798.5h0M633.8 802.9h0M633.3 815.2h0M613.7 826.8h0M623.0 817.1h0M639.5 818.7h0M634.0 817.0h0M618.8 822.9h0M613.2 822.1h0M621.4 814.3h0M618.2 809.4h0M618.2 811.3h0M623.9 826.6h0M623.4 813.0h0M618.2 815.5h0M614.2 809.4h0M634.3 802.6h0M627.2 820.6h0M638.4 816.7h0M630.0 820.8h0M618.9 828.4h0M633.7 799.3h0M622.3 821.5h0M634.1 818.7h0M617.9 814.9h0M638.1 816.5h0M623.1 825.0h0M625.3 800.2h0M632.0 795.1h0M632.6 802.7h0M623.7 820.7h0M620.7 825.0h0M620.0 809.5h0M630.5 826.1h0M621.3 815.5h0M637.3 799.5h0M616.2 803.6h0M617.9 824.1h0M617.4 811.8h0M616.5 809.8h0M628.1 820.0h0M625.2 808.6h0M623.1 820.6h0M640.1 804.2h0M638.7 811.6h0M615.3 798.4h0M627.1 809.4h0M632.6 804.4h0M627.9 816.0h0M618.7 795.5h0M633.7 820.9h0M637.0 819.1h0M625.3 821.9h0M637.1 810.1h0M628.5 806.8h0M620.7 808.3h0M626.8 819.2h0M639.6 804.0h0M631.7 820.9h0M629.6 821.4h0M619.7 816.9h0M617.9 819.1h0M638.7 797.9h0M632.9 820.1h0M619.1 801.5h0M626.8 818.0h0M622.3 820.4h0M624.6 809.3h0M621.0 820.5h0M628.6 821.8h0M634.7 819.2h0M619.3 807.1h0M620.7 796.9h0M613.6 812.5h0M625.7 805.5h0M629.1 814.0h0M638.0 801.9h0M635.5 809.7h0M635.4 828.2h0M631.0 805.7h0M621.3 802.7h0M614.3 811.8h0M640.1 825.8h0M636.5 821.7h0M634.7 815.8h0M620.9 820.4h0M628.7 806.1h0M625.6 801.3h0M616.4 818.4h0M617.4 806.0h0M623.5 807.0h0M631.9 810.7h0M632.2 810.3h0M624.7 820.0h0M617.8 801.5h0M623.5 807.6h0M626.4 816.6h0M624.8 827.7h0M631.9 826.8h0M637.3 818.9h0M614.1 814.5h0M614.9 816.7h0M637.1 807.6h0M635.2 826.1h0M625.0 821.2h0M639.3 827.5h0M619.4 820.0h0M629.4 809.2h0M618.6 814.0h0M616.3 816.2h0M632.5 818.6h0M625.4 816.5h0M635.9 798.1h0M622.0 818.9h0M632.7 815.1h0M629.3 812.7h0M627.9 808.2h0M637.1 810.0h0M638.8 811.1h0M614.8 823.2h0M625.9 819.4h0M638.6 821.3h0M619.7 816.5h0M624.6 808.0h0M621.5 827.3h0M614.0 823.6h0M615.4 809.6h0M635.3 828.1h0M629.4 825.1h0M621.5 804.3h0M623.9 811.2h0M629.9 808.0h0M620.4 806.4h0M621.1 813.1h0M628.4 795.4h0M633.2 820.9h0M614.4 814.1h0M619.8 815.7h0M639.1 799.8h0M617.8 819.4h0M626.7 824.4h0M632.9 805.2h0M620.3 806.3h0M633.3 819.7h0M629.3 809.3h0M614.6 796.8h0M630.1 819.4h0M616.0 819.5h0M629.5 803.5h0M619.9 826.2h0M626.2 820.9h0M613.3 810.2h0M615.8 805.2h0M633.0 813.2h0M623.0 799.5h0M626.0 811.2h0M633.3 823.3h0M613.6 809.2h0M626.2 810.2h0M615.3 821.0h0M620.5 813.8h0M623.4 807.5h0M626.3 827.3h0M618.1 802.5h0M635.3 810.7h0M629.1 823.9h0M640.0 813.1h0M620.0 815.4h0M629.8 815.7h0M621.6 821.3h0M619.7 809.0h0M637.5 812.1h0M632.8 808.6h0M618.5 818.9h0M618.7 809.3h0M627.4 824.8h0M623.2 813.2h0M618.9 819.6h0M623.6 816.2h0M616.1 809.0h0M635.2 821.1h0M618.2 810.3h0M632.8 815.9h0M616.6 804.1h0M628.2 805.6h0M630.5 817.8h0M635.1 802.4h0M635.2 825.8h0M619.2 816.5h0M615.5 812.7h0M617.9 818.4h0M622.2 804.7h0M616.2 816.5h0M636.6 810.9h0M637.1 807.2h0M616.8 814.9h0M615.2 820.0h0M620.4 811.6h0M634.9 820.1h0M632.4 823.3h0M619.3 822.9h0M616.9 809.8h0M635.8 795.4h0M618.1 805.4h0M624.2 816.9h0M628.6 816.3h0M614.7 815.4h0M630.2 800.6h0M639.2 807.4h0M616.8 827.7h0M635.8 828.1h0M629.8 828.5h0M638.8 828.3h0M634.6 828.7h0M619.8 827.7h0M615.1 828.4h0M625.4 828.0h0M633.5 828.9h0M625.6 827.9h0M638.8 828.8h0M628.7 828.1h0M638.3 828.9h0M623.5 828.5h0M632.6 827.4h0M614.2 829.0h0M614.4 827.8h0M632.7 827.4h0M630.6 828.4h0M625.1 828.9h0M639.9 828.3h0M625.4 828.2h0M637.4 827.8h0M627.4 827.8h0M639.9 828.5h0M614.9 828.4h0M630.1 828.5h0M634.3 827.7h0M629.6 827.6h0M638.3 828.4h0" stroke="#000" stroke-width="1.80" stroke-linecap="round" fill="none"/>
<line x1="476.90" y1="794.10" x2="476.90" y2="830.70" stroke="#000" stroke-width="1.4"/>
<line x1="476.20" y1="830.00" x2="647.70" y2="830.00" stroke="#000" stroke-width="1.4"/>
<line x1="472.70" y1="828.60" x2="476.90" y2="828.60" stroke="#000" stroke-width="1.3"/>
<text x="469.30" y="831.20" font-size="7.4" text-anchor="end" fill="#111" stroke="#111" stroke-width="0.2">0</text>
<line x1="472.70" y1="820.20" x2="476.90" y2="820.20" stroke="#000" stroke-width="1.3"/>
<text x="469.30" y="822.80" font-size="7.4" text-anchor="end" fill="#111" stroke="#111" stroke-width="0.2">1</text>
<line x1="472.70" y1="811.80" x2="476.90" y2="811.80" stroke="#000" stroke-width="1.3"/>
<text x="469.30" y="814.40" font-size="7.4" text-anchor="end" fill="#111" stroke="#111" stroke-width="0.2">2</text>
<line x1="472.70" y1="803.40" x2="476.90" y2="803.40" stroke="#000" stroke-width="1.3"/>
<text x="469.30" y="806.00" font-size="7.4" text-anchor="end" fill="#111" stroke="#111" stroke-width="0.2">3</text>
<line x1="472.70" y1="795.00" x2="476.90" y2="795.00" stroke="#000" stroke-width="1.3"/>
<text x="469.30" y="797.60" font-size="7.4" text-anchor="end" fill="#111" stroke="#111" stroke-width="0.2">4</text>
<line x1="495.90" y1="830.00" x2="495.90" y2="833.60" stroke="#000" stroke-width="1.1"/>
<text x="495.90" y="844.10" font-size="8.1" text-anchor="middle" fill="#111" stroke="#111" stroke-width="0.2">1</text>
<line x1="528.60" y1="830.00" x2="528.60" y2="833.60" stroke="#000" stroke-width="1.1"/>
<text x="528.60" y="844.10" font-size="8.1" text-anchor="middle" fill="#111" stroke="#111" stroke-width="0.2">2</text>
<line x1="561.30" y1="830.00" x2="561.30" y2="833.60" stroke="#000" stroke-width="1.1"/>
<text x="561.30" y="844.10" font-size="8.1" text-anchor="middle" fill="#111" stroke="#111" stroke-width="0.2">3</text>
<line x1="594.00" y1="830.00" x2="594.00" y2="833.60" stroke="#000" stroke-width="1.1"/>
<text x="594.00" y="844.10" font-size="8.1" text-anchor="middle" fill="#111" stroke="#111" stroke-width="0.2">4</text>
<line x1="626.70" y1="830.00" x2="626.70" y2="833.60" stroke="#000" stroke-width="1.1"/>
<text x="626.70" y="844.10" font-size="8.1" text-anchor="middle" fill="#111" stroke="#111" stroke-width="0.2">5</text>
</svg></body></html>
